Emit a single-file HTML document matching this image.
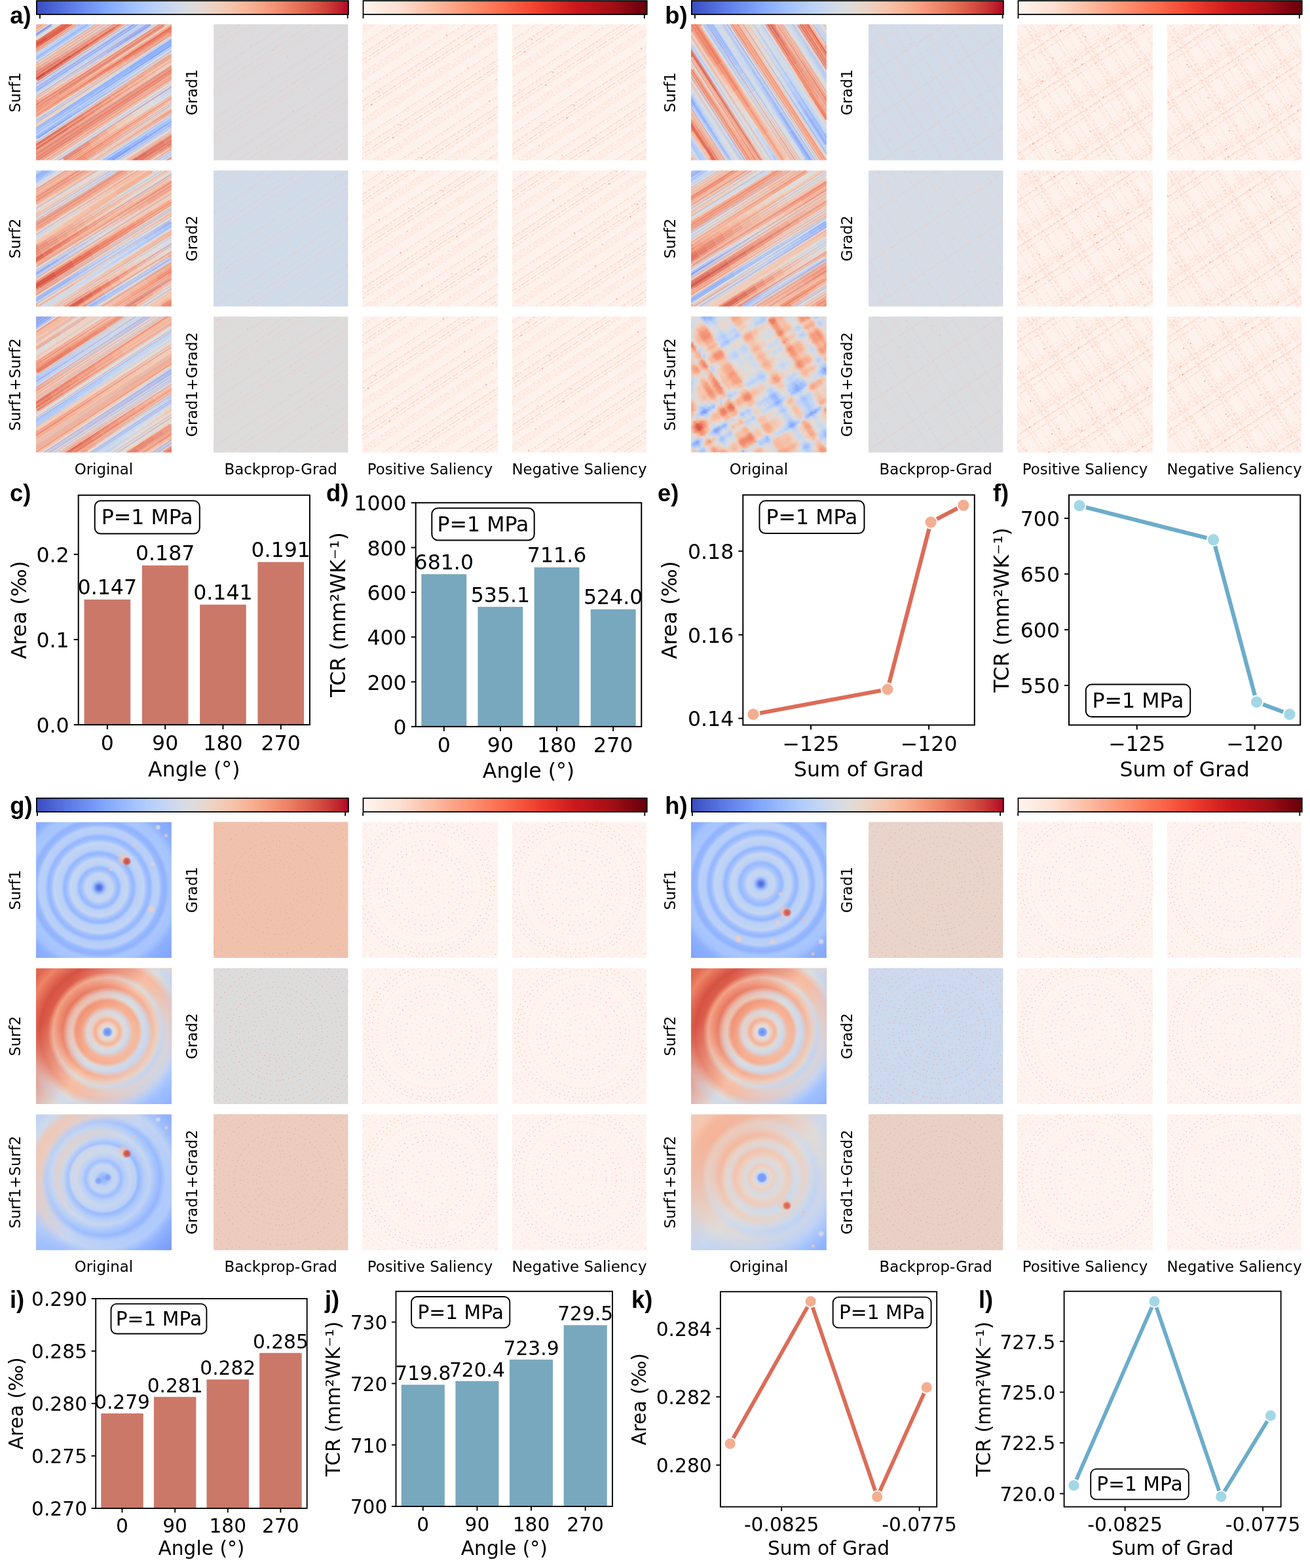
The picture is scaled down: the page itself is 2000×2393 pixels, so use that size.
<!DOCTYPE html>
<html><head><meta charset="utf-8"><title>Figure</title><style>html,body{margin:0;padding:0;background:#fff;}svg{display:block;}</style></head><body>
<svg xmlns="http://www.w3.org/2000/svg" width="2000" height="2393" viewBox="0 0 2000 2393">
<defs><pattern id="pt_la" patternUnits="userSpaceOnUse" width="240.0" height="60.0" patternTransform="rotate(-33.0)"><path d="M0 9.90H240.0" stroke="#fcc4ad" stroke-width="0.82" stroke-dasharray="3.4 1.5 5.0 3.4 3.6 2.4 2.2 0.8 2.9 2.7 1.3 3.3" stroke-dashoffset="4.6"/><path d="M0 13.96H240.0" stroke="#fee5d8" stroke-width="0.72" stroke-dasharray="6.0 3.3 3.0 2.2 5.8 2.5 4.5 2.9 5.7 0.9 4.7 1.1" stroke-dashoffset="16.2"/><path d="M0 1.17H240.0" stroke="#fedccd" stroke-width="0.78" stroke-dasharray="2.7 2.4 1.9 0.9 5.3 1.6 4.9 1.5 5.8 3.7 4.8 3.2" stroke-dashoffset="11.6"/><path d="M0 43.79H240.0" stroke="#fee5d8" stroke-width="0.78" stroke-dasharray="3.8 2.0 2.7 1.3 3.7 1.7 5.8 2.4 2.6 2.4 2.3 3.5" stroke-dashoffset="3.2"/><path d="M0 42.96H240.0" stroke="#fcc4ad" stroke-width="0.50" stroke-dasharray="1.4 2.7 3.6 2.6 2.6 3.9 1.6 2.9 4.1 3.5 2.7 3.2" stroke-dashoffset="18.6"/><path d="M0 14.75H240.0" stroke="#fedccd" stroke-width="0.53" stroke-dasharray="5.1 3.3 2.9 3.0 4.4 3.7 5.8 2.1 5.9 3.9 4.0 3.6" stroke-dashoffset="9.8"/><path d="M0 22.53H240.0" stroke="#fedccd" stroke-width="0.97" stroke-dasharray="2.2 2.6 3.2 2.1 4.7 1.0 2.4 3.5 4.3 0.9 2.2 2.1" stroke-dashoffset="17.4"/><path d="M0 38.73H240.0" stroke="#fedccd" stroke-width="0.99" stroke-dasharray="4.7 2.3 2.3 3.9 3.6 3.1 1.1 1.5 5.2 3.3 5.4 2.7" stroke-dashoffset="8.5"/><path d="M0 34.87H240.0" stroke="#fcc4ad" stroke-width="0.65" stroke-dasharray="3.7 1.7 4.8 0.8 4.4 3.9 1.1 2.7 4.2 3.5 3.9 1.6" stroke-dashoffset="8.1"/><path d="M0 57.52H240.0" stroke="#fedccd" stroke-width="0.57" stroke-dasharray="1.5 1.1 1.1 2.2 1.7 3.6 4.3 1.2 3.7 1.8 3.5 1.5" stroke-dashoffset="3.3"/><path d="M0 11.04H240.0" stroke="#fcc4ad" stroke-width="0.60" stroke-dasharray="4.7 3.2 4.0 2.4 4.7 1.0 5.6 2.0 5.3 2.1 3.8 3.5" stroke-dashoffset="4.7"/><path d="M0 57.84H240.0" stroke="#fcb296" stroke-width="0.66" stroke-dasharray="1.2 2.0 2.5 3.7 2.5 2.4 3.7 3.8 1.5 2.7 3.5 3.2" stroke-dashoffset="19.3"/><path d="M0 18.61H240.0" stroke="#fcb296" stroke-width="0.76" stroke-dasharray="3.8 1.0 5.1 3.9 2.8 1.8 6.0 1.1 1.4 1.0 5.1 3.2" stroke-dashoffset="9.0"/><path d="M0 37.28H240.0" stroke="#fee5d8" stroke-width="0.84" stroke-dasharray="4.5 2.3 3.6 3.6 1.4 0.9 4.3 0.9 2.4 2.7 3.0 2.2" stroke-dashoffset="16.0"/><path d="M0 23.94H240.0" stroke="#fdd0bc" stroke-width="0.74" stroke-dasharray="4.2 3.9 1.4 2.3 3.5 3.1 5.5 3.3 4.1 3.2 4.3 3.5" stroke-dashoffset="14.0"/><path d="M0 40.98H240.0" stroke="#fedccd" stroke-width="0.74" stroke-dasharray="3.5 1.8 2.9 2.5 4.6 3.7 1.8 1.4 5.4 3.1 1.5 1.4" stroke-dashoffset="10.4"/><rect x="147.9" y="22.0" width="1.5" height="1.5" fill="#fb694a"/><rect x="110.3" y="6.3" width="1.5" height="1.5" fill="#fcab8f"/><rect x="167.9" y="12.0" width="1.5" height="1.5" fill="#fc8a6a"/><rect x="88.7" y="34.0" width="1.5" height="1.5" fill="#fcab8f"/><rect x="62.2" y="55.6" width="1.5" height="1.5" fill="#fc8a6a"/></pattern>
<pattern id="pt_lb1" patternUnits="userSpaceOnUse" width="240.0" height="60.0" patternTransform="rotate(-33.0)"><path d="M0 57.49H240.0" stroke="#fedccd" stroke-width="0.62" stroke-dasharray="4.1 2.2 4.5 3.2 5.4 3.3 1.4 1.7 1.2 3.9 1.9 2.6" stroke-dashoffset="14.7"/><path d="M0 25.80H240.0" stroke="#fee5d8" stroke-width="0.79" stroke-dasharray="1.1 1.6 3.1 1.4 1.6 2.5 4.6 3.9 5.8 1.0 2.6 1.9" stroke-dashoffset="3.7"/><path d="M0 23.59H240.0" stroke="#fcb296" stroke-width="0.57" stroke-dasharray="5.1 2.9 1.9 1.0 3.7 0.9 5.6 2.4 3.6 2.1 4.3 3.7" stroke-dashoffset="6.1"/><path d="M0 22.43H240.0" stroke="#fcb296" stroke-width="0.51" stroke-dasharray="3.9 2.6 3.6 3.2 5.5 2.2 1.5 2.2 1.5 3.3 1.3 3.5" stroke-dashoffset="3.9"/><path d="M0 14.32H240.0" stroke="#fee5d8" stroke-width="0.55" stroke-dasharray="5.5 1.3 3.7 1.9 2.6 1.9 2.0 0.9 3.7 3.3 4.2 1.4" stroke-dashoffset="13.9"/><path d="M0 3.13H240.0" stroke="#fcc4ad" stroke-width="0.56" stroke-dasharray="1.7 2.7 1.2 1.2 4.5 1.2 2.4 3.0 5.3 2.3 1.3 3.1" stroke-dashoffset="19.1"/><path d="M0 6.65H240.0" stroke="#fcb296" stroke-width="0.63" stroke-dasharray="1.6 1.4 2.8 1.0 1.5 2.8 4.0 3.0 1.9 1.0 2.0 3.0" stroke-dashoffset="19.9"/><path d="M0 32.07H240.0" stroke="#fcc4ad" stroke-width="0.93" stroke-dasharray="1.9 1.7 1.5 2.3 2.0 1.9 4.7 3.8 5.2 0.9 2.9 3.5" stroke-dashoffset="0.7"/><path d="M0 12.19H240.0" stroke="#fcc4ad" stroke-width="0.82" stroke-dasharray="1.2 3.0 3.1 1.6 5.4 1.2 5.6 3.8 3.8 1.4 5.8 1.8" stroke-dashoffset="0.6"/><path d="M0 9.50H240.0" stroke="#fdd0bc" stroke-width="0.52" stroke-dasharray="3.4 0.9 4.8 0.8 4.2 4.0 5.2 1.5 3.7 1.2 2.7 3.6" stroke-dashoffset="16.4"/><rect x="2.2" y="22.2" width="1.5" height="1.5" fill="#fb694a"/><rect x="25.6" y="49.5" width="1.5" height="1.5" fill="#fb694a"/><rect x="131.5" y="21.2" width="1.5" height="1.5" fill="#fb694a"/></pattern>
<pattern id="pt_lb2" patternUnits="userSpaceOnUse" width="240.0" height="60.0" patternTransform="rotate(57.0)"><path d="M0 55.49H240.0" stroke="#fdd0bc" stroke-width="0.95" stroke-dasharray="1.4 2.7 3.1 2.5 1.7 1.4 3.2 1.5 3.3 0.9 1.4 3.1" stroke-dashoffset="8.4"/><path d="M0 30.76H240.0" stroke="#fcc4ad" stroke-width="0.68" stroke-dasharray="1.3 3.3 3.9 2.9 4.1 3.9 2.8 3.2 2.8 2.6 4.3 1.8" stroke-dashoffset="1.7"/><path d="M0 28.44H240.0" stroke="#fcc4ad" stroke-width="0.80" stroke-dasharray="3.2 2.9 1.9 1.4 2.6 3.4 2.0 1.2 1.5 0.9 2.4 2.6" stroke-dashoffset="16.4"/><path d="M0 19.85H240.0" stroke="#fdd0bc" stroke-width="0.95" stroke-dasharray="3.7 3.7 3.3 1.5 1.7 2.8 1.6 3.3 3.5 1.9 1.7 3.2" stroke-dashoffset="2.0"/><path d="M0 22.98H240.0" stroke="#fcc4ad" stroke-width="0.99" stroke-dasharray="1.3 2.1 1.1 3.4 4.4 3.9 5.0 3.8 3.7 4.0 4.7 1.9" stroke-dashoffset="19.5"/><path d="M0 22.62H240.0" stroke="#fedccd" stroke-width="0.52" stroke-dasharray="2.3 2.6 4.8 2.3 2.5 1.1 3.8 2.9 4.5 2.6 2.2 1.1" stroke-dashoffset="3.3"/><path d="M0 0.71H240.0" stroke="#fdd0bc" stroke-width="0.83" stroke-dasharray="3.1 1.3 4.1 3.4 1.3 3.9 5.5 3.2 3.7 2.2 2.5 3.6" stroke-dashoffset="12.2"/><path d="M0 3.09H240.0" stroke="#fdd0bc" stroke-width="0.55" stroke-dasharray="4.2 1.9 3.8 3.5 2.2 3.8 1.4 2.6 3.7 1.6 3.8 2.3" stroke-dashoffset="9.0"/><path d="M0 43.10H240.0" stroke="#fee5d8" stroke-width="0.67" stroke-dasharray="1.1 3.9 4.7 2.1 5.0 0.9 4.3 3.2 5.8 2.1 2.4 2.7" stroke-dashoffset="19.8"/><path d="M0 43.23H240.0" stroke="#fedccd" stroke-width="0.76" stroke-dasharray="2.5 3.7 1.4 3.6 5.3 2.4 4.9 3.0 4.0 1.7 2.6 1.9" stroke-dashoffset="6.0"/><rect x="228.9" y="20.0" width="1.5" height="1.5" fill="#fc8a6a"/><rect x="10.2" y="51.9" width="1.5" height="1.5" fill="#fb694a"/><rect x="113.9" y="32.4" width="1.5" height="1.5" fill="#fc8a6a"/></pattern>
<pattern id="pt_lga" patternUnits="userSpaceOnUse" width="240.0" height="60.0" patternTransform="rotate(-33.0)"><path d="M0 42.74H240.0" stroke="#efb8a0" stroke-width="0.59" stroke-dasharray="6.0 1.4 4.4 1.1 4.8 1.3 4.5 3.1 4.8 2.2 5.3 4.0" stroke-dashoffset="2.3"/><path d="M0 31.01H240.0" stroke="#f1c3ae" stroke-width="0.87" stroke-dasharray="3.2 1.8 5.8 1.1 4.8 3.5 1.8 1.8 2.5 2.5 2.8 3.7" stroke-dashoffset="18.5"/><path d="M0 18.97H240.0" stroke="#efb8a0" stroke-width="0.53" stroke-dasharray="1.5 2.9 5.0 3.4 6.0 3.6 2.3 3.2 5.6 1.1 3.5 1.3" stroke-dashoffset="2.9"/><path d="M0 28.77H240.0" stroke="#efb8a0" stroke-width="0.80" stroke-dasharray="4.9 2.3 2.3 2.4 2.1 3.3 1.4 1.2 2.6 2.5 2.2 1.5" stroke-dashoffset="6.1"/><path d="M0 3.99H240.0" stroke="#f1c3ae" stroke-width="0.92" stroke-dasharray="2.3 1.4 3.9 2.2 5.4 1.6 2.9 1.0 3.3 1.8 3.2 3.2" stroke-dashoffset="0.7"/><path d="M0 59.35H240.0" stroke="#efb8a0" stroke-width="0.70" stroke-dasharray="2.9 2.4 3.6 3.5 5.2 1.7 2.9 1.3 4.7 1.0 3.9 3.4" stroke-dashoffset="18.2"/><path d="M0 55.49H240.0" stroke="#f3cfbf" stroke-width="0.85" stroke-dasharray="3.1 2.8 5.5 1.7 2.9 3.2 2.6 3.1 3.0 0.9 3.3 1.0" stroke-dashoffset="15.7"/><path d="M0 50.70H240.0" stroke="#efb8a0" stroke-width="0.83" stroke-dasharray="3.9 3.8 1.7 3.4 1.6 1.1 2.2 0.9 5.8 2.4 1.9 1.9" stroke-dashoffset="6.2"/><path d="M0 51.84H240.0" stroke="#f3cfbf" stroke-width="0.57" stroke-dasharray="3.5 1.1 5.0 2.4 4.5 1.6 4.3 2.3 4.2 2.1 5.9 3.5" stroke-dashoffset="16.7"/><rect x="81.4" y="11.2" width="1.5" height="1.5" fill="#ee9f84"/><rect x="43.3" y="25.8" width="1.5" height="1.5" fill="#ee9f84"/><rect x="67.3" y="50.9" width="1.5" height="1.5" fill="#ee9f84"/></pattern>
<pattern id="pt_lgb1" patternUnits="userSpaceOnUse" width="240.0" height="60.0" patternTransform="rotate(-33.0)"><path d="M0 22.62H240.0" stroke="#f3cfbf" stroke-width="0.61" stroke-dasharray="5.4 2.8 1.2 3.8 2.3 1.8 3.1 2.7 1.6 3.0 5.2 2.4" stroke-dashoffset="15.9"/><path d="M0 37.50H240.0" stroke="#f3cfbf" stroke-width="0.77" stroke-dasharray="3.6 2.5 5.4 3.5 4.4 2.7 2.8 1.9 4.4 2.8 1.4 2.1" stroke-dashoffset="1.4"/><path d="M0 38.15H240.0" stroke="#efb8a0" stroke-width="0.94" stroke-dasharray="1.2 1.4 5.1 1.5 3.1 2.6 3.2 2.4 3.5 2.3 1.3 3.4" stroke-dashoffset="5.7"/><path d="M0 2.86H240.0" stroke="#f1c3ae" stroke-width="0.92" stroke-dasharray="2.9 3.9 1.1 3.8 3.1 2.6 5.7 3.5 1.6 1.5 1.9 2.8" stroke-dashoffset="2.7"/><path d="M0 55.50H240.0" stroke="#f1c3ae" stroke-width="0.61" stroke-dasharray="4.2 3.7 4.9 2.5 2.8 2.0 3.5 2.3 3.1 2.0 3.5 3.8" stroke-dashoffset="17.4"/><rect x="62.9" y="18.6" width="1.5" height="1.5" fill="#ee9f84"/><rect x="168.9" y="33.1" width="1.5" height="1.5" fill="#ee9f84"/></pattern>
<pattern id="pt_lgb2" patternUnits="userSpaceOnUse" width="240.0" height="60.0" patternTransform="rotate(57.0)"><path d="M0 44.84H240.0" stroke="#f3cfbf" stroke-width="0.83" stroke-dasharray="3.2 2.5 1.6 3.8 3.4 3.1 4.1 1.3 3.1 1.6 4.7 3.1" stroke-dashoffset="4.0"/><path d="M0 41.55H240.0" stroke="#f3cfbf" stroke-width="0.83" stroke-dasharray="5.3 1.3 2.1 2.3 4.8 2.0 2.2 2.7 1.2 3.2 5.2 2.5" stroke-dashoffset="10.2"/><path d="M0 38.66H240.0" stroke="#f1c3ae" stroke-width="0.80" stroke-dasharray="3.8 3.4 5.3 2.2 5.2 1.4 5.4 1.6 5.7 2.0 3.1 2.5" stroke-dashoffset="1.2"/><path d="M0 4.49H240.0" stroke="#efb8a0" stroke-width="0.77" stroke-dasharray="4.9 1.0 2.1 2.7 6.0 3.7 5.3 1.8 3.0 0.9 3.1 2.3" stroke-dashoffset="1.5"/><path d="M0 21.14H240.0" stroke="#efb8a0" stroke-width="0.62" stroke-dasharray="1.4 1.2 5.8 1.9 5.5 3.2 4.9 3.7 4.5 1.9 3.3 2.0" stroke-dashoffset="0.6"/><rect x="10.5" y="33.2" width="1.5" height="1.5" fill="#ee9f84"/><rect x="231.9" y="36.3" width="1.5" height="1.5" fill="#ee9f84"/></pattern>
<linearGradient id="cb1" x1="0" y1="0" x2="1" y2="0"><stop offset="0.0000" stop-color="#3b4cc0"/><stop offset="0.0312" stop-color="#445acc"/><stop offset="0.0625" stop-color="#4e68d8"/><stop offset="0.0938" stop-color="#5875e1"/><stop offset="0.1250" stop-color="#6282ea"/><stop offset="0.1562" stop-color="#6c8ff1"/><stop offset="0.1875" stop-color="#779af7"/><stop offset="0.2188" stop-color="#82a6fb"/><stop offset="0.2500" stop-color="#8db0fe"/><stop offset="0.2812" stop-color="#98b9ff"/><stop offset="0.3125" stop-color="#a3c2fe"/><stop offset="0.3438" stop-color="#aec9fc"/><stop offset="0.3750" stop-color="#b9d0f9"/><stop offset="0.4062" stop-color="#c3d5f4"/><stop offset="0.4375" stop-color="#ccd9ed"/><stop offset="0.4688" stop-color="#d5dbe5"/><stop offset="0.5000" stop-color="#dddcdc"/><stop offset="0.5312" stop-color="#e5d8d1"/><stop offset="0.5625" stop-color="#ecd3c5"/><stop offset="0.5938" stop-color="#f1ccb8"/><stop offset="0.6250" stop-color="#f5c4ac"/><stop offset="0.6562" stop-color="#f7ba9f"/><stop offset="0.6875" stop-color="#f7b093"/><stop offset="0.7188" stop-color="#f6a586"/><stop offset="0.7500" stop-color="#f4987a"/><stop offset="0.7812" stop-color="#f08b6e"/><stop offset="0.8125" stop-color="#eb7d62"/><stop offset="0.8438" stop-color="#e46e56"/><stop offset="0.8750" stop-color="#dd5f4b"/><stop offset="0.9062" stop-color="#d44e41"/><stop offset="0.9375" stop-color="#ca3b37"/><stop offset="0.9688" stop-color="#be242e"/><stop offset="1.0000" stop-color="#b40426"/></linearGradient>
<linearGradient id="cb2" x1="0" y1="0" x2="1" y2="0"><stop offset="0.0000" stop-color="#fff5f0"/><stop offset="0.0312" stop-color="#fff0e8"/><stop offset="0.0625" stop-color="#feeae1"/><stop offset="0.0938" stop-color="#fee5d9"/><stop offset="0.1250" stop-color="#fee0d2"/><stop offset="0.1562" stop-color="#fdd7c6"/><stop offset="0.1875" stop-color="#fdcdb9"/><stop offset="0.2188" stop-color="#fcc4ad"/><stop offset="0.2500" stop-color="#fcbba1"/><stop offset="0.2812" stop-color="#fcb095"/><stop offset="0.3125" stop-color="#fca689"/><stop offset="0.3438" stop-color="#fc9c7d"/><stop offset="0.3750" stop-color="#fc9272"/><stop offset="0.4062" stop-color="#fc8767"/><stop offset="0.4375" stop-color="#fb7d5d"/><stop offset="0.4688" stop-color="#fb7353"/><stop offset="0.5000" stop-color="#fb694a"/><stop offset="0.5312" stop-color="#f85d42"/><stop offset="0.5625" stop-color="#f5523a"/><stop offset="0.5938" stop-color="#f24633"/><stop offset="0.6250" stop-color="#ee3a2c"/><stop offset="0.6562" stop-color="#e53228"/><stop offset="0.6875" stop-color="#dc2924"/><stop offset="0.7188" stop-color="#d32020"/><stop offset="0.7500" stop-color="#ca181d"/><stop offset="0.7812" stop-color="#c1161b"/><stop offset="0.8125" stop-color="#b71319"/><stop offset="0.8438" stop-color="#ad1117"/><stop offset="0.8750" stop-color="#a30f15"/><stop offset="0.9062" stop-color="#940b13"/><stop offset="0.9375" stop-color="#840711"/><stop offset="0.9688" stop-color="#75030f"/><stop offset="1.0000" stop-color="#67000d"/></linearGradient>
<clipPath id="cp3"><rect x="55.00" y="37.10" width="207.50" height="207.50"/></clipPath>
<filter id="bl4" x="-5%" y="-5%" width="110%" height="110%"><feGaussianBlur stdDeviation="0.70"/></filter>
<pattern id="pt_sa1" patternUnits="userSpaceOnUse" width="400" height="90.0" patternTransform="rotate(-33.0)"><rect x="0" y="0.00" width="400" height="0.77" fill="#b40426" opacity="0.15"/><rect x="0" y="3.79" width="400" height="0.75" fill="#b40426" opacity="0.29"/><rect x="0" y="6.41" width="400" height="1.56" fill="#3b4cc0" opacity="0.22"/><rect x="0" y="10.48" width="400" height="1.14" fill="#dcdcdc" opacity="0.70"/><rect x="0" y="13.51" width="400" height="1.58" fill="#3b4cc0" opacity="0.13"/><rect x="0" y="16.59" width="400" height="1.03" fill="#3b4cc0" opacity="0.15"/><rect x="0" y="20.08" width="400" height="0.90" fill="#3b4cc0" opacity="0.29"/><rect x="0" y="23.84" width="400" height="0.71" fill="#3b4cc0" opacity="0.20"/><rect x="0" y="27.61" width="400" height="1.02" fill="#3b4cc0" opacity="0.30"/><rect x="0" y="31.66" width="400" height="1.41" fill="#3b4cc0" opacity="0.23"/><rect x="0" y="34.34" width="400" height="1.58" fill="#b40426" opacity="0.12"/><rect x="0" y="37.89" width="400" height="0.96" fill="#dcdcdc" opacity="0.69"/><rect x="0" y="39.95" width="400" height="1.49" fill="#b40426" opacity="0.15"/><rect x="0" y="43.22" width="400" height="1.00" fill="#dcdcdc" opacity="0.62"/><rect x="0" y="46.77" width="400" height="1.58" fill="#3b4cc0" opacity="0.26"/><rect x="0" y="51.84" width="400" height="1.53" fill="#b40426" opacity="0.22"/><rect x="0" y="55.58" width="400" height="1.40" fill="#3b4cc0" opacity="0.27"/><rect x="0" y="60.04" width="400" height="0.53" fill="#b40426" opacity="0.14"/><rect x="0" y="62.95" width="400" height="1.14" fill="#b40426" opacity="0.27"/><rect x="0" y="65.50" width="400" height="1.30" fill="#b40426" opacity="0.16"/><rect x="0" y="70.24" width="400" height="0.56" fill="#b40426" opacity="0.22"/><rect x="0" y="73.21" width="400" height="1.58" fill="#b40426" opacity="0.28"/><rect x="0" y="76.38" width="400" height="1.03" fill="#dcdcdc" opacity="0.57"/><rect x="0" y="79.35" width="400" height="1.36" fill="#dcdcdc" opacity="0.51"/><rect x="0" y="84.10" width="400" height="0.51" fill="#b40426" opacity="0.24"/><rect x="0" y="87.38" width="400" height="1.11" fill="#b40426" opacity="0.29"/></pattern>
<clipPath id="cp5"><rect x="55.00" y="260.20" width="207.50" height="207.50"/></clipPath>
<filter id="bl6" x="-5%" y="-5%" width="110%" height="110%"><feGaussianBlur stdDeviation="0.70"/></filter>
<pattern id="pt_sa2" patternUnits="userSpaceOnUse" width="400" height="90.0" patternTransform="rotate(-32.0)"><rect x="0" y="0.00" width="400" height="1.58" fill="#dcdcdc" opacity="0.60"/><rect x="0" y="3.68" width="400" height="1.54" fill="#b40426" opacity="0.29"/><rect x="0" y="6.45" width="400" height="1.59" fill="#b40426" opacity="0.15"/><rect x="0" y="9.78" width="400" height="1.19" fill="#dcdcdc" opacity="0.49"/><rect x="0" y="11.80" width="400" height="0.58" fill="#dcdcdc" opacity="0.43"/><rect x="0" y="13.92" width="400" height="1.36" fill="#b40426" opacity="0.27"/><rect x="0" y="18.50" width="400" height="1.48" fill="#3b4cc0" opacity="0.22"/><rect x="0" y="22.60" width="400" height="1.47" fill="#b40426" opacity="0.15"/><rect x="0" y="26.27" width="400" height="1.08" fill="#dcdcdc" opacity="0.38"/><rect x="0" y="28.65" width="400" height="1.27" fill="#3b4cc0" opacity="0.24"/><rect x="0" y="31.87" width="400" height="0.53" fill="#dcdcdc" opacity="0.58"/><rect x="0" y="34.63" width="400" height="1.00" fill="#dcdcdc" opacity="0.39"/><rect x="0" y="36.92" width="400" height="0.64" fill="#b40426" opacity="0.18"/><rect x="0" y="39.86" width="400" height="0.97" fill="#b40426" opacity="0.25"/><rect x="0" y="43.74" width="400" height="0.66" fill="#3b4cc0" opacity="0.27"/><rect x="0" y="47.42" width="400" height="1.00" fill="#3b4cc0" opacity="0.27"/><rect x="0" y="49.86" width="400" height="1.26" fill="#3b4cc0" opacity="0.26"/><rect x="0" y="54.35" width="400" height="1.08" fill="#b40426" opacity="0.13"/><rect x="0" y="58.02" width="400" height="0.66" fill="#3b4cc0" opacity="0.28"/><rect x="0" y="60.49" width="400" height="0.58" fill="#dcdcdc" opacity="0.53"/><rect x="0" y="62.28" width="400" height="1.31" fill="#b40426" opacity="0.21"/><rect x="0" y="66.21" width="400" height="0.67" fill="#b40426" opacity="0.13"/><rect x="0" y="69.15" width="400" height="1.37" fill="#dcdcdc" opacity="0.59"/><rect x="0" y="74.01" width="400" height="0.86" fill="#dcdcdc" opacity="0.44"/><rect x="0" y="77.92" width="400" height="0.59" fill="#3b4cc0" opacity="0.17"/><rect x="0" y="81.35" width="400" height="1.48" fill="#3b4cc0" opacity="0.15"/><rect x="0" y="85.10" width="400" height="0.85" fill="#3b4cc0" opacity="0.17"/><rect x="0" y="87.21" width="400" height="0.95" fill="#dcdcdc" opacity="0.43"/></pattern>
<clipPath id="cp7"><rect x="55.00" y="483.10" width="207.50" height="207.50"/></clipPath>
<filter id="bl8" x="-5%" y="-5%" width="110%" height="110%"><feGaussianBlur stdDeviation="0.70"/></filter>
<pattern id="pt_sa12" patternUnits="userSpaceOnUse" width="400" height="90.0" patternTransform="rotate(-33.0)"><rect x="0" y="0.00" width="400" height="1.18" fill="#3b4cc0" opacity="0.20"/><rect x="0" y="3.90" width="400" height="1.53" fill="#b40426" opacity="0.25"/><rect x="0" y="8.20" width="400" height="1.44" fill="#dcdcdc" opacity="0.41"/><rect x="0" y="13.13" width="400" height="1.32" fill="#dcdcdc" opacity="0.61"/><rect x="0" y="15.71" width="400" height="0.90" fill="#b40426" opacity="0.16"/><rect x="0" y="17.78" width="400" height="1.06" fill="#b40426" opacity="0.18"/><rect x="0" y="21.42" width="400" height="1.58" fill="#dcdcdc" opacity="0.45"/><rect x="0" y="24.05" width="400" height="1.25" fill="#b40426" opacity="0.20"/><rect x="0" y="26.76" width="400" height="1.35" fill="#3b4cc0" opacity="0.20"/><rect x="0" y="31.14" width="400" height="0.75" fill="#dcdcdc" opacity="0.69"/><rect x="0" y="33.31" width="400" height="0.66" fill="#dcdcdc" opacity="0.59"/><rect x="0" y="36.98" width="400" height="0.56" fill="#b40426" opacity="0.19"/><rect x="0" y="39.23" width="400" height="0.76" fill="#dcdcdc" opacity="0.40"/><rect x="0" y="43.27" width="400" height="0.72" fill="#b40426" opacity="0.24"/><rect x="0" y="46.57" width="400" height="1.02" fill="#b40426" opacity="0.29"/><rect x="0" y="48.86" width="400" height="0.72" fill="#dcdcdc" opacity="0.61"/><rect x="0" y="51.52" width="400" height="0.93" fill="#dcdcdc" opacity="0.39"/><rect x="0" y="55.01" width="400" height="0.75" fill="#b40426" opacity="0.16"/><rect x="0" y="57.40" width="400" height="0.71" fill="#3b4cc0" opacity="0.23"/><rect x="0" y="60.23" width="400" height="0.75" fill="#3b4cc0" opacity="0.22"/><rect x="0" y="62.14" width="400" height="0.70" fill="#3b4cc0" opacity="0.18"/><rect x="0" y="64.75" width="400" height="0.61" fill="#3b4cc0" opacity="0.16"/><rect x="0" y="67.68" width="400" height="1.30" fill="#b40426" opacity="0.19"/><rect x="0" y="70.47" width="400" height="1.26" fill="#dcdcdc" opacity="0.57"/><rect x="0" y="75.12" width="400" height="1.52" fill="#b40426" opacity="0.23"/><rect x="0" y="77.86" width="400" height="1.39" fill="#3b4cc0" opacity="0.18"/><rect x="0" y="80.23" width="400" height="1.09" fill="#b40426" opacity="0.27"/><rect x="0" y="84.15" width="400" height="0.97" fill="#b40426" opacity="0.21"/><rect x="0" y="87.71" width="400" height="1.20" fill="#b40426" opacity="0.16"/></pattern>
<linearGradient id="cb9" x1="0" y1="0" x2="1" y2="0"><stop offset="0.0000" stop-color="#3b4cc0"/><stop offset="0.0312" stop-color="#445acc"/><stop offset="0.0625" stop-color="#4e68d8"/><stop offset="0.0938" stop-color="#5875e1"/><stop offset="0.1250" stop-color="#6282ea"/><stop offset="0.1562" stop-color="#6c8ff1"/><stop offset="0.1875" stop-color="#779af7"/><stop offset="0.2188" stop-color="#82a6fb"/><stop offset="0.2500" stop-color="#8db0fe"/><stop offset="0.2812" stop-color="#98b9ff"/><stop offset="0.3125" stop-color="#a3c2fe"/><stop offset="0.3438" stop-color="#aec9fc"/><stop offset="0.3750" stop-color="#b9d0f9"/><stop offset="0.4062" stop-color="#c3d5f4"/><stop offset="0.4375" stop-color="#ccd9ed"/><stop offset="0.4688" stop-color="#d5dbe5"/><stop offset="0.5000" stop-color="#dddcdc"/><stop offset="0.5312" stop-color="#e5d8d1"/><stop offset="0.5625" stop-color="#ecd3c5"/><stop offset="0.5938" stop-color="#f1ccb8"/><stop offset="0.6250" stop-color="#f5c4ac"/><stop offset="0.6562" stop-color="#f7ba9f"/><stop offset="0.6875" stop-color="#f7b093"/><stop offset="0.7188" stop-color="#f6a586"/><stop offset="0.7500" stop-color="#f4987a"/><stop offset="0.7812" stop-color="#f08b6e"/><stop offset="0.8125" stop-color="#eb7d62"/><stop offset="0.8438" stop-color="#e46e56"/><stop offset="0.8750" stop-color="#dd5f4b"/><stop offset="0.9062" stop-color="#d44e41"/><stop offset="0.9375" stop-color="#ca3b37"/><stop offset="0.9688" stop-color="#be242e"/><stop offset="1.0000" stop-color="#b40426"/></linearGradient>
<linearGradient id="cb10" x1="0" y1="0" x2="1" y2="0"><stop offset="0.0000" stop-color="#fff5f0"/><stop offset="0.0312" stop-color="#fff0e8"/><stop offset="0.0625" stop-color="#feeae1"/><stop offset="0.0938" stop-color="#fee5d9"/><stop offset="0.1250" stop-color="#fee0d2"/><stop offset="0.1562" stop-color="#fdd7c6"/><stop offset="0.1875" stop-color="#fdcdb9"/><stop offset="0.2188" stop-color="#fcc4ad"/><stop offset="0.2500" stop-color="#fcbba1"/><stop offset="0.2812" stop-color="#fcb095"/><stop offset="0.3125" stop-color="#fca689"/><stop offset="0.3438" stop-color="#fc9c7d"/><stop offset="0.3750" stop-color="#fc9272"/><stop offset="0.4062" stop-color="#fc8767"/><stop offset="0.4375" stop-color="#fb7d5d"/><stop offset="0.4688" stop-color="#fb7353"/><stop offset="0.5000" stop-color="#fb694a"/><stop offset="0.5312" stop-color="#f85d42"/><stop offset="0.5625" stop-color="#f5523a"/><stop offset="0.5938" stop-color="#f24633"/><stop offset="0.6250" stop-color="#ee3a2c"/><stop offset="0.6562" stop-color="#e53228"/><stop offset="0.6875" stop-color="#dc2924"/><stop offset="0.7188" stop-color="#d32020"/><stop offset="0.7500" stop-color="#ca181d"/><stop offset="0.7812" stop-color="#c1161b"/><stop offset="0.8125" stop-color="#b71319"/><stop offset="0.8438" stop-color="#ad1117"/><stop offset="0.8750" stop-color="#a30f15"/><stop offset="0.9062" stop-color="#940b13"/><stop offset="0.9375" stop-color="#840711"/><stop offset="0.9688" stop-color="#75030f"/><stop offset="1.0000" stop-color="#67000d"/></linearGradient>
<clipPath id="cp11"><rect x="1055.00" y="37.10" width="207.50" height="207.50"/></clipPath>
<filter id="bl12" x="-5%" y="-5%" width="110%" height="110%"><feGaussianBlur stdDeviation="0.70"/></filter>
<pattern id="pt_sb1" patternUnits="userSpaceOnUse" width="400" height="90.0" patternTransform="rotate(57.0)"><rect x="0" y="0.00" width="400" height="1.51" fill="#dcdcdc" opacity="0.54"/><rect x="0" y="3.61" width="400" height="1.55" fill="#dcdcdc" opacity="0.51"/><rect x="0" y="7.52" width="400" height="0.92" fill="#3b4cc0" opacity="0.28"/><rect x="0" y="11.20" width="400" height="0.56" fill="#3b4cc0" opacity="0.22"/><rect x="0" y="14.17" width="400" height="1.10" fill="#b40426" opacity="0.29"/><rect x="0" y="16.81" width="400" height="0.66" fill="#3b4cc0" opacity="0.17"/><rect x="0" y="19.01" width="400" height="0.98" fill="#3b4cc0" opacity="0.19"/><rect x="0" y="20.83" width="400" height="0.79" fill="#dcdcdc" opacity="0.36"/><rect x="0" y="24.83" width="400" height="1.31" fill="#dcdcdc" opacity="0.43"/><rect x="0" y="29.59" width="400" height="1.27" fill="#b40426" opacity="0.22"/><rect x="0" y="34.31" width="400" height="0.76" fill="#b40426" opacity="0.12"/><rect x="0" y="37.18" width="400" height="0.76" fill="#dcdcdc" opacity="0.49"/><rect x="0" y="39.89" width="400" height="1.48" fill="#dcdcdc" opacity="0.36"/><rect x="0" y="44.44" width="400" height="1.52" fill="#3b4cc0" opacity="0.17"/><rect x="0" y="47.71" width="400" height="1.34" fill="#dcdcdc" opacity="0.37"/><rect x="0" y="51.22" width="400" height="0.75" fill="#b40426" opacity="0.15"/><rect x="0" y="55.37" width="400" height="1.05" fill="#dcdcdc" opacity="0.46"/><rect x="0" y="57.96" width="400" height="1.36" fill="#3b4cc0" opacity="0.26"/><rect x="0" y="62.63" width="400" height="1.17" fill="#dcdcdc" opacity="0.50"/><rect x="0" y="64.95" width="400" height="0.90" fill="#b40426" opacity="0.28"/><rect x="0" y="68.22" width="400" height="0.61" fill="#b40426" opacity="0.18"/><rect x="0" y="71.80" width="400" height="1.42" fill="#b40426" opacity="0.24"/><rect x="0" y="75.15" width="400" height="0.81" fill="#3b4cc0" opacity="0.26"/><rect x="0" y="78.27" width="400" height="1.52" fill="#3b4cc0" opacity="0.25"/><rect x="0" y="80.87" width="400" height="1.56" fill="#dcdcdc" opacity="0.42"/><rect x="0" y="83.56" width="400" height="0.70" fill="#b40426" opacity="0.22"/><rect x="0" y="85.40" width="400" height="0.72" fill="#3b4cc0" opacity="0.18"/><rect x="0" y="87.51" width="400" height="1.38" fill="#dcdcdc" opacity="0.38"/></pattern>
<clipPath id="cp13"><rect x="1055.00" y="260.20" width="207.50" height="207.50"/></clipPath>
<filter id="bl14" x="-5%" y="-5%" width="110%" height="110%"><feGaussianBlur stdDeviation="0.70"/></filter>
<clipPath id="cp15"><rect x="1055.00" y="483.10" width="207.50" height="207.50"/></clipPath>
<filter id="bl16" x="-5%" y="-5%" width="110%" height="110%"><feGaussianBlur stdDeviation="1.20"/></filter>
<linearGradient id="cb17" x1="0" y1="0" x2="1" y2="0"><stop offset="0.0000" stop-color="#3b4cc0"/><stop offset="0.0312" stop-color="#445acc"/><stop offset="0.0625" stop-color="#4e68d8"/><stop offset="0.0938" stop-color="#5875e1"/><stop offset="0.1250" stop-color="#6282ea"/><stop offset="0.1562" stop-color="#6c8ff1"/><stop offset="0.1875" stop-color="#779af7"/><stop offset="0.2188" stop-color="#82a6fb"/><stop offset="0.2500" stop-color="#8db0fe"/><stop offset="0.2812" stop-color="#98b9ff"/><stop offset="0.3125" stop-color="#a3c2fe"/><stop offset="0.3438" stop-color="#aec9fc"/><stop offset="0.3750" stop-color="#b9d0f9"/><stop offset="0.4062" stop-color="#c3d5f4"/><stop offset="0.4375" stop-color="#ccd9ed"/><stop offset="0.4688" stop-color="#d5dbe5"/><stop offset="0.5000" stop-color="#dddcdc"/><stop offset="0.5312" stop-color="#e5d8d1"/><stop offset="0.5625" stop-color="#ecd3c5"/><stop offset="0.5938" stop-color="#f1ccb8"/><stop offset="0.6250" stop-color="#f5c4ac"/><stop offset="0.6562" stop-color="#f7ba9f"/><stop offset="0.6875" stop-color="#f7b093"/><stop offset="0.7188" stop-color="#f6a586"/><stop offset="0.7500" stop-color="#f4987a"/><stop offset="0.7812" stop-color="#f08b6e"/><stop offset="0.8125" stop-color="#eb7d62"/><stop offset="0.8438" stop-color="#e46e56"/><stop offset="0.8750" stop-color="#dd5f4b"/><stop offset="0.9062" stop-color="#d44e41"/><stop offset="0.9375" stop-color="#ca3b37"/><stop offset="0.9688" stop-color="#be242e"/><stop offset="1.0000" stop-color="#b40426"/></linearGradient>
<linearGradient id="cb18" x1="0" y1="0" x2="1" y2="0"><stop offset="0.0000" stop-color="#fff5f0"/><stop offset="0.0312" stop-color="#fff0e8"/><stop offset="0.0625" stop-color="#feeae1"/><stop offset="0.0938" stop-color="#fee5d9"/><stop offset="0.1250" stop-color="#fee0d2"/><stop offset="0.1562" stop-color="#fdd7c6"/><stop offset="0.1875" stop-color="#fdcdb9"/><stop offset="0.2188" stop-color="#fcc4ad"/><stop offset="0.2500" stop-color="#fcbba1"/><stop offset="0.2812" stop-color="#fcb095"/><stop offset="0.3125" stop-color="#fca689"/><stop offset="0.3438" stop-color="#fc9c7d"/><stop offset="0.3750" stop-color="#fc9272"/><stop offset="0.4062" stop-color="#fc8767"/><stop offset="0.4375" stop-color="#fb7d5d"/><stop offset="0.4688" stop-color="#fb7353"/><stop offset="0.5000" stop-color="#fb694a"/><stop offset="0.5312" stop-color="#f85d42"/><stop offset="0.5625" stop-color="#f5523a"/><stop offset="0.5938" stop-color="#f24633"/><stop offset="0.6250" stop-color="#ee3a2c"/><stop offset="0.6562" stop-color="#e53228"/><stop offset="0.6875" stop-color="#dc2924"/><stop offset="0.7188" stop-color="#d32020"/><stop offset="0.7500" stop-color="#ca181d"/><stop offset="0.7812" stop-color="#c1161b"/><stop offset="0.8125" stop-color="#b71319"/><stop offset="0.8438" stop-color="#ad1117"/><stop offset="0.8750" stop-color="#a30f15"/><stop offset="0.9062" stop-color="#940b13"/><stop offset="0.9375" stop-color="#840711"/><stop offset="0.9688" stop-color="#75030f"/><stop offset="1.0000" stop-color="#67000d"/></linearGradient>
<clipPath id="cp19"><rect x="55.00" y="1254.40" width="207.50" height="207.50"/></clipPath>
<radialGradient id="rg20" gradientUnits="userSpaceOnUse" cx="151.49" cy="1354.62" r="161.85"><stop offset="0.0000" stop-color="#4c66d6"/><stop offset="0.0256" stop-color="#5f7fe8"/><stop offset="0.0513" stop-color="#97b8ff"/><stop offset="0.0769" stop-color="#c0d4f5"/><stop offset="0.1282" stop-color="#c6d6f1"/><stop offset="0.1603" stop-color="#a5c3fe"/><stop offset="0.1859" stop-color="#97b8ff"/><stop offset="0.2179" stop-color="#bcd2f7"/><stop offset="0.2692" stop-color="#c6d6f1"/><stop offset="0.3013" stop-color="#a2c1ff"/><stop offset="0.3269" stop-color="#94b6ff"/><stop offset="0.3590" stop-color="#bad0f8"/><stop offset="0.4231" stop-color="#c3d5f4"/><stop offset="0.4551" stop-color="#9ebeff"/><stop offset="0.4808" stop-color="#94b6ff"/><stop offset="0.5128" stop-color="#b6cefa"/><stop offset="0.5641" stop-color="#bad0f8"/><stop offset="0.5962" stop-color="#97b8ff"/><stop offset="0.6282" stop-color="#90b2fe"/><stop offset="0.6667" stop-color="#a9c6fd"/><stop offset="0.7308" stop-color="#a5c3fe"/><stop offset="0.7949" stop-color="#8db0fe"/><stop offset="1.0000" stop-color="#7b9ff9"/></radialGradient>
<radialGradient id="sp21"><stop offset="0" stop-color="#f4c6af" stop-opacity="0.80"/><stop offset="0.55" stop-color="#f4c6af" stop-opacity="0.64"/><stop offset="1" stop-color="#f4c6af" stop-opacity="0"/></radialGradient>
<radialGradient id="sp22"><stop offset="0" stop-color="#d0473d" stop-opacity="1.00"/><stop offset="0.55" stop-color="#d0473d" stop-opacity="0.80"/><stop offset="1" stop-color="#d0473d" stop-opacity="0"/></radialGradient>
<radialGradient id="sp23"><stop offset="0" stop-color="#f4c6af" stop-opacity="0.90"/><stop offset="0.55" stop-color="#f4c6af" stop-opacity="0.72"/><stop offset="1" stop-color="#f4c6af" stop-opacity="0"/></radialGradient>
<radialGradient id="sp24"><stop offset="0" stop-color="#dddcdc" stop-opacity="0.90"/><stop offset="0.55" stop-color="#dddcdc" stop-opacity="0.72"/><stop offset="1" stop-color="#dddcdc" stop-opacity="0"/></radialGradient>
<radialGradient id="sp25"><stop offset="0" stop-color="#f4c6af" stop-opacity="0.90"/><stop offset="0.55" stop-color="#f4c6af" stop-opacity="0.72"/><stop offset="1" stop-color="#f4c6af" stop-opacity="0"/></radialGradient>
<radialGradient id="sp26"><stop offset="0" stop-color="#efcfbf" stop-opacity="0.90"/><stop offset="0.55" stop-color="#efcfbf" stop-opacity="0.72"/><stop offset="1" stop-color="#efcfbf" stop-opacity="0"/></radialGradient>
<radialGradient id="sp27"><stop offset="0" stop-color="#ebd3c6" stop-opacity="0.80"/><stop offset="0.55" stop-color="#ebd3c6" stop-opacity="0.64"/><stop offset="1" stop-color="#ebd3c6" stop-opacity="0"/></radialGradient>
<radialGradient id="sp28"><stop offset="0" stop-color="#f2cbb7" stop-opacity="0.70"/><stop offset="0.55" stop-color="#f2cbb7" stop-opacity="0.56"/><stop offset="1" stop-color="#f2cbb7" stop-opacity="0"/></radialGradient>
<g id="rings_21187" fill="none" opacity="0.85"><circle r="7.3" stroke="#efac92" stroke-width="1.2" stroke-dasharray="1.3 8.3 0.9 3.3 1.8 6.7"/><circle r="12.4" stroke="#f2bba5" stroke-width="1.1" stroke-dasharray="0.8 3.4 1.0 8.1 1.3 4.4"/><circle r="17.4" stroke="#eea083" stroke-width="1.0" stroke-dasharray="1.1 4.4 1.2 7.2 1.0 8.1"/><circle r="24.9" stroke="#efac92" stroke-width="0.8" stroke-dasharray="1.8 8.9 1.2 4.4 1.6 9.9"/><circle r="32.7" stroke="#eea083" stroke-width="0.9" stroke-dasharray="1.5 4.5 1.6 8.1 1.0 7.5"/><circle r="37.4" stroke="#eea083" stroke-width="1.2" stroke-dasharray="1.1 7.0 1.3 7.6 1.1 4.5"/><circle r="42.3" stroke="#eea083" stroke-width="0.8" stroke-dasharray="1.7 6.9 1.7 8.9 1.1 4.2"/><circle r="50.4" stroke="#eea083" stroke-width="0.9" stroke-dasharray="1.5 3.7 1.2 9.4 1.4 9.9"/><circle r="56.9" stroke="#eea083" stroke-width="0.9" stroke-dasharray="1.2 8.5 1.4 3.8 0.9 9.9"/><circle r="62.3" stroke="#eea083" stroke-width="1.2" stroke-dasharray="1.0 9.9 1.0 3.4 1.4 6.6"/><circle r="71.2" stroke="#eea083" stroke-width="1.3" stroke-dasharray="1.4 3.3 0.9 4.0 1.5 7.9"/><circle r="79.2" stroke="#eea083" stroke-width="1.0" stroke-dasharray="1.3 8.5 1.3 4.7 0.9 7.1"/><circle r="88.2" stroke="#efac92" stroke-width="1.2" stroke-dasharray="0.9 9.1 0.8 7.3 1.0 4.4"/><circle r="94.0" stroke="#efac92" stroke-width="0.9" stroke-dasharray="1.4 6.9 1.3 8.0 1.3 4.6"/><circle r="101.3" stroke="#eea083" stroke-width="1.3" stroke-dasharray="1.5 6.3 0.9 3.9 1.6 8.2"/><circle r="108.9" stroke="#f2bba5" stroke-width="1.2" stroke-dasharray="1.6 3.3 1.5 8.1 1.0 4.7"/><circle r="114.3" stroke="#f2bba5" stroke-width="1.0" stroke-dasharray="1.1 7.1 1.7 4.9 1.7 3.3"/><circle r="122.5" stroke="#eea083" stroke-width="1.0" stroke-dasharray="1.1 4.4 1.6 5.5 1.2 8.7"/><circle r="127.9" stroke="#efac92" stroke-width="1.2" stroke-dasharray="1.1 5.1 1.8 3.8 1.0 9.8"/><circle r="135.5" stroke="#eea083" stroke-width="1.2" stroke-dasharray="1.3 7.6 1.5 5.9 0.9 4.1"/><circle r="143.8" stroke="#efac92" stroke-width="1.2" stroke-dasharray="1.1 4.9 1.1 9.2 1.0 5.2"/><circle r="152.6" stroke="#efac92" stroke-width="0.9" stroke-dasharray="1.4 8.9 1.3 5.2 0.9 7.0"/><circle r="158.8" stroke="#f2bba5" stroke-width="1.0" stroke-dasharray="1.3 5.1 1.3 9.6 1.1 8.5"/><circle r="164.3" stroke="#efac92" stroke-width="1.0" stroke-dasharray="1.6 3.3 1.4 9.7 1.0 8.9"/></g>
<clipPath id="cp29"><rect x="326.05" y="1254.40" width="207.50" height="207.50"/></clipPath>
<g id="rings_6725" fill="none" opacity="0.85"><circle r="7.3" stroke="#fcbba1" stroke-width="1.0" stroke-dasharray="1.4 8.9 1.7 9.2 1.2 9.6"/><circle r="13.1" stroke="#fee1d4" stroke-width="1.1" stroke-dasharray="1.4 8.8 0.9 5.4 0.8 4.1"/><circle r="21.2" stroke="#fcbba1" stroke-width="1.1" stroke-dasharray="1.1 6.9 1.6 8.6 1.7 7.1"/><circle r="27.1" stroke="#fcbba1" stroke-width="0.9" stroke-dasharray="1.0 6.2 1.0 3.9 1.5 6.8"/><circle r="34.6" stroke="#fee1d4" stroke-width="1.3" stroke-dasharray="1.4 8.2 1.6 5.0 0.9 5.0"/><circle r="42.7" stroke="#fca588" stroke-width="1.0" stroke-dasharray="1.6 9.3 1.3 9.4 1.3 8.8"/><circle r="51.1" stroke="#fcbba1" stroke-width="0.9" stroke-dasharray="0.9 4.9 1.0 5.1 0.9 5.1"/><circle r="58.0" stroke="#fca588" stroke-width="1.0" stroke-dasharray="1.7 5.9 1.6 8.3 1.7 8.1"/><circle r="65.8" stroke="#fca588" stroke-width="1.0" stroke-dasharray="0.9 8.1 1.1 5.2 1.6 8.2"/><circle r="71.9" stroke="#fcbba1" stroke-width="0.9" stroke-dasharray="0.8 8.0 1.4 6.6 1.6 4.1"/><circle r="77.6" stroke="#fee1d4" stroke-width="0.9" stroke-dasharray="1.7 6.8 1.6 4.8 1.5 10.0"/><circle r="86.3" stroke="#fcbba1" stroke-width="0.9" stroke-dasharray="1.5 5.6 1.7 3.8 1.1 4.2"/><circle r="94.2" stroke="#fca588" stroke-width="1.0" stroke-dasharray="1.5 9.0 1.5 9.0 1.4 6.8"/><circle r="100.5" stroke="#fca588" stroke-width="1.2" stroke-dasharray="1.4 7.4 1.0 3.5 1.2 6.6"/><circle r="105.7" stroke="#fca588" stroke-width="1.1" stroke-dasharray="1.3 5.9 1.4 7.9 1.2 4.9"/><circle r="113.6" stroke="#fdd0bc" stroke-width="1.0" stroke-dasharray="1.0 6.6 1.1 3.8 0.8 3.8"/><circle r="120.4" stroke="#fcbba1" stroke-width="1.1" stroke-dasharray="1.0 9.5 1.2 3.8 1.1 8.9"/><circle r="128.3" stroke="#fcbba1" stroke-width="0.8" stroke-dasharray="1.5 3.2 1.1 4.2 1.3 3.3"/><circle r="133.2" stroke="#fca588" stroke-width="0.9" stroke-dasharray="1.7 9.6 1.4 8.9 1.2 7.3"/><circle r="139.7" stroke="#fee1d4" stroke-width="1.3" stroke-dasharray="1.4 7.5 1.7 5.1 1.0 4.7"/><circle r="148.1" stroke="#fca588" stroke-width="1.2" stroke-dasharray="1.1 4.5 1.6 8.4 1.2 9.4"/><circle r="152.9" stroke="#fdd0bc" stroke-width="1.3" stroke-dasharray="0.9 9.3 1.1 5.5 1.1 5.1"/><circle r="161.3" stroke="#fdd0bc" stroke-width="1.1" stroke-dasharray="1.4 5.1 1.3 7.1 1.7 6.5"/></g>
<clipPath id="cp30"><rect x="552.90" y="1254.40" width="207.50" height="207.50"/></clipPath>
<clipPath id="cp31"><rect x="782.00" y="1254.40" width="207.50" height="207.50"/></clipPath>
<clipPath id="cp32"><rect x="55.00" y="1477.50" width="207.50" height="207.50"/></clipPath>
<radialGradient id="rg33" gradientUnits="userSpaceOnUse" cx="164.35" cy="1575.03" r="161.85"><stop offset="0.0000" stop-color="#6a8bef"/><stop offset="0.0321" stop-color="#82a6fb"/><stop offset="0.0513" stop-color="#dddcdc"/><stop offset="0.0769" stop-color="#f4c6af"/><stop offset="0.1154" stop-color="#f39577"/><stop offset="0.1538" stop-color="#f7b396"/><stop offset="0.1923" stop-color="#f4c6af"/><stop offset="0.2436" stop-color="#ee8468"/><stop offset="0.2949" stop-color="#ea7b60"/><stop offset="0.3333" stop-color="#f7b396"/><stop offset="0.3718" stop-color="#f6a586"/><stop offset="0.4231" stop-color="#e16751"/><stop offset="0.4744" stop-color="#ee8468"/><stop offset="0.5128" stop-color="#f59d7e"/><stop offset="0.5641" stop-color="#dc5d4a"/><stop offset="0.6410" stop-color="#d65244"/><stop offset="0.7179" stop-color="#e57058"/><stop offset="0.7692" stop-color="#ee8468"/><stop offset="0.8462" stop-color="#e16751"/><stop offset="1.0000" stop-color="#e57058"/></radialGradient>
<radialGradient id="rg34" gradientUnits="userSpaceOnUse" cx="164.35" cy="1575.03" r="161.85"><stop offset="0.0000" stop-color="#6a8bef"/><stop offset="0.0321" stop-color="#82a6fb"/><stop offset="0.0513" stop-color="#dddcdc"/><stop offset="0.0769" stop-color="#e9d5cb"/><stop offset="0.1154" stop-color="#f7b396"/><stop offset="0.1538" stop-color="#e2dad5"/><stop offset="0.1923" stop-color="#d2dbe8"/><stop offset="0.2436" stop-color="#f7b396"/><stop offset="0.2949" stop-color="#f7ac8e"/><stop offset="0.3333" stop-color="#dddcdc"/><stop offset="0.3718" stop-color="#d2dbe8"/><stop offset="0.4231" stop-color="#f7ac8e"/><stop offset="0.4744" stop-color="#f4c6af"/><stop offset="0.5128" stop-color="#dddcdc"/><stop offset="0.5641" stop-color="#f5c0a7"/><stop offset="0.6410" stop-color="#f7ba9f"/><stop offset="0.7179" stop-color="#dddcdc"/><stop offset="0.7692" stop-color="#cfdaea"/><stop offset="0.8462" stop-color="#e2dad5"/><stop offset="1.0000" stop-color="#d7dce3"/></radialGradient>
<linearGradient id="ml35" gradientUnits="userSpaceOnUse" x1="55.00" y1="1508.62" x2="262.50" y2="1653.88"><stop offset="0.150" stop-color="#000"/><stop offset="0.500" stop-color="#fff"/></linearGradient>
<mask id="mk36" maskUnits="userSpaceOnUse" x="55.00" y="1477.50" width="207.50" height="207.50"><rect x="55.00" y="1477.50" width="207.50" height="207.50" fill="url(#ml35)"/></mask>
<radialGradient id="rg37" gradientUnits="userSpaceOnUse" cx="164.35" cy="1575.03" r="161.85"><stop offset="0.0000" stop-color="#6a8bef"/><stop offset="0.0321" stop-color="#82a6fb"/><stop offset="0.0513" stop-color="#dddcdc"/><stop offset="0.0769" stop-color="#dddcdc"/><stop offset="0.1154" stop-color="#efcfbf"/><stop offset="0.1538" stop-color="#c6d6f1"/><stop offset="0.1923" stop-color="#bad0f8"/><stop offset="0.2436" stop-color="#ebd3c6"/><stop offset="0.2949" stop-color="#efcfbf"/><stop offset="0.3333" stop-color="#c0d4f5"/><stop offset="0.3718" stop-color="#bad0f8"/><stop offset="0.4231" stop-color="#e9d5cb"/><stop offset="0.4744" stop-color="#dddcdc"/><stop offset="0.5128" stop-color="#bad0f8"/><stop offset="0.5641" stop-color="#cfdaea"/><stop offset="0.6410" stop-color="#c6d6f1"/><stop offset="0.7179" stop-color="#a9c6fd"/><stop offset="0.7692" stop-color="#9ebeff"/><stop offset="0.8462" stop-color="#97b8ff"/><stop offset="1.0000" stop-color="#7b9ff9"/></radialGradient>
<linearGradient id="ml38" gradientUnits="userSpaceOnUse" x1="55.00" y1="1508.62" x2="262.50" y2="1653.88"><stop offset="0.550" stop-color="#000"/><stop offset="0.950" stop-color="#fff"/></linearGradient>
<mask id="mk39" maskUnits="userSpaceOnUse" x="55.00" y="1477.50" width="207.50" height="207.50"><rect x="55.00" y="1477.50" width="207.50" height="207.50" fill="url(#ml38)"/></mask>
<clipPath id="cp40"><rect x="326.05" y="1477.50" width="207.50" height="207.50"/></clipPath>
<clipPath id="cp41"><rect x="552.90" y="1477.50" width="207.50" height="207.50"/></clipPath>
<clipPath id="cp42"><rect x="782.00" y="1477.50" width="207.50" height="207.50"/></clipPath>
<clipPath id="cp43"><rect x="55.00" y="1700.40" width="207.50" height="207.50"/></clipPath>
<radialGradient id="rg44" gradientUnits="userSpaceOnUse" cx="158.13" cy="1798.55" r="161.85"><stop offset="0.0000" stop-color="#8db0fe"/><stop offset="0.0385" stop-color="#9ebeff"/><stop offset="0.0769" stop-color="#c6d6f1"/><stop offset="0.1282" stop-color="#cfdaea"/><stop offset="0.1667" stop-color="#adc9fd"/><stop offset="0.2051" stop-color="#c6d6f1"/><stop offset="0.2564" stop-color="#e2dad5"/><stop offset="0.3077" stop-color="#dddcdc"/><stop offset="0.3333" stop-color="#b3cdfb"/><stop offset="0.3846" stop-color="#dddcdc"/><stop offset="0.4359" stop-color="#f2cbb7"/><stop offset="0.4872" stop-color="#d7dce3"/><stop offset="0.5385" stop-color="#c6d6f1"/><stop offset="0.5897" stop-color="#f2cbb7"/><stop offset="0.6667" stop-color="#f4c6af"/><stop offset="0.7436" stop-color="#cfdaea"/><stop offset="0.8333" stop-color="#c0d4f5"/><stop offset="1.0000" stop-color="#b3cdfb"/></radialGradient>
<radialGradient id="rg45" gradientUnits="userSpaceOnUse" cx="158.13" cy="1798.55" r="161.85"><stop offset="0.0000" stop-color="#8db0fe"/><stop offset="0.0385" stop-color="#9ebeff"/><stop offset="0.0769" stop-color="#c0d4f5"/><stop offset="0.1282" stop-color="#c6d6f1"/><stop offset="0.1667" stop-color="#9ebeff"/><stop offset="0.2051" stop-color="#bad0f8"/><stop offset="0.2564" stop-color="#cad8ef"/><stop offset="0.3077" stop-color="#c0d4f5"/><stop offset="0.3333" stop-color="#9bbcff"/><stop offset="0.3846" stop-color="#bad0f8"/><stop offset="0.4359" stop-color="#ccd9ed"/><stop offset="0.4872" stop-color="#b3cdfb"/><stop offset="0.5385" stop-color="#9ebeff"/><stop offset="0.5897" stop-color="#c0d4f5"/><stop offset="0.6667" stop-color="#c6d6f1"/><stop offset="0.7436" stop-color="#a5c3fe"/><stop offset="0.8333" stop-color="#97b8ff"/><stop offset="1.0000" stop-color="#90b2fe"/></radialGradient>
<linearGradient id="ml46" gradientUnits="userSpaceOnUse" x1="55.00" y1="1741.90" x2="262.50" y2="1866.40"><stop offset="0.000" stop-color="#000"/><stop offset="0.500" stop-color="#fff"/></linearGradient>
<mask id="mk47" maskUnits="userSpaceOnUse" x="55.00" y="1700.40" width="207.50" height="207.50"><rect x="55.00" y="1700.40" width="207.50" height="207.50" fill="url(#ml46)"/></mask>
<radialGradient id="rg48" gradientUnits="userSpaceOnUse" cx="158.13" cy="1798.55" r="161.85"><stop offset="0.0000" stop-color="#8db0fe"/><stop offset="0.0385" stop-color="#9ebeff"/><stop offset="0.0769" stop-color="#bad0f8"/><stop offset="0.1282" stop-color="#c0d4f5"/><stop offset="0.1667" stop-color="#97b8ff"/><stop offset="0.2051" stop-color="#afcafc"/><stop offset="0.2564" stop-color="#bad0f8"/><stop offset="0.3077" stop-color="#afcafc"/><stop offset="0.3333" stop-color="#90b2fe"/><stop offset="0.3846" stop-color="#a9c6fd"/><stop offset="0.4359" stop-color="#b6cefa"/><stop offset="0.4872" stop-color="#9ebeff"/><stop offset="0.5385" stop-color="#90b2fe"/><stop offset="0.5897" stop-color="#a9c6fd"/><stop offset="0.6667" stop-color="#adc9fd"/><stop offset="0.7436" stop-color="#90b2fe"/><stop offset="0.8333" stop-color="#82a6fb"/><stop offset="1.0000" stop-color="#7093f3"/></radialGradient>
<linearGradient id="ml49" gradientUnits="userSpaceOnUse" x1="55.00" y1="1741.90" x2="262.50" y2="1866.40"><stop offset="0.500" stop-color="#000"/><stop offset="1.000" stop-color="#fff"/></linearGradient>
<mask id="mk50" maskUnits="userSpaceOnUse" x="55.00" y="1700.40" width="207.50" height="207.50"><rect x="55.00" y="1700.40" width="207.50" height="207.50" fill="url(#ml49)"/></mask>
<radialGradient id="sp51"><stop offset="0" stop-color="#f4c6af" stop-opacity="0.80"/><stop offset="0.55" stop-color="#f4c6af" stop-opacity="0.64"/><stop offset="1" stop-color="#f4c6af" stop-opacity="0"/></radialGradient>
<radialGradient id="sp52"><stop offset="0" stop-color="#d0473d" stop-opacity="1.00"/><stop offset="0.55" stop-color="#d0473d" stop-opacity="0.80"/><stop offset="1" stop-color="#d0473d" stop-opacity="0"/></radialGradient>
<radialGradient id="sp53"><stop offset="0" stop-color="#7b9ff9" stop-opacity="0.90"/><stop offset="0.55" stop-color="#7b9ff9" stop-opacity="0.72"/><stop offset="1" stop-color="#7b9ff9" stop-opacity="0"/></radialGradient>
<radialGradient id="sp54"><stop offset="0" stop-color="#7b9ff9" stop-opacity="0.90"/><stop offset="0.55" stop-color="#7b9ff9" stop-opacity="0.72"/><stop offset="1" stop-color="#7b9ff9" stop-opacity="0"/></radialGradient>
<radialGradient id="sp55"><stop offset="0" stop-color="#dddcdc" stop-opacity="0.90"/><stop offset="0.55" stop-color="#dddcdc" stop-opacity="0.72"/><stop offset="1" stop-color="#dddcdc" stop-opacity="0"/></radialGradient>
<radialGradient id="sp56"><stop offset="0" stop-color="#f4c6af" stop-opacity="0.90"/><stop offset="0.55" stop-color="#f4c6af" stop-opacity="0.72"/><stop offset="1" stop-color="#f4c6af" stop-opacity="0"/></radialGradient>
<radialGradient id="sp57"><stop offset="0" stop-color="#f4c6af" stop-opacity="0.80"/><stop offset="0.55" stop-color="#f4c6af" stop-opacity="0.64"/><stop offset="1" stop-color="#f4c6af" stop-opacity="0"/></radialGradient>
<clipPath id="cp58"><rect x="326.05" y="1700.40" width="207.50" height="207.50"/></clipPath>
<clipPath id="cp59"><rect x="552.90" y="1700.40" width="207.50" height="207.50"/></clipPath>
<clipPath id="cp60"><rect x="782.00" y="1700.40" width="207.50" height="207.50"/></clipPath>
<linearGradient id="cb61" x1="0" y1="0" x2="1" y2="0"><stop offset="0.0000" stop-color="#3b4cc0"/><stop offset="0.0312" stop-color="#445acc"/><stop offset="0.0625" stop-color="#4e68d8"/><stop offset="0.0938" stop-color="#5875e1"/><stop offset="0.1250" stop-color="#6282ea"/><stop offset="0.1562" stop-color="#6c8ff1"/><stop offset="0.1875" stop-color="#779af7"/><stop offset="0.2188" stop-color="#82a6fb"/><stop offset="0.2500" stop-color="#8db0fe"/><stop offset="0.2812" stop-color="#98b9ff"/><stop offset="0.3125" stop-color="#a3c2fe"/><stop offset="0.3438" stop-color="#aec9fc"/><stop offset="0.3750" stop-color="#b9d0f9"/><stop offset="0.4062" stop-color="#c3d5f4"/><stop offset="0.4375" stop-color="#ccd9ed"/><stop offset="0.4688" stop-color="#d5dbe5"/><stop offset="0.5000" stop-color="#dddcdc"/><stop offset="0.5312" stop-color="#e5d8d1"/><stop offset="0.5625" stop-color="#ecd3c5"/><stop offset="0.5938" stop-color="#f1ccb8"/><stop offset="0.6250" stop-color="#f5c4ac"/><stop offset="0.6562" stop-color="#f7ba9f"/><stop offset="0.6875" stop-color="#f7b093"/><stop offset="0.7188" stop-color="#f6a586"/><stop offset="0.7500" stop-color="#f4987a"/><stop offset="0.7812" stop-color="#f08b6e"/><stop offset="0.8125" stop-color="#eb7d62"/><stop offset="0.8438" stop-color="#e46e56"/><stop offset="0.8750" stop-color="#dd5f4b"/><stop offset="0.9062" stop-color="#d44e41"/><stop offset="0.9375" stop-color="#ca3b37"/><stop offset="0.9688" stop-color="#be242e"/><stop offset="1.0000" stop-color="#b40426"/></linearGradient>
<linearGradient id="cb62" x1="0" y1="0" x2="1" y2="0"><stop offset="0.0000" stop-color="#fff5f0"/><stop offset="0.0312" stop-color="#fff0e8"/><stop offset="0.0625" stop-color="#feeae1"/><stop offset="0.0938" stop-color="#fee5d9"/><stop offset="0.1250" stop-color="#fee0d2"/><stop offset="0.1562" stop-color="#fdd7c6"/><stop offset="0.1875" stop-color="#fdcdb9"/><stop offset="0.2188" stop-color="#fcc4ad"/><stop offset="0.2500" stop-color="#fcbba1"/><stop offset="0.2812" stop-color="#fcb095"/><stop offset="0.3125" stop-color="#fca689"/><stop offset="0.3438" stop-color="#fc9c7d"/><stop offset="0.3750" stop-color="#fc9272"/><stop offset="0.4062" stop-color="#fc8767"/><stop offset="0.4375" stop-color="#fb7d5d"/><stop offset="0.4688" stop-color="#fb7353"/><stop offset="0.5000" stop-color="#fb694a"/><stop offset="0.5312" stop-color="#f85d42"/><stop offset="0.5625" stop-color="#f5523a"/><stop offset="0.5938" stop-color="#f24633"/><stop offset="0.6250" stop-color="#ee3a2c"/><stop offset="0.6562" stop-color="#e53228"/><stop offset="0.6875" stop-color="#dc2924"/><stop offset="0.7188" stop-color="#d32020"/><stop offset="0.7500" stop-color="#ca181d"/><stop offset="0.7812" stop-color="#c1161b"/><stop offset="0.8125" stop-color="#b71319"/><stop offset="0.8438" stop-color="#ad1117"/><stop offset="0.8750" stop-color="#a30f15"/><stop offset="0.9062" stop-color="#940b13"/><stop offset="0.9375" stop-color="#840711"/><stop offset="0.9688" stop-color="#75030f"/><stop offset="1.0000" stop-color="#67000d"/></linearGradient>
<clipPath id="cp63"><rect x="1055.00" y="1254.40" width="207.50" height="207.50"/></clipPath>
<radialGradient id="rg64" gradientUnits="userSpaceOnUse" cx="1161.86" cy="1348.81" r="161.85"><stop offset="0.0000" stop-color="#4c66d6"/><stop offset="0.0256" stop-color="#5f7fe8"/><stop offset="0.0513" stop-color="#97b8ff"/><stop offset="0.0769" stop-color="#c0d4f5"/><stop offset="0.1282" stop-color="#c6d6f1"/><stop offset="0.1667" stop-color="#a5c3fe"/><stop offset="0.1987" stop-color="#97b8ff"/><stop offset="0.2308" stop-color="#bcd2f7"/><stop offset="0.2821" stop-color="#c6d6f1"/><stop offset="0.3141" stop-color="#a2c1ff"/><stop offset="0.3397" stop-color="#94b6ff"/><stop offset="0.3718" stop-color="#bad0f8"/><stop offset="0.4359" stop-color="#c3d5f4"/><stop offset="0.4679" stop-color="#9ebeff"/><stop offset="0.4936" stop-color="#94b6ff"/><stop offset="0.5256" stop-color="#b6cefa"/><stop offset="0.5769" stop-color="#bad0f8"/><stop offset="0.6090" stop-color="#97b8ff"/><stop offset="0.6410" stop-color="#90b2fe"/><stop offset="0.6795" stop-color="#a9c6fd"/><stop offset="0.7436" stop-color="#a5c3fe"/><stop offset="0.8077" stop-color="#8db0fe"/><stop offset="1.0000" stop-color="#7b9ff9"/></radialGradient>
<radialGradient id="sp65"><stop offset="0" stop-color="#f4c6af" stop-opacity="0.80"/><stop offset="0.55" stop-color="#f4c6af" stop-opacity="0.64"/><stop offset="1" stop-color="#f4c6af" stop-opacity="0"/></radialGradient>
<radialGradient id="sp66"><stop offset="0" stop-color="#d65244" stop-opacity="1.00"/><stop offset="0.55" stop-color="#d65244" stop-opacity="0.80"/><stop offset="1" stop-color="#d65244" stop-opacity="0"/></radialGradient>
<radialGradient id="sp67"><stop offset="0" stop-color="#f7ba9f" stop-opacity="0.90"/><stop offset="0.55" stop-color="#f7ba9f" stop-opacity="0.72"/><stop offset="1" stop-color="#f7ba9f" stop-opacity="0"/></radialGradient>
<radialGradient id="sp68"><stop offset="0" stop-color="#efcfbf" stop-opacity="0.90"/><stop offset="0.55" stop-color="#efcfbf" stop-opacity="0.72"/><stop offset="1" stop-color="#efcfbf" stop-opacity="0"/></radialGradient>
<radialGradient id="sp69"><stop offset="0" stop-color="#efcfbf" stop-opacity="0.80"/><stop offset="0.55" stop-color="#efcfbf" stop-opacity="0.64"/><stop offset="1" stop-color="#efcfbf" stop-opacity="0"/></radialGradient>
<radialGradient id="sp70"><stop offset="0" stop-color="#d7dce3" stop-opacity="0.90"/><stop offset="0.55" stop-color="#d7dce3" stop-opacity="0.72"/><stop offset="1" stop-color="#d7dce3" stop-opacity="0"/></radialGradient>
<radialGradient id="sp71"><stop offset="0" stop-color="#f4c6af" stop-opacity="0.90"/><stop offset="0.55" stop-color="#f4c6af" stop-opacity="0.72"/><stop offset="1" stop-color="#f4c6af" stop-opacity="0"/></radialGradient>
<radialGradient id="sp72"><stop offset="0" stop-color="#efcfbf" stop-opacity="0.80"/><stop offset="0.55" stop-color="#efcfbf" stop-opacity="0.64"/><stop offset="1" stop-color="#efcfbf" stop-opacity="0"/></radialGradient>
<radialGradient id="sp73"><stop offset="0" stop-color="#efcfbf" stop-opacity="0.70"/><stop offset="0.55" stop-color="#efcfbf" stop-opacity="0.56"/><stop offset="1" stop-color="#efcfbf" stop-opacity="0"/></radialGradient>
<clipPath id="cp74"><rect x="1326.05" y="1254.40" width="207.50" height="207.50"/></clipPath>
<clipPath id="cp75"><rect x="1552.90" y="1254.40" width="207.50" height="207.50"/></clipPath>
<clipPath id="cp76"><rect x="1782.00" y="1254.40" width="207.50" height="207.50"/></clipPath>
<clipPath id="cp77"><rect x="1055.00" y="1477.50" width="207.50" height="207.50"/></clipPath>
<radialGradient id="rg78" gradientUnits="userSpaceOnUse" cx="1164.35" cy="1575.03" r="161.85"><stop offset="0.0000" stop-color="#6a8bef"/><stop offset="0.0321" stop-color="#82a6fb"/><stop offset="0.0513" stop-color="#dddcdc"/><stop offset="0.0769" stop-color="#f4c6af"/><stop offset="0.1154" stop-color="#f39577"/><stop offset="0.1538" stop-color="#f7b396"/><stop offset="0.1923" stop-color="#f4c6af"/><stop offset="0.2436" stop-color="#ee8468"/><stop offset="0.2949" stop-color="#ea7b60"/><stop offset="0.3333" stop-color="#f7b396"/><stop offset="0.3718" stop-color="#f6a586"/><stop offset="0.4231" stop-color="#e16751"/><stop offset="0.4744" stop-color="#ee8468"/><stop offset="0.5128" stop-color="#f59d7e"/><stop offset="0.5641" stop-color="#dc5d4a"/><stop offset="0.6410" stop-color="#d65244"/><stop offset="0.7179" stop-color="#e57058"/><stop offset="0.7692" stop-color="#ee8468"/><stop offset="0.8462" stop-color="#e16751"/><stop offset="1.0000" stop-color="#e57058"/></radialGradient>
<radialGradient id="rg79" gradientUnits="userSpaceOnUse" cx="1164.35" cy="1575.03" r="161.85"><stop offset="0.0000" stop-color="#6a8bef"/><stop offset="0.0321" stop-color="#82a6fb"/><stop offset="0.0513" stop-color="#dddcdc"/><stop offset="0.0769" stop-color="#e9d5cb"/><stop offset="0.1154" stop-color="#f7b396"/><stop offset="0.1538" stop-color="#e2dad5"/><stop offset="0.1923" stop-color="#d2dbe8"/><stop offset="0.2436" stop-color="#f7b396"/><stop offset="0.2949" stop-color="#f7ac8e"/><stop offset="0.3333" stop-color="#dddcdc"/><stop offset="0.3718" stop-color="#d2dbe8"/><stop offset="0.4231" stop-color="#f7ac8e"/><stop offset="0.4744" stop-color="#f4c6af"/><stop offset="0.5128" stop-color="#dddcdc"/><stop offset="0.5641" stop-color="#f5c0a7"/><stop offset="0.6410" stop-color="#f7ba9f"/><stop offset="0.7179" stop-color="#dddcdc"/><stop offset="0.7692" stop-color="#cfdaea"/><stop offset="0.8462" stop-color="#e2dad5"/><stop offset="1.0000" stop-color="#d7dce3"/></radialGradient>
<linearGradient id="ml80" gradientUnits="userSpaceOnUse" x1="1055.00" y1="1508.62" x2="1262.50" y2="1653.88"><stop offset="0.150" stop-color="#000"/><stop offset="0.500" stop-color="#fff"/></linearGradient>
<mask id="mk81" maskUnits="userSpaceOnUse" x="1055.00" y="1477.50" width="207.50" height="207.50"><rect x="1055.00" y="1477.50" width="207.50" height="207.50" fill="url(#ml80)"/></mask>
<radialGradient id="rg82" gradientUnits="userSpaceOnUse" cx="1164.35" cy="1575.03" r="161.85"><stop offset="0.0000" stop-color="#6a8bef"/><stop offset="0.0321" stop-color="#82a6fb"/><stop offset="0.0513" stop-color="#dddcdc"/><stop offset="0.0769" stop-color="#dddcdc"/><stop offset="0.1154" stop-color="#efcfbf"/><stop offset="0.1538" stop-color="#c6d6f1"/><stop offset="0.1923" stop-color="#bad0f8"/><stop offset="0.2436" stop-color="#ebd3c6"/><stop offset="0.2949" stop-color="#efcfbf"/><stop offset="0.3333" stop-color="#c0d4f5"/><stop offset="0.3718" stop-color="#bad0f8"/><stop offset="0.4231" stop-color="#e9d5cb"/><stop offset="0.4744" stop-color="#dddcdc"/><stop offset="0.5128" stop-color="#bad0f8"/><stop offset="0.5641" stop-color="#cfdaea"/><stop offset="0.6410" stop-color="#c6d6f1"/><stop offset="0.7179" stop-color="#a9c6fd"/><stop offset="0.7692" stop-color="#9ebeff"/><stop offset="0.8462" stop-color="#97b8ff"/><stop offset="1.0000" stop-color="#7b9ff9"/></radialGradient>
<linearGradient id="ml83" gradientUnits="userSpaceOnUse" x1="1055.00" y1="1508.62" x2="1262.50" y2="1653.88"><stop offset="0.550" stop-color="#000"/><stop offset="0.950" stop-color="#fff"/></linearGradient>
<mask id="mk84" maskUnits="userSpaceOnUse" x="1055.00" y="1477.50" width="207.50" height="207.50"><rect x="1055.00" y="1477.50" width="207.50" height="207.50" fill="url(#ml83)"/></mask>
<clipPath id="cp85"><rect x="1326.05" y="1477.50" width="207.50" height="207.50"/></clipPath>
<clipPath id="cp86"><rect x="1552.90" y="1477.50" width="207.50" height="207.50"/></clipPath>
<clipPath id="cp87"><rect x="1782.00" y="1477.50" width="207.50" height="207.50"/></clipPath>
<clipPath id="cp88"><rect x="1055.00" y="1700.40" width="207.50" height="207.50"/></clipPath>
<radialGradient id="rg89" gradientUnits="userSpaceOnUse" cx="1163.52" cy="1797.30" r="161.85"><stop offset="0.0000" stop-color="#6a8bef"/><stop offset="0.0321" stop-color="#7b9ff9"/><stop offset="0.0513" stop-color="#c6d6f1"/><stop offset="0.0769" stop-color="#ebd3c6"/><stop offset="0.1154" stop-color="#f5c0a7"/><stop offset="0.1538" stop-color="#e9d5cb"/><stop offset="0.1923" stop-color="#f4c6af"/><stop offset="0.2564" stop-color="#f7b396"/><stop offset="0.3077" stop-color="#efcfbf"/><stop offset="0.3462" stop-color="#f4c6af"/><stop offset="0.3974" stop-color="#f6a586"/><stop offset="0.4615" stop-color="#f7ba9f"/><stop offset="0.5128" stop-color="#f4c6af"/><stop offset="0.5769" stop-color="#f7ac8e"/><stop offset="0.6667" stop-color="#f7b396"/><stop offset="0.7692" stop-color="#f4c6af"/><stop offset="0.8974" stop-color="#f2cbb7"/><stop offset="1.0000" stop-color="#efcfbf"/></radialGradient>
<radialGradient id="rg90" gradientUnits="userSpaceOnUse" cx="1163.52" cy="1797.30" r="161.85"><stop offset="0.0000" stop-color="#6a8bef"/><stop offset="0.0321" stop-color="#7b9ff9"/><stop offset="0.0513" stop-color="#c6d6f1"/><stop offset="0.0769" stop-color="#e2dad5"/><stop offset="0.1154" stop-color="#efcfbf"/><stop offset="0.1538" stop-color="#d5dbe5"/><stop offset="0.1923" stop-color="#e4d9d2"/><stop offset="0.2564" stop-color="#f2cbb7"/><stop offset="0.3077" stop-color="#d5dbe5"/><stop offset="0.3462" stop-color="#dddcdc"/><stop offset="0.3974" stop-color="#efcfbf"/><stop offset="0.4615" stop-color="#dddcdc"/><stop offset="0.5128" stop-color="#d2dbe8"/><stop offset="0.5769" stop-color="#e2dad5"/><stop offset="0.6667" stop-color="#dddcdc"/><stop offset="0.7692" stop-color="#ccd9ed"/><stop offset="0.8974" stop-color="#c6d6f1"/><stop offset="1.0000" stop-color="#c0d4f5"/></radialGradient>
<linearGradient id="ml91" gradientUnits="userSpaceOnUse" x1="1075.75" y1="1721.15" x2="1252.12" y2="1897.52"><stop offset="0.000" stop-color="#000"/><stop offset="0.500" stop-color="#fff"/></linearGradient>
<mask id="mk92" maskUnits="userSpaceOnUse" x="1055.00" y="1700.40" width="207.50" height="207.50"><rect x="1055.00" y="1700.40" width="207.50" height="207.50" fill="url(#ml91)"/></mask>
<radialGradient id="rg93" gradientUnits="userSpaceOnUse" cx="1163.52" cy="1797.30" r="161.85"><stop offset="0.0000" stop-color="#6a8bef"/><stop offset="0.0321" stop-color="#7b9ff9"/><stop offset="0.0513" stop-color="#c6d6f1"/><stop offset="0.0769" stop-color="#d7dce3"/><stop offset="0.1154" stop-color="#e2dad5"/><stop offset="0.1538" stop-color="#c6d6f1"/><stop offset="0.1923" stop-color="#d2dbe8"/><stop offset="0.2564" stop-color="#dddcdc"/><stop offset="0.3077" stop-color="#c0d4f5"/><stop offset="0.3462" stop-color="#c6d6f1"/><stop offset="0.3974" stop-color="#d5dbe5"/><stop offset="0.4615" stop-color="#c0d4f5"/><stop offset="0.5128" stop-color="#b3cdfb"/><stop offset="0.5769" stop-color="#c0d4f5"/><stop offset="0.6667" stop-color="#b3cdfb"/><stop offset="0.7692" stop-color="#9ebeff"/><stop offset="0.8974" stop-color="#8db0fe"/><stop offset="1.0000" stop-color="#7b9ff9"/></radialGradient>
<linearGradient id="ml94" gradientUnits="userSpaceOnUse" x1="1075.75" y1="1721.15" x2="1252.12" y2="1897.52"><stop offset="0.500" stop-color="#000"/><stop offset="1.000" stop-color="#fff"/></linearGradient>
<mask id="mk95" maskUnits="userSpaceOnUse" x="1055.00" y="1700.40" width="207.50" height="207.50"><rect x="1055.00" y="1700.40" width="207.50" height="207.50" fill="url(#ml94)"/></mask>
<radialGradient id="sp96"><stop offset="0" stop-color="#f4c6af" stop-opacity="0.80"/><stop offset="0.55" stop-color="#f4c6af" stop-opacity="0.64"/><stop offset="1" stop-color="#f4c6af" stop-opacity="0"/></radialGradient>
<radialGradient id="sp97"><stop offset="0" stop-color="#dc5d4a" stop-opacity="1.00"/><stop offset="0.55" stop-color="#dc5d4a" stop-opacity="0.80"/><stop offset="1" stop-color="#dc5d4a" stop-opacity="0"/></radialGradient>
<radialGradient id="sp98"><stop offset="0" stop-color="#7b9ff9" stop-opacity="0.90"/><stop offset="0.55" stop-color="#7b9ff9" stop-opacity="0.72"/><stop offset="1" stop-color="#7b9ff9" stop-opacity="0"/></radialGradient>
<radialGradient id="sp99"><stop offset="0" stop-color="#dddcdc" stop-opacity="0.90"/><stop offset="0.55" stop-color="#dddcdc" stop-opacity="0.72"/><stop offset="1" stop-color="#dddcdc" stop-opacity="0"/></radialGradient>
<radialGradient id="sp100"><stop offset="0" stop-color="#f4c6af" stop-opacity="0.90"/><stop offset="0.55" stop-color="#f4c6af" stop-opacity="0.72"/><stop offset="1" stop-color="#f4c6af" stop-opacity="0"/></radialGradient>
<radialGradient id="sp101"><stop offset="0" stop-color="#f7ba9f" stop-opacity="0.90"/><stop offset="0.55" stop-color="#f7ba9f" stop-opacity="0.72"/><stop offset="1" stop-color="#f7ba9f" stop-opacity="0"/></radialGradient>
<clipPath id="cp102"><rect x="1326.05" y="1700.40" width="207.50" height="207.50"/></clipPath>
<clipPath id="cp103"><rect x="1552.90" y="1700.40" width="207.50" height="207.50"/></clipPath>
<clipPath id="cp104"><rect x="1782.00" y="1700.40" width="207.50" height="207.50"/></clipPath></defs>
<rect width="2000" height="2393" fill="#fff"/>
<rect x="55.90" y="1.20" width="476.00" height="20.80" fill="url(#cb1)" stroke="#000" stroke-width="1.80"/>
<line x1="60.90" y1="22.90" x2="60.90" y2="28.20" stroke="#000" stroke-width="1.80"/>
<line x1="530.70" y1="22.90" x2="530.70" y2="28.20" stroke="#000" stroke-width="1.80"/>
<rect x="554.50" y="1.20" width="433.20" height="20.80" fill="url(#cb2)" stroke="#000" stroke-width="1.80"/>
<line x1="554.50" y1="22.90" x2="554.50" y2="28.20" stroke="#000" stroke-width="1.80"/>
<line x1="983.80" y1="22.90" x2="983.80" y2="28.20" stroke="#000" stroke-width="1.80"/>
<text x="15.30" y="36.30" font-size="36.30" text-anchor="start" font-weight="bold" font-family="'Liberation Sans', Arial, sans-serif">a)</text>
<g transform="matrix(0.99711 0 0 1 0.159 0)">
<g clip-path="url(#cp3)"><g filter="url(#bl4)"><g transform="translate(158.75 140.85) rotate(57.00)">
<path fill="#8db0fe" d="M-62.5 -132.7h2.7v16.0h-2.7zM-60.1 -132.7h2.7v16.0h-2.7zM-57.7 -132.7h2.7v16.0h-2.7zM-48.1 -116.7h2.7v32.0h-2.7zM88.7 27.3h2.7v32.0h-2.7zM91.1 11.3h2.7v48.0h-2.7zM93.5 11.3h2.7v48.0h-2.7zM95.9 43.3h2.7v16.0h-2.7zM98.3 43.3h2.7v16.0h-2.7zM100.7 43.3h2.7v16.0h-2.7zM103.1 43.3h2.7v16.0h-2.7z"/>
<path fill="#96b7ff" d="M-144.1 -4.7h2.7v16.0h-2.7zM-141.7 -4.7h2.7v16.0h-2.7zM-139.3 -4.7h2.7v16.0h-2.7zM-139.3 43.3h2.7v16.0h-2.7zM-136.9 -4.7h2.7v16.0h-2.7zM-136.9 43.3h2.7v16.0h-2.7zM-132.1 11.3h2.7v32.0h-2.7zM-129.7 11.3h2.7v32.0h-2.7zM-55.3 -132.7h2.7v16.0h-2.7zM-50.5 -116.7h2.7v48.0h-2.7zM-48.1 -84.7h2.7v16.0h-2.7zM-12.1 -132.7h2.7v80.0h-2.7zM-9.7 -132.7h2.7v80.0h-2.7zM-7.3 -148.7h2.7v80.0h-2.7zM-4.9 -148.7h2.7v64.0h-2.7zM-4.9 123.3h2.7v16.0h-2.7zM-2.5 -148.7h2.7v16.0h-2.7zM-2.5 123.3h2.7v16.0h-2.7zM-0.1 -148.7h2.7v16.0h-2.7zM-0.1 91.3h2.7v48.0h-2.7zM2.3 75.3h2.7v48.0h-2.7zM88.7 11.3h2.7v16.0h-2.7zM91.1 -20.7h2.7v32.0h-2.7zM93.5 -36.7h2.7v48.0h-2.7zM105.5 43.3h2.7v16.0h-2.7z"/>
<path fill="#9ebeff" d="M-134.5 -4.7h2.7v16.0h-2.7zM-62.5 -100.7h2.7v64.0h-2.7zM-50.5 -68.7h2.7v16.0h-2.7zM-48.1 -68.7h2.7v16.0h-2.7zM-12.1 -52.7h2.7v128.0h-2.7zM-9.7 -52.7h2.7v144.0h-2.7zM-7.3 -68.7h2.7v64.0h-2.7zM-4.9 -84.7h2.7v48.0h-2.7zM-0.1 59.3h2.7v32.0h-2.7zM2.3 59.3h2.7v16.0h-2.7zM88.7 -20.7h2.7v32.0h-2.7zM91.1 -52.7h2.7v32.0h-2.7zM93.5 -68.7h2.7v32.0h-2.7z"/>
<path fill="#a7c5fe" d="M-141.7 43.3h2.7v16.0h-2.7zM-112.9 -52.7h2.7v16.0h-2.7zM-108.1 59.3h2.7v16.0h-2.7zM-105.7 -36.7h2.7v32.0h-2.7zM-105.7 59.3h2.7v16.0h-2.7zM-103.3 -36.7h2.7v48.0h-2.7zM-100.9 -36.7h2.7v96.0h-2.7zM-62.5 -36.7h2.7v96.0h-2.7zM-60.1 75.3h2.7v16.0h-2.7zM-50.5 -52.7h2.7v16.0h-2.7zM-48.1 -52.7h2.7v16.0h-2.7zM-16.9 123.3h2.7v16.0h-2.7zM-12.1 75.3h2.7v48.0h-2.7zM-9.7 91.3h2.7v32.0h-2.7zM-7.3 -4.7h2.7v48.0h-2.7zM-4.9 -36.7h2.7v48.0h-2.7zM-0.1 43.3h2.7v16.0h-2.7zM2.3 43.3h2.7v16.0h-2.7zM86.3 43.3h2.7v16.0h-2.7zM88.7 -36.7h2.7v16.0h-2.7zM91.1 -68.7h2.7v16.0h-2.7zM107.9 43.3h2.7v16.0h-2.7z"/>
<path fill="#afcafc" d="M-132.1 -4.7h2.7v16.0h-2.7zM-110.5 -52.7h2.7v16.0h-2.7zM-105.7 -4.7h2.7v48.0h-2.7zM-103.3 11.3h2.7v64.0h-2.7zM-67.3 91.3h2.7v16.0h-2.7zM-64.9 -100.7h2.7v48.0h-2.7zM-62.5 59.3h2.7v32.0h-2.7zM-60.1 -100.7h2.7v176.0h-2.7zM-57.7 27.3h2.7v64.0h-2.7zM-52.9 -132.7h2.7v16.0h-2.7zM-48.1 -36.7h2.7v16.0h-2.7zM-14.5 -132.7h2.7v48.0h-2.7zM-14.5 123.3h2.7v16.0h-2.7zM-7.3 43.3h2.7v96.0h-2.7zM-4.9 11.3h2.7v32.0h-2.7zM-0.1 27.3h2.7v16.0h-2.7zM2.3 27.3h2.7v16.0h-2.7zM86.3 -4.7h2.7v48.0h-2.7zM88.7 -68.7h2.7v32.0h-2.7zM95.9 -68.7h2.7v16.0h-2.7zM98.3 -84.7h2.7v16.0h-2.7z"/>
<path fill="#b9d0f9" d="M-112.9 59.3h2.7v16.0h-2.7zM-110.5 59.3h2.7v16.0h-2.7zM-108.1 -52.7h2.7v32.0h-2.7zM-105.7 43.3h2.7v16.0h-2.7zM-98.5 43.3h2.7v16.0h-2.7zM-72.1 -116.7h2.7v16.0h-2.7zM-69.7 -116.7h2.7v16.0h-2.7zM-64.9 -52.7h2.7v160.0h-2.7zM-57.7 -68.7h2.7v96.0h-2.7zM-52.9 -116.7h2.7v48.0h-2.7zM-50.5 -36.7h2.7v16.0h-2.7zM-14.5 -84.7h2.7v16.0h-2.7zM-4.9 43.3h2.7v48.0h-2.7zM-2.5 -132.7h2.7v256.0h-2.7zM-0.1 -4.7h2.7v32.0h-2.7zM2.3 -4.7h2.7v32.0h-2.7zM86.3 -52.7h2.7v48.0h-2.7zM93.5 -84.7h2.7v16.0h-2.7zM95.9 -84.7h2.7v16.0h-2.7zM95.9 -52.7h2.7v48.0h-2.7zM131.9 -36.7h2.7v16.0h-2.7zM134.3 -20.7h2.7v16.0h-2.7zM136.7 -52.7h2.7v16.0h-2.7z"/>
<path fill="#c0d4f5" d="M-115.3 59.3h2.7v16.0h-2.7zM-105.7 -52.7h2.7v16.0h-2.7zM-103.3 -52.7h2.7v16.0h-2.7zM-98.5 -36.7h2.7v80.0h-2.7zM-69.7 75.3h2.7v16.0h-2.7zM-67.3 -116.7h2.7v16.0h-2.7zM-67.3 59.3h2.7v32.0h-2.7zM-64.9 -116.7h2.7v16.0h-2.7zM-62.5 -116.7h2.7v16.0h-2.7zM-60.1 -116.7h2.7v16.0h-2.7zM-57.7 -116.7h2.7v48.0h-2.7zM-55.3 -116.7h2.7v80.0h-2.7zM-52.9 -68.7h2.7v32.0h-2.7zM-50.5 -20.7h2.7v16.0h-2.7zM-48.1 -20.7h2.7v16.0h-2.7zM-26.5 107.3h2.7v16.0h-2.7zM-24.1 107.3h2.7v16.0h-2.7zM-21.7 91.3h2.7v32.0h-2.7zM-19.3 91.3h2.7v16.0h-2.7zM-14.5 -68.7h2.7v32.0h-2.7zM-12.1 123.3h2.7v16.0h-2.7zM-9.7 -148.7h2.7v16.0h-2.7zM-9.7 123.3h2.7v16.0h-2.7zM-4.9 91.3h2.7v32.0h-2.7zM-0.1 -20.7h2.7v16.0h-2.7zM2.3 -20.7h2.7v16.0h-2.7zM50.3 -100.7h2.7v16.0h-2.7zM52.7 -100.7h2.7v16.0h-2.7zM55.1 -100.7h2.7v16.0h-2.7zM57.5 -100.7h2.7v16.0h-2.7zM59.9 -100.7h2.7v16.0h-2.7zM86.3 -68.7h2.7v16.0h-2.7zM91.1 -84.7h2.7v16.0h-2.7zM95.9 -4.7h2.7v48.0h-2.7zM98.3 -68.7h2.7v16.0h-2.7zM131.9 -20.7h2.7v16.0h-2.7zM134.3 -36.7h2.7v16.0h-2.7zM136.7 -20.7h2.7v16.0h-2.7zM139.1 -52.7h2.7v16.0h-2.7zM141.5 -52.7h2.7v16.0h-2.7z"/>
<path fill="#c7d7f0" d="M-134.5 27.3h2.7v32.0h-2.7zM-110.5 -36.7h2.7v16.0h-2.7zM-100.9 -52.7h2.7v16.0h-2.7zM-98.5 -52.7h2.7v16.0h-2.7zM-67.3 -100.7h2.7v16.0h-2.7zM-67.3 27.3h2.7v32.0h-2.7zM-55.3 -36.7h2.7v32.0h-2.7zM-52.9 -36.7h2.7v48.0h-2.7zM-50.5 -4.7h2.7v16.0h-2.7zM-48.1 -4.7h2.7v16.0h-2.7zM-21.7 75.3h2.7v16.0h-2.7zM-19.3 75.3h2.7v16.0h-2.7zM-14.5 -36.7h2.7v16.0h-2.7zM-0.1 -36.7h2.7v16.0h-2.7zM2.3 -36.7h2.7v16.0h-2.7zM47.9 -100.7h2.7v32.0h-2.7zM50.3 -84.7h2.7v16.0h-2.7zM52.7 -84.7h2.7v16.0h-2.7zM55.1 -84.7h2.7v16.0h-2.7zM83.9 27.3h2.7v32.0h-2.7zM91.1 59.3h2.7v16.0h-2.7zM93.5 59.3h2.7v16.0h-2.7zM95.9 59.3h2.7v16.0h-2.7zM98.3 -52.7h2.7v32.0h-2.7zM100.7 -68.7h2.7v32.0h-2.7zM103.1 -68.7h2.7v16.0h-2.7zM139.1 -20.7h2.7v16.0h-2.7zM141.5 -20.7h2.7v16.0h-2.7zM143.9 -20.7h2.7v16.0h-2.7zM146.3 -20.7h2.7v16.0h-2.7z"/>
<path fill="#cfdaea" d="M-134.5 11.3h2.7v16.0h-2.7zM-129.7 -4.7h2.7v16.0h-2.7zM-96.1 -52.7h2.7v64.0h-2.7zM-67.3 -20.7h2.7v48.0h-2.7zM-55.3 -4.7h2.7v48.0h-2.7zM-52.9 11.3h2.7v32.0h-2.7zM-50.5 -132.7h2.7v16.0h-2.7zM-50.5 11.3h2.7v16.0h-2.7zM-48.1 11.3h2.7v16.0h-2.7zM-21.7 59.3h2.7v16.0h-2.7zM-19.3 59.3h2.7v16.0h-2.7zM-14.5 -20.7h2.7v16.0h-2.7zM-0.1 -132.7h2.7v16.0h-2.7zM-0.1 -52.7h2.7v16.0h-2.7zM2.3 -52.7h2.7v16.0h-2.7zM45.5 27.3h2.7v96.0h-2.7zM47.9 -68.7h2.7v48.0h-2.7zM55.1 -68.7h2.7v16.0h-2.7zM83.9 -4.7h2.7v32.0h-2.7zM88.7 59.3h2.7v16.0h-2.7zM98.3 -20.7h2.7v32.0h-2.7zM100.7 -36.7h2.7v48.0h-2.7zM129.5 -20.7h2.7v16.0h-2.7zM134.3 -52.7h2.7v16.0h-2.7z"/>
<path fill="#d6dce4" d="M-108.1 -20.7h2.7v80.0h-2.7zM-100.9 59.3h2.7v16.0h-2.7zM-96.1 11.3h2.7v48.0h-2.7zM-67.3 -52.7h2.7v32.0h-2.7zM-62.5 91.3h2.7v16.0h-2.7zM-55.3 43.3h2.7v32.0h-2.7zM-52.9 43.3h2.7v32.0h-2.7zM-50.5 27.3h2.7v16.0h-2.7zM-48.1 27.3h2.7v16.0h-2.7zM-45.7 -116.7h2.7v32.0h-2.7zM-24.1 91.3h2.7v16.0h-2.7zM-21.7 43.3h2.7v16.0h-2.7zM-19.3 43.3h2.7v16.0h-2.7zM-14.5 -4.7h2.7v16.0h-2.7zM-0.1 -84.7h2.7v32.0h-2.7zM2.3 -84.7h2.7v32.0h-2.7zM2.3 123.3h2.7v16.0h-2.7zM4.7 75.3h2.7v48.0h-2.7zM43.1 -20.7h2.7v144.0h-2.7zM45.5 -52.7h2.7v80.0h-2.7zM47.9 -20.7h2.7v32.0h-2.7zM47.9 107.3h2.7v16.0h-2.7zM50.3 -68.7h2.7v16.0h-2.7zM52.7 -68.7h2.7v16.0h-2.7zM57.5 -84.7h2.7v16.0h-2.7zM62.3 -100.7h2.7v16.0h-2.7zM81.5 43.3h2.7v16.0h-2.7zM83.9 -52.7h2.7v48.0h-2.7zM86.3 59.3h2.7v16.0h-2.7zM98.3 11.3h2.7v32.0h-2.7zM100.7 11.3h2.7v32.0h-2.7zM103.1 27.3h2.7v16.0h-2.7zM105.5 -68.7h2.7v16.0h-2.7zM129.5 -36.7h2.7v16.0h-2.7z"/>
<path fill="#dddcdc" d="M-132.1 43.3h2.7v16.0h-2.7zM-127.3 -4.7h2.7v48.0h-2.7zM-112.9 -36.7h2.7v16.0h-2.7zM-98.5 59.3h2.7v16.0h-2.7zM-79.3 -100.7h2.7v16.0h-2.7zM-76.9 -100.7h2.7v16.0h-2.7zM-74.5 -100.7h2.7v16.0h-2.7zM-72.1 -100.7h2.7v16.0h-2.7zM-69.7 -100.7h2.7v16.0h-2.7zM-67.3 -84.7h2.7v32.0h-2.7zM-60.1 91.3h2.7v16.0h-2.7zM-57.7 91.3h2.7v16.0h-2.7zM-55.3 75.3h2.7v16.0h-2.7zM-52.9 75.3h2.7v16.0h-2.7zM-48.1 -132.7h2.7v16.0h-2.7zM-45.7 -132.7h2.7v16.0h-2.7zM-45.7 -84.7h2.7v32.0h-2.7zM-43.3 -132.7h2.7v64.0h-2.7zM-24.1 75.3h2.7v16.0h-2.7zM-21.7 27.3h2.7v16.0h-2.7zM-19.3 27.3h2.7v16.0h-2.7zM-19.3 107.3h2.7v16.0h-2.7zM-14.5 11.3h2.7v16.0h-2.7zM-0.1 -116.7h2.7v32.0h-2.7zM2.3 -132.7h2.7v48.0h-2.7zM4.7 -132.7h2.7v16.0h-2.7zM4.7 43.3h2.7v32.0h-2.7zM4.7 123.3h2.7v16.0h-2.7zM40.7 -100.7h2.7v16.0h-2.7zM43.1 -100.7h2.7v80.0h-2.7zM45.5 -100.7h2.7v48.0h-2.7zM47.9 11.3h2.7v48.0h-2.7zM50.3 -116.7h2.7v16.0h-2.7zM50.3 -52.7h2.7v16.0h-2.7zM55.1 -52.7h2.7v16.0h-2.7zM55.1 123.3h2.7v16.0h-2.7zM57.5 -68.7h2.7v16.0h-2.7zM81.5 27.3h2.7v16.0h-2.7zM83.9 -68.7h2.7v16.0h-2.7zM103.1 -52.7h2.7v16.0h-2.7zM105.5 27.3h2.7v16.0h-2.7zM107.9 -68.7h2.7v16.0h-2.7zM136.7 -36.7h2.7v16.0h-2.7z"/>
<path fill="#e3d9d3" d="M-148.9 27.3h2.7v16.0h-2.7zM-146.5 27.3h2.7v16.0h-2.7zM-144.1 27.3h2.7v16.0h-2.7zM-124.9 -4.7h2.7v48.0h-2.7zM-69.7 -84.7h2.7v16.0h-2.7zM-50.5 43.3h2.7v16.0h-2.7zM-48.1 43.3h2.7v16.0h-2.7zM-45.7 -52.7h2.7v16.0h-2.7zM-43.3 -68.7h2.7v16.0h-2.7zM-28.9 107.3h2.7v16.0h-2.7zM-24.1 59.3h2.7v16.0h-2.7zM-21.7 11.3h2.7v16.0h-2.7zM-19.3 11.3h2.7v16.0h-2.7zM-14.5 27.3h2.7v32.0h-2.7zM4.7 27.3h2.7v16.0h-2.7zM7.1 75.3h2.7v48.0h-2.7zM40.7 -84.7h2.7v48.0h-2.7zM47.9 -116.7h2.7v16.0h-2.7zM47.9 59.3h2.7v48.0h-2.7zM52.7 -52.7h2.7v16.0h-2.7zM55.1 -36.7h2.7v16.0h-2.7zM57.5 -52.7h2.7v16.0h-2.7zM69.5 -84.7h2.7v16.0h-2.7zM71.9 -84.7h2.7v48.0h-2.7zM81.5 11.3h2.7v16.0h-2.7zM83.9 59.3h2.7v16.0h-2.7zM88.7 -84.7h2.7v16.0h-2.7zM103.1 -36.7h2.7v16.0h-2.7zM143.9 -52.7h2.7v16.0h-2.7z"/>
<path fill="#e9d5cb" d="M-129.7 43.3h2.7v16.0h-2.7zM-96.1 59.3h2.7v16.0h-2.7zM-81.7 -100.7h2.7v16.0h-2.7zM-69.7 -68.7h2.7v80.0h-2.7zM-50.5 59.3h2.7v16.0h-2.7zM-48.1 59.3h2.7v16.0h-2.7zM-45.7 -36.7h2.7v16.0h-2.7zM-43.3 -52.7h2.7v16.0h-2.7zM-33.7 -148.7h2.7v16.0h-2.7zM-24.1 43.3h2.7v16.0h-2.7zM-21.7 -4.7h2.7v16.0h-2.7zM-19.3 -20.7h2.7v32.0h-2.7zM-14.5 59.3h2.7v16.0h-2.7zM-12.1 -148.7h2.7v16.0h-2.7zM4.7 -4.7h2.7v32.0h-2.7zM7.1 43.3h2.7v32.0h-2.7zM40.7 -36.7h2.7v48.0h-2.7zM50.3 -36.7h2.7v16.0h-2.7zM52.7 -36.7h2.7v16.0h-2.7zM52.7 123.3h2.7v16.0h-2.7zM57.5 -36.7h2.7v16.0h-2.7zM67.1 -84.7h2.7v32.0h-2.7zM69.5 -68.7h2.7v32.0h-2.7zM71.9 -36.7h2.7v32.0h-2.7zM81.5 -4.7h2.7v16.0h-2.7zM81.5 59.3h2.7v16.0h-2.7zM103.1 -20.7h2.7v16.0h-2.7zM107.9 27.3h2.7v16.0h-2.7zM127.1 -20.7h2.7v16.0h-2.7zM136.7 -4.7h2.7v16.0h-2.7zM139.1 -4.7h2.7v16.0h-2.7z"/>
<path fill="#eed0c0" d="M-148.9 11.3h2.7v16.0h-2.7zM-98.5 -68.7h2.7v16.0h-2.7zM-96.1 -68.7h2.7v16.0h-2.7zM-93.7 -68.7h2.7v16.0h-2.7zM-93.7 27.3h2.7v32.0h-2.7zM-91.3 -68.7h2.7v16.0h-2.7zM-88.9 -68.7h2.7v48.0h-2.7zM-86.5 -68.7h2.7v32.0h-2.7zM-84.1 -68.7h2.7v16.0h-2.7zM-72.1 75.3h2.7v16.0h-2.7zM-69.7 11.3h2.7v64.0h-2.7zM-50.5 75.3h2.7v16.0h-2.7zM-48.1 75.3h2.7v16.0h-2.7zM-45.7 -20.7h2.7v32.0h-2.7zM-43.3 -36.7h2.7v32.0h-2.7zM-33.7 -132.7h2.7v64.0h-2.7zM-24.1 27.3h2.7v16.0h-2.7zM-21.7 -20.7h2.7v16.0h-2.7zM-19.3 -36.7h2.7v16.0h-2.7zM-16.9 -132.7h2.7v240.0h-2.7zM-14.5 75.3h2.7v16.0h-2.7zM4.7 -36.7h2.7v32.0h-2.7zM7.1 11.3h2.7v32.0h-2.7zM40.7 11.3h2.7v32.0h-2.7zM55.1 -20.7h2.7v16.0h-2.7zM57.5 -20.7h2.7v16.0h-2.7zM64.7 -100.7h2.7v16.0h-2.7zM67.1 -52.7h2.7v16.0h-2.7zM69.5 -36.7h2.7v16.0h-2.7zM71.9 -4.7h2.7v48.0h-2.7zM74.3 -100.7h2.7v32.0h-2.7zM81.5 -20.7h2.7v16.0h-2.7zM103.1 -4.7h2.7v16.0h-2.7zM105.5 -52.7h2.7v16.0h-2.7zM124.7 -20.7h2.7v16.0h-2.7zM131.9 -52.7h2.7v16.0h-2.7zM134.3 -4.7h2.7v16.0h-2.7z"/>
<path fill="#f2cbb7" d="M-141.7 27.3h2.7v16.0h-2.7zM-115.3 -36.7h2.7v16.0h-2.7zM-100.9 -68.7h2.7v16.0h-2.7zM-93.7 -4.7h2.7v32.0h-2.7zM-88.9 -20.7h2.7v32.0h-2.7zM-86.5 -36.7h2.7v32.0h-2.7zM-84.1 -52.7h2.7v16.0h-2.7zM-81.7 -68.7h2.7v16.0h-2.7zM-55.3 91.3h2.7v16.0h-2.7zM-52.9 91.3h2.7v16.0h-2.7zM-45.7 11.3h2.7v16.0h-2.7zM-43.3 -4.7h2.7v16.0h-2.7zM-33.7 -68.7h2.7v32.0h-2.7zM-24.1 11.3h2.7v16.0h-2.7zM-21.7 -36.7h2.7v16.0h-2.7zM-19.3 -52.7h2.7v16.0h-2.7zM-16.9 107.3h2.7v16.0h-2.7zM-14.5 91.3h2.7v32.0h-2.7zM4.7 -68.7h2.7v32.0h-2.7zM7.1 -132.7h2.7v16.0h-2.7zM7.1 -20.7h2.7v32.0h-2.7zM16.7 -116.7h2.7v32.0h-2.7zM19.1 -116.7h2.7v32.0h-2.7zM23.9 -132.7h2.7v16.0h-2.7zM26.3 -132.7h2.7v16.0h-2.7zM38.3 59.3h2.7v80.0h-2.7zM40.7 43.3h2.7v96.0h-2.7zM43.1 123.3h2.7v16.0h-2.7zM45.5 123.3h2.7v16.0h-2.7zM47.9 123.3h2.7v16.0h-2.7zM50.3 -20.7h2.7v16.0h-2.7zM50.3 107.3h2.7v32.0h-2.7zM52.7 -20.7h2.7v16.0h-2.7zM55.1 -4.7h2.7v16.0h-2.7zM57.5 -4.7h2.7v16.0h-2.7zM67.1 -36.7h2.7v16.0h-2.7zM69.5 -20.7h2.7v32.0h-2.7zM71.9 43.3h2.7v32.0h-2.7zM74.3 59.3h2.7v16.0h-2.7zM79.1 27.3h2.7v64.0h-2.7zM81.5 -36.7h2.7v16.0h-2.7zM81.5 75.3h2.7v16.0h-2.7zM83.9 75.3h2.7v16.0h-2.7zM86.3 75.3h2.7v16.0h-2.7zM103.1 11.3h2.7v16.0h-2.7zM105.5 -36.7h2.7v32.0h-2.7zM110.3 -68.7h2.7v16.0h-2.7zM110.3 27.3h2.7v16.0h-2.7zM112.7 27.3h2.7v16.0h-2.7zM115.1 27.3h2.7v16.0h-2.7zM127.1 -36.7h2.7v16.0h-2.7z"/>
<path fill="#f5c4ac" d="M-146.5 11.3h2.7v16.0h-2.7zM-120.1 -36.7h2.7v16.0h-2.7zM-117.7 -36.7h2.7v16.0h-2.7zM-103.3 -68.7h2.7v16.0h-2.7zM-93.7 -36.7h2.7v32.0h-2.7zM-88.9 11.3h2.7v48.0h-2.7zM-86.5 -4.7h2.7v16.0h-2.7zM-84.1 -36.7h2.7v16.0h-2.7zM-81.7 -52.7h2.7v16.0h-2.7zM-50.5 91.3h2.7v16.0h-2.7zM-45.7 27.3h2.7v16.0h-2.7zM-43.3 11.3h2.7v16.0h-2.7zM-33.7 -36.7h2.7v16.0h-2.7zM-24.1 -4.7h2.7v16.0h-2.7zM-21.7 -52.7h2.7v16.0h-2.7zM-19.3 -68.7h2.7v16.0h-2.7zM4.7 -116.7h2.7v48.0h-2.7zM7.1 -52.7h2.7v32.0h-2.7zM14.3 -116.7h2.7v32.0h-2.7zM16.7 -84.7h2.7v16.0h-2.7zM19.1 -84.7h2.7v16.0h-2.7zM21.5 -132.7h2.7v16.0h-2.7zM35.9 43.3h2.7v96.0h-2.7zM38.3 -100.7h2.7v160.0h-2.7zM45.5 -116.7h2.7v16.0h-2.7zM50.3 -4.7h2.7v16.0h-2.7zM52.7 -4.7h2.7v16.0h-2.7zM55.1 11.3h2.7v16.0h-2.7zM57.5 11.3h2.7v16.0h-2.7zM59.9 -84.7h2.7v32.0h-2.7zM64.7 -84.7h2.7v16.0h-2.7zM67.1 -20.7h2.7v16.0h-2.7zM69.5 11.3h2.7v16.0h-2.7zM74.3 -68.7h2.7v128.0h-2.7zM76.7 43.3h2.7v48.0h-2.7zM79.1 11.3h2.7v16.0h-2.7zM81.5 -52.7h2.7v16.0h-2.7zM105.5 -4.7h2.7v32.0h-2.7zM117.5 27.3h2.7v16.0h-2.7zM124.7 -36.7h2.7v16.0h-2.7zM127.1 -52.7h2.7v16.0h-2.7zM129.5 -52.7h2.7v16.0h-2.7zM131.9 -4.7h2.7v16.0h-2.7z"/>
<path fill="#f6bda2" d="M-144.1 11.3h2.7v16.0h-2.7zM-136.9 11.3h2.7v32.0h-2.7zM-124.9 -36.7h2.7v16.0h-2.7zM-122.5 -36.7h2.7v16.0h-2.7zM-110.5 -20.7h2.7v32.0h-2.7zM-93.7 -84.7h2.7v16.0h-2.7zM-93.7 -52.7h2.7v16.0h-2.7zM-93.7 59.3h2.7v16.0h-2.7zM-91.3 -52.7h2.7v128.0h-2.7zM-88.9 59.3h2.7v16.0h-2.7zM-86.5 11.3h2.7v32.0h-2.7zM-84.1 -20.7h2.7v32.0h-2.7zM-81.7 -36.7h2.7v32.0h-2.7zM-45.7 43.3h2.7v32.0h-2.7zM-43.3 27.3h2.7v32.0h-2.7zM-33.7 -20.7h2.7v32.0h-2.7zM-31.3 -148.7h2.7v112.0h-2.7zM-31.3 107.3h2.7v16.0h-2.7zM-24.1 -20.7h2.7v16.0h-2.7zM-21.7 -68.7h2.7v16.0h-2.7zM-19.3 -84.7h2.7v16.0h-2.7zM7.1 -84.7h2.7v32.0h-2.7zM7.1 123.3h2.7v16.0h-2.7zM14.3 -84.7h2.7v32.0h-2.7zM16.7 -68.7h2.7v16.0h-2.7zM19.1 -132.7h2.7v16.0h-2.7zM19.1 -68.7h2.7v32.0h-2.7zM35.9 -20.7h2.7v64.0h-2.7zM57.5 27.3h2.7v32.0h-2.7zM59.9 -52.7h2.7v48.0h-2.7zM62.3 -84.7h2.7v32.0h-2.7zM64.7 -68.7h2.7v32.0h-2.7zM67.1 -100.7h2.7v16.0h-2.7zM67.1 -4.7h2.7v16.0h-2.7zM69.5 -100.7h2.7v16.0h-2.7zM69.5 27.3h2.7v32.0h-2.7zM71.9 -100.7h2.7v16.0h-2.7zM74.3 75.3h2.7v16.0h-2.7zM76.7 -4.7h2.7v48.0h-2.7zM79.1 -20.7h2.7v32.0h-2.7zM81.5 -68.7h2.7v16.0h-2.7z"/>
<path fill="#f7b599" d="M-141.7 11.3h2.7v16.0h-2.7zM-139.3 11.3h2.7v32.0h-2.7zM-112.9 -20.7h2.7v16.0h-2.7zM-110.5 11.3h2.7v48.0h-2.7zM-86.5 43.3h2.7v16.0h-2.7zM-84.1 11.3h2.7v16.0h-2.7zM-81.7 -4.7h2.7v16.0h-2.7zM-45.7 75.3h2.7v16.0h-2.7zM-43.3 59.3h2.7v16.0h-2.7zM-36.1 -148.7h2.7v16.0h-2.7zM-33.7 11.3h2.7v16.0h-2.7zM-31.3 -36.7h2.7v96.0h-2.7zM-26.5 91.3h2.7v16.0h-2.7zM-21.7 -132.7h2.7v64.0h-2.7zM-19.3 -148.7h2.7v64.0h-2.7zM-16.9 -148.7h2.7v16.0h-2.7zM-14.5 -148.7h2.7v16.0h-2.7zM7.1 -116.7h2.7v32.0h-2.7zM9.5 -132.7h2.7v64.0h-2.7zM11.9 -132.7h2.7v64.0h-2.7zM14.3 -132.7h2.7v16.0h-2.7zM14.3 -52.7h2.7v16.0h-2.7zM16.7 -132.7h2.7v16.0h-2.7zM16.7 -52.7h2.7v32.0h-2.7zM19.1 -36.7h2.7v32.0h-2.7zM35.9 -68.7h2.7v48.0h-2.7zM50.3 11.3h2.7v16.0h-2.7zM52.7 11.3h2.7v16.0h-2.7zM55.1 27.3h2.7v16.0h-2.7zM57.5 59.3h2.7v16.0h-2.7zM59.9 -4.7h2.7v64.0h-2.7zM62.3 -52.7h2.7v48.0h-2.7zM64.7 -36.7h2.7v48.0h-2.7zM67.1 11.3h2.7v16.0h-2.7zM69.5 59.3h2.7v16.0h-2.7zM71.9 75.3h2.7v16.0h-2.7zM76.7 -84.7h2.7v16.0h-2.7zM76.7 -36.7h2.7v32.0h-2.7zM79.1 -52.7h2.7v32.0h-2.7zM86.3 -84.7h2.7v16.0h-2.7zM129.5 -4.7h2.7v16.0h-2.7zM139.1 -36.7h2.7v16.0h-2.7zM141.5 -36.7h2.7v16.0h-2.7zM143.9 -36.7h2.7v16.0h-2.7zM146.3 -52.7h2.7v32.0h-2.7z"/>
<path fill="#f7ac8e" d="M-112.9 -4.7h2.7v48.0h-2.7zM-91.3 -84.7h2.7v16.0h-2.7zM-86.5 59.3h2.7v16.0h-2.7zM-84.1 27.3h2.7v16.0h-2.7zM-81.7 11.3h2.7v16.0h-2.7zM-48.1 91.3h2.7v16.0h-2.7zM-43.3 75.3h2.7v16.0h-2.7zM-40.9 -132.7h2.7v112.0h-2.7zM-38.5 107.3h2.7v16.0h-2.7zM-36.1 107.3h2.7v16.0h-2.7zM-33.7 27.3h2.7v32.0h-2.7zM-33.7 107.3h2.7v16.0h-2.7zM-31.3 59.3h2.7v48.0h-2.7zM-28.9 75.3h2.7v32.0h-2.7zM-26.5 43.3h2.7v48.0h-2.7zM-24.1 -36.7h2.7v16.0h-2.7zM9.5 -68.7h2.7v32.0h-2.7zM11.9 -68.7h2.7v32.0h-2.7zM14.3 -36.7h2.7v16.0h-2.7zM16.7 -20.7h2.7v16.0h-2.7zM19.1 -4.7h2.7v32.0h-2.7zM21.5 -116.7h2.7v80.0h-2.7zM31.1 -100.7h2.7v16.0h-2.7zM33.5 -100.7h2.7v80.0h-2.7zM35.9 -116.7h2.7v48.0h-2.7zM38.3 -116.7h2.7v16.0h-2.7zM40.7 -116.7h2.7v16.0h-2.7zM43.1 -116.7h2.7v16.0h-2.7zM52.7 107.3h2.7v16.0h-2.7zM55.1 43.3h2.7v16.0h-2.7zM57.5 75.3h2.7v32.0h-2.7zM59.9 59.3h2.7v48.0h-2.7zM62.3 -4.7h2.7v48.0h-2.7zM62.3 91.3h2.7v16.0h-2.7zM64.7 11.3h2.7v32.0h-2.7zM64.7 91.3h2.7v16.0h-2.7zM67.1 27.3h2.7v32.0h-2.7zM67.1 91.3h2.7v16.0h-2.7zM69.5 75.3h2.7v16.0h-2.7zM76.7 -68.7h2.7v32.0h-2.7zM79.1 -68.7h2.7v16.0h-2.7zM83.9 -84.7h2.7v16.0h-2.7zM124.7 -52.7h2.7v16.0h-2.7z"/>
<path fill="#f6a385" d="M-112.9 43.3h2.7v16.0h-2.7zM-88.9 -84.7h2.7v16.0h-2.7zM-84.1 43.3h2.7v16.0h-2.7zM-81.7 27.3h2.7v16.0h-2.7zM-45.7 91.3h2.7v16.0h-2.7zM-43.3 91.3h2.7v16.0h-2.7zM-40.9 -20.7h2.7v112.0h-2.7zM-40.9 107.3h2.7v16.0h-2.7zM-33.7 59.3h2.7v16.0h-2.7zM-28.9 27.3h2.7v48.0h-2.7zM-26.5 11.3h2.7v32.0h-2.7zM-24.1 -52.7h2.7v16.0h-2.7zM9.5 -36.7h2.7v32.0h-2.7zM11.9 -36.7h2.7v32.0h-2.7zM14.3 -20.7h2.7v32.0h-2.7zM16.7 -4.7h2.7v32.0h-2.7zM19.1 27.3h2.7v32.0h-2.7zM21.5 -36.7h2.7v96.0h-2.7zM31.1 -84.7h2.7v144.0h-2.7zM33.5 -116.7h2.7v16.0h-2.7zM33.5 -20.7h2.7v160.0h-2.7zM50.3 27.3h2.7v16.0h-2.7zM52.7 27.3h2.7v16.0h-2.7zM62.3 43.3h2.7v48.0h-2.7zM64.7 43.3h2.7v32.0h-2.7zM67.1 59.3h2.7v16.0h-2.7zM69.5 91.3h2.7v16.0h-2.7zM71.9 91.3h2.7v16.0h-2.7zM79.1 -84.7h2.7v16.0h-2.7zM81.5 -84.7h2.7v16.0h-2.7zM107.9 -52.7h2.7v16.0h-2.7zM112.7 -68.7h2.7v16.0h-2.7zM119.9 -20.7h2.7v32.0h-2.7zM122.3 -20.7h2.7v32.0h-2.7zM124.7 -4.7h2.7v16.0h-2.7zM127.1 -4.7h2.7v16.0h-2.7z"/>
<path fill="#f4987a" d="M-91.3 75.3h2.7v16.0h-2.7zM-84.1 59.3h2.7v16.0h-2.7zM-81.7 43.3h2.7v32.0h-2.7zM-79.3 -68.7h2.7v32.0h-2.7zM-40.9 91.3h2.7v16.0h-2.7zM-33.7 75.3h2.7v32.0h-2.7zM-28.9 -4.7h2.7v32.0h-2.7zM-26.5 -20.7h2.7v32.0h-2.7zM-24.1 -68.7h2.7v16.0h-2.7zM-21.7 -148.7h2.7v16.0h-2.7zM9.5 -4.7h2.7v16.0h-2.7zM11.9 -4.7h2.7v16.0h-2.7zM14.3 11.3h2.7v16.0h-2.7zM14.3 139.3h2.7v16.0h-2.7zM16.7 27.3h2.7v16.0h-2.7zM16.7 139.3h2.7v16.0h-2.7zM19.1 59.3h2.7v96.0h-2.7zM21.5 59.3h2.7v96.0h-2.7zM23.9 -116.7h2.7v272.0h-2.7zM26.3 -116.7h2.7v272.0h-2.7zM28.7 -116.7h2.7v272.0h-2.7zM31.1 -116.7h2.7v16.0h-2.7zM31.1 59.3h2.7v96.0h-2.7zM33.5 139.3h2.7v16.0h-2.7zM35.9 139.3h2.7v16.0h-2.7zM38.3 139.3h2.7v16.0h-2.7zM40.7 139.3h2.7v16.0h-2.7zM43.1 139.3h2.7v16.0h-2.7zM45.5 139.3h2.7v16.0h-2.7zM50.3 43.3h2.7v16.0h-2.7zM52.7 43.3h2.7v16.0h-2.7zM55.1 59.3h2.7v16.0h-2.7zM64.7 75.3h2.7v16.0h-2.7zM67.1 75.3h2.7v16.0h-2.7zM74.3 91.3h2.7v16.0h-2.7zM76.7 91.3h2.7v16.0h-2.7zM107.9 -36.7h2.7v48.0h-2.7zM119.9 -36.7h2.7v16.0h-2.7zM122.3 -36.7h2.7v16.0h-2.7z"/>
<path fill="#f18f71" d="M-127.3 43.3h2.7v16.0h-2.7zM-88.9 75.3h2.7v16.0h-2.7zM-86.5 -84.7h2.7v16.0h-2.7zM-79.3 -36.7h2.7v32.0h-2.7zM-72.1 -84.7h2.7v16.0h-2.7zM-28.9 -52.7h2.7v48.0h-2.7zM-26.5 -52.7h2.7v32.0h-2.7zM-24.1 -132.7h2.7v64.0h-2.7zM9.5 11.3h2.7v32.0h-2.7zM11.9 11.3h2.7v32.0h-2.7zM11.9 139.3h2.7v16.0h-2.7zM14.3 27.3h2.7v16.0h-2.7zM16.7 43.3h2.7v32.0h-2.7zM55.1 75.3h2.7v32.0h-2.7zM107.9 11.3h2.7v16.0h-2.7zM110.3 -52.7h2.7v16.0h-2.7zM112.7 -52.7h2.7v16.0h-2.7zM115.1 -68.7h2.7v32.0h-2.7zM117.5 -68.7h2.7v80.0h-2.7zM119.9 -68.7h2.7v32.0h-2.7zM122.3 -68.7h2.7v32.0h-2.7z"/>
<path fill="#ee8468" d="M-84.1 -84.7h2.7v16.0h-2.7zM-81.7 -84.7h2.7v16.0h-2.7zM-79.3 -84.7h2.7v16.0h-2.7zM-79.3 -4.7h2.7v32.0h-2.7zM-76.9 -84.7h2.7v16.0h-2.7zM-74.5 -84.7h2.7v16.0h-2.7zM-72.1 -68.7h2.7v32.0h-2.7zM-43.3 107.3h2.7v16.0h-2.7zM-38.5 -148.7h2.7v16.0h-2.7zM-38.5 59.3h2.7v48.0h-2.7zM-36.1 59.3h2.7v48.0h-2.7zM-28.9 -148.7h2.7v96.0h-2.7zM-26.5 -148.7h2.7v96.0h-2.7zM-24.1 -148.7h2.7v16.0h-2.7zM9.5 43.3h2.7v32.0h-2.7zM9.5 139.3h2.7v16.0h-2.7zM11.9 43.3h2.7v32.0h-2.7zM14.3 43.3h2.7v32.0h-2.7zM16.7 75.3h2.7v64.0h-2.7zM50.3 59.3h2.7v16.0h-2.7zM52.7 59.3h2.7v16.0h-2.7zM55.1 107.3h2.7v16.0h-2.7zM110.3 -36.7h2.7v32.0h-2.7zM112.7 -36.7h2.7v32.0h-2.7zM115.1 -36.7h2.7v16.0h-2.7zM124.7 -68.7h2.7v16.0h-2.7z"/>
<path fill="#e9785d" d="M-122.5 -4.7h2.7v48.0h-2.7zM-115.3 -20.7h2.7v16.0h-2.7zM-115.3 43.3h2.7v16.0h-2.7zM-86.5 75.3h2.7v16.0h-2.7zM-79.3 27.3h2.7v48.0h-2.7zM-76.9 -68.7h2.7v48.0h-2.7zM-74.5 -68.7h2.7v48.0h-2.7zM-74.5 75.3h2.7v16.0h-2.7zM-72.1 -36.7h2.7v32.0h-2.7zM-50.5 -148.7h2.7v16.0h-2.7zM-48.1 -148.7h2.7v16.0h-2.7zM-45.7 -148.7h2.7v16.0h-2.7zM-43.3 -148.7h2.7v16.0h-2.7zM-40.9 -148.7h2.7v16.0h-2.7zM-38.5 -132.7h2.7v192.0h-2.7zM-36.1 -132.7h2.7v192.0h-2.7zM7.1 139.3h2.7v16.0h-2.7zM9.5 75.3h2.7v64.0h-2.7zM11.9 75.3h2.7v64.0h-2.7zM14.3 75.3h2.7v64.0h-2.7zM50.3 75.3h2.7v32.0h-2.7zM52.7 75.3h2.7v32.0h-2.7zM57.5 107.3h2.7v16.0h-2.7zM59.9 107.3h2.7v16.0h-2.7zM62.3 107.3h2.7v16.0h-2.7zM64.7 107.3h2.7v16.0h-2.7zM110.3 -4.7h2.7v16.0h-2.7zM112.7 -4.7h2.7v16.0h-2.7zM115.1 -20.7h2.7v32.0h-2.7z"/>
<path fill="#e36c55" d="M-134.5 -20.7h2.7v16.0h-2.7zM-132.1 -20.7h2.7v16.0h-2.7zM-129.7 -20.7h2.7v16.0h-2.7zM-127.3 -20.7h2.7v16.0h-2.7zM-124.9 -20.7h2.7v16.0h-2.7zM-122.5 -20.7h2.7v16.0h-2.7zM-120.1 -20.7h2.7v48.0h-2.7zM-117.7 -20.7h2.7v48.0h-2.7zM-115.3 -4.7h2.7v48.0h-2.7zM-76.9 -20.7h2.7v32.0h-2.7zM-74.5 -20.7h2.7v32.0h-2.7zM-72.1 -4.7h2.7v32.0h-2.7zM110.3 11.3h2.7v16.0h-2.7zM112.7 11.3h2.7v16.0h-2.7zM115.1 11.3h2.7v16.0h-2.7zM117.5 11.3h2.7v16.0h-2.7zM119.9 11.3h2.7v16.0h-2.7zM122.3 11.3h2.7v16.0h-2.7zM124.7 11.3h2.7v16.0h-2.7zM127.1 11.3h2.7v16.0h-2.7z"/>
<path fill="#dd5f4b" d="M-124.9 43.3h2.7v16.0h-2.7zM-122.5 43.3h2.7v16.0h-2.7zM-120.1 27.3h2.7v32.0h-2.7zM-117.7 27.3h2.7v32.0h-2.7zM-76.9 11.3h2.7v48.0h-2.7zM-74.5 11.3h2.7v48.0h-2.7zM-72.1 27.3h2.7v32.0h-2.7z"/>
<path fill="#d65244" d="M-84.1 75.3h2.7v16.0h-2.7zM-81.7 75.3h2.7v16.0h-2.7zM-79.3 75.3h2.7v16.0h-2.7zM-76.9 59.3h2.7v32.0h-2.7zM-74.5 59.3h2.7v16.0h-2.7zM-72.1 59.3h2.7v16.0h-2.7z"/>
</g></g></g>
<rect x="55.00" y="37.10" width="207.50" height="207.50" fill="url(#pt_sa1)" opacity="1.00"/>
</g>
<g transform="matrix(0.98964 0 0 1 3.378 0)">
<rect x="326.05" y="37.10" width="207.50" height="207.50" fill="#dcdcdf"/>
<rect x="326.05" y="37.10" width="207.50" height="207.50" fill="url(#pt_lga)" opacity="0.55"/>
</g>
<g transform="matrix(0.99807 0 0 1 1.066 0)">
<rect x="552.90" y="37.10" width="207.50" height="207.50" fill="#fef2ed"/>
<rect x="552.90" y="37.10" width="207.50" height="207.50" fill="url(#pt_la)" opacity="1.00"/>
</g>
<g transform="matrix(0.98747 0 0 1 9.799 0)">
<rect x="782.00" y="37.10" width="207.50" height="207.50" fill="#fef2ed"/>
<rect x="782.00" y="37.10" width="207.50" height="207.50" fill="url(#pt_la)" opacity="1.00"/>
</g>
<text x="30.80" y="140.85" font-size="22.90" text-anchor="middle" font-weight="normal" font-family="'DejaVu Sans', 'Liberation Sans', sans-serif" transform="rotate(-90 30.80 140.85)">Surf1</text>
<text x="301.30" y="140.85" font-size="22.90" text-anchor="middle" font-weight="normal" font-family="'DejaVu Sans', 'Liberation Sans', sans-serif" transform="rotate(-90 301.30 140.85)">Grad1</text>
<g transform="matrix(0.99711 0 0 1 0.159 0)">
<g clip-path="url(#cp5)"><g filter="url(#bl6)"><g transform="translate(158.75 363.95) rotate(58.00)">
<path fill="#96b7ff" d="M-146.5 11.3h2.7v16.0h-2.7zM-144.1 11.3h2.7v16.0h-2.7zM-144.1 43.3h2.7v16.0h-2.7zM-141.7 11.3h2.7v16.0h-2.7zM-141.7 43.3h2.7v16.0h-2.7zM-139.3 11.3h2.7v16.0h-2.7zM-136.9 11.3h2.7v32.0h-2.7zM-134.5 11.3h2.7v32.0h-2.7zM-16.9 123.3h2.7v16.0h-2.7zM-9.7 91.3h2.7v32.0h-2.7zM31.1 -100.7h2.7v16.0h-2.7zM35.9 -116.7h2.7v32.0h-2.7zM38.3 -116.7h2.7v16.0h-2.7zM40.7 -116.7h2.7v16.0h-2.7zM43.1 -116.7h2.7v16.0h-2.7z"/>
<path fill="#9ebeff" d="M-148.9 11.3h2.7v16.0h-2.7zM-139.3 27.3h2.7v32.0h-2.7zM-12.1 91.3h2.7v32.0h-2.7zM-9.7 75.3h2.7v16.0h-2.7zM14.3 139.3h2.7v16.0h-2.7zM16.7 139.3h2.7v16.0h-2.7zM19.1 139.3h2.7v16.0h-2.7zM21.5 75.3h2.7v64.0h-2.7zM23.9 75.3h2.7v64.0h-2.7zM31.1 -84.7h2.7v16.0h-2.7zM33.5 -100.7h2.7v16.0h-2.7zM35.9 -84.7h2.7v16.0h-2.7zM38.3 -100.7h2.7v16.0h-2.7zM76.7 59.3h2.7v16.0h-2.7zM81.5 -84.7h2.7v16.0h-2.7zM81.5 75.3h2.7v16.0h-2.7zM83.9 75.3h2.7v16.0h-2.7zM86.3 75.3h2.7v16.0h-2.7z"/>
<path fill="#a7c5fe" d="M-136.9 43.3h2.7v16.0h-2.7zM-132.1 11.3h2.7v32.0h-2.7zM-12.1 75.3h2.7v16.0h-2.7zM-9.7 59.3h2.7v16.0h-2.7zM21.5 59.3h2.7v16.0h-2.7zM23.9 59.3h2.7v16.0h-2.7zM31.1 -68.7h2.7v16.0h-2.7zM33.5 -84.7h2.7v16.0h-2.7zM35.9 -68.7h2.7v32.0h-2.7zM38.3 -84.7h2.7v32.0h-2.7zM45.5 -116.7h2.7v16.0h-2.7zM74.3 59.3h2.7v16.0h-2.7zM76.7 43.3h2.7v16.0h-2.7zM79.1 -68.7h2.7v32.0h-2.7zM83.9 -84.7h2.7v16.0h-2.7z"/>
<path fill="#afcafc" d="M-129.7 27.3h2.7v16.0h-2.7zM-7.3 75.3h2.7v48.0h-2.7zM21.5 139.3h2.7v16.0h-2.7zM23.9 43.3h2.7v16.0h-2.7zM26.3 59.3h2.7v80.0h-2.7zM31.1 -52.7h2.7v16.0h-2.7zM33.5 -116.7h2.7v16.0h-2.7zM33.5 -68.7h2.7v16.0h-2.7zM35.9 -36.7h2.7v16.0h-2.7zM38.3 -52.7h2.7v32.0h-2.7zM71.9 59.3h2.7v16.0h-2.7zM74.3 43.3h2.7v16.0h-2.7zM76.7 11.3h2.7v32.0h-2.7zM79.1 -36.7h2.7v32.0h-2.7zM79.1 75.3h2.7v16.0h-2.7z"/>
<path fill="#b9d0f9" d="M-144.1 -4.7h2.7v16.0h-2.7zM-141.7 -4.7h2.7v16.0h-2.7zM-141.7 27.3h2.7v16.0h-2.7zM-139.3 -4.7h2.7v16.0h-2.7zM-134.5 43.3h2.7v16.0h-2.7zM-129.7 11.3h2.7v16.0h-2.7zM-12.1 59.3h2.7v16.0h-2.7zM-9.7 43.3h2.7v16.0h-2.7zM-7.3 59.3h2.7v16.0h-2.7zM21.5 43.3h2.7v16.0h-2.7zM23.9 27.3h2.7v16.0h-2.7zM26.3 43.3h2.7v16.0h-2.7zM31.1 -36.7h2.7v32.0h-2.7zM35.9 -20.7h2.7v32.0h-2.7zM38.3 -20.7h2.7v32.0h-2.7zM71.9 43.3h2.7v16.0h-2.7zM76.7 -20.7h2.7v32.0h-2.7zM79.1 -4.7h2.7v32.0h-2.7z"/>
<path fill="#c0d4f5" d="M-148.9 27.3h2.7v16.0h-2.7zM-146.5 27.3h2.7v16.0h-2.7zM-144.1 27.3h2.7v16.0h-2.7zM-136.9 -4.7h2.7v16.0h-2.7zM-134.5 -4.7h2.7v16.0h-2.7zM-14.5 123.3h2.7v16.0h-2.7zM-12.1 43.3h2.7v16.0h-2.7zM-9.7 27.3h2.7v16.0h-2.7zM-7.3 43.3h2.7v16.0h-2.7zM21.5 27.3h2.7v16.0h-2.7zM23.9 -4.7h2.7v32.0h-2.7zM26.3 11.3h2.7v32.0h-2.7zM31.1 -4.7h2.7v16.0h-2.7zM33.5 -52.7h2.7v16.0h-2.7zM35.9 11.3h2.7v16.0h-2.7zM38.3 11.3h2.7v32.0h-2.7zM74.3 27.3h2.7v16.0h-2.7zM76.7 -52.7h2.7v32.0h-2.7zM79.1 -84.7h2.7v16.0h-2.7zM79.1 27.3h2.7v32.0h-2.7zM81.5 -68.7h2.7v32.0h-2.7z"/>
<path fill="#c7d7f0" d="M-132.1 -4.7h2.7v16.0h-2.7zM-132.1 43.3h2.7v16.0h-2.7zM-129.7 -4.7h2.7v16.0h-2.7zM-127.3 11.3h2.7v32.0h-2.7zM-93.7 -84.7h2.7v16.0h-2.7zM-91.3 -84.7h2.7v16.0h-2.7zM-88.9 -84.7h2.7v16.0h-2.7zM-86.5 -84.7h2.7v16.0h-2.7zM-81.7 -68.7h2.7v48.0h-2.7zM-79.3 -68.7h2.7v16.0h-2.7zM-12.1 27.3h2.7v16.0h-2.7zM-9.7 11.3h2.7v16.0h-2.7zM-7.3 27.3h2.7v16.0h-2.7zM21.5 11.3h2.7v16.0h-2.7zM23.9 -20.7h2.7v16.0h-2.7zM26.3 -20.7h2.7v32.0h-2.7zM28.7 -100.7h2.7v32.0h-2.7zM31.1 11.3h2.7v16.0h-2.7zM33.5 -36.7h2.7v16.0h-2.7zM35.9 27.3h2.7v32.0h-2.7zM38.3 43.3h2.7v32.0h-2.7zM55.1 -100.7h2.7v16.0h-2.7zM71.9 27.3h2.7v16.0h-2.7zM74.3 11.3h2.7v16.0h-2.7zM76.7 -68.7h2.7v16.0h-2.7zM79.1 59.3h2.7v16.0h-2.7zM81.5 -36.7h2.7v16.0h-2.7z"/>
<path fill="#cfdaea" d="M-129.7 43.3h2.7v16.0h-2.7zM-127.3 -4.7h2.7v16.0h-2.7zM-124.9 -4.7h2.7v48.0h-2.7zM-84.1 -68.7h2.7v16.0h-2.7zM-81.7 -20.7h2.7v48.0h-2.7zM-79.3 -52.7h2.7v16.0h-2.7zM-64.9 91.3h2.7v16.0h-2.7zM-7.3 11.3h2.7v16.0h-2.7zM21.5 -4.7h2.7v16.0h-2.7zM23.9 -36.7h2.7v16.0h-2.7zM26.3 -52.7h2.7v32.0h-2.7zM28.7 -68.7h2.7v64.0h-2.7zM31.1 27.3h2.7v32.0h-2.7zM33.5 -20.7h2.7v16.0h-2.7zM35.9 59.3h2.7v80.0h-2.7zM38.3 75.3h2.7v64.0h-2.7zM40.7 43.3h2.7v96.0h-2.7zM43.1 123.3h2.7v16.0h-2.7zM45.5 123.3h2.7v16.0h-2.7zM47.9 123.3h2.7v16.0h-2.7zM52.7 -84.7h2.7v16.0h-2.7zM57.5 -100.7h2.7v16.0h-2.7zM59.9 -100.7h2.7v16.0h-2.7zM62.3 -100.7h2.7v16.0h-2.7zM64.7 -100.7h2.7v16.0h-2.7zM71.9 11.3h2.7v16.0h-2.7zM81.5 -20.7h2.7v16.0h-2.7zM81.5 59.3h2.7v16.0h-2.7zM117.5 -52.7h2.7v32.0h-2.7zM124.7 -68.7h2.7v16.0h-2.7z"/>
<path fill="#d6dce4" d="M-127.3 43.3h2.7v16.0h-2.7zM-88.9 75.3h2.7v16.0h-2.7zM-84.1 -84.7h2.7v16.0h-2.7zM-84.1 -52.7h2.7v112.0h-2.7zM-81.7 27.3h2.7v48.0h-2.7zM-79.3 -36.7h2.7v16.0h-2.7zM-67.3 91.3h2.7v16.0h-2.7zM-62.5 59.3h2.7v48.0h-2.7zM-60.1 59.3h2.7v32.0h-2.7zM-57.7 59.3h2.7v32.0h-2.7zM-55.3 75.3h2.7v16.0h-2.7zM-14.5 107.3h2.7v16.0h-2.7zM-12.1 11.3h2.7v16.0h-2.7zM-9.7 -4.7h2.7v16.0h-2.7zM-7.3 -4.7h2.7v16.0h-2.7zM21.5 -20.7h2.7v16.0h-2.7zM23.9 -52.7h2.7v16.0h-2.7zM23.9 139.3h2.7v16.0h-2.7zM26.3 -84.7h2.7v32.0h-2.7zM28.7 -4.7h2.7v64.0h-2.7zM31.1 -116.7h2.7v16.0h-2.7zM31.1 59.3h2.7v16.0h-2.7zM40.7 -4.7h2.7v48.0h-2.7zM47.9 -116.7h2.7v16.0h-2.7zM50.3 123.3h2.7v16.0h-2.7zM52.7 -100.7h2.7v16.0h-2.7zM52.7 -68.7h2.7v32.0h-2.7zM55.1 -84.7h2.7v16.0h-2.7zM57.5 -84.7h2.7v16.0h-2.7zM59.9 -84.7h2.7v16.0h-2.7zM62.3 -84.7h2.7v16.0h-2.7zM67.1 -100.7h2.7v16.0h-2.7zM69.5 -100.7h2.7v16.0h-2.7zM71.9 -4.7h2.7v16.0h-2.7zM74.3 -4.7h2.7v16.0h-2.7zM76.7 75.3h2.7v16.0h-2.7zM81.5 -4.7h2.7v32.0h-2.7zM83.9 59.3h2.7v16.0h-2.7zM86.3 -84.7h2.7v16.0h-2.7zM117.5 -20.7h2.7v32.0h-2.7z"/>
<path fill="#dddcdc" d="M-103.3 -68.7h2.7v16.0h-2.7zM-100.9 -68.7h2.7v16.0h-2.7zM-93.7 -68.7h2.7v16.0h-2.7zM-93.7 59.3h2.7v16.0h-2.7zM-91.3 -68.7h2.7v80.0h-2.7zM-91.3 75.3h2.7v16.0h-2.7zM-88.9 -68.7h2.7v16.0h-2.7zM-86.5 -68.7h2.7v16.0h-2.7zM-84.1 59.3h2.7v16.0h-2.7zM-79.3 -20.7h2.7v16.0h-2.7zM-62.5 43.3h2.7v16.0h-2.7zM-60.1 43.3h2.7v16.0h-2.7zM-57.7 43.3h2.7v16.0h-2.7zM-55.3 59.3h2.7v16.0h-2.7zM-52.9 -148.7h2.7v16.0h-2.7zM-43.3 -132.7h2.7v64.0h-2.7zM-40.9 -132.7h2.7v64.0h-2.7zM-31.3 -148.7h2.7v80.0h-2.7zM-28.9 -148.7h2.7v64.0h-2.7zM-19.3 107.3h2.7v16.0h-2.7zM-16.9 75.3h2.7v48.0h-2.7zM-14.5 75.3h2.7v32.0h-2.7zM-12.1 -4.7h2.7v16.0h-2.7zM-9.7 -20.7h2.7v16.0h-2.7zM-7.3 -20.7h2.7v16.0h-2.7zM11.9 139.3h2.7v16.0h-2.7zM14.3 -116.7h2.7v32.0h-2.7zM16.7 -116.7h2.7v32.0h-2.7zM21.5 -132.7h2.7v16.0h-2.7zM21.5 -36.7h2.7v16.0h-2.7zM23.9 -132.7h2.7v16.0h-2.7zM23.9 -68.7h2.7v16.0h-2.7zM26.3 -116.7h2.7v32.0h-2.7zM26.3 139.3h2.7v16.0h-2.7zM28.7 -116.7h2.7v16.0h-2.7zM28.7 59.3h2.7v80.0h-2.7zM31.1 75.3h2.7v64.0h-2.7zM33.5 -4.7h2.7v16.0h-2.7zM40.7 -52.7h2.7v48.0h-2.7zM52.7 -36.7h2.7v16.0h-2.7zM52.7 123.3h2.7v16.0h-2.7zM55.1 -68.7h2.7v16.0h-2.7zM71.9 -100.7h2.7v16.0h-2.7zM74.3 -20.7h2.7v16.0h-2.7zM81.5 27.3h2.7v16.0h-2.7zM86.3 59.3h2.7v16.0h-2.7zM119.9 -4.7h2.7v16.0h-2.7zM122.3 -68.7h2.7v16.0h-2.7zM122.3 -4.7h2.7v16.0h-2.7zM127.1 -68.7h2.7v16.0h-2.7z"/>
<path fill="#e3d9d3" d="M-122.5 -4.7h2.7v48.0h-2.7zM-98.5 -68.7h2.7v16.0h-2.7zM-96.1 -68.7h2.7v16.0h-2.7zM-96.1 59.3h2.7v16.0h-2.7zM-93.7 27.3h2.7v32.0h-2.7zM-91.3 11.3h2.7v48.0h-2.7zM-88.9 -52.7h2.7v16.0h-2.7zM-86.5 -52.7h2.7v16.0h-2.7zM-79.3 -4.7h2.7v16.0h-2.7zM-62.5 11.3h2.7v32.0h-2.7zM-60.1 11.3h2.7v32.0h-2.7zM-57.7 11.3h2.7v32.0h-2.7zM-55.3 27.3h2.7v32.0h-2.7zM-50.5 -148.7h2.7v16.0h-2.7zM-45.7 -132.7h2.7v48.0h-2.7zM-43.3 -68.7h2.7v16.0h-2.7zM-40.9 -68.7h2.7v16.0h-2.7zM-33.7 -148.7h2.7v80.0h-2.7zM-28.9 -84.7h2.7v16.0h-2.7zM-26.5 -148.7h2.7v16.0h-2.7zM-16.9 59.3h2.7v16.0h-2.7zM-14.5 59.3h2.7v16.0h-2.7zM-12.1 -20.7h2.7v16.0h-2.7zM-7.3 -36.7h2.7v16.0h-2.7zM14.3 -84.7h2.7v32.0h-2.7zM16.7 -84.7h2.7v32.0h-2.7zM23.9 -84.7h2.7v16.0h-2.7zM33.5 11.3h2.7v16.0h-2.7zM40.7 -100.7h2.7v48.0h-2.7zM43.1 59.3h2.7v64.0h-2.7zM50.3 -84.7h2.7v32.0h-2.7zM52.7 -20.7h2.7v16.0h-2.7zM55.1 -52.7h2.7v16.0h-2.7zM55.1 123.3h2.7v16.0h-2.7zM57.5 -68.7h2.7v16.0h-2.7zM59.9 -68.7h2.7v16.0h-2.7zM62.3 -68.7h2.7v16.0h-2.7zM64.7 -84.7h2.7v16.0h-2.7zM67.1 -84.7h2.7v16.0h-2.7zM69.5 -84.7h2.7v16.0h-2.7zM71.9 -20.7h2.7v16.0h-2.7zM74.3 -100.7h2.7v16.0h-2.7zM74.3 -36.7h2.7v16.0h-2.7zM81.5 43.3h2.7v16.0h-2.7zM115.1 -52.7h2.7v32.0h-2.7zM119.9 -52.7h2.7v48.0h-2.7zM124.7 -4.7h2.7v16.0h-2.7zM127.1 -4.7h2.7v16.0h-2.7z"/>
<path fill="#e9d5cb" d="M-124.9 43.3h2.7v16.0h-2.7zM-98.5 59.3h2.7v16.0h-2.7zM-93.7 -20.7h2.7v48.0h-2.7zM-93.7 75.3h2.7v16.0h-2.7zM-91.3 59.3h2.7v16.0h-2.7zM-88.9 -36.7h2.7v32.0h-2.7zM-86.5 -36.7h2.7v32.0h-2.7zM-81.7 -84.7h2.7v16.0h-2.7zM-79.3 11.3h2.7v16.0h-2.7zM-62.5 -4.7h2.7v16.0h-2.7zM-60.1 -4.7h2.7v16.0h-2.7zM-60.1 91.3h2.7v16.0h-2.7zM-57.7 -4.7h2.7v16.0h-2.7zM-55.3 11.3h2.7v16.0h-2.7zM-48.1 -148.7h2.7v16.0h-2.7zM-45.7 -84.7h2.7v32.0h-2.7zM-43.3 -52.7h2.7v16.0h-2.7zM-40.9 -52.7h2.7v16.0h-2.7zM-33.7 -68.7h2.7v16.0h-2.7zM-31.3 -68.7h2.7v16.0h-2.7zM-28.9 -68.7h2.7v16.0h-2.7zM-16.9 43.3h2.7v16.0h-2.7zM-14.5 43.3h2.7v16.0h-2.7zM-9.7 -36.7h2.7v16.0h-2.7zM-7.3 -52.7h2.7v16.0h-2.7zM14.3 -52.7h2.7v32.0h-2.7zM16.7 -52.7h2.7v32.0h-2.7zM19.1 -132.7h2.7v16.0h-2.7zM19.1 27.3h2.7v112.0h-2.7zM21.5 -52.7h2.7v16.0h-2.7zM23.9 -100.7h2.7v16.0h-2.7zM43.1 27.3h2.7v32.0h-2.7zM50.3 -52.7h2.7v48.0h-2.7zM52.7 -4.7h2.7v16.0h-2.7zM55.1 -36.7h2.7v16.0h-2.7zM57.5 -52.7h2.7v16.0h-2.7zM57.5 123.3h2.7v16.0h-2.7zM59.9 -52.7h2.7v16.0h-2.7zM62.3 -52.7h2.7v16.0h-2.7zM64.7 -68.7h2.7v16.0h-2.7zM67.1 -68.7h2.7v16.0h-2.7zM69.5 -68.7h2.7v16.0h-2.7zM71.9 -36.7h2.7v16.0h-2.7zM88.7 59.3h2.7v16.0h-2.7zM112.7 -52.7h2.7v16.0h-2.7zM115.1 -20.7h2.7v16.0h-2.7zM117.5 -68.7h2.7v16.0h-2.7zM119.9 -68.7h2.7v16.0h-2.7zM129.5 -4.7h2.7v16.0h-2.7z"/>
<path fill="#eed0c0" d="M-96.1 27.3h2.7v32.0h-2.7zM-93.7 -52.7h2.7v32.0h-2.7zM-88.9 -4.7h2.7v32.0h-2.7zM-86.5 -4.7h2.7v32.0h-2.7zM-86.5 75.3h2.7v16.0h-2.7zM-79.3 27.3h2.7v16.0h-2.7zM-64.9 75.3h2.7v16.0h-2.7zM-62.5 -36.7h2.7v32.0h-2.7zM-60.1 -36.7h2.7v32.0h-2.7zM-57.7 -36.7h2.7v32.0h-2.7zM-55.3 -20.7h2.7v32.0h-2.7zM-48.1 -132.7h2.7v16.0h-2.7zM-45.7 -52.7h2.7v16.0h-2.7zM-43.3 -36.7h2.7v16.0h-2.7zM-40.9 -36.7h2.7v16.0h-2.7zM-33.7 -52.7h2.7v16.0h-2.7zM-31.3 -52.7h2.7v16.0h-2.7zM-28.9 -52.7h2.7v16.0h-2.7zM-26.5 -132.7h2.7v64.0h-2.7zM-21.7 107.3h2.7v16.0h-2.7zM-19.3 75.3h2.7v32.0h-2.7zM-16.9 11.3h2.7v32.0h-2.7zM-14.5 11.3h2.7v32.0h-2.7zM-12.1 -36.7h2.7v16.0h-2.7zM-9.7 -52.7h2.7v16.0h-2.7zM-7.3 -68.7h2.7v16.0h-2.7zM11.9 -116.7h2.7v48.0h-2.7zM14.3 -20.7h2.7v16.0h-2.7zM16.7 -20.7h2.7v16.0h-2.7zM19.1 -36.7h2.7v64.0h-2.7zM21.5 -68.7h2.7v16.0h-2.7zM33.5 27.3h2.7v16.0h-2.7zM43.1 -4.7h2.7v32.0h-2.7zM50.3 -100.7h2.7v16.0h-2.7zM50.3 -4.7h2.7v48.0h-2.7zM52.7 11.3h2.7v16.0h-2.7zM64.7 -52.7h2.7v16.0h-2.7zM67.1 -52.7h2.7v16.0h-2.7zM69.5 -52.7h2.7v16.0h-2.7zM71.9 -52.7h2.7v16.0h-2.7zM74.3 -52.7h2.7v16.0h-2.7zM74.3 75.3h2.7v16.0h-2.7zM91.1 59.3h2.7v16.0h-2.7zM112.7 -36.7h2.7v16.0h-2.7zM115.1 -68.7h2.7v16.0h-2.7zM115.1 -4.7h2.7v16.0h-2.7zM122.3 -20.7h2.7v16.0h-2.7zM131.9 -4.7h2.7v16.0h-2.7z"/>
<path fill="#f2cbb7" d="M-134.5 -20.7h2.7v16.0h-2.7zM-132.1 -20.7h2.7v16.0h-2.7zM-129.7 -20.7h2.7v16.0h-2.7zM-127.3 -20.7h2.7v16.0h-2.7zM-124.9 -20.7h2.7v16.0h-2.7zM-122.5 -20.7h2.7v16.0h-2.7zM-122.5 43.3h2.7v16.0h-2.7zM-120.1 -4.7h2.7v64.0h-2.7zM-117.7 -4.7h2.7v48.0h-2.7zM-100.9 59.3h2.7v16.0h-2.7zM-96.1 -4.7h2.7v32.0h-2.7zM-88.9 27.3h2.7v32.0h-2.7zM-86.5 27.3h2.7v32.0h-2.7zM-79.3 -84.7h2.7v16.0h-2.7zM-79.3 43.3h2.7v16.0h-2.7zM-76.9 -68.7h2.7v16.0h-2.7zM-64.9 11.3h2.7v64.0h-2.7zM-62.5 -52.7h2.7v16.0h-2.7zM-60.1 -52.7h2.7v16.0h-2.7zM-57.7 -52.7h2.7v16.0h-2.7zM-55.3 -52.7h2.7v32.0h-2.7zM-52.9 43.3h2.7v48.0h-2.7zM-45.7 -148.7h2.7v16.0h-2.7zM-45.7 -36.7h2.7v16.0h-2.7zM-43.3 -20.7h2.7v16.0h-2.7zM-40.9 -20.7h2.7v16.0h-2.7zM-38.5 -132.7h2.7v64.0h-2.7zM-33.7 -36.7h2.7v16.0h-2.7zM-31.3 -36.7h2.7v16.0h-2.7zM-28.9 -36.7h2.7v16.0h-2.7zM-26.5 -68.7h2.7v16.0h-2.7zM-24.1 -148.7h2.7v16.0h-2.7zM-19.3 43.3h2.7v32.0h-2.7zM-16.9 -4.7h2.7v16.0h-2.7zM-14.5 -4.7h2.7v16.0h-2.7zM-12.1 -52.7h2.7v16.0h-2.7zM-12.1 123.3h2.7v16.0h-2.7zM-9.7 -68.7h2.7v16.0h-2.7zM-9.7 123.3h2.7v16.0h-2.7zM-7.3 -84.7h2.7v16.0h-2.7zM-4.9 -132.7h2.7v256.0h-2.7zM-2.5 -132.7h2.7v256.0h-2.7zM-0.1 -132.7h2.7v48.0h-2.7zM11.9 -68.7h2.7v32.0h-2.7zM14.3 -4.7h2.7v32.0h-2.7zM16.7 -4.7h2.7v32.0h-2.7zM19.1 -116.7h2.7v80.0h-2.7zM21.5 -84.7h2.7v16.0h-2.7zM23.9 -116.7h2.7v16.0h-2.7zM33.5 43.3h2.7v16.0h-2.7zM43.1 -36.7h2.7v32.0h-2.7zM45.5 75.3h2.7v48.0h-2.7zM47.9 43.3h2.7v80.0h-2.7zM50.3 43.3h2.7v80.0h-2.7zM52.7 27.3h2.7v32.0h-2.7zM52.7 107.3h2.7v16.0h-2.7zM55.1 -20.7h2.7v16.0h-2.7zM55.1 107.3h2.7v16.0h-2.7zM57.5 -36.7h2.7v16.0h-2.7zM57.5 107.3h2.7v16.0h-2.7zM59.9 -36.7h2.7v16.0h-2.7zM59.9 107.3h2.7v16.0h-2.7zM62.3 -36.7h2.7v16.0h-2.7zM64.7 -36.7h2.7v16.0h-2.7zM67.1 -36.7h2.7v16.0h-2.7zM69.5 -36.7h2.7v16.0h-2.7zM74.3 -68.7h2.7v16.0h-2.7zM110.3 -52.7h2.7v16.0h-2.7zM112.7 -20.7h2.7v16.0h-2.7zM122.3 -52.7h2.7v32.0h-2.7zM134.3 -4.7h2.7v16.0h-2.7zM136.7 -4.7h2.7v16.0h-2.7z"/>
<path fill="#f5c4ac" d="M-120.1 -20.7h2.7v16.0h-2.7zM-117.7 -20.7h2.7v16.0h-2.7zM-117.7 43.3h2.7v16.0h-2.7zM-105.7 59.3h2.7v16.0h-2.7zM-103.3 59.3h2.7v16.0h-2.7zM-100.9 27.3h2.7v32.0h-2.7zM-98.5 27.3h2.7v32.0h-2.7zM-96.1 -36.7h2.7v32.0h-2.7zM-88.9 59.3h2.7v16.0h-2.7zM-86.5 59.3h2.7v16.0h-2.7zM-79.3 59.3h2.7v16.0h-2.7zM-76.9 -52.7h2.7v48.0h-2.7zM-74.5 -116.7h2.7v16.0h-2.7zM-72.1 -116.7h2.7v16.0h-2.7zM-69.7 -116.7h2.7v16.0h-2.7zM-67.3 -116.7h2.7v16.0h-2.7zM-64.9 -116.7h2.7v128.0h-2.7zM-62.5 -116.7h2.7v64.0h-2.7zM-60.1 -116.7h2.7v64.0h-2.7zM-57.7 -116.7h2.7v64.0h-2.7zM-57.7 91.3h2.7v16.0h-2.7zM-55.3 -68.7h2.7v16.0h-2.7zM-55.3 91.3h2.7v16.0h-2.7zM-52.9 -4.7h2.7v48.0h-2.7zM-52.9 91.3h2.7v16.0h-2.7zM-50.5 -132.7h2.7v16.0h-2.7zM-50.5 43.3h2.7v48.0h-2.7zM-45.7 -20.7h2.7v32.0h-2.7zM-43.3 -148.7h2.7v16.0h-2.7zM-43.3 -4.7h2.7v16.0h-2.7zM-40.9 -148.7h2.7v16.0h-2.7zM-40.9 -4.7h2.7v16.0h-2.7zM-38.5 -148.7h2.7v16.0h-2.7zM-38.5 -68.7h2.7v32.0h-2.7zM-36.1 -148.7h2.7v80.0h-2.7zM-33.7 -20.7h2.7v16.0h-2.7zM-31.3 -20.7h2.7v16.0h-2.7zM-28.9 -20.7h2.7v16.0h-2.7zM-26.5 -52.7h2.7v16.0h-2.7zM-19.3 11.3h2.7v32.0h-2.7zM-16.9 -36.7h2.7v32.0h-2.7zM-14.5 -36.7h2.7v32.0h-2.7zM-7.3 -132.7h2.7v48.0h-2.7zM-0.1 -84.7h2.7v32.0h-2.7zM2.3 -132.7h2.7v16.0h-2.7zM11.9 -36.7h2.7v32.0h-2.7zM14.3 27.3h2.7v32.0h-2.7zM16.7 27.3h2.7v32.0h-2.7zM21.5 -116.7h2.7v32.0h-2.7zM33.5 59.3h2.7v16.0h-2.7zM43.1 -68.7h2.7v32.0h-2.7zM45.5 -4.7h2.7v80.0h-2.7zM47.9 -84.7h2.7v128.0h-2.7zM52.7 59.3h2.7v16.0h-2.7zM55.1 -4.7h2.7v16.0h-2.7zM57.5 -20.7h2.7v16.0h-2.7zM59.9 -20.7h2.7v16.0h-2.7zM64.7 -20.7h2.7v16.0h-2.7zM67.1 -20.7h2.7v32.0h-2.7zM69.5 -20.7h2.7v32.0h-2.7zM71.9 -68.7h2.7v16.0h-2.7zM93.5 59.3h2.7v16.0h-2.7zM95.9 59.3h2.7v16.0h-2.7zM110.3 -36.7h2.7v16.0h-2.7zM112.7 -68.7h2.7v16.0h-2.7zM112.7 -4.7h2.7v16.0h-2.7zM122.3 11.3h2.7v16.0h-2.7zM124.7 -52.7h2.7v48.0h-2.7zM124.7 11.3h2.7v16.0h-2.7zM127.1 -20.7h2.7v16.0h-2.7zM127.1 11.3h2.7v16.0h-2.7z"/>
<path fill="#f6bda2" d="M-112.9 -52.7h2.7v16.0h-2.7zM-110.5 -52.7h2.7v16.0h-2.7zM-108.1 -52.7h2.7v16.0h-2.7zM-105.7 -52.7h2.7v16.0h-2.7zM-103.3 -52.7h2.7v16.0h-2.7zM-100.9 -52.7h2.7v80.0h-2.7zM-98.5 -52.7h2.7v80.0h-2.7zM-96.1 -52.7h2.7v16.0h-2.7zM-76.9 -4.7h2.7v32.0h-2.7zM-69.7 -100.7h2.7v16.0h-2.7zM-67.3 -100.7h2.7v16.0h-2.7zM-55.3 -116.7h2.7v48.0h-2.7zM-52.9 -52.7h2.7v48.0h-2.7zM-50.5 -4.7h2.7v48.0h-2.7zM-48.1 27.3h2.7v64.0h-2.7zM-45.7 11.3h2.7v16.0h-2.7zM-43.3 11.3h2.7v16.0h-2.7zM-40.9 11.3h2.7v16.0h-2.7zM-38.5 -36.7h2.7v32.0h-2.7zM-36.1 -68.7h2.7v16.0h-2.7zM-33.7 -4.7h2.7v16.0h-2.7zM-31.3 -4.7h2.7v16.0h-2.7zM-28.9 -4.7h2.7v16.0h-2.7zM-26.5 -36.7h2.7v16.0h-2.7zM-24.1 -132.7h2.7v64.0h-2.7zM-21.7 -148.7h2.7v16.0h-2.7zM-19.3 -36.7h2.7v48.0h-2.7zM-16.9 -52.7h2.7v16.0h-2.7zM-14.5 -52.7h2.7v16.0h-2.7zM-12.1 -68.7h2.7v16.0h-2.7zM-9.7 -84.7h2.7v16.0h-2.7zM-7.3 123.3h2.7v16.0h-2.7zM-0.1 -52.7h2.7v16.0h-2.7zM11.9 -4.7h2.7v32.0h-2.7zM14.3 59.3h2.7v32.0h-2.7zM16.7 -132.7h2.7v16.0h-2.7zM16.7 59.3h2.7v32.0h-2.7zM43.1 -100.7h2.7v32.0h-2.7zM45.5 -100.7h2.7v96.0h-2.7zM47.9 -100.7h2.7v16.0h-2.7zM50.3 -116.7h2.7v16.0h-2.7zM52.7 75.3h2.7v32.0h-2.7zM55.1 11.3h2.7v16.0h-2.7zM62.3 -20.7h2.7v16.0h-2.7zM62.3 107.3h2.7v16.0h-2.7zM67.1 11.3h2.7v16.0h-2.7zM69.5 11.3h2.7v16.0h-2.7zM71.9 -84.7h2.7v16.0h-2.7zM74.3 -84.7h2.7v16.0h-2.7zM76.7 -84.7h2.7v16.0h-2.7zM83.9 -20.7h2.7v80.0h-2.7zM86.3 -20.7h2.7v80.0h-2.7zM88.7 27.3h2.7v32.0h-2.7zM91.1 43.3h2.7v16.0h-2.7zM93.5 43.3h2.7v16.0h-2.7zM95.9 43.3h2.7v16.0h-2.7zM98.3 27.3h2.7v32.0h-2.7zM100.7 27.3h2.7v32.0h-2.7zM103.1 43.3h2.7v16.0h-2.7zM105.5 43.3h2.7v16.0h-2.7zM119.9 11.3h2.7v16.0h-2.7zM127.1 -52.7h2.7v32.0h-2.7zM129.5 -52.7h2.7v16.0h-2.7zM129.5 -20.7h2.7v16.0h-2.7z"/>
<path fill="#f7b599" d="M-115.3 -20.7h2.7v80.0h-2.7zM-84.1 75.3h2.7v16.0h-2.7zM-76.9 -84.7h2.7v16.0h-2.7zM-76.9 27.3h2.7v32.0h-2.7zM-74.5 -100.7h2.7v16.0h-2.7zM-72.1 -100.7h2.7v16.0h-2.7zM-67.3 -84.7h2.7v64.0h-2.7zM-52.9 -132.7h2.7v80.0h-2.7zM-50.5 -52.7h2.7v48.0h-2.7zM-50.5 91.3h2.7v16.0h-2.7zM-48.1 -52.7h2.7v80.0h-2.7zM-45.7 27.3h2.7v32.0h-2.7zM-43.3 27.3h2.7v16.0h-2.7zM-40.9 27.3h2.7v16.0h-2.7zM-38.5 -4.7h2.7v16.0h-2.7zM-36.1 -52.7h2.7v32.0h-2.7zM-33.7 11.3h2.7v16.0h-2.7zM-26.5 -20.7h2.7v16.0h-2.7zM-24.1 -68.7h2.7v64.0h-2.7zM-19.3 -68.7h2.7v32.0h-2.7zM-16.9 -84.7h2.7v32.0h-2.7zM-14.5 -84.7h2.7v32.0h-2.7zM-12.1 -84.7h2.7v16.0h-2.7zM-9.7 -132.7h2.7v48.0h-2.7zM-2.5 -148.7h2.7v16.0h-2.7zM-0.1 -36.7h2.7v32.0h-2.7zM2.3 -116.7h2.7v32.0h-2.7zM4.7 -132.7h2.7v16.0h-2.7zM9.5 139.3h2.7v16.0h-2.7zM11.9 27.3h2.7v32.0h-2.7zM14.3 91.3h2.7v48.0h-2.7zM16.7 91.3h2.7v48.0h-2.7zM28.7 139.3h2.7v16.0h-2.7zM31.1 139.3h2.7v16.0h-2.7zM33.5 75.3h2.7v80.0h-2.7zM35.9 139.3h2.7v16.0h-2.7zM38.3 139.3h2.7v16.0h-2.7zM40.7 139.3h2.7v16.0h-2.7zM43.1 139.3h2.7v16.0h-2.7zM45.5 139.3h2.7v16.0h-2.7zM57.5 -4.7h2.7v16.0h-2.7zM59.9 -4.7h2.7v16.0h-2.7zM62.3 -4.7h2.7v16.0h-2.7zM64.7 -4.7h2.7v16.0h-2.7zM64.7 107.3h2.7v16.0h-2.7zM67.1 27.3h2.7v16.0h-2.7zM69.5 27.3h2.7v16.0h-2.7zM83.9 -68.7h2.7v48.0h-2.7zM86.3 -68.7h2.7v48.0h-2.7zM88.7 -84.7h2.7v16.0h-2.7zM88.7 -20.7h2.7v48.0h-2.7zM91.1 -84.7h2.7v16.0h-2.7zM91.1 11.3h2.7v32.0h-2.7zM93.5 11.3h2.7v32.0h-2.7zM95.9 11.3h2.7v32.0h-2.7zM98.3 -4.7h2.7v32.0h-2.7zM100.7 -52.7h2.7v80.0h-2.7zM103.1 -68.7h2.7v16.0h-2.7zM103.1 27.3h2.7v16.0h-2.7zM105.5 27.3h2.7v16.0h-2.7zM107.9 -52.7h2.7v16.0h-2.7zM110.3 -20.7h2.7v16.0h-2.7zM117.5 11.3h2.7v16.0h-2.7zM129.5 -36.7h2.7v16.0h-2.7zM131.9 -52.7h2.7v16.0h-2.7zM131.9 -20.7h2.7v16.0h-2.7z"/>
<path fill="#f7ac8e" d="M-122.5 -36.7h2.7v16.0h-2.7zM-120.1 -36.7h2.7v16.0h-2.7zM-117.7 -36.7h2.7v16.0h-2.7zM-115.3 -36.7h2.7v16.0h-2.7zM-112.9 -36.7h2.7v96.0h-2.7zM-110.5 -36.7h2.7v96.0h-2.7zM-108.1 -36.7h2.7v32.0h-2.7zM-108.1 59.3h2.7v16.0h-2.7zM-105.7 -36.7h2.7v32.0h-2.7zM-103.3 -36.7h2.7v64.0h-2.7zM-81.7 75.3h2.7v16.0h-2.7zM-79.3 -100.7h2.7v16.0h-2.7zM-76.9 -100.7h2.7v16.0h-2.7zM-76.9 59.3h2.7v16.0h-2.7zM-69.7 -84.7h2.7v32.0h-2.7zM-67.3 -20.7h2.7v64.0h-2.7zM-67.3 75.3h2.7v16.0h-2.7zM-62.5 -132.7h2.7v16.0h-2.7zM-60.1 -132.7h2.7v16.0h-2.7zM-57.7 -132.7h2.7v16.0h-2.7zM-55.3 -132.7h2.7v16.0h-2.7zM-50.5 -116.7h2.7v64.0h-2.7zM-48.1 -116.7h2.7v64.0h-2.7zM-45.7 59.3h2.7v16.0h-2.7zM-43.3 43.3h2.7v16.0h-2.7zM-40.9 43.3h2.7v16.0h-2.7zM-38.5 11.3h2.7v32.0h-2.7zM-36.1 -20.7h2.7v32.0h-2.7zM-31.3 11.3h2.7v16.0h-2.7zM-28.9 11.3h2.7v16.0h-2.7zM-26.5 -4.7h2.7v32.0h-2.7zM-24.1 -4.7h2.7v64.0h-2.7zM-21.7 -132.7h2.7v160.0h-2.7zM-19.3 -148.7h2.7v80.0h-2.7zM-16.9 -148.7h2.7v64.0h-2.7zM-14.5 -148.7h2.7v64.0h-2.7zM-12.1 -148.7h2.7v64.0h-2.7zM-9.7 -148.7h2.7v16.0h-2.7zM-7.3 -148.7h2.7v16.0h-2.7zM-4.9 -148.7h2.7v16.0h-2.7zM-0.1 -4.7h2.7v32.0h-2.7zM2.3 -84.7h2.7v32.0h-2.7zM4.7 -116.7h2.7v48.0h-2.7zM7.1 -132.7h2.7v64.0h-2.7zM9.5 -132.7h2.7v64.0h-2.7zM11.9 -132.7h2.7v16.0h-2.7zM11.9 59.3h2.7v32.0h-2.7zM11.9 123.3h2.7v16.0h-2.7zM14.3 -132.7h2.7v16.0h-2.7zM55.1 27.3h2.7v16.0h-2.7zM57.5 11.3h2.7v16.0h-2.7zM64.7 11.3h2.7v16.0h-2.7zM67.1 43.3h2.7v32.0h-2.7zM69.5 43.3h2.7v32.0h-2.7zM71.9 75.3h2.7v16.0h-2.7zM88.7 -52.7h2.7v32.0h-2.7zM91.1 -20.7h2.7v32.0h-2.7zM93.5 -84.7h2.7v16.0h-2.7zM93.5 -20.7h2.7v32.0h-2.7zM95.9 -20.7h2.7v32.0h-2.7zM98.3 -52.7h2.7v48.0h-2.7zM100.7 -68.7h2.7v16.0h-2.7zM103.1 -52.7h2.7v32.0h-2.7zM105.5 -68.7h2.7v16.0h-2.7zM107.9 -68.7h2.7v16.0h-2.7zM107.9 -36.7h2.7v16.0h-2.7zM107.9 27.3h2.7v16.0h-2.7zM110.3 -68.7h2.7v16.0h-2.7zM110.3 -4.7h2.7v16.0h-2.7zM110.3 27.3h2.7v16.0h-2.7zM134.3 -20.7h2.7v16.0h-2.7z"/>
<path fill="#f6a385" d="M-117.7 59.3h2.7v16.0h-2.7zM-115.3 59.3h2.7v16.0h-2.7zM-112.9 59.3h2.7v16.0h-2.7zM-110.5 59.3h2.7v16.0h-2.7zM-108.1 -4.7h2.7v64.0h-2.7zM-105.7 -4.7h2.7v64.0h-2.7zM-103.3 27.3h2.7v32.0h-2.7zM-84.1 -100.7h2.7v16.0h-2.7zM-81.7 -100.7h2.7v16.0h-2.7zM-79.3 75.3h2.7v16.0h-2.7zM-76.9 75.3h2.7v16.0h-2.7zM-74.5 -84.7h2.7v160.0h-2.7zM-72.1 -84.7h2.7v176.0h-2.7zM-69.7 -52.7h2.7v144.0h-2.7zM-67.3 43.3h2.7v32.0h-2.7zM-45.7 75.3h2.7v16.0h-2.7zM-43.3 59.3h2.7v16.0h-2.7zM-40.9 59.3h2.7v16.0h-2.7zM-38.5 43.3h2.7v16.0h-2.7zM-36.1 11.3h2.7v32.0h-2.7zM-33.7 27.3h2.7v16.0h-2.7zM-31.3 27.3h2.7v16.0h-2.7zM-28.9 27.3h2.7v16.0h-2.7zM-26.5 27.3h2.7v16.0h-2.7zM-26.5 107.3h2.7v16.0h-2.7zM-24.1 59.3h2.7v64.0h-2.7zM-21.7 27.3h2.7v80.0h-2.7zM-0.1 27.3h2.7v32.0h-2.7zM2.3 -52.7h2.7v16.0h-2.7zM4.7 -68.7h2.7v16.0h-2.7zM7.1 -68.7h2.7v16.0h-2.7zM9.5 -68.7h2.7v32.0h-2.7zM11.9 91.3h2.7v32.0h-2.7zM55.1 43.3h2.7v16.0h-2.7zM59.9 11.3h2.7v16.0h-2.7zM62.3 11.3h2.7v16.0h-2.7zM64.7 27.3h2.7v16.0h-2.7zM67.1 75.3h2.7v16.0h-2.7zM67.1 107.3h2.7v16.0h-2.7zM69.5 75.3h2.7v16.0h-2.7zM88.7 -68.7h2.7v16.0h-2.7zM91.1 -36.7h2.7v16.0h-2.7zM93.5 -36.7h2.7v16.0h-2.7zM95.9 -84.7h2.7v16.0h-2.7zM95.9 -36.7h2.7v16.0h-2.7zM98.3 -68.7h2.7v16.0h-2.7zM103.1 -20.7h2.7v48.0h-2.7zM105.5 -52.7h2.7v16.0h-2.7zM107.9 -20.7h2.7v32.0h-2.7zM112.7 11.3h2.7v32.0h-2.7zM115.1 11.3h2.7v16.0h-2.7zM136.7 -20.7h2.7v16.0h-2.7z"/>
<path fill="#f4987a" d="M-74.5 75.3h2.7v16.0h-2.7zM-48.1 91.3h2.7v16.0h-2.7zM-43.3 75.3h2.7v16.0h-2.7zM-40.9 75.3h2.7v16.0h-2.7zM-38.5 59.3h2.7v32.0h-2.7zM-36.1 43.3h2.7v16.0h-2.7zM-33.7 43.3h2.7v16.0h-2.7zM-31.3 43.3h2.7v16.0h-2.7zM-28.9 43.3h2.7v16.0h-2.7zM-28.9 107.3h2.7v16.0h-2.7zM-26.5 43.3h2.7v16.0h-2.7zM-0.1 59.3h2.7v16.0h-2.7zM2.3 -36.7h2.7v32.0h-2.7zM4.7 -52.7h2.7v32.0h-2.7zM7.1 -52.7h2.7v32.0h-2.7zM9.5 -36.7h2.7v32.0h-2.7zM55.1 59.3h2.7v16.0h-2.7zM57.5 27.3h2.7v16.0h-2.7zM59.9 27.3h2.7v16.0h-2.7zM62.3 27.3h2.7v16.0h-2.7zM64.7 43.3h2.7v16.0h-2.7zM91.1 -68.7h2.7v32.0h-2.7zM93.5 -68.7h2.7v32.0h-2.7zM95.9 -68.7h2.7v32.0h-2.7zM98.3 -84.7h2.7v16.0h-2.7zM100.7 -84.7h2.7v16.0h-2.7zM105.5 -36.7h2.7v32.0h-2.7zM107.9 11.3h2.7v16.0h-2.7zM110.3 11.3h2.7v16.0h-2.7zM115.1 27.3h2.7v16.0h-2.7zM117.5 27.3h2.7v16.0h-2.7zM131.9 -36.7h2.7v16.0h-2.7zM134.3 -52.7h2.7v16.0h-2.7zM139.1 -20.7h2.7v16.0h-2.7z"/>
<path fill="#f18f71" d="M-45.7 91.3h2.7v16.0h-2.7zM-43.3 91.3h2.7v16.0h-2.7zM-40.9 91.3h2.7v16.0h-2.7zM-38.5 91.3h2.7v16.0h-2.7zM-36.1 59.3h2.7v32.0h-2.7zM-33.7 59.3h2.7v16.0h-2.7zM-31.3 59.3h2.7v16.0h-2.7zM-28.9 59.3h2.7v16.0h-2.7zM-26.5 59.3h2.7v16.0h-2.7zM-4.9 123.3h2.7v16.0h-2.7zM-0.1 75.3h2.7v48.0h-2.7zM2.3 -4.7h2.7v16.0h-2.7zM4.7 -20.7h2.7v32.0h-2.7zM7.1 -20.7h2.7v32.0h-2.7zM9.5 -4.7h2.7v32.0h-2.7zM9.5 123.3h2.7v16.0h-2.7zM55.1 75.3h2.7v32.0h-2.7zM64.7 59.3h2.7v16.0h-2.7zM105.5 -4.7h2.7v32.0h-2.7zM134.3 -36.7h2.7v16.0h-2.7zM136.7 -52.7h2.7v32.0h-2.7zM139.1 -52.7h2.7v32.0h-2.7zM141.5 -52.7h2.7v48.0h-2.7zM143.9 -52.7h2.7v48.0h-2.7zM146.3 -52.7h2.7v48.0h-2.7z"/>
<path fill="#ee8468" d="M-36.1 91.3h2.7v16.0h-2.7zM-33.7 75.3h2.7v16.0h-2.7zM-31.3 75.3h2.7v16.0h-2.7zM-31.3 107.3h2.7v16.0h-2.7zM-28.9 75.3h2.7v16.0h-2.7zM-26.5 75.3h2.7v16.0h-2.7zM2.3 11.3h2.7v32.0h-2.7zM4.7 11.3h2.7v16.0h-2.7zM7.1 11.3h2.7v16.0h-2.7zM9.5 27.3h2.7v32.0h-2.7zM57.5 43.3h2.7v16.0h-2.7zM59.9 43.3h2.7v16.0h-2.7zM62.3 43.3h2.7v16.0h-2.7zM64.7 75.3h2.7v16.0h-2.7z"/>
<path fill="#e9785d" d="M-40.9 107.3h2.7v16.0h-2.7zM-38.5 107.3h2.7v16.0h-2.7zM-36.1 107.3h2.7v16.0h-2.7zM-33.7 91.3h2.7v32.0h-2.7zM-31.3 91.3h2.7v16.0h-2.7zM-28.9 91.3h2.7v16.0h-2.7zM-26.5 91.3h2.7v16.0h-2.7zM2.3 43.3h2.7v16.0h-2.7zM4.7 27.3h2.7v32.0h-2.7zM7.1 27.3h2.7v32.0h-2.7zM9.5 59.3h2.7v64.0h-2.7zM57.5 59.3h2.7v16.0h-2.7zM59.9 59.3h2.7v16.0h-2.7zM62.3 59.3h2.7v16.0h-2.7zM76.7 91.3h2.7v16.0h-2.7z"/>
<path fill="#e36c55" d="M2.3 59.3h2.7v32.0h-2.7zM4.7 59.3h2.7v32.0h-2.7zM7.1 59.3h2.7v32.0h-2.7zM57.5 75.3h2.7v32.0h-2.7zM59.9 75.3h2.7v32.0h-2.7zM62.3 75.3h2.7v32.0h-2.7zM64.7 91.3h2.7v16.0h-2.7zM67.1 91.3h2.7v16.0h-2.7zM69.5 91.3h2.7v16.0h-2.7zM71.9 91.3h2.7v16.0h-2.7zM74.3 91.3h2.7v16.0h-2.7z"/>
<path fill="#dd5f4b" d="M-2.5 123.3h2.7v16.0h-2.7zM-0.1 123.3h2.7v16.0h-2.7zM2.3 91.3h2.7v48.0h-2.7zM4.7 91.3h2.7v48.0h-2.7zM7.1 91.3h2.7v48.0h-2.7z"/>
</g></g></g>
<rect x="55.00" y="260.20" width="207.50" height="207.50" fill="url(#pt_sa2)" opacity="1.00"/>
</g>
<g transform="matrix(0.98964 0 0 1 3.378 0)">
<rect x="326.05" y="260.20" width="207.50" height="207.50" fill="#d0dbea"/>
<rect x="326.05" y="260.20" width="207.50" height="207.50" fill="url(#pt_lga)" opacity="0.55"/>
</g>
<g transform="matrix(0.99807 0 0 1 1.066 0)">
<rect x="552.90" y="260.20" width="207.50" height="207.50" fill="#fef2ed"/>
<rect x="552.90" y="260.20" width="207.50" height="207.50" fill="url(#pt_la)" opacity="1.00"/>
</g>
<g transform="matrix(0.98747 0 0 1 9.799 0)">
<rect x="782.00" y="260.20" width="207.50" height="207.50" fill="#fef2ed"/>
<rect x="782.00" y="260.20" width="207.50" height="207.50" fill="url(#pt_la)" opacity="1.00"/>
</g>
<text x="30.80" y="363.95" font-size="22.90" text-anchor="middle" font-weight="normal" font-family="'DejaVu Sans', 'Liberation Sans', sans-serif" transform="rotate(-90 30.80 363.95)">Surf2</text>
<text x="301.30" y="363.95" font-size="22.90" text-anchor="middle" font-weight="normal" font-family="'DejaVu Sans', 'Liberation Sans', sans-serif" transform="rotate(-90 301.30 363.95)">Grad2</text>
<g transform="matrix(0.99711 0 0 1 0.159 0)">
<g clip-path="url(#cp7)"><g filter="url(#bl8)"><g transform="translate(158.75 586.85) rotate(57.00)">
<path fill="#96b7ff" d="M-148.9 11.3h2.7v32.0h-2.7zM-146.5 11.3h2.7v32.0h-2.7zM-144.1 -4.7h2.7v48.0h-2.7zM-141.7 -4.7h2.7v64.0h-2.7zM-139.3 11.3h2.7v48.0h-2.7zM-136.9 11.3h2.7v32.0h-2.7zM-134.5 11.3h2.7v32.0h-2.7zM-132.1 11.3h2.7v32.0h-2.7z"/>
<path fill="#9ebeff" d="M-139.3 -4.7h2.7v16.0h-2.7z"/>
<path fill="#a7c5fe" d="M-16.9 123.3h2.7v16.0h-2.7zM-14.5 123.3h2.7v16.0h-2.7zM-12.1 123.3h2.7v16.0h-2.7zM-9.7 43.3h2.7v80.0h-2.7zM-7.3 43.3h2.7v80.0h-2.7z"/>
<path fill="#afcafc" d="M-136.9 -4.7h2.7v16.0h-2.7zM-67.3 75.3h2.7v32.0h-2.7zM-64.9 75.3h2.7v16.0h-2.7zM-62.5 59.3h2.7v32.0h-2.7zM-60.1 43.3h2.7v48.0h-2.7zM-57.7 59.3h2.7v32.0h-2.7zM-12.1 59.3h2.7v64.0h-2.7zM-9.7 -4.7h2.7v48.0h-2.7zM-7.3 -4.7h2.7v48.0h-2.7zM-4.9 75.3h2.7v48.0h-2.7zM69.5 -84.7h2.7v16.0h-2.7zM71.9 -84.7h2.7v16.0h-2.7z"/>
<path fill="#b9d0f9" d="M-136.9 43.3h2.7v16.0h-2.7zM-129.7 11.3h2.7v32.0h-2.7zM-64.9 43.3h2.7v32.0h-2.7zM-64.9 91.3h2.7v16.0h-2.7zM-62.5 27.3h2.7v32.0h-2.7zM-60.1 -4.7h2.7v48.0h-2.7zM-57.7 11.3h2.7v48.0h-2.7zM-12.1 -4.7h2.7v64.0h-2.7zM-9.7 -36.7h2.7v32.0h-2.7zM-7.3 -36.7h2.7v32.0h-2.7zM-4.9 43.3h2.7v32.0h-2.7zM35.9 -100.7h2.7v48.0h-2.7zM38.3 -100.7h2.7v48.0h-2.7zM40.7 -116.7h2.7v48.0h-2.7zM43.1 -116.7h2.7v16.0h-2.7zM45.5 -116.7h2.7v16.0h-2.7zM47.9 -116.7h2.7v16.0h-2.7zM71.9 -68.7h2.7v16.0h-2.7z"/>
<path fill="#c0d4f5" d="M-134.5 -4.7h2.7v16.0h-2.7zM-67.3 59.3h2.7v16.0h-2.7zM-64.9 11.3h2.7v32.0h-2.7zM-62.5 -4.7h2.7v32.0h-2.7zM-60.1 -52.7h2.7v48.0h-2.7zM-57.7 -52.7h2.7v64.0h-2.7zM-12.1 -68.7h2.7v64.0h-2.7zM-9.7 -132.7h2.7v96.0h-2.7zM-7.3 -132.7h2.7v96.0h-2.7zM-4.9 -148.7h2.7v16.0h-2.7zM-4.9 -4.7h2.7v48.0h-2.7zM-2.5 -148.7h2.7v16.0h-2.7zM-0.1 -148.7h2.7v16.0h-2.7zM33.5 -100.7h2.7v16.0h-2.7zM35.9 -52.7h2.7v64.0h-2.7zM38.3 -52.7h2.7v64.0h-2.7zM40.7 -68.7h2.7v64.0h-2.7zM43.1 -100.7h2.7v32.0h-2.7zM50.3 -116.7h2.7v16.0h-2.7zM69.5 -68.7h2.7v16.0h-2.7zM71.9 -52.7h2.7v32.0h-2.7zM74.3 -84.7h2.7v160.0h-2.7zM76.7 -84.7h2.7v160.0h-2.7zM79.1 -84.7h2.7v160.0h-2.7zM81.5 -84.7h2.7v16.0h-2.7zM81.5 27.3h2.7v48.0h-2.7zM83.9 -84.7h2.7v16.0h-2.7zM83.9 59.3h2.7v16.0h-2.7zM86.3 59.3h2.7v32.0h-2.7zM88.7 59.3h2.7v16.0h-2.7zM91.1 59.3h2.7v16.0h-2.7zM93.5 59.3h2.7v16.0h-2.7zM95.9 59.3h2.7v16.0h-2.7z"/>
<path fill="#c7d7f0" d="M-132.1 -4.7h2.7v16.0h-2.7zM-72.1 -116.7h2.7v16.0h-2.7zM-69.7 -116.7h2.7v16.0h-2.7zM-67.3 -116.7h2.7v16.0h-2.7zM-67.3 11.3h2.7v48.0h-2.7zM-64.9 -116.7h2.7v16.0h-2.7zM-64.9 -4.7h2.7v16.0h-2.7zM-62.5 -116.7h2.7v16.0h-2.7zM-62.5 -36.7h2.7v32.0h-2.7zM-60.1 -116.7h2.7v64.0h-2.7zM-57.7 -116.7h2.7v64.0h-2.7zM-55.3 -116.7h2.7v64.0h-2.7zM-52.9 -116.7h2.7v48.0h-2.7zM-50.5 -116.7h2.7v48.0h-2.7zM-12.1 -132.7h2.7v64.0h-2.7zM-4.9 -36.7h2.7v32.0h-2.7zM33.5 -84.7h2.7v32.0h-2.7zM35.9 11.3h2.7v48.0h-2.7zM38.3 -116.7h2.7v16.0h-2.7zM38.3 11.3h2.7v48.0h-2.7zM40.7 -4.7h2.7v64.0h-2.7zM43.1 -68.7h2.7v112.0h-2.7zM45.5 -100.7h2.7v64.0h-2.7zM47.9 -100.7h2.7v32.0h-2.7zM50.3 -100.7h2.7v16.0h-2.7zM69.5 -52.7h2.7v16.0h-2.7zM71.9 -20.7h2.7v32.0h-2.7zM81.5 -4.7h2.7v32.0h-2.7zM83.9 43.3h2.7v16.0h-2.7zM86.3 43.3h2.7v16.0h-2.7zM88.7 43.3h2.7v16.0h-2.7zM127.1 -36.7h2.7v32.0h-2.7zM129.5 -52.7h2.7v48.0h-2.7zM131.9 -52.7h2.7v16.0h-2.7zM131.9 -20.7h2.7v16.0h-2.7zM134.3 -52.7h2.7v16.0h-2.7z"/>
<path fill="#cfdaea" d="M-69.7 75.3h2.7v16.0h-2.7zM-67.3 -20.7h2.7v32.0h-2.7zM-64.9 -36.7h2.7v32.0h-2.7zM-62.5 -132.7h2.7v16.0h-2.7zM-62.5 -100.7h2.7v64.0h-2.7zM-55.3 -52.7h2.7v64.0h-2.7zM-52.9 -68.7h2.7v16.0h-2.7zM-50.5 -68.7h2.7v16.0h-2.7zM-9.7 123.3h2.7v16.0h-2.7zM-7.3 -148.7h2.7v16.0h-2.7zM-4.9 -84.7h2.7v48.0h-2.7zM33.5 -52.7h2.7v32.0h-2.7zM35.9 59.3h2.7v80.0h-2.7zM38.3 59.3h2.7v80.0h-2.7zM40.7 59.3h2.7v80.0h-2.7zM43.1 43.3h2.7v96.0h-2.7zM45.5 -36.7h2.7v48.0h-2.7zM45.5 123.3h2.7v16.0h-2.7zM47.9 -68.7h2.7v16.0h-2.7zM47.9 123.3h2.7v16.0h-2.7zM50.3 123.3h2.7v16.0h-2.7zM52.7 123.3h2.7v16.0h-2.7zM55.1 123.3h2.7v16.0h-2.7zM69.5 -36.7h2.7v16.0h-2.7zM71.9 11.3h2.7v32.0h-2.7zM81.5 -52.7h2.7v48.0h-2.7zM83.9 11.3h2.7v32.0h-2.7zM83.9 75.3h2.7v16.0h-2.7zM86.3 11.3h2.7v32.0h-2.7zM88.7 27.3h2.7v16.0h-2.7zM91.1 43.3h2.7v16.0h-2.7zM93.5 43.3h2.7v16.0h-2.7zM131.9 -36.7h2.7v16.0h-2.7zM134.3 -20.7h2.7v16.0h-2.7zM136.7 -52.7h2.7v16.0h-2.7z"/>
<path fill="#d6dce4" d="M-134.5 43.3h2.7v16.0h-2.7zM-129.7 -4.7h2.7v16.0h-2.7zM-103.3 59.3h2.7v16.0h-2.7zM-100.9 59.3h2.7v16.0h-2.7zM-98.5 43.3h2.7v16.0h-2.7zM-96.1 43.3h2.7v16.0h-2.7zM-67.3 -52.7h2.7v32.0h-2.7zM-64.9 -68.7h2.7v32.0h-2.7zM-62.5 91.3h2.7v16.0h-2.7zM-60.1 -132.7h2.7v16.0h-2.7zM-57.7 -132.7h2.7v16.0h-2.7zM-55.3 11.3h2.7v48.0h-2.7zM-52.9 -52.7h2.7v16.0h-2.7zM-50.5 -52.7h2.7v16.0h-2.7zM-48.1 -116.7h2.7v48.0h-2.7zM-14.5 -132.7h2.7v256.0h-2.7zM-4.9 -132.7h2.7v48.0h-2.7zM33.5 -20.7h2.7v32.0h-2.7zM45.5 11.3h2.7v48.0h-2.7zM47.9 -52.7h2.7v32.0h-2.7zM50.3 -84.7h2.7v16.0h-2.7zM52.7 -100.7h2.7v16.0h-2.7zM67.1 -84.7h2.7v16.0h-2.7zM69.5 -20.7h2.7v16.0h-2.7zM71.9 43.3h2.7v16.0h-2.7zM81.5 -68.7h2.7v16.0h-2.7zM81.5 75.3h2.7v16.0h-2.7zM83.9 -4.7h2.7v16.0h-2.7zM86.3 -84.7h2.7v16.0h-2.7zM86.3 -4.7h2.7v16.0h-2.7zM88.7 11.3h2.7v16.0h-2.7zM91.1 27.3h2.7v16.0h-2.7zM95.9 43.3h2.7v16.0h-2.7zM98.3 43.3h2.7v16.0h-2.7zM100.7 43.3h2.7v16.0h-2.7zM103.1 43.3h2.7v16.0h-2.7zM139.1 -4.7h2.7v16.0h-2.7z"/>
<path fill="#dddcdc" d="M-105.7 59.3h2.7v16.0h-2.7zM-98.5 27.3h2.7v16.0h-2.7zM-98.5 59.3h2.7v16.0h-2.7zM-96.1 27.3h2.7v16.0h-2.7zM-79.3 -100.7h2.7v16.0h-2.7zM-76.9 -100.7h2.7v16.0h-2.7zM-74.5 -100.7h2.7v16.0h-2.7zM-72.1 -100.7h2.7v16.0h-2.7zM-69.7 -100.7h2.7v16.0h-2.7zM-67.3 -100.7h2.7v48.0h-2.7zM-64.9 -100.7h2.7v32.0h-2.7zM-55.3 -132.7h2.7v16.0h-2.7zM-55.3 59.3h2.7v32.0h-2.7zM-52.9 -132.7h2.7v16.0h-2.7zM-52.9 -36.7h2.7v32.0h-2.7zM-50.5 -36.7h2.7v16.0h-2.7zM-48.1 -68.7h2.7v16.0h-2.7zM-21.7 107.3h2.7v16.0h-2.7zM-19.3 -132.7h2.7v256.0h-2.7zM-16.9 -148.7h2.7v272.0h-2.7zM-14.5 -148.7h2.7v16.0h-2.7zM-12.1 -148.7h2.7v16.0h-2.7zM-9.7 -148.7h2.7v16.0h-2.7zM-2.5 -132.7h2.7v80.0h-2.7zM-0.1 -132.7h2.7v64.0h-2.7zM2.3 -132.7h2.7v16.0h-2.7zM33.5 11.3h2.7v48.0h-2.7zM45.5 59.3h2.7v64.0h-2.7zM47.9 -20.7h2.7v16.0h-2.7zM50.3 -68.7h2.7v32.0h-2.7zM67.1 -68.7h2.7v16.0h-2.7zM69.5 -4.7h2.7v16.0h-2.7zM71.9 59.3h2.7v16.0h-2.7zM83.9 -20.7h2.7v16.0h-2.7zM86.3 -20.7h2.7v16.0h-2.7zM88.7 -20.7h2.7v32.0h-2.7zM91.1 -4.7h2.7v32.0h-2.7zM93.5 -20.7h2.7v64.0h-2.7zM95.9 -36.7h2.7v80.0h-2.7zM98.3 -36.7h2.7v80.0h-2.7zM100.7 -36.7h2.7v80.0h-2.7zM103.1 27.3h2.7v16.0h-2.7zM105.5 27.3h2.7v32.0h-2.7zM107.9 43.3h2.7v16.0h-2.7zM136.7 -20.7h2.7v32.0h-2.7z"/>
<path fill="#e3d9d3" d="M-127.3 -4.7h2.7v48.0h-2.7zM-120.1 -36.7h2.7v16.0h-2.7zM-117.7 -36.7h2.7v16.0h-2.7zM-103.3 -68.7h2.7v16.0h-2.7zM-100.9 -68.7h2.7v16.0h-2.7zM-98.5 -68.7h2.7v16.0h-2.7zM-98.5 11.3h2.7v16.0h-2.7zM-96.1 -68.7h2.7v16.0h-2.7zM-96.1 11.3h2.7v16.0h-2.7zM-93.7 -68.7h2.7v16.0h-2.7zM-91.3 -52.7h2.7v32.0h-2.7zM-88.9 -52.7h2.7v16.0h-2.7zM-52.9 -4.7h2.7v16.0h-2.7zM-50.5 -132.7h2.7v16.0h-2.7zM-50.5 -20.7h2.7v16.0h-2.7zM-48.1 -132.7h2.7v16.0h-2.7zM-48.1 -52.7h2.7v32.0h-2.7zM-45.7 -132.7h2.7v80.0h-2.7zM-43.3 -132.7h2.7v80.0h-2.7zM-40.9 -132.7h2.7v80.0h-2.7zM-2.5 -52.7h2.7v64.0h-2.7zM-0.1 -68.7h2.7v32.0h-2.7zM33.5 59.3h2.7v80.0h-2.7zM35.9 -116.7h2.7v16.0h-2.7zM47.9 -4.7h2.7v32.0h-2.7zM50.3 -36.7h2.7v32.0h-2.7zM52.7 -84.7h2.7v16.0h-2.7zM55.1 -100.7h2.7v16.0h-2.7zM57.5 -100.7h2.7v16.0h-2.7zM59.9 -100.7h2.7v16.0h-2.7zM67.1 -52.7h2.7v16.0h-2.7zM69.5 11.3h2.7v16.0h-2.7zM79.1 75.3h2.7v16.0h-2.7zM83.9 -36.7h2.7v16.0h-2.7zM86.3 -36.7h2.7v16.0h-2.7zM88.7 -36.7h2.7v16.0h-2.7zM91.1 -36.7h2.7v32.0h-2.7zM93.5 -68.7h2.7v48.0h-2.7zM95.9 -68.7h2.7v32.0h-2.7zM98.3 -68.7h2.7v32.0h-2.7zM100.7 -68.7h2.7v32.0h-2.7zM103.1 -68.7h2.7v16.0h-2.7zM107.9 27.3h2.7v16.0h-2.7zM124.7 -36.7h2.7v32.0h-2.7zM127.1 -52.7h2.7v16.0h-2.7zM134.3 -4.7h2.7v16.0h-2.7z"/>
<path fill="#e9d5cb" d="M-122.5 -36.7h2.7v16.0h-2.7zM-115.3 -36.7h2.7v16.0h-2.7zM-112.9 -36.7h2.7v16.0h-2.7zM-110.5 -36.7h2.7v64.0h-2.7zM-108.1 -36.7h2.7v32.0h-2.7zM-105.7 -36.7h2.7v16.0h-2.7zM-100.9 27.3h2.7v32.0h-2.7zM-98.5 -4.7h2.7v16.0h-2.7zM-96.1 -20.7h2.7v32.0h-2.7zM-91.3 -68.7h2.7v16.0h-2.7zM-91.3 -20.7h2.7v64.0h-2.7zM-88.9 -36.7h2.7v48.0h-2.7zM-69.7 -84.7h2.7v32.0h-2.7zM-52.9 11.3h2.7v16.0h-2.7zM-50.5 -4.7h2.7v32.0h-2.7zM-48.1 -20.7h2.7v16.0h-2.7zM-45.7 -52.7h2.7v32.0h-2.7zM-43.3 -52.7h2.7v48.0h-2.7zM-40.9 -52.7h2.7v48.0h-2.7zM-2.5 11.3h2.7v64.0h-2.7zM-0.1 -36.7h2.7v48.0h-2.7zM2.3 -116.7h2.7v80.0h-2.7zM4.7 -132.7h2.7v16.0h-2.7zM31.1 -100.7h2.7v32.0h-2.7zM47.9 27.3h2.7v32.0h-2.7zM50.3 -4.7h2.7v32.0h-2.7zM52.7 -68.7h2.7v32.0h-2.7zM55.1 -84.7h2.7v16.0h-2.7zM67.1 -36.7h2.7v16.0h-2.7zM69.5 27.3h2.7v16.0h-2.7zM76.7 75.3h2.7v16.0h-2.7zM83.9 -52.7h2.7v16.0h-2.7zM86.3 -52.7h2.7v16.0h-2.7zM88.7 -84.7h2.7v16.0h-2.7zM88.7 -52.7h2.7v16.0h-2.7zM91.1 -68.7h2.7v32.0h-2.7zM131.9 -4.7h2.7v16.0h-2.7z"/>
<path fill="#eed0c0" d="M-124.9 -36.7h2.7v16.0h-2.7zM-110.5 27.3h2.7v32.0h-2.7zM-108.1 -4.7h2.7v16.0h-2.7zM-105.7 -20.7h2.7v32.0h-2.7zM-100.9 -4.7h2.7v32.0h-2.7zM-98.5 -36.7h2.7v32.0h-2.7zM-96.1 -36.7h2.7v16.0h-2.7zM-96.1 59.3h2.7v16.0h-2.7zM-93.7 -52.7h2.7v128.0h-2.7zM-91.3 43.3h2.7v32.0h-2.7zM-88.9 -68.7h2.7v16.0h-2.7zM-88.9 11.3h2.7v48.0h-2.7zM-81.7 -100.7h2.7v16.0h-2.7zM-69.7 -52.7h2.7v64.0h-2.7zM-52.9 27.3h2.7v16.0h-2.7zM-50.5 27.3h2.7v16.0h-2.7zM-48.1 -4.7h2.7v32.0h-2.7zM-45.7 -20.7h2.7v32.0h-2.7zM-43.3 -4.7h2.7v64.0h-2.7zM-40.9 -4.7h2.7v64.0h-2.7zM-21.7 -132.7h2.7v112.0h-2.7zM-19.3 -148.7h2.7v16.0h-2.7zM-2.5 75.3h2.7v48.0h-2.7zM-0.1 11.3h2.7v48.0h-2.7zM2.3 -36.7h2.7v48.0h-2.7zM7.1 -132.7h2.7v16.0h-2.7zM31.1 -68.7h2.7v32.0h-2.7zM47.9 59.3h2.7v16.0h-2.7zM47.9 107.3h2.7v16.0h-2.7zM50.3 27.3h2.7v32.0h-2.7zM52.7 -36.7h2.7v16.0h-2.7zM55.1 -68.7h2.7v16.0h-2.7zM67.1 -20.7h2.7v16.0h-2.7zM69.5 43.3h2.7v16.0h-2.7zM83.9 -68.7h2.7v16.0h-2.7zM86.3 -68.7h2.7v16.0h-2.7zM88.7 -68.7h2.7v16.0h-2.7zM91.1 -84.7h2.7v16.0h-2.7zM93.5 -84.7h2.7v16.0h-2.7zM95.9 -84.7h2.7v16.0h-2.7zM98.3 -84.7h2.7v16.0h-2.7zM105.5 -68.7h2.7v16.0h-2.7zM110.3 27.3h2.7v16.0h-2.7zM139.1 -20.7h2.7v16.0h-2.7z"/>
<path fill="#f2cbb7" d="M-132.1 43.3h2.7v16.0h-2.7zM-112.9 -52.7h2.7v16.0h-2.7zM-112.9 -20.7h2.7v80.0h-2.7zM-110.5 -52.7h2.7v16.0h-2.7zM-108.1 -52.7h2.7v16.0h-2.7zM-108.1 11.3h2.7v32.0h-2.7zM-105.7 -52.7h2.7v16.0h-2.7zM-105.7 11.3h2.7v16.0h-2.7zM-103.3 -52.7h2.7v16.0h-2.7zM-100.9 -52.7h2.7v48.0h-2.7zM-98.5 -52.7h2.7v16.0h-2.7zM-96.1 -52.7h2.7v16.0h-2.7zM-88.9 59.3h2.7v16.0h-2.7zM-86.5 -68.7h2.7v32.0h-2.7zM-72.1 75.3h2.7v16.0h-2.7zM-69.7 11.3h2.7v64.0h-2.7zM-60.1 91.3h2.7v16.0h-2.7zM-52.9 43.3h2.7v16.0h-2.7zM-50.5 -148.7h2.7v16.0h-2.7zM-50.5 43.3h2.7v16.0h-2.7zM-48.1 27.3h2.7v16.0h-2.7zM-45.7 11.3h2.7v32.0h-2.7zM-43.3 59.3h2.7v48.0h-2.7zM-40.9 59.3h2.7v48.0h-2.7zM-38.5 -132.7h2.7v240.0h-2.7zM-24.1 107.3h2.7v16.0h-2.7zM-21.7 -20.7h2.7v80.0h-2.7zM-7.3 123.3h2.7v16.0h-2.7zM-4.9 123.3h2.7v16.0h-2.7zM-2.5 123.3h2.7v16.0h-2.7zM-0.1 59.3h2.7v64.0h-2.7zM2.3 11.3h2.7v64.0h-2.7zM4.7 -116.7h2.7v48.0h-2.7zM7.1 -116.7h2.7v32.0h-2.7zM7.1 139.3h2.7v16.0h-2.7zM9.5 -132.7h2.7v48.0h-2.7zM9.5 139.3h2.7v16.0h-2.7zM11.9 -132.7h2.7v48.0h-2.7zM14.3 -132.7h2.7v80.0h-2.7zM16.7 -132.7h2.7v16.0h-2.7zM16.7 59.3h2.7v80.0h-2.7zM19.1 -132.7h2.7v16.0h-2.7zM21.5 -132.7h2.7v16.0h-2.7zM31.1 -36.7h2.7v32.0h-2.7zM45.5 139.3h2.7v16.0h-2.7zM47.9 75.3h2.7v32.0h-2.7zM50.3 59.3h2.7v64.0h-2.7zM52.7 -20.7h2.7v32.0h-2.7zM52.7 107.3h2.7v16.0h-2.7zM55.1 -52.7h2.7v16.0h-2.7zM55.1 107.3h2.7v16.0h-2.7zM57.5 107.3h2.7v16.0h-2.7zM59.9 107.3h2.7v16.0h-2.7zM67.1 -4.7h2.7v16.0h-2.7zM74.3 -100.7h2.7v16.0h-2.7zM74.3 75.3h2.7v16.0h-2.7zM103.1 -52.7h2.7v64.0h-2.7zM129.5 -4.7h2.7v16.0h-2.7zM139.1 -52.7h2.7v16.0h-2.7z"/>
<path fill="#f5c4ac" d="M-117.7 43.3h2.7v16.0h-2.7zM-115.3 27.3h2.7v48.0h-2.7zM-108.1 43.3h2.7v32.0h-2.7zM-105.7 27.3h2.7v32.0h-2.7zM-103.3 -36.7h2.7v48.0h-2.7zM-86.5 -36.7h2.7v32.0h-2.7zM-52.9 59.3h2.7v16.0h-2.7zM-50.5 59.3h2.7v16.0h-2.7zM-48.1 -148.7h2.7v16.0h-2.7zM-48.1 43.3h2.7v32.0h-2.7zM-45.7 43.3h2.7v64.0h-2.7zM-21.7 59.3h2.7v48.0h-2.7zM2.3 75.3h2.7v48.0h-2.7zM4.7 -68.7h2.7v48.0h-2.7zM7.1 -84.7h2.7v32.0h-2.7zM9.5 -84.7h2.7v32.0h-2.7zM11.9 -84.7h2.7v48.0h-2.7zM11.9 139.3h2.7v16.0h-2.7zM14.3 -52.7h2.7v192.0h-2.7zM16.7 -116.7h2.7v176.0h-2.7zM19.1 -4.7h2.7v144.0h-2.7zM23.9 -132.7h2.7v16.0h-2.7zM31.1 -4.7h2.7v48.0h-2.7zM33.5 -116.7h2.7v16.0h-2.7zM52.7 11.3h2.7v16.0h-2.7zM55.1 -36.7h2.7v16.0h-2.7zM62.3 -100.7h2.7v16.0h-2.7zM62.3 107.3h2.7v16.0h-2.7zM67.1 11.3h2.7v16.0h-2.7zM69.5 59.3h2.7v16.0h-2.7zM71.9 75.3h2.7v16.0h-2.7zM103.1 11.3h2.7v16.0h-2.7zM112.7 27.3h2.7v16.0h-2.7zM122.3 -20.7h2.7v16.0h-2.7zM127.1 -4.7h2.7v16.0h-2.7z"/>
<path fill="#f6bda2" d="M-129.7 43.3h2.7v16.0h-2.7zM-124.9 -4.7h2.7v48.0h-2.7zM-122.5 -20.7h2.7v16.0h-2.7zM-120.1 -20.7h2.7v16.0h-2.7zM-120.1 43.3h2.7v16.0h-2.7zM-117.7 -20.7h2.7v64.0h-2.7zM-115.3 -20.7h2.7v48.0h-2.7zM-112.9 59.3h2.7v16.0h-2.7zM-110.5 59.3h2.7v16.0h-2.7zM-103.3 11.3h2.7v48.0h-2.7zM-93.7 -84.7h2.7v16.0h-2.7zM-86.5 -4.7h2.7v32.0h-2.7zM-84.1 -68.7h2.7v48.0h-2.7zM-81.7 -68.7h2.7v48.0h-2.7zM-57.7 91.3h2.7v16.0h-2.7zM-55.3 91.3h2.7v16.0h-2.7zM-52.9 75.3h2.7v32.0h-2.7zM-50.5 75.3h2.7v32.0h-2.7zM-48.1 75.3h2.7v32.0h-2.7zM-45.7 -148.7h2.7v16.0h-2.7zM-21.7 -148.7h2.7v16.0h-2.7zM-0.1 123.3h2.7v16.0h-2.7zM4.7 -20.7h2.7v48.0h-2.7zM7.1 -52.7h2.7v48.0h-2.7zM9.5 -52.7h2.7v48.0h-2.7zM11.9 -36.7h2.7v48.0h-2.7zM14.3 139.3h2.7v16.0h-2.7zM19.1 -116.7h2.7v112.0h-2.7zM21.5 -20.7h2.7v160.0h-2.7zM26.3 -132.7h2.7v16.0h-2.7zM31.1 43.3h2.7v32.0h-2.7zM43.1 139.3h2.7v16.0h-2.7zM52.7 27.3h2.7v32.0h-2.7zM57.5 -84.7h2.7v32.0h-2.7zM67.1 27.3h2.7v32.0h-2.7zM107.9 -68.7h2.7v16.0h-2.7zM122.3 -36.7h2.7v16.0h-2.7zM122.3 -4.7h2.7v16.0h-2.7zM124.7 -52.7h2.7v16.0h-2.7zM124.7 -4.7h2.7v16.0h-2.7zM141.5 -20.7h2.7v16.0h-2.7z"/>
<path fill="#f7b599" d="M-134.5 -20.7h2.7v16.0h-2.7zM-132.1 -20.7h2.7v16.0h-2.7zM-129.7 -20.7h2.7v16.0h-2.7zM-127.3 -20.7h2.7v16.0h-2.7zM-127.3 43.3h2.7v16.0h-2.7zM-124.9 -20.7h2.7v16.0h-2.7zM-124.9 43.3h2.7v16.0h-2.7zM-122.5 -4.7h2.7v64.0h-2.7zM-120.1 -4.7h2.7v48.0h-2.7zM-91.3 -84.7h2.7v16.0h-2.7zM-86.5 27.3h2.7v32.0h-2.7zM-84.1 -20.7h2.7v32.0h-2.7zM-81.7 -20.7h2.7v32.0h-2.7zM-43.3 -148.7h2.7v16.0h-2.7zM-40.9 -148.7h2.7v16.0h-2.7zM-38.5 -148.7h2.7v16.0h-2.7zM-36.1 -148.7h2.7v160.0h-2.7zM-33.7 -148.7h2.7v96.0h-2.7zM-31.3 -148.7h2.7v96.0h-2.7zM-28.9 -148.7h2.7v96.0h-2.7zM-26.5 -148.7h2.7v96.0h-2.7zM-24.1 -148.7h2.7v96.0h-2.7zM4.7 27.3h2.7v32.0h-2.7zM7.1 -4.7h2.7v32.0h-2.7zM9.5 -4.7h2.7v32.0h-2.7zM11.9 11.3h2.7v48.0h-2.7zM16.7 139.3h2.7v16.0h-2.7zM19.1 139.3h2.7v16.0h-2.7zM21.5 -116.7h2.7v96.0h-2.7zM21.5 139.3h2.7v16.0h-2.7zM23.9 -116.7h2.7v272.0h-2.7zM26.3 -116.7h2.7v272.0h-2.7zM28.7 -116.7h2.7v272.0h-2.7zM31.1 -116.7h2.7v16.0h-2.7zM31.1 75.3h2.7v80.0h-2.7zM33.5 139.3h2.7v16.0h-2.7zM35.9 139.3h2.7v16.0h-2.7zM38.3 139.3h2.7v16.0h-2.7zM40.7 139.3h2.7v16.0h-2.7zM52.7 59.3h2.7v16.0h-2.7zM55.1 -20.7h2.7v16.0h-2.7zM57.5 -52.7h2.7v16.0h-2.7zM64.7 107.3h2.7v16.0h-2.7zM67.1 59.3h2.7v16.0h-2.7zM69.5 75.3h2.7v16.0h-2.7zM115.1 -4.7h2.7v16.0h-2.7zM115.1 27.3h2.7v16.0h-2.7zM127.1 11.3h2.7v16.0h-2.7z"/>
<path fill="#f7ac8e" d="M-88.9 -84.7h2.7v16.0h-2.7zM-86.5 59.3h2.7v16.0h-2.7zM-84.1 11.3h2.7v48.0h-2.7zM-81.7 11.3h2.7v48.0h-2.7zM-79.3 -68.7h2.7v16.0h-2.7zM-36.1 11.3h2.7v96.0h-2.7zM-33.7 -52.7h2.7v16.0h-2.7zM-31.3 -52.7h2.7v16.0h-2.7zM-28.9 -52.7h2.7v16.0h-2.7zM-26.5 -52.7h2.7v16.0h-2.7zM-26.5 107.3h2.7v16.0h-2.7zM-24.1 -52.7h2.7v32.0h-2.7zM2.3 123.3h2.7v16.0h-2.7zM4.7 59.3h2.7v64.0h-2.7zM7.1 27.3h2.7v48.0h-2.7zM9.5 27.3h2.7v48.0h-2.7zM11.9 59.3h2.7v80.0h-2.7zM52.7 75.3h2.7v32.0h-2.7zM55.1 -4.7h2.7v16.0h-2.7zM57.5 -36.7h2.7v16.0h-2.7zM64.7 -100.7h2.7v160.0h-2.7zM67.1 75.3h2.7v16.0h-2.7zM69.5 -100.7h2.7v16.0h-2.7zM71.9 -100.7h2.7v16.0h-2.7zM115.1 -52.7h2.7v48.0h-2.7zM117.5 -20.7h2.7v32.0h-2.7zM119.9 -68.7h2.7v16.0h-2.7zM119.9 -20.7h2.7v32.0h-2.7zM122.3 -68.7h2.7v32.0h-2.7zM124.7 11.3h2.7v16.0h-2.7zM134.3 -36.7h2.7v16.0h-2.7z"/>
<path fill="#f6a385" d="M-91.3 75.3h2.7v16.0h-2.7zM-88.9 75.3h2.7v16.0h-2.7zM-86.5 -84.7h2.7v16.0h-2.7zM-84.1 59.3h2.7v16.0h-2.7zM-81.7 59.3h2.7v16.0h-2.7zM-79.3 -52.7h2.7v48.0h-2.7zM-72.1 -84.7h2.7v32.0h-2.7zM-33.7 -36.7h2.7v32.0h-2.7zM-31.3 -36.7h2.7v32.0h-2.7zM-28.9 -36.7h2.7v32.0h-2.7zM-26.5 -36.7h2.7v32.0h-2.7zM-24.1 -20.7h2.7v32.0h-2.7zM4.7 123.3h2.7v16.0h-2.7zM7.1 75.3h2.7v64.0h-2.7zM9.5 75.3h2.7v64.0h-2.7zM55.1 11.3h2.7v16.0h-2.7zM57.5 -20.7h2.7v32.0h-2.7zM59.9 -84.7h2.7v32.0h-2.7zM62.3 -84.7h2.7v48.0h-2.7zM64.7 59.3h2.7v32.0h-2.7zM67.1 -100.7h2.7v16.0h-2.7zM105.5 -52.7h2.7v32.0h-2.7zM107.9 -52.7h2.7v16.0h-2.7zM110.3 -68.7h2.7v32.0h-2.7zM112.7 -68.7h2.7v64.0h-2.7zM115.1 -68.7h2.7v16.0h-2.7zM117.5 -68.7h2.7v48.0h-2.7zM117.5 27.3h2.7v16.0h-2.7zM119.9 -52.7h2.7v32.0h-2.7zM122.3 11.3h2.7v16.0h-2.7zM124.7 -68.7h2.7v16.0h-2.7zM143.9 -20.7h2.7v16.0h-2.7z"/>
<path fill="#f4987a" d="M-84.1 -84.7h2.7v16.0h-2.7zM-81.7 -84.7h2.7v16.0h-2.7zM-79.3 -84.7h2.7v16.0h-2.7zM-79.3 -4.7h2.7v48.0h-2.7zM-76.9 -84.7h2.7v48.0h-2.7zM-74.5 -84.7h2.7v48.0h-2.7zM-74.5 75.3h2.7v16.0h-2.7zM-72.1 -52.7h2.7v32.0h-2.7zM-33.7 -4.7h2.7v32.0h-2.7zM-31.3 -4.7h2.7v32.0h-2.7zM-28.9 -4.7h2.7v32.0h-2.7zM-26.5 -4.7h2.7v32.0h-2.7zM-24.1 11.3h2.7v48.0h-2.7zM55.1 27.3h2.7v16.0h-2.7zM57.5 11.3h2.7v16.0h-2.7zM59.9 -52.7h2.7v32.0h-2.7zM62.3 -36.7h2.7v32.0h-2.7zM76.7 91.3h2.7v16.0h-2.7zM105.5 -20.7h2.7v16.0h-2.7zM107.9 -36.7h2.7v16.0h-2.7zM110.3 -36.7h2.7v16.0h-2.7zM112.7 -4.7h2.7v16.0h-2.7zM119.9 11.3h2.7v16.0h-2.7z"/>
<path fill="#f18f71" d="M-86.5 75.3h2.7v16.0h-2.7zM-79.3 43.3h2.7v32.0h-2.7zM-76.9 -36.7h2.7v48.0h-2.7zM-74.5 -36.7h2.7v48.0h-2.7zM-72.1 -20.7h2.7v48.0h-2.7zM-43.3 107.3h2.7v16.0h-2.7zM-33.7 27.3h2.7v32.0h-2.7zM-31.3 27.3h2.7v16.0h-2.7zM-28.9 27.3h2.7v16.0h-2.7zM-26.5 27.3h2.7v16.0h-2.7zM-24.1 59.3h2.7v32.0h-2.7zM55.1 43.3h2.7v16.0h-2.7zM57.5 27.3h2.7v16.0h-2.7zM59.9 -20.7h2.7v32.0h-2.7zM62.3 -4.7h2.7v48.0h-2.7zM105.5 -4.7h2.7v32.0h-2.7zM107.9 -20.7h2.7v32.0h-2.7zM110.3 -20.7h2.7v32.0h-2.7zM117.5 11.3h2.7v16.0h-2.7zM141.5 -52.7h2.7v16.0h-2.7zM146.3 -20.7h2.7v16.0h-2.7z"/>
<path fill="#ee8468" d="M-84.1 75.3h2.7v16.0h-2.7zM-76.9 11.3h2.7v64.0h-2.7zM-74.5 11.3h2.7v64.0h-2.7zM-72.1 27.3h2.7v48.0h-2.7zM-33.7 59.3h2.7v16.0h-2.7zM-31.3 43.3h2.7v32.0h-2.7zM-28.9 43.3h2.7v32.0h-2.7zM-26.5 43.3h2.7v32.0h-2.7zM-24.1 91.3h2.7v16.0h-2.7zM55.1 59.3h2.7v16.0h-2.7zM57.5 43.3h2.7v16.0h-2.7zM59.9 11.3h2.7v48.0h-2.7zM62.3 43.3h2.7v48.0h-2.7zM74.3 91.3h2.7v16.0h-2.7zM107.9 11.3h2.7v16.0h-2.7zM110.3 11.3h2.7v16.0h-2.7zM112.7 11.3h2.7v16.0h-2.7zM115.1 11.3h2.7v16.0h-2.7zM136.7 -36.7h2.7v16.0h-2.7zM139.1 -36.7h2.7v16.0h-2.7zM141.5 -36.7h2.7v16.0h-2.7zM143.9 -52.7h2.7v32.0h-2.7zM146.3 -52.7h2.7v32.0h-2.7z"/>
<path fill="#e9785d" d="M-81.7 75.3h2.7v16.0h-2.7zM-79.3 75.3h2.7v16.0h-2.7zM-76.9 75.3h2.7v16.0h-2.7zM-40.9 107.3h2.7v16.0h-2.7zM-38.5 107.3h2.7v16.0h-2.7zM-36.1 107.3h2.7v16.0h-2.7zM-33.7 75.3h2.7v48.0h-2.7zM-31.3 75.3h2.7v48.0h-2.7zM-28.9 75.3h2.7v48.0h-2.7zM-26.5 75.3h2.7v32.0h-2.7zM55.1 75.3h2.7v32.0h-2.7zM57.5 59.3h2.7v48.0h-2.7zM59.9 59.3h2.7v48.0h-2.7zM62.3 91.3h2.7v16.0h-2.7zM64.7 91.3h2.7v16.0h-2.7zM67.1 91.3h2.7v16.0h-2.7zM69.5 91.3h2.7v16.0h-2.7zM71.9 91.3h2.7v16.0h-2.7z"/>
</g></g></g>
<rect x="55.00" y="483.10" width="207.50" height="207.50" fill="url(#pt_sa12)" opacity="1.00"/>
</g>
<g transform="matrix(0.98964 0 0 1 3.378 0)">
<rect x="326.05" y="483.10" width="207.50" height="207.50" fill="#dddcdd"/>
<rect x="326.05" y="483.10" width="207.50" height="207.50" fill="url(#pt_lga)" opacity="0.55"/>
</g>
<g transform="matrix(0.99807 0 0 1 1.066 0)">
<rect x="552.90" y="483.10" width="207.50" height="207.50" fill="#fef2ed"/>
<rect x="552.90" y="483.10" width="207.50" height="207.50" fill="url(#pt_la)" opacity="1.00"/>
</g>
<g transform="matrix(0.98747 0 0 1 9.799 0)">
<rect x="782.00" y="483.10" width="207.50" height="207.50" fill="#fef2ed"/>
<rect x="782.00" y="483.10" width="207.50" height="207.50" fill="url(#pt_la)" opacity="1.00"/>
</g>
<text x="30.80" y="586.85" font-size="22.90" text-anchor="middle" font-weight="normal" font-family="'DejaVu Sans', 'Liberation Sans', sans-serif" transform="rotate(-90 30.80 586.85)">Surf1+Surf2</text>
<text x="301.30" y="586.85" font-size="22.90" text-anchor="middle" font-weight="normal" font-family="'DejaVu Sans', 'Liberation Sans', sans-serif" transform="rotate(-90 301.30 586.85)">Grad1+Grad2</text>
<text x="158.45" y="723.60" font-size="22.90" text-anchor="middle" font-weight="normal" font-family="'DejaVu Sans', 'Liberation Sans', sans-serif">Original</text>
<text x="428.73" y="723.60" font-size="22.90" text-anchor="middle" font-weight="normal" font-family="'DejaVu Sans', 'Liberation Sans', sans-serif">Backprop-Grad</text>
<text x="656.45" y="723.60" font-size="22.90" text-anchor="middle" font-weight="normal" font-family="'DejaVu Sans', 'Liberation Sans', sans-serif">Positive Saliency</text>
<text x="884.45" y="723.60" font-size="22.90" text-anchor="middle" font-weight="normal" font-family="'DejaVu Sans', 'Liberation Sans', sans-serif">Negative Saliency</text>
<rect x="1055.90" y="1.20" width="476.00" height="20.80" fill="url(#cb9)" stroke="#000" stroke-width="1.80"/>
<line x1="1060.90" y1="22.90" x2="1060.90" y2="28.20" stroke="#000" stroke-width="1.80"/>
<line x1="1530.70" y1="22.90" x2="1530.70" y2="28.20" stroke="#000" stroke-width="1.80"/>
<rect x="1554.50" y="1.20" width="433.20" height="20.80" fill="url(#cb10)" stroke="#000" stroke-width="1.80"/>
<line x1="1554.50" y1="22.90" x2="1554.50" y2="28.20" stroke="#000" stroke-width="1.80"/>
<line x1="1983.80" y1="22.90" x2="1983.80" y2="28.20" stroke="#000" stroke-width="1.80"/>
<text x="1015.30" y="36.30" font-size="36.30" text-anchor="start" font-weight="bold" font-family="'Liberation Sans', Arial, sans-serif">b)</text>
<g transform="matrix(0.99711 0 0 1 3.051 0)">
<g clip-path="url(#cp11)"><g filter="url(#bl12)"><g transform="translate(1158.75 140.85) rotate(-33.00)">
<path fill="#96b7ff" d="M-103.3 -68.7h2.7v16.0h-2.7zM-96.1 -52.7h2.7v16.0h-2.7zM-93.7 -52.7h2.7v16.0h-2.7zM-91.3 -52.7h2.7v16.0h-2.7zM2.3 123.3h2.7v16.0h-2.7zM4.7 75.3h2.7v64.0h-2.7zM7.1 75.3h2.7v64.0h-2.7zM9.5 75.3h2.7v64.0h-2.7zM40.7 75.3h2.7v48.0h-2.7zM43.1 75.3h2.7v48.0h-2.7zM45.5 75.3h2.7v48.0h-2.7zM50.3 123.3h2.7v16.0h-2.7zM52.7 123.3h2.7v16.0h-2.7zM55.1 123.3h2.7v16.0h-2.7z"/>
<path fill="#9ebeff" d="M-100.9 -68.7h2.7v16.0h-2.7zM-98.5 -52.7h2.7v16.0h-2.7zM-96.1 -36.7h2.7v32.0h-2.7zM-93.7 -36.7h2.7v32.0h-2.7zM-91.3 -36.7h2.7v16.0h-2.7zM4.7 59.3h2.7v16.0h-2.7zM7.1 43.3h2.7v32.0h-2.7zM9.5 43.3h2.7v32.0h-2.7zM40.7 59.3h2.7v16.0h-2.7zM43.1 59.3h2.7v16.0h-2.7zM45.5 59.3h2.7v16.0h-2.7zM47.9 107.3h2.7v32.0h-2.7z"/>
<path fill="#a7c5fe" d="M-100.9 -52.7h2.7v16.0h-2.7zM-98.5 -68.7h2.7v16.0h-2.7zM-96.1 -4.7h2.7v32.0h-2.7zM-93.7 -4.7h2.7v32.0h-2.7zM-91.3 -20.7h2.7v32.0h-2.7zM-43.3 107.3h2.7v16.0h-2.7zM-36.1 91.3h2.7v16.0h-2.7zM-9.7 -132.7h2.7v48.0h-2.7zM-7.3 -132.7h2.7v64.0h-2.7zM-4.9 -132.7h2.7v64.0h-2.7zM-2.5 -148.7h2.7v16.0h-2.7zM-0.1 -148.7h2.7v16.0h-2.7zM4.7 27.3h2.7v32.0h-2.7zM7.1 27.3h2.7v16.0h-2.7zM9.5 -4.7h2.7v48.0h-2.7zM11.9 43.3h2.7v96.0h-2.7zM40.7 43.3h2.7v16.0h-2.7zM43.1 43.3h2.7v16.0h-2.7zM45.5 27.3h2.7v32.0h-2.7zM45.5 123.3h2.7v16.0h-2.7zM47.9 59.3h2.7v48.0h-2.7zM50.3 107.3h2.7v16.0h-2.7z"/>
<path fill="#afcafc" d="M-134.5 -4.7h2.7v16.0h-2.7zM-134.5 43.3h2.7v16.0h-2.7zM-132.1 -4.7h2.7v16.0h-2.7zM-129.7 -4.7h2.7v32.0h-2.7zM-127.3 -4.7h2.7v48.0h-2.7zM-96.1 27.3h2.7v32.0h-2.7zM-93.7 27.3h2.7v32.0h-2.7zM-91.3 11.3h2.7v16.0h-2.7zM-33.7 91.3h2.7v16.0h-2.7zM-9.7 -84.7h2.7v16.0h-2.7zM-7.3 -68.7h2.7v16.0h-2.7zM-4.9 -68.7h2.7v16.0h-2.7zM-0.1 123.3h2.7v16.0h-2.7zM4.7 -4.7h2.7v32.0h-2.7zM7.1 -4.7h2.7v32.0h-2.7zM9.5 -36.7h2.7v32.0h-2.7zM11.9 -20.7h2.7v64.0h-2.7zM38.3 75.3h2.7v48.0h-2.7zM43.1 27.3h2.7v16.0h-2.7zM43.1 123.3h2.7v16.0h-2.7zM45.5 11.3h2.7v16.0h-2.7zM47.9 43.3h2.7v16.0h-2.7zM52.7 107.3h2.7v16.0h-2.7zM95.9 27.3h2.7v16.0h-2.7zM105.5 43.3h2.7v16.0h-2.7zM107.9 43.3h2.7v16.0h-2.7z"/>
<path fill="#b9d0f9" d="M-139.3 -4.7h2.7v16.0h-2.7zM-136.9 -4.7h2.7v16.0h-2.7zM-136.9 43.3h2.7v16.0h-2.7zM-132.1 43.3h2.7v16.0h-2.7zM-129.7 27.3h2.7v16.0h-2.7zM-103.3 -52.7h2.7v16.0h-2.7zM-98.5 59.3h2.7v16.0h-2.7zM-96.1 -68.7h2.7v16.0h-2.7zM-96.1 59.3h2.7v16.0h-2.7zM-93.7 59.3h2.7v16.0h-2.7zM-91.3 27.3h2.7v32.0h-2.7zM-88.9 -52.7h2.7v32.0h-2.7zM-86.5 75.3h2.7v16.0h-2.7zM-84.1 75.3h2.7v16.0h-2.7zM-79.3 59.3h2.7v16.0h-2.7zM-76.9 59.3h2.7v16.0h-2.7zM-36.1 75.3h2.7v16.0h-2.7zM-33.7 75.3h2.7v16.0h-2.7zM-12.1 -132.7h2.7v48.0h-2.7zM-9.7 -68.7h2.7v16.0h-2.7zM-7.3 -52.7h2.7v16.0h-2.7zM-4.9 -148.7h2.7v16.0h-2.7zM-4.9 -52.7h2.7v16.0h-2.7zM-2.5 -132.7h2.7v48.0h-2.7zM4.7 -20.7h2.7v16.0h-2.7zM7.1 -36.7h2.7v32.0h-2.7zM9.5 -68.7h2.7v32.0h-2.7zM11.9 -84.7h2.7v64.0h-2.7zM38.3 59.3h2.7v16.0h-2.7zM38.3 123.3h2.7v16.0h-2.7zM40.7 27.3h2.7v16.0h-2.7zM40.7 123.3h2.7v16.0h-2.7zM43.1 11.3h2.7v16.0h-2.7zM45.5 -4.7h2.7v16.0h-2.7zM47.9 11.3h2.7v32.0h-2.7zM55.1 107.3h2.7v16.0h-2.7zM93.5 27.3h2.7v16.0h-2.7zM95.9 -20.7h2.7v48.0h-2.7zM127.1 -36.7h2.7v32.0h-2.7zM129.5 -52.7h2.7v16.0h-2.7zM131.9 -52.7h2.7v16.0h-2.7z"/>
<path fill="#c0d4f5" d="M-144.1 -4.7h2.7v16.0h-2.7zM-141.7 -4.7h2.7v16.0h-2.7zM-141.7 43.3h2.7v16.0h-2.7zM-139.3 43.3h2.7v16.0h-2.7zM-134.5 11.3h2.7v32.0h-2.7zM-132.1 11.3h2.7v32.0h-2.7zM-124.9 -4.7h2.7v48.0h-2.7zM-105.7 -52.7h2.7v16.0h-2.7zM-100.9 59.3h2.7v16.0h-2.7zM-98.5 -36.7h2.7v16.0h-2.7zM-93.7 -68.7h2.7v16.0h-2.7zM-88.9 -20.7h2.7v32.0h-2.7zM-81.7 75.3h2.7v16.0h-2.7zM-79.3 43.3h2.7v16.0h-2.7zM-76.9 43.3h2.7v16.0h-2.7zM-62.5 -132.7h2.7v16.0h-2.7zM-60.1 -132.7h2.7v16.0h-2.7zM-57.7 -132.7h2.7v16.0h-2.7zM-55.3 -132.7h2.7v16.0h-2.7zM-52.9 -132.7h2.7v16.0h-2.7zM-50.5 -116.7h2.7v32.0h-2.7zM-48.1 -116.7h2.7v32.0h-2.7zM-38.5 91.3h2.7v16.0h-2.7zM-36.1 59.3h2.7v16.0h-2.7zM-16.9 -132.7h2.7v64.0h-2.7zM-14.5 -132.7h2.7v64.0h-2.7zM-12.1 -148.7h2.7v16.0h-2.7zM-12.1 -84.7h2.7v32.0h-2.7zM-9.7 -148.7h2.7v16.0h-2.7zM-9.7 -52.7h2.7v16.0h-2.7zM-7.3 -148.7h2.7v16.0h-2.7zM-7.3 -36.7h2.7v16.0h-2.7zM-4.9 -36.7h2.7v32.0h-2.7zM-2.5 -84.7h2.7v32.0h-2.7zM2.3 27.3h2.7v96.0h-2.7zM4.7 -52.7h2.7v32.0h-2.7zM7.1 -68.7h2.7v32.0h-2.7zM9.5 -116.7h2.7v48.0h-2.7zM11.9 -116.7h2.7v32.0h-2.7zM14.3 -132.7h2.7v112.0h-2.7zM16.7 -132.7h2.7v16.0h-2.7zM19.1 -132.7h2.7v16.0h-2.7zM21.5 -132.7h2.7v16.0h-2.7zM33.5 59.3h2.7v80.0h-2.7zM35.9 59.3h2.7v80.0h-2.7zM38.3 43.3h2.7v16.0h-2.7zM40.7 11.3h2.7v16.0h-2.7zM43.1 -4.7h2.7v16.0h-2.7zM45.5 -20.7h2.7v16.0h-2.7zM45.5 139.3h2.7v16.0h-2.7zM47.9 -4.7h2.7v16.0h-2.7zM50.3 43.3h2.7v64.0h-2.7zM52.7 43.3h2.7v64.0h-2.7zM57.5 107.3h2.7v16.0h-2.7zM59.9 107.3h2.7v16.0h-2.7zM62.3 107.3h2.7v16.0h-2.7zM64.7 107.3h2.7v16.0h-2.7zM93.5 -36.7h2.7v64.0h-2.7zM95.9 -52.7h2.7v32.0h-2.7zM98.3 -20.7h2.7v64.0h-2.7zM103.1 43.3h2.7v16.0h-2.7zM129.5 -36.7h2.7v32.0h-2.7z"/>
<path fill="#c7d7f0" d="M-129.7 43.3h2.7v16.0h-2.7zM-110.5 -52.7h2.7v16.0h-2.7zM-108.1 -52.7h2.7v16.0h-2.7zM-98.5 -20.7h2.7v32.0h-2.7zM-91.3 -68.7h2.7v16.0h-2.7zM-91.3 59.3h2.7v16.0h-2.7zM-88.9 -68.7h2.7v16.0h-2.7zM-88.9 11.3h2.7v16.0h-2.7zM-88.9 75.3h2.7v16.0h-2.7zM-86.5 -68.7h2.7v48.0h-2.7zM-79.3 27.3h2.7v16.0h-2.7zM-76.9 27.3h2.7v16.0h-2.7zM-50.5 -132.7h2.7v16.0h-2.7zM-50.5 -84.7h2.7v32.0h-2.7zM-48.1 -84.7h2.7v64.0h-2.7zM-40.9 107.3h2.7v16.0h-2.7zM-38.5 75.3h2.7v16.0h-2.7zM-36.1 43.3h2.7v16.0h-2.7zM-33.7 59.3h2.7v16.0h-2.7zM-16.9 -68.7h2.7v16.0h-2.7zM-14.5 -148.7h2.7v16.0h-2.7zM-14.5 -68.7h2.7v16.0h-2.7zM-12.1 -52.7h2.7v16.0h-2.7zM-9.7 -36.7h2.7v16.0h-2.7zM-7.3 -20.7h2.7v16.0h-2.7zM-4.9 -4.7h2.7v16.0h-2.7zM-2.5 -52.7h2.7v48.0h-2.7zM-0.1 -132.7h2.7v16.0h-2.7zM2.3 -68.7h2.7v96.0h-2.7zM4.7 -84.7h2.7v32.0h-2.7zM7.1 -116.7h2.7v48.0h-2.7zM11.9 -132.7h2.7v16.0h-2.7zM14.3 -20.7h2.7v64.0h-2.7zM33.5 43.3h2.7v16.0h-2.7zM35.9 43.3h2.7v16.0h-2.7zM38.3 27.3h2.7v16.0h-2.7zM40.7 -4.7h2.7v16.0h-2.7zM43.1 -20.7h2.7v16.0h-2.7zM45.5 -52.7h2.7v32.0h-2.7zM47.9 -36.7h2.7v32.0h-2.7zM50.3 -4.7h2.7v48.0h-2.7zM52.7 -4.7h2.7v48.0h-2.7zM57.5 -84.7h2.7v32.0h-2.7zM59.9 -100.7h2.7v32.0h-2.7zM62.3 -100.7h2.7v16.0h-2.7zM64.7 -100.7h2.7v16.0h-2.7zM93.5 -68.7h2.7v32.0h-2.7zM95.9 -68.7h2.7v16.0h-2.7zM98.3 -68.7h2.7v48.0h-2.7zM100.7 -68.7h2.7v16.0h-2.7zM100.7 -4.7h2.7v48.0h-2.7zM103.1 27.3h2.7v16.0h-2.7zM105.5 27.3h2.7v16.0h-2.7zM134.3 -52.7h2.7v16.0h-2.7z"/>
<path fill="#cfdaea" d="M-112.9 -52.7h2.7v16.0h-2.7zM-100.9 -36.7h2.7v16.0h-2.7zM-98.5 11.3h2.7v32.0h-2.7zM-88.9 27.3h2.7v32.0h-2.7zM-86.5 -20.7h2.7v48.0h-2.7zM-81.7 43.3h2.7v32.0h-2.7zM-79.3 -4.7h2.7v32.0h-2.7zM-76.9 -4.7h2.7v32.0h-2.7zM-50.5 -52.7h2.7v32.0h-2.7zM-48.1 -20.7h2.7v48.0h-2.7zM-45.7 -116.7h2.7v80.0h-2.7zM-38.5 43.3h2.7v32.0h-2.7zM-33.7 43.3h2.7v16.0h-2.7zM-16.9 -52.7h2.7v32.0h-2.7zM-14.5 -52.7h2.7v32.0h-2.7zM-12.1 -36.7h2.7v16.0h-2.7zM-9.7 -20.7h2.7v16.0h-2.7zM-7.3 -4.7h2.7v16.0h-2.7zM-4.9 11.3h2.7v16.0h-2.7zM-2.5 -4.7h2.7v32.0h-2.7zM-2.5 123.3h2.7v16.0h-2.7zM-0.1 -116.7h2.7v80.0h-2.7zM2.3 -132.7h2.7v64.0h-2.7zM4.7 -132.7h2.7v48.0h-2.7zM7.1 -132.7h2.7v16.0h-2.7zM9.5 -132.7h2.7v16.0h-2.7zM14.3 43.3h2.7v96.0h-2.7zM23.9 -132.7h2.7v16.0h-2.7zM33.5 27.3h2.7v16.0h-2.7zM35.9 27.3h2.7v16.0h-2.7zM38.3 11.3h2.7v16.0h-2.7zM40.7 -20.7h2.7v16.0h-2.7zM43.1 -52.7h2.7v32.0h-2.7zM45.5 -68.7h2.7v16.0h-2.7zM47.9 -68.7h2.7v32.0h-2.7zM50.3 -36.7h2.7v32.0h-2.7zM52.7 -52.7h2.7v48.0h-2.7zM55.1 -84.7h2.7v192.0h-2.7zM57.5 -100.7h2.7v16.0h-2.7zM57.5 -52.7h2.7v48.0h-2.7zM59.9 -68.7h2.7v32.0h-2.7zM67.1 -100.7h2.7v16.0h-2.7zM91.1 -68.7h2.7v16.0h-2.7zM98.3 -84.7h2.7v16.0h-2.7zM100.7 -52.7h2.7v48.0h-2.7zM100.7 43.3h2.7v16.0h-2.7zM103.1 -68.7h2.7v16.0h-2.7zM107.9 27.3h2.7v16.0h-2.7zM127.1 -52.7h2.7v16.0h-2.7zM131.9 -20.7h2.7v16.0h-2.7z"/>
<path fill="#d6dce4" d="M-136.9 11.3h2.7v32.0h-2.7zM-100.9 -20.7h2.7v16.0h-2.7zM-98.5 43.3h2.7v16.0h-2.7zM-88.9 59.3h2.7v16.0h-2.7zM-86.5 27.3h2.7v48.0h-2.7zM-84.1 -68.7h2.7v112.0h-2.7zM-81.7 11.3h2.7v32.0h-2.7zM-79.3 -20.7h2.7v16.0h-2.7zM-76.9 -20.7h2.7v16.0h-2.7zM-50.5 -20.7h2.7v32.0h-2.7zM-48.1 -132.7h2.7v16.0h-2.7zM-48.1 27.3h2.7v48.0h-2.7zM-45.7 -36.7h2.7v96.0h-2.7zM-38.5 27.3h2.7v16.0h-2.7zM-36.1 27.3h2.7v16.0h-2.7zM-16.9 -20.7h2.7v16.0h-2.7zM-14.5 -20.7h2.7v16.0h-2.7zM-12.1 -20.7h2.7v16.0h-2.7zM-9.7 -4.7h2.7v16.0h-2.7zM-7.3 11.3h2.7v16.0h-2.7zM-4.9 27.3h2.7v16.0h-2.7zM-2.5 27.3h2.7v48.0h-2.7zM-0.1 -36.7h2.7v80.0h-2.7zM33.5 -4.7h2.7v32.0h-2.7zM35.9 -4.7h2.7v32.0h-2.7zM38.3 -4.7h2.7v16.0h-2.7zM40.7 -36.7h2.7v16.0h-2.7zM43.1 -68.7h2.7v16.0h-2.7zM45.5 -84.7h2.7v16.0h-2.7zM47.9 -84.7h2.7v16.0h-2.7zM50.3 -84.7h2.7v48.0h-2.7zM52.7 -84.7h2.7v32.0h-2.7zM55.1 -100.7h2.7v16.0h-2.7zM57.5 -4.7h2.7v64.0h-2.7zM59.9 -36.7h2.7v32.0h-2.7zM62.3 -84.7h2.7v16.0h-2.7zM91.1 -52.7h2.7v80.0h-2.7zM124.7 -36.7h2.7v16.0h-2.7zM134.3 -20.7h2.7v16.0h-2.7zM136.7 -20.7h2.7v16.0h-2.7zM139.1 -20.7h2.7v32.0h-2.7zM141.5 -20.7h2.7v16.0h-2.7zM143.9 -20.7h2.7v16.0h-2.7z"/>
<path fill="#dddcdc" d="M-103.3 59.3h2.7v16.0h-2.7zM-100.9 -4.7h2.7v16.0h-2.7zM-91.3 75.3h2.7v16.0h-2.7zM-84.1 43.3h2.7v32.0h-2.7zM-81.7 -20.7h2.7v32.0h-2.7zM-79.3 -36.7h2.7v16.0h-2.7zM-76.9 -36.7h2.7v16.0h-2.7zM-62.5 -100.7h2.7v32.0h-2.7zM-52.9 91.3h2.7v16.0h-2.7zM-50.5 11.3h2.7v32.0h-2.7zM-50.5 91.3h2.7v16.0h-2.7zM-48.1 75.3h2.7v32.0h-2.7zM-45.7 59.3h2.7v48.0h-2.7zM-43.3 75.3h2.7v32.0h-2.7zM-40.9 75.3h2.7v32.0h-2.7zM-38.5 11.3h2.7v16.0h-2.7zM-36.1 11.3h2.7v16.0h-2.7zM-33.7 27.3h2.7v16.0h-2.7zM-19.3 -132.7h2.7v64.0h-2.7zM-16.9 -4.7h2.7v16.0h-2.7zM-14.5 -4.7h2.7v16.0h-2.7zM-12.1 -4.7h2.7v16.0h-2.7zM-9.7 11.3h2.7v16.0h-2.7zM-7.3 123.3h2.7v16.0h-2.7zM-4.9 43.3h2.7v16.0h-2.7zM-4.9 123.3h2.7v16.0h-2.7zM-2.5 75.3h2.7v48.0h-2.7zM-0.1 43.3h2.7v80.0h-2.7zM7.1 139.3h2.7v16.0h-2.7zM9.5 139.3h2.7v16.0h-2.7zM11.9 139.3h2.7v16.0h-2.7zM16.7 -116.7h2.7v256.0h-2.7zM19.1 75.3h2.7v64.0h-2.7zM33.5 -20.7h2.7v16.0h-2.7zM35.9 -20.7h2.7v16.0h-2.7zM38.3 -20.7h2.7v16.0h-2.7zM40.7 -52.7h2.7v16.0h-2.7zM43.1 -84.7h2.7v16.0h-2.7zM43.1 139.3h2.7v16.0h-2.7zM45.5 -100.7h2.7v16.0h-2.7zM47.9 -100.7h2.7v16.0h-2.7zM50.3 -100.7h2.7v16.0h-2.7zM52.7 -100.7h2.7v16.0h-2.7zM57.5 59.3h2.7v48.0h-2.7zM59.9 -4.7h2.7v32.0h-2.7zM59.9 91.3h2.7v16.0h-2.7zM62.3 -68.7h2.7v16.0h-2.7zM62.3 91.3h2.7v16.0h-2.7zM69.5 -100.7h2.7v16.0h-2.7zM88.7 -68.7h2.7v128.0h-2.7zM91.1 27.3h2.7v32.0h-2.7zM93.5 43.3h2.7v16.0h-2.7zM95.9 -84.7h2.7v16.0h-2.7zM95.9 43.3h2.7v16.0h-2.7zM98.3 43.3h2.7v16.0h-2.7zM124.7 -52.7h2.7v16.0h-2.7zM131.9 -36.7h2.7v16.0h-2.7zM134.3 -36.7h2.7v16.0h-2.7zM136.7 -52.7h2.7v16.0h-2.7zM136.7 -4.7h2.7v16.0h-2.7zM139.1 -52.7h2.7v16.0h-2.7zM141.5 -52.7h2.7v16.0h-2.7zM146.3 -20.7h2.7v16.0h-2.7z"/>
<path fill="#e3d9d3" d="M-139.3 11.3h2.7v16.0h-2.7zM-100.9 11.3h2.7v16.0h-2.7zM-81.7 -52.7h2.7v32.0h-2.7zM-79.3 -52.7h2.7v16.0h-2.7zM-76.9 -52.7h2.7v16.0h-2.7zM-64.9 -100.7h2.7v32.0h-2.7zM-62.5 -68.7h2.7v16.0h-2.7zM-50.5 43.3h2.7v16.0h-2.7zM-45.7 -132.7h2.7v16.0h-2.7zM-43.3 27.3h2.7v48.0h-2.7zM-40.9 43.3h2.7v32.0h-2.7zM-38.5 -20.7h2.7v32.0h-2.7zM-33.7 11.3h2.7v16.0h-2.7zM-19.3 -68.7h2.7v48.0h-2.7zM-16.9 11.3h2.7v16.0h-2.7zM-14.5 11.3h2.7v16.0h-2.7zM-12.1 11.3h2.7v32.0h-2.7zM-9.7 27.3h2.7v16.0h-2.7zM-9.7 123.3h2.7v16.0h-2.7zM-7.3 27.3h2.7v16.0h-2.7zM-4.9 59.3h2.7v32.0h-2.7zM14.3 139.3h2.7v16.0h-2.7zM19.1 43.3h2.7v32.0h-2.7zM33.5 -36.7h2.7v16.0h-2.7zM35.9 -36.7h2.7v16.0h-2.7zM38.3 -52.7h2.7v32.0h-2.7zM40.7 -68.7h2.7v16.0h-2.7zM43.1 -100.7h2.7v16.0h-2.7zM59.9 27.3h2.7v32.0h-2.7zM62.3 -52.7h2.7v16.0h-2.7zM124.7 -20.7h2.7v16.0h-2.7zM136.7 -36.7h2.7v16.0h-2.7zM143.9 -52.7h2.7v16.0h-2.7z"/>
<path fill="#e9d5cb" d="M-100.9 27.3h2.7v16.0h-2.7zM-93.7 -84.7h2.7v16.0h-2.7zM-91.3 -84.7h2.7v16.0h-2.7zM-88.9 -84.7h2.7v16.0h-2.7zM-86.5 -84.7h2.7v16.0h-2.7zM-84.1 -84.7h2.7v16.0h-2.7zM-81.7 -84.7h2.7v32.0h-2.7zM-79.3 -84.7h2.7v32.0h-2.7zM-76.9 -68.7h2.7v16.0h-2.7zM-64.9 -68.7h2.7v32.0h-2.7zM-62.5 -52.7h2.7v16.0h-2.7zM-55.3 91.3h2.7v16.0h-2.7zM-50.5 59.3h2.7v32.0h-2.7zM-43.3 -4.7h2.7v32.0h-2.7zM-40.9 -4.7h2.7v48.0h-2.7zM-38.5 -36.7h2.7v16.0h-2.7zM-36.1 -4.7h2.7v16.0h-2.7zM-19.3 -20.7h2.7v32.0h-2.7zM-16.9 27.3h2.7v32.0h-2.7zM-14.5 27.3h2.7v32.0h-2.7zM-12.1 43.3h2.7v16.0h-2.7zM-12.1 123.3h2.7v16.0h-2.7zM-9.7 43.3h2.7v16.0h-2.7zM-7.3 43.3h2.7v16.0h-2.7zM-4.9 91.3h2.7v32.0h-2.7zM19.1 27.3h2.7v16.0h-2.7zM33.5 -52.7h2.7v16.0h-2.7zM35.9 -52.7h2.7v16.0h-2.7zM38.3 -68.7h2.7v16.0h-2.7zM40.7 -84.7h2.7v16.0h-2.7zM59.9 59.3h2.7v32.0h-2.7zM64.7 91.3h2.7v16.0h-2.7zM105.5 -68.7h2.7v16.0h-2.7zM110.3 27.3h2.7v16.0h-2.7zM134.3 -4.7h2.7v16.0h-2.7zM139.1 -36.7h2.7v16.0h-2.7zM141.5 -36.7h2.7v16.0h-2.7zM143.9 -36.7h2.7v16.0h-2.7zM146.3 -52.7h2.7v32.0h-2.7z"/>
<path fill="#eed0c0" d="M-127.3 43.3h2.7v16.0h-2.7zM-124.9 43.3h2.7v16.0h-2.7zM-105.7 59.3h2.7v16.0h-2.7zM-100.9 43.3h2.7v16.0h-2.7zM-79.3 75.3h2.7v16.0h-2.7zM-76.9 -84.7h2.7v16.0h-2.7zM-74.5 59.3h2.7v16.0h-2.7zM-67.3 -100.7h2.7v16.0h-2.7zM-64.9 -36.7h2.7v16.0h-2.7zM-62.5 -36.7h2.7v32.0h-2.7zM-43.3 -52.7h2.7v48.0h-2.7zM-40.9 -52.7h2.7v48.0h-2.7zM-38.5 -68.7h2.7v32.0h-2.7zM-38.5 107.3h2.7v16.0h-2.7zM-36.1 -20.7h2.7v16.0h-2.7zM-33.7 -4.7h2.7v16.0h-2.7zM-31.3 91.3h2.7v16.0h-2.7zM-19.3 11.3h2.7v32.0h-2.7zM-16.9 -148.7h2.7v16.0h-2.7zM-16.9 59.3h2.7v16.0h-2.7zM-14.5 59.3h2.7v16.0h-2.7zM-12.1 59.3h2.7v16.0h-2.7zM-9.7 59.3h2.7v16.0h-2.7zM-7.3 59.3h2.7v16.0h-2.7zM19.1 -4.7h2.7v32.0h-2.7zM26.3 -132.7h2.7v16.0h-2.7zM31.1 27.3h2.7v112.0h-2.7zM33.5 -84.7h2.7v32.0h-2.7zM35.9 -84.7h2.7v32.0h-2.7zM38.3 -84.7h2.7v16.0h-2.7zM40.7 -100.7h2.7v16.0h-2.7zM50.3 -116.7h2.7v16.0h-2.7zM62.3 -36.7h2.7v16.0h-2.7zM93.5 -84.7h2.7v16.0h-2.7z"/>
<path fill="#f2cbb7" d="M-141.7 11.3h2.7v16.0h-2.7zM-139.3 27.3h2.7v16.0h-2.7zM-122.5 11.3h2.7v48.0h-2.7zM-120.1 27.3h2.7v16.0h-2.7zM-74.5 -20.7h2.7v80.0h-2.7zM-64.9 -20.7h2.7v16.0h-2.7zM-62.5 -4.7h2.7v16.0h-2.7zM-50.5 -148.7h2.7v16.0h-2.7zM-43.3 -132.7h2.7v80.0h-2.7zM-40.9 -132.7h2.7v80.0h-2.7zM-38.5 -132.7h2.7v64.0h-2.7zM-36.1 -36.7h2.7v16.0h-2.7zM-33.7 -20.7h2.7v16.0h-2.7zM-31.3 75.3h2.7v16.0h-2.7zM-19.3 43.3h2.7v32.0h-2.7zM-19.3 107.3h2.7v16.0h-2.7zM-16.9 75.3h2.7v64.0h-2.7zM-14.5 75.3h2.7v64.0h-2.7zM-12.1 75.3h2.7v48.0h-2.7zM-9.7 75.3h2.7v48.0h-2.7zM-7.3 75.3h2.7v48.0h-2.7zM19.1 -36.7h2.7v32.0h-2.7zM21.5 59.3h2.7v80.0h-2.7zM31.1 -36.7h2.7v64.0h-2.7zM33.5 -100.7h2.7v16.0h-2.7zM35.9 -100.7h2.7v16.0h-2.7zM38.3 -116.7h2.7v32.0h-2.7zM40.7 -116.7h2.7v16.0h-2.7zM40.7 139.3h2.7v16.0h-2.7zM43.1 -116.7h2.7v16.0h-2.7zM45.5 -116.7h2.7v16.0h-2.7zM47.9 -116.7h2.7v16.0h-2.7zM62.3 -20.7h2.7v16.0h-2.7zM86.3 -68.7h2.7v32.0h-2.7zM103.1 -52.7h2.7v80.0h-2.7zM122.3 -52.7h2.7v32.0h-2.7zM131.9 -4.7h2.7v16.0h-2.7z"/>
<path fill="#f5c4ac" d="M-134.5 -20.7h2.7v16.0h-2.7zM-132.1 -20.7h2.7v16.0h-2.7zM-129.7 -20.7h2.7v16.0h-2.7zM-122.5 -4.7h2.7v16.0h-2.7zM-120.1 11.3h2.7v16.0h-2.7zM-108.1 59.3h2.7v16.0h-2.7zM-105.7 -36.7h2.7v64.0h-2.7zM-103.3 -36.7h2.7v64.0h-2.7zM-74.5 -84.7h2.7v64.0h-2.7zM-64.9 -4.7h2.7v32.0h-2.7zM-62.5 11.3h2.7v16.0h-2.7zM-48.1 -148.7h2.7v16.0h-2.7zM-31.3 43.3h2.7v32.0h-2.7zM-21.7 107.3h2.7v16.0h-2.7zM-19.3 75.3h2.7v32.0h-2.7zM19.1 -52.7h2.7v16.0h-2.7zM21.5 11.3h2.7v48.0h-2.7zM31.1 -84.7h2.7v48.0h-2.7zM35.9 -116.7h2.7v16.0h-2.7zM62.3 -4.7h2.7v16.0h-2.7zM67.1 91.3h2.7v16.0h-2.7zM79.1 -84.7h2.7v16.0h-2.7zM81.5 -84.7h2.7v16.0h-2.7zM83.9 43.3h2.7v16.0h-2.7zM86.3 -36.7h2.7v96.0h-2.7zM95.9 59.3h2.7v16.0h-2.7zM112.7 27.3h2.7v16.0h-2.7zM122.3 -20.7h2.7v16.0h-2.7zM129.5 -4.7h2.7v16.0h-2.7z"/>
<path fill="#f6bda2" d="M-144.1 11.3h2.7v16.0h-2.7zM-120.1 -4.7h2.7v16.0h-2.7zM-112.9 59.3h2.7v16.0h-2.7zM-110.5 59.3h2.7v16.0h-2.7zM-108.1 -36.7h2.7v16.0h-2.7zM-105.7 27.3h2.7v32.0h-2.7zM-103.3 27.3h2.7v32.0h-2.7zM-69.7 -100.7h2.7v16.0h-2.7zM-64.9 27.3h2.7v16.0h-2.7zM-62.5 27.3h2.7v16.0h-2.7zM-57.7 91.3h2.7v16.0h-2.7zM-45.7 -148.7h2.7v16.0h-2.7zM-36.1 -52.7h2.7v16.0h-2.7zM-33.7 -36.7h2.7v16.0h-2.7zM-31.3 27.3h2.7v16.0h-2.7zM-26.5 107.3h2.7v16.0h-2.7zM-24.1 107.3h2.7v16.0h-2.7zM-21.7 59.3h2.7v48.0h-2.7zM16.7 139.3h2.7v16.0h-2.7zM19.1 -84.7h2.7v32.0h-2.7zM21.5 -36.7h2.7v48.0h-2.7zM31.1 -100.7h2.7v16.0h-2.7zM33.5 -116.7h2.7v16.0h-2.7zM62.3 11.3h2.7v16.0h-2.7zM76.7 -84.7h2.7v64.0h-2.7zM79.1 -68.7h2.7v32.0h-2.7zM83.9 -84.7h2.7v128.0h-2.7zM88.7 -84.7h2.7v16.0h-2.7zM91.1 -84.7h2.7v16.0h-2.7zM93.5 59.3h2.7v16.0h-2.7z"/>
<path fill="#f7b599" d="M-127.3 -20.7h2.7v16.0h-2.7zM-120.1 43.3h2.7v16.0h-2.7zM-115.3 59.3h2.7v16.0h-2.7zM-110.5 -36.7h2.7v16.0h-2.7zM-64.9 43.3h2.7v32.0h-2.7zM-62.5 43.3h2.7v16.0h-2.7zM-36.1 -68.7h2.7v16.0h-2.7zM-36.1 107.3h2.7v16.0h-2.7zM-33.7 -52.7h2.7v16.0h-2.7zM-33.7 107.3h2.7v16.0h-2.7zM-31.3 -4.7h2.7v32.0h-2.7zM-31.3 107.3h2.7v16.0h-2.7zM-28.9 59.3h2.7v64.0h-2.7zM-26.5 59.3h2.7v48.0h-2.7zM-24.1 59.3h2.7v48.0h-2.7zM-21.7 -20.7h2.7v80.0h-2.7zM19.1 -116.7h2.7v32.0h-2.7zM21.5 -68.7h2.7v32.0h-2.7zM26.3 139.3h2.7v16.0h-2.7zM28.7 -100.7h2.7v256.0h-2.7zM31.1 139.3h2.7v16.0h-2.7zM33.5 139.3h2.7v16.0h-2.7zM35.9 139.3h2.7v16.0h-2.7zM38.3 139.3h2.7v16.0h-2.7zM71.9 -100.7h2.7v16.0h-2.7zM76.7 -20.7h2.7v32.0h-2.7zM79.1 -36.7h2.7v32.0h-2.7zM81.5 -68.7h2.7v64.0h-2.7zM86.3 -84.7h2.7v16.0h-2.7zM91.1 59.3h2.7v16.0h-2.7zM107.9 -68.7h2.7v16.0h-2.7zM127.1 -4.7h2.7v16.0h-2.7z"/>
<path fill="#f7ac8e" d="M-148.9 11.3h2.7v32.0h-2.7zM-146.5 11.3h2.7v32.0h-2.7zM-144.1 27.3h2.7v16.0h-2.7zM-141.7 27.3h2.7v16.0h-2.7zM-124.9 -20.7h2.7v16.0h-2.7zM-117.7 27.3h2.7v16.0h-2.7zM-108.1 -20.7h2.7v16.0h-2.7zM-76.9 75.3h2.7v16.0h-2.7zM-74.5 75.3h2.7v16.0h-2.7zM-72.1 -116.7h2.7v32.0h-2.7zM-72.1 -20.7h2.7v112.0h-2.7zM-69.7 -116.7h2.7v16.0h-2.7zM-69.7 -20.7h2.7v112.0h-2.7zM-67.3 -116.7h2.7v16.0h-2.7zM-67.3 -4.7h2.7v96.0h-2.7zM-64.9 -116.7h2.7v16.0h-2.7zM-64.9 75.3h2.7v16.0h-2.7zM-62.5 59.3h2.7v16.0h-2.7zM-60.1 -100.7h2.7v80.0h-2.7zM-57.7 -100.7h2.7v80.0h-2.7zM-52.9 59.3h2.7v32.0h-2.7zM-43.3 -148.7h2.7v16.0h-2.7zM-36.1 -84.7h2.7v16.0h-2.7zM-31.3 -20.7h2.7v16.0h-2.7zM-28.9 11.3h2.7v48.0h-2.7zM-26.5 11.3h2.7v48.0h-2.7zM-24.1 11.3h2.7v48.0h-2.7zM-21.7 -132.7h2.7v112.0h-2.7zM19.1 139.3h2.7v16.0h-2.7zM21.5 -116.7h2.7v48.0h-2.7zM21.5 139.3h2.7v16.0h-2.7zM23.9 -116.7h2.7v272.0h-2.7zM26.3 -116.7h2.7v256.0h-2.7zM28.7 -116.7h2.7v16.0h-2.7zM31.1 -116.7h2.7v16.0h-2.7zM62.3 27.3h2.7v16.0h-2.7zM69.5 91.3h2.7v16.0h-2.7zM71.9 59.3h2.7v16.0h-2.7zM74.3 -68.7h2.7v160.0h-2.7zM76.7 11.3h2.7v48.0h-2.7zM76.7 75.3h2.7v16.0h-2.7zM79.1 -4.7h2.7v32.0h-2.7zM79.1 75.3h2.7v16.0h-2.7zM81.5 -4.7h2.7v64.0h-2.7zM81.5 75.3h2.7v16.0h-2.7zM83.9 75.3h2.7v16.0h-2.7zM86.3 75.3h2.7v16.0h-2.7zM88.7 59.3h2.7v16.0h-2.7zM115.1 27.3h2.7v16.0h-2.7zM117.5 11.3h2.7v16.0h-2.7zM119.9 -52.7h2.7v16.0h-2.7zM119.9 11.3h2.7v16.0h-2.7zM124.7 -4.7h2.7v16.0h-2.7z"/>
<path fill="#f6a385" d="M-117.7 11.3h2.7v16.0h-2.7zM-115.3 -36.7h2.7v16.0h-2.7zM-112.9 -36.7h2.7v16.0h-2.7zM-108.1 -4.7h2.7v64.0h-2.7zM-81.7 -100.7h2.7v16.0h-2.7zM-79.3 -100.7h2.7v16.0h-2.7zM-76.9 -100.7h2.7v16.0h-2.7zM-74.5 -100.7h2.7v16.0h-2.7zM-72.1 -84.7h2.7v64.0h-2.7zM-69.7 -84.7h2.7v64.0h-2.7zM-67.3 -84.7h2.7v80.0h-2.7zM-62.5 -116.7h2.7v16.0h-2.7zM-62.5 75.3h2.7v16.0h-2.7zM-60.1 -20.7h2.7v128.0h-2.7zM-57.7 -20.7h2.7v112.0h-2.7zM-52.9 27.3h2.7v32.0h-2.7zM-36.1 -132.7h2.7v48.0h-2.7zM-33.7 -68.7h2.7v16.0h-2.7zM-31.3 -52.7h2.7v32.0h-2.7zM-28.9 -20.7h2.7v32.0h-2.7zM-26.5 -20.7h2.7v32.0h-2.7zM-24.1 -20.7h2.7v32.0h-2.7zM-19.3 -148.7h2.7v16.0h-2.7zM62.3 43.3h2.7v16.0h-2.7zM64.7 -84.7h2.7v64.0h-2.7zM69.5 59.3h2.7v32.0h-2.7zM71.9 43.3h2.7v16.0h-2.7zM71.9 75.3h2.7v16.0h-2.7zM76.7 59.3h2.7v16.0h-2.7zM79.1 27.3h2.7v32.0h-2.7zM81.5 59.3h2.7v16.0h-2.7zM83.9 59.3h2.7v16.0h-2.7zM86.3 59.3h2.7v16.0h-2.7zM105.5 -52.7h2.7v48.0h-2.7zM112.7 -20.7h2.7v48.0h-2.7zM115.1 11.3h2.7v16.0h-2.7zM117.5 27.3h2.7v16.0h-2.7zM119.9 -36.7h2.7v32.0h-2.7zM122.3 -4.7h2.7v32.0h-2.7zM124.7 11.3h2.7v16.0h-2.7z"/>
<path fill="#f4987a" d="M-122.5 -36.7h2.7v32.0h-2.7zM-120.1 -36.7h2.7v16.0h-2.7zM-117.7 -36.7h2.7v16.0h-2.7zM-117.7 -4.7h2.7v16.0h-2.7zM-110.5 -20.7h2.7v16.0h-2.7zM-67.3 91.3h2.7v16.0h-2.7zM-64.9 91.3h2.7v16.0h-2.7zM-62.5 91.3h2.7v16.0h-2.7zM-55.3 59.3h2.7v32.0h-2.7zM-52.9 -4.7h2.7v32.0h-2.7zM-40.9 -148.7h2.7v16.0h-2.7zM-33.7 -84.7h2.7v16.0h-2.7zM-31.3 -68.7h2.7v16.0h-2.7zM-28.9 -68.7h2.7v48.0h-2.7zM-26.5 -68.7h2.7v48.0h-2.7zM-24.1 -68.7h2.7v48.0h-2.7zM62.3 59.3h2.7v16.0h-2.7zM64.7 -20.7h2.7v64.0h-2.7zM69.5 27.3h2.7v32.0h-2.7zM71.9 11.3h2.7v32.0h-2.7zM79.1 59.3h2.7v16.0h-2.7zM105.5 -4.7h2.7v32.0h-2.7zM110.3 -68.7h2.7v16.0h-2.7zM110.3 -4.7h2.7v32.0h-2.7zM112.7 -36.7h2.7v16.0h-2.7zM119.9 -4.7h2.7v16.0h-2.7zM127.1 11.3h2.7v16.0h-2.7z"/>
<path fill="#f18f71" d="M-120.1 -20.7h2.7v16.0h-2.7zM-110.5 -4.7h2.7v32.0h-2.7zM-60.1 -116.7h2.7v16.0h-2.7zM-55.3 11.3h2.7v48.0h-2.7zM-52.9 -36.7h2.7v32.0h-2.7zM-38.5 -148.7h2.7v16.0h-2.7zM-36.1 -148.7h2.7v16.0h-2.7zM-33.7 -148.7h2.7v64.0h-2.7zM-31.3 -148.7h2.7v80.0h-2.7zM-28.9 -148.7h2.7v80.0h-2.7zM-26.5 -148.7h2.7v80.0h-2.7zM-24.1 -148.7h2.7v80.0h-2.7zM-21.7 -148.7h2.7v16.0h-2.7zM62.3 75.3h2.7v16.0h-2.7zM64.7 43.3h2.7v48.0h-2.7zM67.1 43.3h2.7v48.0h-2.7zM69.5 -4.7h2.7v32.0h-2.7zM71.9 -4.7h2.7v16.0h-2.7zM71.9 91.3h2.7v16.0h-2.7zM74.3 -84.7h2.7v16.0h-2.7zM74.3 91.3h2.7v16.0h-2.7zM76.7 91.3h2.7v16.0h-2.7zM107.9 -20.7h2.7v48.0h-2.7zM110.3 -52.7h2.7v48.0h-2.7zM112.7 -52.7h2.7v16.0h-2.7zM115.1 -36.7h2.7v48.0h-2.7zM117.5 -68.7h2.7v16.0h-2.7zM119.9 -68.7h2.7v16.0h-2.7zM122.3 -68.7h2.7v16.0h-2.7z"/>
<path fill="#ee8468" d="M-124.9 -36.7h2.7v16.0h-2.7zM-117.7 -20.7h2.7v16.0h-2.7zM-117.7 43.3h2.7v16.0h-2.7zM-110.5 27.3h2.7v32.0h-2.7zM-55.3 -36.7h2.7v48.0h-2.7zM-52.9 -52.7h2.7v16.0h-2.7zM67.1 11.3h2.7v32.0h-2.7zM69.5 -20.7h2.7v16.0h-2.7zM71.9 -36.7h2.7v32.0h-2.7zM107.9 -52.7h2.7v32.0h-2.7zM112.7 -68.7h2.7v16.0h-2.7zM115.1 -68.7h2.7v32.0h-2.7zM124.7 -68.7h2.7v16.0h-2.7z"/>
<path fill="#e9785d" d="M-112.9 -20.7h2.7v48.0h-2.7zM-57.7 -116.7h2.7v16.0h-2.7zM-55.3 -116.7h2.7v80.0h-2.7zM-52.9 -116.7h2.7v64.0h-2.7zM67.1 -20.7h2.7v32.0h-2.7zM69.5 -52.7h2.7v32.0h-2.7zM71.9 -52.7h2.7v16.0h-2.7zM117.5 -52.7h2.7v64.0h-2.7z"/>
<path fill="#e36c55" d="M-115.3 -20.7h2.7v80.0h-2.7zM-112.9 27.3h2.7v32.0h-2.7zM67.1 -68.7h2.7v48.0h-2.7zM69.5 -84.7h2.7v32.0h-2.7zM71.9 -84.7h2.7v32.0h-2.7zM74.3 -100.7h2.7v16.0h-2.7z"/>
<path fill="#dd5f4b" d="M67.1 -84.7h2.7v16.0h-2.7z"/>
</g></g></g>
<rect x="1055.00" y="37.10" width="207.50" height="207.50" fill="url(#pt_sb1)" opacity="1.00"/>
</g>
<g transform="matrix(0.98964 0 0 1 13.740 0)">
<rect x="1326.05" y="37.10" width="207.50" height="207.50" fill="#d2dbe8"/>
<rect x="1326.05" y="37.10" width="207.50" height="207.50" fill="url(#pt_lgb1)" opacity="0.45"/>
<rect x="1326.05" y="37.10" width="207.50" height="207.50" fill="url(#pt_lgb2)" opacity="0.45"/>
</g>
<g transform="matrix(0.99807 0 0 1 2.994 0)">
<rect x="1552.90" y="37.10" width="207.50" height="207.50" fill="#fef2ed"/>
<rect x="1552.90" y="37.10" width="207.50" height="207.50" fill="url(#pt_lb1)" opacity="1.00"/>
<rect x="1552.90" y="37.10" width="207.50" height="207.50" fill="url(#pt_lb2)" opacity="1.00"/>
</g>
<g transform="matrix(0.98747 0 0 1 22.329 0)">
<rect x="1782.00" y="37.10" width="207.50" height="207.50" fill="#fef2ed"/>
<rect x="1782.00" y="37.10" width="207.50" height="207.50" fill="url(#pt_lb1)" opacity="1.00"/>
<rect x="1782.00" y="37.10" width="207.50" height="207.50" fill="url(#pt_lb2)" opacity="1.00"/>
</g>
<text x="1030.80" y="140.85" font-size="22.90" text-anchor="middle" font-weight="normal" font-family="'DejaVu Sans', 'Liberation Sans', sans-serif" transform="rotate(-90 1030.80 140.85)">Surf1</text>
<text x="1301.30" y="140.85" font-size="22.90" text-anchor="middle" font-weight="normal" font-family="'DejaVu Sans', 'Liberation Sans', sans-serif" transform="rotate(-90 1301.30 140.85)">Grad1</text>
<g transform="matrix(0.99711 0 0 1 3.051 0)">
<g clip-path="url(#cp13)"><g filter="url(#bl14)"><g transform="translate(1158.75 363.95) rotate(58.00)">
<path fill="#96b7ff" d="M-146.5 11.3h2.7v16.0h-2.7zM-144.1 11.3h2.7v16.0h-2.7zM-144.1 43.3h2.7v16.0h-2.7zM-141.7 11.3h2.7v16.0h-2.7zM-141.7 43.3h2.7v16.0h-2.7zM-139.3 11.3h2.7v16.0h-2.7zM-136.9 11.3h2.7v32.0h-2.7zM-134.5 11.3h2.7v32.0h-2.7zM-16.9 123.3h2.7v16.0h-2.7zM-9.7 91.3h2.7v32.0h-2.7zM31.1 -100.7h2.7v16.0h-2.7zM35.9 -116.7h2.7v32.0h-2.7zM38.3 -116.7h2.7v16.0h-2.7zM40.7 -116.7h2.7v16.0h-2.7zM43.1 -116.7h2.7v16.0h-2.7z"/>
<path fill="#9ebeff" d="M-148.9 11.3h2.7v16.0h-2.7zM-139.3 27.3h2.7v32.0h-2.7zM-12.1 91.3h2.7v32.0h-2.7zM-9.7 75.3h2.7v16.0h-2.7zM14.3 139.3h2.7v16.0h-2.7zM16.7 139.3h2.7v16.0h-2.7zM19.1 139.3h2.7v16.0h-2.7zM21.5 75.3h2.7v64.0h-2.7zM23.9 75.3h2.7v64.0h-2.7zM31.1 -84.7h2.7v16.0h-2.7zM33.5 -100.7h2.7v16.0h-2.7zM35.9 -84.7h2.7v16.0h-2.7zM38.3 -100.7h2.7v16.0h-2.7zM76.7 59.3h2.7v16.0h-2.7zM81.5 -84.7h2.7v16.0h-2.7zM81.5 75.3h2.7v16.0h-2.7zM83.9 75.3h2.7v16.0h-2.7zM86.3 75.3h2.7v16.0h-2.7z"/>
<path fill="#a7c5fe" d="M-136.9 43.3h2.7v16.0h-2.7zM-132.1 11.3h2.7v32.0h-2.7zM-12.1 75.3h2.7v16.0h-2.7zM-9.7 59.3h2.7v16.0h-2.7zM21.5 59.3h2.7v16.0h-2.7zM23.9 59.3h2.7v16.0h-2.7zM31.1 -68.7h2.7v16.0h-2.7zM33.5 -84.7h2.7v16.0h-2.7zM35.9 -68.7h2.7v32.0h-2.7zM38.3 -84.7h2.7v32.0h-2.7zM45.5 -116.7h2.7v16.0h-2.7zM74.3 59.3h2.7v16.0h-2.7zM76.7 43.3h2.7v16.0h-2.7zM79.1 -68.7h2.7v32.0h-2.7zM83.9 -84.7h2.7v16.0h-2.7z"/>
<path fill="#afcafc" d="M-129.7 27.3h2.7v16.0h-2.7zM-7.3 75.3h2.7v48.0h-2.7zM21.5 139.3h2.7v16.0h-2.7zM23.9 43.3h2.7v16.0h-2.7zM26.3 59.3h2.7v80.0h-2.7zM31.1 -52.7h2.7v16.0h-2.7zM33.5 -116.7h2.7v16.0h-2.7zM33.5 -68.7h2.7v16.0h-2.7zM35.9 -36.7h2.7v16.0h-2.7zM38.3 -52.7h2.7v32.0h-2.7zM71.9 59.3h2.7v16.0h-2.7zM74.3 43.3h2.7v16.0h-2.7zM76.7 11.3h2.7v32.0h-2.7zM79.1 -36.7h2.7v32.0h-2.7zM79.1 75.3h2.7v16.0h-2.7z"/>
<path fill="#b9d0f9" d="M-144.1 -4.7h2.7v16.0h-2.7zM-141.7 -4.7h2.7v16.0h-2.7zM-141.7 27.3h2.7v16.0h-2.7zM-139.3 -4.7h2.7v16.0h-2.7zM-134.5 43.3h2.7v16.0h-2.7zM-129.7 11.3h2.7v16.0h-2.7zM-12.1 59.3h2.7v16.0h-2.7zM-9.7 43.3h2.7v16.0h-2.7zM-7.3 59.3h2.7v16.0h-2.7zM21.5 43.3h2.7v16.0h-2.7zM23.9 27.3h2.7v16.0h-2.7zM26.3 43.3h2.7v16.0h-2.7zM31.1 -36.7h2.7v32.0h-2.7zM35.9 -20.7h2.7v32.0h-2.7zM38.3 -20.7h2.7v32.0h-2.7zM71.9 43.3h2.7v16.0h-2.7zM76.7 -20.7h2.7v32.0h-2.7zM79.1 -4.7h2.7v32.0h-2.7z"/>
<path fill="#c0d4f5" d="M-148.9 27.3h2.7v16.0h-2.7zM-146.5 27.3h2.7v16.0h-2.7zM-144.1 27.3h2.7v16.0h-2.7zM-136.9 -4.7h2.7v16.0h-2.7zM-134.5 -4.7h2.7v16.0h-2.7zM-14.5 123.3h2.7v16.0h-2.7zM-12.1 43.3h2.7v16.0h-2.7zM-9.7 27.3h2.7v16.0h-2.7zM-7.3 43.3h2.7v16.0h-2.7zM21.5 27.3h2.7v16.0h-2.7zM23.9 -4.7h2.7v32.0h-2.7zM26.3 11.3h2.7v32.0h-2.7zM31.1 -4.7h2.7v16.0h-2.7zM33.5 -52.7h2.7v16.0h-2.7zM35.9 11.3h2.7v16.0h-2.7zM38.3 11.3h2.7v32.0h-2.7zM74.3 27.3h2.7v16.0h-2.7zM76.7 -52.7h2.7v32.0h-2.7zM79.1 -84.7h2.7v16.0h-2.7zM79.1 27.3h2.7v32.0h-2.7zM81.5 -68.7h2.7v32.0h-2.7z"/>
<path fill="#c7d7f0" d="M-132.1 -4.7h2.7v16.0h-2.7zM-132.1 43.3h2.7v16.0h-2.7zM-129.7 -4.7h2.7v16.0h-2.7zM-127.3 11.3h2.7v32.0h-2.7zM-93.7 -84.7h2.7v16.0h-2.7zM-91.3 -84.7h2.7v16.0h-2.7zM-88.9 -84.7h2.7v16.0h-2.7zM-86.5 -84.7h2.7v16.0h-2.7zM-81.7 -68.7h2.7v48.0h-2.7zM-79.3 -68.7h2.7v16.0h-2.7zM-12.1 27.3h2.7v16.0h-2.7zM-9.7 11.3h2.7v16.0h-2.7zM-7.3 27.3h2.7v16.0h-2.7zM21.5 11.3h2.7v16.0h-2.7zM23.9 -20.7h2.7v16.0h-2.7zM26.3 -20.7h2.7v32.0h-2.7zM28.7 -100.7h2.7v32.0h-2.7zM31.1 11.3h2.7v16.0h-2.7zM33.5 -36.7h2.7v16.0h-2.7zM35.9 27.3h2.7v32.0h-2.7zM38.3 43.3h2.7v32.0h-2.7zM55.1 -100.7h2.7v16.0h-2.7zM71.9 27.3h2.7v16.0h-2.7zM74.3 11.3h2.7v16.0h-2.7zM76.7 -68.7h2.7v16.0h-2.7zM79.1 59.3h2.7v16.0h-2.7zM81.5 -36.7h2.7v16.0h-2.7z"/>
<path fill="#cfdaea" d="M-129.7 43.3h2.7v16.0h-2.7zM-127.3 -4.7h2.7v16.0h-2.7zM-124.9 -4.7h2.7v48.0h-2.7zM-84.1 -68.7h2.7v16.0h-2.7zM-81.7 -20.7h2.7v48.0h-2.7zM-79.3 -52.7h2.7v16.0h-2.7zM-64.9 91.3h2.7v16.0h-2.7zM-7.3 11.3h2.7v16.0h-2.7zM21.5 -4.7h2.7v16.0h-2.7zM23.9 -36.7h2.7v16.0h-2.7zM26.3 -52.7h2.7v32.0h-2.7zM28.7 -68.7h2.7v64.0h-2.7zM31.1 27.3h2.7v32.0h-2.7zM33.5 -20.7h2.7v16.0h-2.7zM35.9 59.3h2.7v80.0h-2.7zM38.3 75.3h2.7v64.0h-2.7zM40.7 43.3h2.7v96.0h-2.7zM43.1 123.3h2.7v16.0h-2.7zM45.5 123.3h2.7v16.0h-2.7zM47.9 123.3h2.7v16.0h-2.7zM52.7 -84.7h2.7v16.0h-2.7zM57.5 -100.7h2.7v16.0h-2.7zM59.9 -100.7h2.7v16.0h-2.7zM62.3 -100.7h2.7v16.0h-2.7zM64.7 -100.7h2.7v16.0h-2.7zM71.9 11.3h2.7v16.0h-2.7zM81.5 -20.7h2.7v16.0h-2.7zM81.5 59.3h2.7v16.0h-2.7zM117.5 -52.7h2.7v32.0h-2.7zM124.7 -68.7h2.7v16.0h-2.7z"/>
<path fill="#d6dce4" d="M-127.3 43.3h2.7v16.0h-2.7zM-88.9 75.3h2.7v16.0h-2.7zM-84.1 -84.7h2.7v16.0h-2.7zM-84.1 -52.7h2.7v112.0h-2.7zM-81.7 27.3h2.7v48.0h-2.7zM-79.3 -36.7h2.7v16.0h-2.7zM-67.3 91.3h2.7v16.0h-2.7zM-62.5 59.3h2.7v48.0h-2.7zM-60.1 59.3h2.7v32.0h-2.7zM-57.7 59.3h2.7v32.0h-2.7zM-55.3 75.3h2.7v16.0h-2.7zM-14.5 107.3h2.7v16.0h-2.7zM-12.1 11.3h2.7v16.0h-2.7zM-9.7 -4.7h2.7v16.0h-2.7zM-7.3 -4.7h2.7v16.0h-2.7zM21.5 -20.7h2.7v16.0h-2.7zM23.9 -52.7h2.7v16.0h-2.7zM23.9 139.3h2.7v16.0h-2.7zM26.3 -84.7h2.7v32.0h-2.7zM28.7 -4.7h2.7v64.0h-2.7zM31.1 -116.7h2.7v16.0h-2.7zM31.1 59.3h2.7v16.0h-2.7zM40.7 -4.7h2.7v48.0h-2.7zM47.9 -116.7h2.7v16.0h-2.7zM50.3 123.3h2.7v16.0h-2.7zM52.7 -100.7h2.7v16.0h-2.7zM52.7 -68.7h2.7v32.0h-2.7zM55.1 -84.7h2.7v16.0h-2.7zM57.5 -84.7h2.7v16.0h-2.7zM59.9 -84.7h2.7v16.0h-2.7zM62.3 -84.7h2.7v16.0h-2.7zM67.1 -100.7h2.7v16.0h-2.7zM69.5 -100.7h2.7v16.0h-2.7zM71.9 -4.7h2.7v16.0h-2.7zM74.3 -4.7h2.7v16.0h-2.7zM76.7 75.3h2.7v16.0h-2.7zM81.5 -4.7h2.7v32.0h-2.7zM83.9 59.3h2.7v16.0h-2.7zM86.3 -84.7h2.7v16.0h-2.7zM117.5 -20.7h2.7v32.0h-2.7z"/>
<path fill="#dddcdc" d="M-103.3 -68.7h2.7v16.0h-2.7zM-100.9 -68.7h2.7v16.0h-2.7zM-93.7 -68.7h2.7v16.0h-2.7zM-93.7 59.3h2.7v16.0h-2.7zM-91.3 -68.7h2.7v80.0h-2.7zM-91.3 75.3h2.7v16.0h-2.7zM-88.9 -68.7h2.7v16.0h-2.7zM-86.5 -68.7h2.7v16.0h-2.7zM-84.1 59.3h2.7v16.0h-2.7zM-79.3 -20.7h2.7v16.0h-2.7zM-62.5 43.3h2.7v16.0h-2.7zM-60.1 43.3h2.7v16.0h-2.7zM-57.7 43.3h2.7v16.0h-2.7zM-55.3 59.3h2.7v16.0h-2.7zM-52.9 -148.7h2.7v16.0h-2.7zM-43.3 -132.7h2.7v64.0h-2.7zM-40.9 -132.7h2.7v64.0h-2.7zM-31.3 -148.7h2.7v80.0h-2.7zM-28.9 -148.7h2.7v64.0h-2.7zM-19.3 107.3h2.7v16.0h-2.7zM-16.9 75.3h2.7v48.0h-2.7zM-14.5 75.3h2.7v32.0h-2.7zM-12.1 -4.7h2.7v16.0h-2.7zM-9.7 -20.7h2.7v16.0h-2.7zM-7.3 -20.7h2.7v16.0h-2.7zM11.9 139.3h2.7v16.0h-2.7zM14.3 -116.7h2.7v32.0h-2.7zM16.7 -116.7h2.7v32.0h-2.7zM21.5 -132.7h2.7v16.0h-2.7zM21.5 -36.7h2.7v16.0h-2.7zM23.9 -132.7h2.7v16.0h-2.7zM23.9 -68.7h2.7v16.0h-2.7zM26.3 -116.7h2.7v32.0h-2.7zM26.3 139.3h2.7v16.0h-2.7zM28.7 -116.7h2.7v16.0h-2.7zM28.7 59.3h2.7v80.0h-2.7zM31.1 75.3h2.7v64.0h-2.7zM33.5 -4.7h2.7v16.0h-2.7zM40.7 -52.7h2.7v48.0h-2.7zM52.7 -36.7h2.7v16.0h-2.7zM52.7 123.3h2.7v16.0h-2.7zM55.1 -68.7h2.7v16.0h-2.7zM71.9 -100.7h2.7v16.0h-2.7zM74.3 -20.7h2.7v16.0h-2.7zM81.5 27.3h2.7v16.0h-2.7zM86.3 59.3h2.7v16.0h-2.7zM119.9 -4.7h2.7v16.0h-2.7zM122.3 -68.7h2.7v16.0h-2.7zM122.3 -4.7h2.7v16.0h-2.7zM127.1 -68.7h2.7v16.0h-2.7z"/>
<path fill="#e3d9d3" d="M-122.5 -4.7h2.7v48.0h-2.7zM-98.5 -68.7h2.7v16.0h-2.7zM-96.1 -68.7h2.7v16.0h-2.7zM-96.1 59.3h2.7v16.0h-2.7zM-93.7 27.3h2.7v32.0h-2.7zM-91.3 11.3h2.7v48.0h-2.7zM-88.9 -52.7h2.7v16.0h-2.7zM-86.5 -52.7h2.7v16.0h-2.7zM-79.3 -4.7h2.7v16.0h-2.7zM-62.5 11.3h2.7v32.0h-2.7zM-60.1 11.3h2.7v32.0h-2.7zM-57.7 11.3h2.7v32.0h-2.7zM-55.3 27.3h2.7v32.0h-2.7zM-50.5 -148.7h2.7v16.0h-2.7zM-45.7 -132.7h2.7v48.0h-2.7zM-43.3 -68.7h2.7v16.0h-2.7zM-40.9 -68.7h2.7v16.0h-2.7zM-33.7 -148.7h2.7v80.0h-2.7zM-28.9 -84.7h2.7v16.0h-2.7zM-26.5 -148.7h2.7v16.0h-2.7zM-16.9 59.3h2.7v16.0h-2.7zM-14.5 59.3h2.7v16.0h-2.7zM-12.1 -20.7h2.7v16.0h-2.7zM-7.3 -36.7h2.7v16.0h-2.7zM14.3 -84.7h2.7v32.0h-2.7zM16.7 -84.7h2.7v32.0h-2.7zM23.9 -84.7h2.7v16.0h-2.7zM33.5 11.3h2.7v16.0h-2.7zM40.7 -100.7h2.7v48.0h-2.7zM43.1 59.3h2.7v64.0h-2.7zM50.3 -84.7h2.7v32.0h-2.7zM52.7 -20.7h2.7v16.0h-2.7zM55.1 -52.7h2.7v16.0h-2.7zM55.1 123.3h2.7v16.0h-2.7zM57.5 -68.7h2.7v16.0h-2.7zM59.9 -68.7h2.7v16.0h-2.7zM62.3 -68.7h2.7v16.0h-2.7zM64.7 -84.7h2.7v16.0h-2.7zM67.1 -84.7h2.7v16.0h-2.7zM69.5 -84.7h2.7v16.0h-2.7zM71.9 -20.7h2.7v16.0h-2.7zM74.3 -100.7h2.7v16.0h-2.7zM74.3 -36.7h2.7v16.0h-2.7zM81.5 43.3h2.7v16.0h-2.7zM115.1 -52.7h2.7v32.0h-2.7zM119.9 -52.7h2.7v48.0h-2.7zM124.7 -4.7h2.7v16.0h-2.7zM127.1 -4.7h2.7v16.0h-2.7z"/>
<path fill="#e9d5cb" d="M-124.9 43.3h2.7v16.0h-2.7zM-98.5 59.3h2.7v16.0h-2.7zM-93.7 -20.7h2.7v48.0h-2.7zM-93.7 75.3h2.7v16.0h-2.7zM-91.3 59.3h2.7v16.0h-2.7zM-88.9 -36.7h2.7v32.0h-2.7zM-86.5 -36.7h2.7v32.0h-2.7zM-81.7 -84.7h2.7v16.0h-2.7zM-79.3 11.3h2.7v16.0h-2.7zM-62.5 -4.7h2.7v16.0h-2.7zM-60.1 -4.7h2.7v16.0h-2.7zM-60.1 91.3h2.7v16.0h-2.7zM-57.7 -4.7h2.7v16.0h-2.7zM-55.3 11.3h2.7v16.0h-2.7zM-48.1 -148.7h2.7v16.0h-2.7zM-45.7 -84.7h2.7v32.0h-2.7zM-43.3 -52.7h2.7v16.0h-2.7zM-40.9 -52.7h2.7v16.0h-2.7zM-33.7 -68.7h2.7v16.0h-2.7zM-31.3 -68.7h2.7v16.0h-2.7zM-28.9 -68.7h2.7v16.0h-2.7zM-16.9 43.3h2.7v16.0h-2.7zM-14.5 43.3h2.7v16.0h-2.7zM-9.7 -36.7h2.7v16.0h-2.7zM-7.3 -52.7h2.7v16.0h-2.7zM14.3 -52.7h2.7v32.0h-2.7zM16.7 -52.7h2.7v32.0h-2.7zM19.1 -132.7h2.7v16.0h-2.7zM19.1 27.3h2.7v112.0h-2.7zM21.5 -52.7h2.7v16.0h-2.7zM23.9 -100.7h2.7v16.0h-2.7zM43.1 27.3h2.7v32.0h-2.7zM50.3 -52.7h2.7v48.0h-2.7zM52.7 -4.7h2.7v16.0h-2.7zM55.1 -36.7h2.7v16.0h-2.7zM57.5 -52.7h2.7v16.0h-2.7zM57.5 123.3h2.7v16.0h-2.7zM59.9 -52.7h2.7v16.0h-2.7zM62.3 -52.7h2.7v16.0h-2.7zM64.7 -68.7h2.7v16.0h-2.7zM67.1 -68.7h2.7v16.0h-2.7zM69.5 -68.7h2.7v16.0h-2.7zM71.9 -36.7h2.7v16.0h-2.7zM88.7 59.3h2.7v16.0h-2.7zM112.7 -52.7h2.7v16.0h-2.7zM115.1 -20.7h2.7v16.0h-2.7zM117.5 -68.7h2.7v16.0h-2.7zM119.9 -68.7h2.7v16.0h-2.7zM129.5 -4.7h2.7v16.0h-2.7z"/>
<path fill="#eed0c0" d="M-96.1 27.3h2.7v32.0h-2.7zM-93.7 -52.7h2.7v32.0h-2.7zM-88.9 -4.7h2.7v32.0h-2.7zM-86.5 -4.7h2.7v32.0h-2.7zM-86.5 75.3h2.7v16.0h-2.7zM-79.3 27.3h2.7v16.0h-2.7zM-64.9 75.3h2.7v16.0h-2.7zM-62.5 -36.7h2.7v32.0h-2.7zM-60.1 -36.7h2.7v32.0h-2.7zM-57.7 -36.7h2.7v32.0h-2.7zM-55.3 -20.7h2.7v32.0h-2.7zM-48.1 -132.7h2.7v16.0h-2.7zM-45.7 -52.7h2.7v16.0h-2.7zM-43.3 -36.7h2.7v16.0h-2.7zM-40.9 -36.7h2.7v16.0h-2.7zM-33.7 -52.7h2.7v16.0h-2.7zM-31.3 -52.7h2.7v16.0h-2.7zM-28.9 -52.7h2.7v16.0h-2.7zM-26.5 -132.7h2.7v64.0h-2.7zM-21.7 107.3h2.7v16.0h-2.7zM-19.3 75.3h2.7v32.0h-2.7zM-16.9 11.3h2.7v32.0h-2.7zM-14.5 11.3h2.7v32.0h-2.7zM-12.1 -36.7h2.7v16.0h-2.7zM-9.7 -52.7h2.7v16.0h-2.7zM-7.3 -68.7h2.7v16.0h-2.7zM11.9 -116.7h2.7v48.0h-2.7zM14.3 -20.7h2.7v16.0h-2.7zM16.7 -20.7h2.7v16.0h-2.7zM19.1 -36.7h2.7v64.0h-2.7zM21.5 -68.7h2.7v16.0h-2.7zM33.5 27.3h2.7v16.0h-2.7zM43.1 -4.7h2.7v32.0h-2.7zM50.3 -100.7h2.7v16.0h-2.7zM50.3 -4.7h2.7v48.0h-2.7zM52.7 11.3h2.7v16.0h-2.7zM64.7 -52.7h2.7v16.0h-2.7zM67.1 -52.7h2.7v16.0h-2.7zM69.5 -52.7h2.7v16.0h-2.7zM71.9 -52.7h2.7v16.0h-2.7zM74.3 -52.7h2.7v16.0h-2.7zM74.3 75.3h2.7v16.0h-2.7zM91.1 59.3h2.7v16.0h-2.7zM112.7 -36.7h2.7v16.0h-2.7zM115.1 -68.7h2.7v16.0h-2.7zM115.1 -4.7h2.7v16.0h-2.7zM122.3 -20.7h2.7v16.0h-2.7zM131.9 -4.7h2.7v16.0h-2.7z"/>
<path fill="#f2cbb7" d="M-134.5 -20.7h2.7v16.0h-2.7zM-132.1 -20.7h2.7v16.0h-2.7zM-129.7 -20.7h2.7v16.0h-2.7zM-127.3 -20.7h2.7v16.0h-2.7zM-124.9 -20.7h2.7v16.0h-2.7zM-122.5 -20.7h2.7v16.0h-2.7zM-122.5 43.3h2.7v16.0h-2.7zM-120.1 -4.7h2.7v64.0h-2.7zM-117.7 -4.7h2.7v48.0h-2.7zM-100.9 59.3h2.7v16.0h-2.7zM-96.1 -4.7h2.7v32.0h-2.7zM-88.9 27.3h2.7v32.0h-2.7zM-86.5 27.3h2.7v32.0h-2.7zM-79.3 -84.7h2.7v16.0h-2.7zM-79.3 43.3h2.7v16.0h-2.7zM-76.9 -68.7h2.7v16.0h-2.7zM-64.9 11.3h2.7v64.0h-2.7zM-62.5 -52.7h2.7v16.0h-2.7zM-60.1 -52.7h2.7v16.0h-2.7zM-57.7 -52.7h2.7v16.0h-2.7zM-55.3 -52.7h2.7v32.0h-2.7zM-52.9 43.3h2.7v48.0h-2.7zM-45.7 -148.7h2.7v16.0h-2.7zM-45.7 -36.7h2.7v16.0h-2.7zM-43.3 -20.7h2.7v16.0h-2.7zM-40.9 -20.7h2.7v16.0h-2.7zM-38.5 -132.7h2.7v64.0h-2.7zM-33.7 -36.7h2.7v16.0h-2.7zM-31.3 -36.7h2.7v16.0h-2.7zM-28.9 -36.7h2.7v16.0h-2.7zM-26.5 -68.7h2.7v16.0h-2.7zM-24.1 -148.7h2.7v16.0h-2.7zM-19.3 43.3h2.7v32.0h-2.7zM-16.9 -4.7h2.7v16.0h-2.7zM-14.5 -4.7h2.7v16.0h-2.7zM-12.1 -52.7h2.7v16.0h-2.7zM-12.1 123.3h2.7v16.0h-2.7zM-9.7 -68.7h2.7v16.0h-2.7zM-9.7 123.3h2.7v16.0h-2.7zM-7.3 -84.7h2.7v16.0h-2.7zM-4.9 -132.7h2.7v256.0h-2.7zM-2.5 -132.7h2.7v256.0h-2.7zM-0.1 -132.7h2.7v48.0h-2.7zM11.9 -68.7h2.7v32.0h-2.7zM14.3 -4.7h2.7v32.0h-2.7zM16.7 -4.7h2.7v32.0h-2.7zM19.1 -116.7h2.7v80.0h-2.7zM21.5 -84.7h2.7v16.0h-2.7zM23.9 -116.7h2.7v16.0h-2.7zM33.5 43.3h2.7v16.0h-2.7zM43.1 -36.7h2.7v32.0h-2.7zM45.5 75.3h2.7v48.0h-2.7zM47.9 43.3h2.7v80.0h-2.7zM50.3 43.3h2.7v80.0h-2.7zM52.7 27.3h2.7v32.0h-2.7zM52.7 107.3h2.7v16.0h-2.7zM55.1 -20.7h2.7v16.0h-2.7zM55.1 107.3h2.7v16.0h-2.7zM57.5 -36.7h2.7v16.0h-2.7zM57.5 107.3h2.7v16.0h-2.7zM59.9 -36.7h2.7v16.0h-2.7zM59.9 107.3h2.7v16.0h-2.7zM62.3 -36.7h2.7v16.0h-2.7zM64.7 -36.7h2.7v16.0h-2.7zM67.1 -36.7h2.7v16.0h-2.7zM69.5 -36.7h2.7v16.0h-2.7zM74.3 -68.7h2.7v16.0h-2.7zM110.3 -52.7h2.7v16.0h-2.7zM112.7 -20.7h2.7v16.0h-2.7zM122.3 -52.7h2.7v32.0h-2.7zM134.3 -4.7h2.7v16.0h-2.7zM136.7 -4.7h2.7v16.0h-2.7z"/>
<path fill="#f5c4ac" d="M-120.1 -20.7h2.7v16.0h-2.7zM-117.7 -20.7h2.7v16.0h-2.7zM-117.7 43.3h2.7v16.0h-2.7zM-105.7 59.3h2.7v16.0h-2.7zM-103.3 59.3h2.7v16.0h-2.7zM-100.9 27.3h2.7v32.0h-2.7zM-98.5 27.3h2.7v32.0h-2.7zM-96.1 -36.7h2.7v32.0h-2.7zM-88.9 59.3h2.7v16.0h-2.7zM-86.5 59.3h2.7v16.0h-2.7zM-79.3 59.3h2.7v16.0h-2.7zM-76.9 -52.7h2.7v48.0h-2.7zM-74.5 -116.7h2.7v16.0h-2.7zM-72.1 -116.7h2.7v16.0h-2.7zM-69.7 -116.7h2.7v16.0h-2.7zM-67.3 -116.7h2.7v16.0h-2.7zM-64.9 -116.7h2.7v128.0h-2.7zM-62.5 -116.7h2.7v64.0h-2.7zM-60.1 -116.7h2.7v64.0h-2.7zM-57.7 -116.7h2.7v64.0h-2.7zM-57.7 91.3h2.7v16.0h-2.7zM-55.3 -68.7h2.7v16.0h-2.7zM-55.3 91.3h2.7v16.0h-2.7zM-52.9 -4.7h2.7v48.0h-2.7zM-52.9 91.3h2.7v16.0h-2.7zM-50.5 -132.7h2.7v16.0h-2.7zM-50.5 43.3h2.7v48.0h-2.7zM-45.7 -20.7h2.7v32.0h-2.7zM-43.3 -148.7h2.7v16.0h-2.7zM-43.3 -4.7h2.7v16.0h-2.7zM-40.9 -148.7h2.7v16.0h-2.7zM-40.9 -4.7h2.7v16.0h-2.7zM-38.5 -148.7h2.7v16.0h-2.7zM-38.5 -68.7h2.7v32.0h-2.7zM-36.1 -148.7h2.7v80.0h-2.7zM-33.7 -20.7h2.7v16.0h-2.7zM-31.3 -20.7h2.7v16.0h-2.7zM-28.9 -20.7h2.7v16.0h-2.7zM-26.5 -52.7h2.7v16.0h-2.7zM-19.3 11.3h2.7v32.0h-2.7zM-16.9 -36.7h2.7v32.0h-2.7zM-14.5 -36.7h2.7v32.0h-2.7zM-7.3 -132.7h2.7v48.0h-2.7zM-0.1 -84.7h2.7v32.0h-2.7zM2.3 -132.7h2.7v16.0h-2.7zM11.9 -36.7h2.7v32.0h-2.7zM14.3 27.3h2.7v32.0h-2.7zM16.7 27.3h2.7v32.0h-2.7zM21.5 -116.7h2.7v32.0h-2.7zM33.5 59.3h2.7v16.0h-2.7zM43.1 -68.7h2.7v32.0h-2.7zM45.5 -4.7h2.7v80.0h-2.7zM47.9 -84.7h2.7v128.0h-2.7zM52.7 59.3h2.7v16.0h-2.7zM55.1 -4.7h2.7v16.0h-2.7zM57.5 -20.7h2.7v16.0h-2.7zM59.9 -20.7h2.7v16.0h-2.7zM64.7 -20.7h2.7v16.0h-2.7zM67.1 -20.7h2.7v32.0h-2.7zM69.5 -20.7h2.7v32.0h-2.7zM71.9 -68.7h2.7v16.0h-2.7zM93.5 59.3h2.7v16.0h-2.7zM95.9 59.3h2.7v16.0h-2.7zM110.3 -36.7h2.7v16.0h-2.7zM112.7 -68.7h2.7v16.0h-2.7zM112.7 -4.7h2.7v16.0h-2.7zM122.3 11.3h2.7v16.0h-2.7zM124.7 -52.7h2.7v48.0h-2.7zM124.7 11.3h2.7v16.0h-2.7zM127.1 -20.7h2.7v16.0h-2.7zM127.1 11.3h2.7v16.0h-2.7z"/>
<path fill="#f6bda2" d="M-112.9 -52.7h2.7v16.0h-2.7zM-110.5 -52.7h2.7v16.0h-2.7zM-108.1 -52.7h2.7v16.0h-2.7zM-105.7 -52.7h2.7v16.0h-2.7zM-103.3 -52.7h2.7v16.0h-2.7zM-100.9 -52.7h2.7v80.0h-2.7zM-98.5 -52.7h2.7v80.0h-2.7zM-96.1 -52.7h2.7v16.0h-2.7zM-76.9 -4.7h2.7v32.0h-2.7zM-69.7 -100.7h2.7v16.0h-2.7zM-67.3 -100.7h2.7v16.0h-2.7zM-55.3 -116.7h2.7v48.0h-2.7zM-52.9 -52.7h2.7v48.0h-2.7zM-50.5 -4.7h2.7v48.0h-2.7zM-48.1 27.3h2.7v64.0h-2.7zM-45.7 11.3h2.7v16.0h-2.7zM-43.3 11.3h2.7v16.0h-2.7zM-40.9 11.3h2.7v16.0h-2.7zM-38.5 -36.7h2.7v32.0h-2.7zM-36.1 -68.7h2.7v16.0h-2.7zM-33.7 -4.7h2.7v16.0h-2.7zM-31.3 -4.7h2.7v16.0h-2.7zM-28.9 -4.7h2.7v16.0h-2.7zM-26.5 -36.7h2.7v16.0h-2.7zM-24.1 -132.7h2.7v64.0h-2.7zM-21.7 -148.7h2.7v16.0h-2.7zM-19.3 -36.7h2.7v48.0h-2.7zM-16.9 -52.7h2.7v16.0h-2.7zM-14.5 -52.7h2.7v16.0h-2.7zM-12.1 -68.7h2.7v16.0h-2.7zM-9.7 -84.7h2.7v16.0h-2.7zM-7.3 123.3h2.7v16.0h-2.7zM-0.1 -52.7h2.7v16.0h-2.7zM11.9 -4.7h2.7v32.0h-2.7zM14.3 59.3h2.7v32.0h-2.7zM16.7 -132.7h2.7v16.0h-2.7zM16.7 59.3h2.7v32.0h-2.7zM43.1 -100.7h2.7v32.0h-2.7zM45.5 -100.7h2.7v96.0h-2.7zM47.9 -100.7h2.7v16.0h-2.7zM50.3 -116.7h2.7v16.0h-2.7zM52.7 75.3h2.7v32.0h-2.7zM55.1 11.3h2.7v16.0h-2.7zM62.3 -20.7h2.7v16.0h-2.7zM62.3 107.3h2.7v16.0h-2.7zM67.1 11.3h2.7v16.0h-2.7zM69.5 11.3h2.7v16.0h-2.7zM71.9 -84.7h2.7v16.0h-2.7zM74.3 -84.7h2.7v16.0h-2.7zM76.7 -84.7h2.7v16.0h-2.7zM83.9 -20.7h2.7v80.0h-2.7zM86.3 -20.7h2.7v80.0h-2.7zM88.7 27.3h2.7v32.0h-2.7zM91.1 43.3h2.7v16.0h-2.7zM93.5 43.3h2.7v16.0h-2.7zM95.9 43.3h2.7v16.0h-2.7zM98.3 27.3h2.7v32.0h-2.7zM100.7 27.3h2.7v32.0h-2.7zM103.1 43.3h2.7v16.0h-2.7zM105.5 43.3h2.7v16.0h-2.7zM119.9 11.3h2.7v16.0h-2.7zM127.1 -52.7h2.7v32.0h-2.7zM129.5 -52.7h2.7v16.0h-2.7zM129.5 -20.7h2.7v16.0h-2.7z"/>
<path fill="#f7b599" d="M-115.3 -20.7h2.7v80.0h-2.7zM-84.1 75.3h2.7v16.0h-2.7zM-76.9 -84.7h2.7v16.0h-2.7zM-76.9 27.3h2.7v32.0h-2.7zM-74.5 -100.7h2.7v16.0h-2.7zM-72.1 -100.7h2.7v16.0h-2.7zM-67.3 -84.7h2.7v64.0h-2.7zM-52.9 -132.7h2.7v80.0h-2.7zM-50.5 -52.7h2.7v48.0h-2.7zM-50.5 91.3h2.7v16.0h-2.7zM-48.1 -52.7h2.7v80.0h-2.7zM-45.7 27.3h2.7v32.0h-2.7zM-43.3 27.3h2.7v16.0h-2.7zM-40.9 27.3h2.7v16.0h-2.7zM-38.5 -4.7h2.7v16.0h-2.7zM-36.1 -52.7h2.7v32.0h-2.7zM-33.7 11.3h2.7v16.0h-2.7zM-26.5 -20.7h2.7v16.0h-2.7zM-24.1 -68.7h2.7v64.0h-2.7zM-19.3 -68.7h2.7v32.0h-2.7zM-16.9 -84.7h2.7v32.0h-2.7zM-14.5 -84.7h2.7v32.0h-2.7zM-12.1 -84.7h2.7v16.0h-2.7zM-9.7 -132.7h2.7v48.0h-2.7zM-2.5 -148.7h2.7v16.0h-2.7zM-0.1 -36.7h2.7v32.0h-2.7zM2.3 -116.7h2.7v32.0h-2.7zM4.7 -132.7h2.7v16.0h-2.7zM9.5 139.3h2.7v16.0h-2.7zM11.9 27.3h2.7v32.0h-2.7zM14.3 91.3h2.7v48.0h-2.7zM16.7 91.3h2.7v48.0h-2.7zM28.7 139.3h2.7v16.0h-2.7zM31.1 139.3h2.7v16.0h-2.7zM33.5 75.3h2.7v80.0h-2.7zM35.9 139.3h2.7v16.0h-2.7zM38.3 139.3h2.7v16.0h-2.7zM40.7 139.3h2.7v16.0h-2.7zM43.1 139.3h2.7v16.0h-2.7zM45.5 139.3h2.7v16.0h-2.7zM57.5 -4.7h2.7v16.0h-2.7zM59.9 -4.7h2.7v16.0h-2.7zM62.3 -4.7h2.7v16.0h-2.7zM64.7 -4.7h2.7v16.0h-2.7zM64.7 107.3h2.7v16.0h-2.7zM67.1 27.3h2.7v16.0h-2.7zM69.5 27.3h2.7v16.0h-2.7zM83.9 -68.7h2.7v48.0h-2.7zM86.3 -68.7h2.7v48.0h-2.7zM88.7 -84.7h2.7v16.0h-2.7zM88.7 -20.7h2.7v48.0h-2.7zM91.1 -84.7h2.7v16.0h-2.7zM91.1 11.3h2.7v32.0h-2.7zM93.5 11.3h2.7v32.0h-2.7zM95.9 11.3h2.7v32.0h-2.7zM98.3 -4.7h2.7v32.0h-2.7zM100.7 -52.7h2.7v80.0h-2.7zM103.1 -68.7h2.7v16.0h-2.7zM103.1 27.3h2.7v16.0h-2.7zM105.5 27.3h2.7v16.0h-2.7zM107.9 -52.7h2.7v16.0h-2.7zM110.3 -20.7h2.7v16.0h-2.7zM117.5 11.3h2.7v16.0h-2.7zM129.5 -36.7h2.7v16.0h-2.7zM131.9 -52.7h2.7v16.0h-2.7zM131.9 -20.7h2.7v16.0h-2.7z"/>
<path fill="#f7ac8e" d="M-122.5 -36.7h2.7v16.0h-2.7zM-120.1 -36.7h2.7v16.0h-2.7zM-117.7 -36.7h2.7v16.0h-2.7zM-115.3 -36.7h2.7v16.0h-2.7zM-112.9 -36.7h2.7v96.0h-2.7zM-110.5 -36.7h2.7v96.0h-2.7zM-108.1 -36.7h2.7v32.0h-2.7zM-108.1 59.3h2.7v16.0h-2.7zM-105.7 -36.7h2.7v32.0h-2.7zM-103.3 -36.7h2.7v64.0h-2.7zM-81.7 75.3h2.7v16.0h-2.7zM-79.3 -100.7h2.7v16.0h-2.7zM-76.9 -100.7h2.7v16.0h-2.7zM-76.9 59.3h2.7v16.0h-2.7zM-69.7 -84.7h2.7v32.0h-2.7zM-67.3 -20.7h2.7v64.0h-2.7zM-67.3 75.3h2.7v16.0h-2.7zM-62.5 -132.7h2.7v16.0h-2.7zM-60.1 -132.7h2.7v16.0h-2.7zM-57.7 -132.7h2.7v16.0h-2.7zM-55.3 -132.7h2.7v16.0h-2.7zM-50.5 -116.7h2.7v64.0h-2.7zM-48.1 -116.7h2.7v64.0h-2.7zM-45.7 59.3h2.7v16.0h-2.7zM-43.3 43.3h2.7v16.0h-2.7zM-40.9 43.3h2.7v16.0h-2.7zM-38.5 11.3h2.7v32.0h-2.7zM-36.1 -20.7h2.7v32.0h-2.7zM-31.3 11.3h2.7v16.0h-2.7zM-28.9 11.3h2.7v16.0h-2.7zM-26.5 -4.7h2.7v32.0h-2.7zM-24.1 -4.7h2.7v64.0h-2.7zM-21.7 -132.7h2.7v160.0h-2.7zM-19.3 -148.7h2.7v80.0h-2.7zM-16.9 -148.7h2.7v64.0h-2.7zM-14.5 -148.7h2.7v64.0h-2.7zM-12.1 -148.7h2.7v64.0h-2.7zM-9.7 -148.7h2.7v16.0h-2.7zM-7.3 -148.7h2.7v16.0h-2.7zM-4.9 -148.7h2.7v16.0h-2.7zM-0.1 -4.7h2.7v32.0h-2.7zM2.3 -84.7h2.7v32.0h-2.7zM4.7 -116.7h2.7v48.0h-2.7zM7.1 -132.7h2.7v64.0h-2.7zM9.5 -132.7h2.7v64.0h-2.7zM11.9 -132.7h2.7v16.0h-2.7zM11.9 59.3h2.7v32.0h-2.7zM11.9 123.3h2.7v16.0h-2.7zM14.3 -132.7h2.7v16.0h-2.7zM55.1 27.3h2.7v16.0h-2.7zM57.5 11.3h2.7v16.0h-2.7zM64.7 11.3h2.7v16.0h-2.7zM67.1 43.3h2.7v32.0h-2.7zM69.5 43.3h2.7v32.0h-2.7zM71.9 75.3h2.7v16.0h-2.7zM88.7 -52.7h2.7v32.0h-2.7zM91.1 -20.7h2.7v32.0h-2.7zM93.5 -84.7h2.7v16.0h-2.7zM93.5 -20.7h2.7v32.0h-2.7zM95.9 -20.7h2.7v32.0h-2.7zM98.3 -52.7h2.7v48.0h-2.7zM100.7 -68.7h2.7v16.0h-2.7zM103.1 -52.7h2.7v32.0h-2.7zM105.5 -68.7h2.7v16.0h-2.7zM107.9 -68.7h2.7v16.0h-2.7zM107.9 -36.7h2.7v16.0h-2.7zM107.9 27.3h2.7v16.0h-2.7zM110.3 -68.7h2.7v16.0h-2.7zM110.3 -4.7h2.7v16.0h-2.7zM110.3 27.3h2.7v16.0h-2.7zM134.3 -20.7h2.7v16.0h-2.7z"/>
<path fill="#f6a385" d="M-117.7 59.3h2.7v16.0h-2.7zM-115.3 59.3h2.7v16.0h-2.7zM-112.9 59.3h2.7v16.0h-2.7zM-110.5 59.3h2.7v16.0h-2.7zM-108.1 -4.7h2.7v64.0h-2.7zM-105.7 -4.7h2.7v64.0h-2.7zM-103.3 27.3h2.7v32.0h-2.7zM-84.1 -100.7h2.7v16.0h-2.7zM-81.7 -100.7h2.7v16.0h-2.7zM-79.3 75.3h2.7v16.0h-2.7zM-76.9 75.3h2.7v16.0h-2.7zM-74.5 -84.7h2.7v160.0h-2.7zM-72.1 -84.7h2.7v176.0h-2.7zM-69.7 -52.7h2.7v144.0h-2.7zM-67.3 43.3h2.7v32.0h-2.7zM-45.7 75.3h2.7v16.0h-2.7zM-43.3 59.3h2.7v16.0h-2.7zM-40.9 59.3h2.7v16.0h-2.7zM-38.5 43.3h2.7v16.0h-2.7zM-36.1 11.3h2.7v32.0h-2.7zM-33.7 27.3h2.7v16.0h-2.7zM-31.3 27.3h2.7v16.0h-2.7zM-28.9 27.3h2.7v16.0h-2.7zM-26.5 27.3h2.7v16.0h-2.7zM-26.5 107.3h2.7v16.0h-2.7zM-24.1 59.3h2.7v64.0h-2.7zM-21.7 27.3h2.7v80.0h-2.7zM-0.1 27.3h2.7v32.0h-2.7zM2.3 -52.7h2.7v16.0h-2.7zM4.7 -68.7h2.7v16.0h-2.7zM7.1 -68.7h2.7v16.0h-2.7zM9.5 -68.7h2.7v32.0h-2.7zM11.9 91.3h2.7v32.0h-2.7zM55.1 43.3h2.7v16.0h-2.7zM59.9 11.3h2.7v16.0h-2.7zM62.3 11.3h2.7v16.0h-2.7zM64.7 27.3h2.7v16.0h-2.7zM67.1 75.3h2.7v16.0h-2.7zM67.1 107.3h2.7v16.0h-2.7zM69.5 75.3h2.7v16.0h-2.7zM88.7 -68.7h2.7v16.0h-2.7zM91.1 -36.7h2.7v16.0h-2.7zM93.5 -36.7h2.7v16.0h-2.7zM95.9 -84.7h2.7v16.0h-2.7zM95.9 -36.7h2.7v16.0h-2.7zM98.3 -68.7h2.7v16.0h-2.7zM103.1 -20.7h2.7v48.0h-2.7zM105.5 -52.7h2.7v16.0h-2.7zM107.9 -20.7h2.7v32.0h-2.7zM112.7 11.3h2.7v32.0h-2.7zM115.1 11.3h2.7v16.0h-2.7zM136.7 -20.7h2.7v16.0h-2.7z"/>
<path fill="#f4987a" d="M-74.5 75.3h2.7v16.0h-2.7zM-48.1 91.3h2.7v16.0h-2.7zM-43.3 75.3h2.7v16.0h-2.7zM-40.9 75.3h2.7v16.0h-2.7zM-38.5 59.3h2.7v32.0h-2.7zM-36.1 43.3h2.7v16.0h-2.7zM-33.7 43.3h2.7v16.0h-2.7zM-31.3 43.3h2.7v16.0h-2.7zM-28.9 43.3h2.7v16.0h-2.7zM-28.9 107.3h2.7v16.0h-2.7zM-26.5 43.3h2.7v16.0h-2.7zM-0.1 59.3h2.7v16.0h-2.7zM2.3 -36.7h2.7v32.0h-2.7zM4.7 -52.7h2.7v32.0h-2.7zM7.1 -52.7h2.7v32.0h-2.7zM9.5 -36.7h2.7v32.0h-2.7zM55.1 59.3h2.7v16.0h-2.7zM57.5 27.3h2.7v16.0h-2.7zM59.9 27.3h2.7v16.0h-2.7zM62.3 27.3h2.7v16.0h-2.7zM64.7 43.3h2.7v16.0h-2.7zM91.1 -68.7h2.7v32.0h-2.7zM93.5 -68.7h2.7v32.0h-2.7zM95.9 -68.7h2.7v32.0h-2.7zM98.3 -84.7h2.7v16.0h-2.7zM100.7 -84.7h2.7v16.0h-2.7zM105.5 -36.7h2.7v32.0h-2.7zM107.9 11.3h2.7v16.0h-2.7zM110.3 11.3h2.7v16.0h-2.7zM115.1 27.3h2.7v16.0h-2.7zM117.5 27.3h2.7v16.0h-2.7zM131.9 -36.7h2.7v16.0h-2.7zM134.3 -52.7h2.7v16.0h-2.7zM139.1 -20.7h2.7v16.0h-2.7z"/>
<path fill="#f18f71" d="M-45.7 91.3h2.7v16.0h-2.7zM-43.3 91.3h2.7v16.0h-2.7zM-40.9 91.3h2.7v16.0h-2.7zM-38.5 91.3h2.7v16.0h-2.7zM-36.1 59.3h2.7v32.0h-2.7zM-33.7 59.3h2.7v16.0h-2.7zM-31.3 59.3h2.7v16.0h-2.7zM-28.9 59.3h2.7v16.0h-2.7zM-26.5 59.3h2.7v16.0h-2.7zM-4.9 123.3h2.7v16.0h-2.7zM-0.1 75.3h2.7v48.0h-2.7zM2.3 -4.7h2.7v16.0h-2.7zM4.7 -20.7h2.7v32.0h-2.7zM7.1 -20.7h2.7v32.0h-2.7zM9.5 -4.7h2.7v32.0h-2.7zM9.5 123.3h2.7v16.0h-2.7zM55.1 75.3h2.7v32.0h-2.7zM64.7 59.3h2.7v16.0h-2.7zM105.5 -4.7h2.7v32.0h-2.7zM134.3 -36.7h2.7v16.0h-2.7zM136.7 -52.7h2.7v32.0h-2.7zM139.1 -52.7h2.7v32.0h-2.7zM141.5 -52.7h2.7v48.0h-2.7zM143.9 -52.7h2.7v48.0h-2.7zM146.3 -52.7h2.7v48.0h-2.7z"/>
<path fill="#ee8468" d="M-36.1 91.3h2.7v16.0h-2.7zM-33.7 75.3h2.7v16.0h-2.7zM-31.3 75.3h2.7v16.0h-2.7zM-31.3 107.3h2.7v16.0h-2.7zM-28.9 75.3h2.7v16.0h-2.7zM-26.5 75.3h2.7v16.0h-2.7zM2.3 11.3h2.7v32.0h-2.7zM4.7 11.3h2.7v16.0h-2.7zM7.1 11.3h2.7v16.0h-2.7zM9.5 27.3h2.7v32.0h-2.7zM57.5 43.3h2.7v16.0h-2.7zM59.9 43.3h2.7v16.0h-2.7zM62.3 43.3h2.7v16.0h-2.7zM64.7 75.3h2.7v16.0h-2.7z"/>
<path fill="#e9785d" d="M-40.9 107.3h2.7v16.0h-2.7zM-38.5 107.3h2.7v16.0h-2.7zM-36.1 107.3h2.7v16.0h-2.7zM-33.7 91.3h2.7v32.0h-2.7zM-31.3 91.3h2.7v16.0h-2.7zM-28.9 91.3h2.7v16.0h-2.7zM-26.5 91.3h2.7v16.0h-2.7zM2.3 43.3h2.7v16.0h-2.7zM4.7 27.3h2.7v32.0h-2.7zM7.1 27.3h2.7v32.0h-2.7zM9.5 59.3h2.7v64.0h-2.7zM57.5 59.3h2.7v16.0h-2.7zM59.9 59.3h2.7v16.0h-2.7zM62.3 59.3h2.7v16.0h-2.7zM76.7 91.3h2.7v16.0h-2.7z"/>
<path fill="#e36c55" d="M2.3 59.3h2.7v32.0h-2.7zM4.7 59.3h2.7v32.0h-2.7zM7.1 59.3h2.7v32.0h-2.7zM57.5 75.3h2.7v32.0h-2.7zM59.9 75.3h2.7v32.0h-2.7zM62.3 75.3h2.7v32.0h-2.7zM64.7 91.3h2.7v16.0h-2.7zM67.1 91.3h2.7v16.0h-2.7zM69.5 91.3h2.7v16.0h-2.7zM71.9 91.3h2.7v16.0h-2.7zM74.3 91.3h2.7v16.0h-2.7z"/>
<path fill="#dd5f4b" d="M-2.5 123.3h2.7v16.0h-2.7zM-0.1 123.3h2.7v16.0h-2.7zM2.3 91.3h2.7v48.0h-2.7zM4.7 91.3h2.7v48.0h-2.7zM7.1 91.3h2.7v48.0h-2.7z"/>
</g></g></g>
<rect x="1055.00" y="260.20" width="207.50" height="207.50" fill="url(#pt_sa2)" opacity="1.00"/>
</g>
<g transform="matrix(0.98964 0 0 1 13.740 0)">
<rect x="1326.05" y="260.20" width="207.50" height="207.50" fill="#d6dce6"/>
<rect x="1326.05" y="260.20" width="207.50" height="207.50" fill="url(#pt_lgb1)" opacity="0.45"/>
<rect x="1326.05" y="260.20" width="207.50" height="207.50" fill="url(#pt_lgb2)" opacity="0.45"/>
</g>
<g transform="matrix(0.99807 0 0 1 2.994 0)">
<rect x="1552.90" y="260.20" width="207.50" height="207.50" fill="#fef2ed"/>
<rect x="1552.90" y="260.20" width="207.50" height="207.50" fill="url(#pt_lb1)" opacity="1.00"/>
<rect x="1552.90" y="260.20" width="207.50" height="207.50" fill="url(#pt_lb2)" opacity="1.00"/>
</g>
<g transform="matrix(0.98747 0 0 1 22.329 0)">
<rect x="1782.00" y="260.20" width="207.50" height="207.50" fill="#fef2ed"/>
<rect x="1782.00" y="260.20" width="207.50" height="207.50" fill="url(#pt_lb1)" opacity="1.00"/>
<rect x="1782.00" y="260.20" width="207.50" height="207.50" fill="url(#pt_lb2)" opacity="1.00"/>
</g>
<text x="1030.80" y="363.95" font-size="22.90" text-anchor="middle" font-weight="normal" font-family="'DejaVu Sans', 'Liberation Sans', sans-serif" transform="rotate(-90 1030.80 363.95)">Surf2</text>
<text x="1301.30" y="363.95" font-size="22.90" text-anchor="middle" font-weight="normal" font-family="'DejaVu Sans', 'Liberation Sans', sans-serif" transform="rotate(-90 1301.30 363.95)">Grad2</text>
<g transform="matrix(0.99711 0 0 1 3.051 0)">
<g clip-path="url(#cp15)"><g filter="url(#bl16)">
<rect x="1051.00" y="479.10" width="215.50" height="215.50" fill="#dddcdc"/>
<path fill="#6f92f3" d="M1073.2 627.3h4.3v4.3h-4.3z"/>
<path fill="#779af7" d="M1240.0 627.3h4.3v4.3h-4.3z"/>
<path fill="#7ea1fa" d="M1258.5 560.6h4.3v4.3h-4.3zM1258.5 564.3h4.3v4.3h-4.3zM1073.2 623.6h4.3v4.3h-4.3zM1069.5 627.3h4.3v4.3h-4.3zM1076.9 627.3h4.3v4.3h-4.3zM1236.3 627.3h4.3v4.3h-4.3zM1236.3 631.0h4.3v4.3h-4.3zM1206.6 645.8h4.3v4.3h-4.3zM1210.3 645.8h4.3v4.3h-4.3zM1091.8 653.2h4.3v4.3h-4.3zM1091.8 657.0h4.3v4.3h-4.3zM1062.1 671.8h4.3v4.3h-4.3z"/>
<path fill="#85a8fc" d="M1254.8 560.6h4.3v4.3h-4.3zM1214.0 586.6h4.3v4.3h-4.3zM1217.7 590.3h4.3v4.3h-4.3zM1214.0 594.0h4.3v4.3h-4.3zM1184.4 612.5h4.3v4.3h-4.3zM1076.9 623.6h4.3v4.3h-4.3zM1243.7 623.6h4.3v4.3h-4.3zM1243.7 627.3h4.3v4.3h-4.3zM1206.6 649.5h4.3v4.3h-4.3zM1095.5 653.2h4.3v4.3h-4.3zM1062.1 675.5h4.3v4.3h-4.3zM1132.5 686.6h4.3v4.3h-4.3z"/>
<path fill="#8db0fe" d="M1073.2 482.8h4.3v4.3h-4.3zM1214.0 590.3h4.3v4.3h-4.3zM1217.7 594.0h4.3v4.3h-4.3zM1180.7 601.4h4.3v4.3h-4.3zM1184.4 605.1h4.3v4.3h-4.3zM1188.1 608.8h4.3v4.3h-4.3zM1188.1 612.5h4.3v4.3h-4.3zM1247.4 623.6h4.3v4.3h-4.3zM1232.6 631.0h4.3v4.3h-4.3zM1088.0 653.2h4.3v4.3h-4.3zM1065.8 671.8h4.3v4.3h-4.3zM1058.4 675.5h4.3v4.3h-4.3z"/>
<path fill="#94b6ff" d="M1069.5 482.8h4.3v4.3h-4.3zM1076.9 482.8h4.3v4.3h-4.3zM1080.6 482.8h4.3v4.3h-4.3zM1084.3 482.8h4.3v4.3h-4.3zM1258.5 568.0h4.3v4.3h-4.3zM1221.4 590.3h4.3v4.3h-4.3zM1080.6 623.6h4.3v4.3h-4.3zM1069.5 631.0h4.3v4.3h-4.3zM1102.9 645.8h4.3v4.3h-4.3zM1106.6 645.8h4.3v4.3h-4.3zM1095.5 649.5h4.3v4.3h-4.3zM1202.9 649.5h4.3v4.3h-4.3zM1088.0 657.0h4.3v4.3h-4.3zM1258.5 660.7h4.3v4.3h-4.3zM1169.6 668.1h4.3v4.3h-4.3zM1228.9 679.2h4.3v4.3h-4.3z"/>
<path fill="#9bbcff" d="M1073.2 486.5h4.3v4.3h-4.3zM1106.6 519.9h4.3v4.3h-4.3zM1251.1 564.3h4.3v4.3h-4.3zM1254.8 564.3h4.3v4.3h-4.3zM1254.8 568.0h4.3v4.3h-4.3zM1210.3 582.8h4.3v4.3h-4.3zM1221.4 582.8h4.3v4.3h-4.3zM1217.7 586.6h4.3v4.3h-4.3zM1221.4 586.6h4.3v4.3h-4.3zM1225.1 586.6h4.3v4.3h-4.3zM1210.3 590.3h4.3v4.3h-4.3zM1210.3 594.0h4.3v4.3h-4.3zM1206.6 597.7h4.3v4.3h-4.3zM1210.3 597.7h4.3v4.3h-4.3zM1177.0 601.4h4.3v4.3h-4.3zM1177.0 605.1h4.3v4.3h-4.3zM1180.7 605.1h4.3v4.3h-4.3zM1225.1 605.1h4.3v4.3h-4.3zM1184.4 608.8h4.3v4.3h-4.3zM1180.7 612.5h4.3v4.3h-4.3zM1184.4 616.2h4.3v4.3h-4.3zM1080.6 619.9h4.3v4.3h-4.3zM1088.0 619.9h4.3v4.3h-4.3zM1240.0 631.0h4.3v4.3h-4.3zM1232.6 634.7h4.3v4.3h-4.3zM1206.6 642.1h4.3v4.3h-4.3zM1202.9 645.8h4.3v4.3h-4.3zM1099.2 649.5h4.3v4.3h-4.3zM1102.9 649.5h4.3v4.3h-4.3zM1169.6 664.4h4.3v4.3h-4.3zM1058.4 671.8h4.3v4.3h-4.3zM1054.7 675.5h4.3v4.3h-4.3zM1232.6 679.2h4.3v4.3h-4.3z"/>
<path fill="#a3c2fe" d="M1080.6 486.5h4.3v4.3h-4.3zM1084.3 486.5h4.3v4.3h-4.3zM1110.3 519.9h4.3v4.3h-4.3zM1258.5 556.9h4.3v4.3h-4.3zM1210.3 586.6h4.3v4.3h-4.3zM1202.9 594.0h4.3v4.3h-4.3zM1180.7 597.7h4.3v4.3h-4.3zM1180.7 608.8h4.3v4.3h-4.3zM1191.8 608.8h4.3v4.3h-4.3zM1180.7 616.2h4.3v4.3h-4.3zM1069.5 619.9h4.3v4.3h-4.3zM1084.3 619.9h4.3v4.3h-4.3zM1251.1 619.9h4.3v4.3h-4.3zM1069.5 623.6h4.3v4.3h-4.3zM1195.5 623.6h4.3v4.3h-4.3zM1073.2 631.0h4.3v4.3h-4.3zM1132.5 631.0h4.3v4.3h-4.3zM1228.9 634.7h4.3v4.3h-4.3zM1202.9 642.1h4.3v4.3h-4.3zM1210.3 642.1h4.3v4.3h-4.3zM1214.0 642.1h4.3v4.3h-4.3zM1214.0 645.8h4.3v4.3h-4.3zM1210.3 649.5h4.3v4.3h-4.3zM1099.2 653.2h4.3v4.3h-4.3zM1095.5 657.0h4.3v4.3h-4.3zM1258.5 657.0h4.3v4.3h-4.3zM1099.2 664.4h4.3v4.3h-4.3zM1258.5 664.4h4.3v4.3h-4.3zM1099.2 668.1h4.3v4.3h-4.3zM1102.9 668.1h4.3v4.3h-4.3zM1169.6 671.8h4.3v4.3h-4.3zM1065.8 675.5h4.3v4.3h-4.3zM1058.4 679.2h4.3v4.3h-4.3zM1228.9 682.9h4.3v4.3h-4.3zM1069.5 686.6h4.3v4.3h-4.3zM1073.2 686.6h4.3v4.3h-4.3z"/>
<path fill="#aac7fd" d="M1088.0 482.8h4.3v4.3h-4.3zM1076.9 486.5h4.3v4.3h-4.3zM1162.2 486.5h4.3v4.3h-4.3zM1125.1 508.7h4.3v4.3h-4.3zM1102.9 512.4h4.3v4.3h-4.3zM1121.4 512.4h4.3v4.3h-4.3zM1110.3 516.1h4.3v4.3h-4.3zM1102.9 523.6h4.3v4.3h-4.3zM1162.2 571.7h4.3v4.3h-4.3zM1158.5 575.4h4.3v4.3h-4.3zM1225.1 579.1h4.3v4.3h-4.3zM1214.0 582.8h4.3v4.3h-4.3zM1217.7 582.8h4.3v4.3h-4.3zM1225.1 582.8h4.3v4.3h-4.3zM1228.9 586.6h4.3v4.3h-4.3zM1206.6 590.3h4.3v4.3h-4.3zM1225.1 590.3h4.3v4.3h-4.3zM1177.0 597.7h4.3v4.3h-4.3zM1214.0 597.7h4.3v4.3h-4.3zM1110.3 601.4h4.3v4.3h-4.3zM1114.0 601.4h4.3v4.3h-4.3zM1173.3 601.4h4.3v4.3h-4.3zM1184.4 601.4h4.3v4.3h-4.3zM1173.3 605.1h4.3v4.3h-4.3zM1228.9 605.1h4.3v4.3h-4.3zM1177.0 608.8h4.3v4.3h-4.3zM1225.1 608.8h4.3v4.3h-4.3zM1228.9 608.8h4.3v4.3h-4.3zM1088.0 616.2h4.3v4.3h-4.3zM1177.0 616.2h4.3v4.3h-4.3zM1073.2 619.9h4.3v4.3h-4.3zM1240.0 623.6h4.3v4.3h-4.3zM1128.8 631.0h4.3v4.3h-4.3zM1228.9 631.0h4.3v4.3h-4.3zM1106.6 649.5h4.3v4.3h-4.3zM1084.3 657.0h4.3v4.3h-4.3zM1254.8 657.0h4.3v4.3h-4.3zM1095.5 660.7h4.3v4.3h-4.3zM1254.8 660.7h4.3v4.3h-4.3zM1165.9 668.1h4.3v4.3h-4.3zM1173.3 668.1h4.3v4.3h-4.3zM1099.2 671.8h4.3v4.3h-4.3zM1165.9 671.8h4.3v4.3h-4.3zM1158.5 675.5h4.3v4.3h-4.3zM1054.7 679.2h4.3v4.3h-4.3zM1065.8 679.2h4.3v4.3h-4.3zM1225.1 679.2h4.3v4.3h-4.3zM1069.5 682.9h4.3v4.3h-4.3zM1225.1 682.9h4.3v4.3h-4.3zM1232.6 682.9h4.3v4.3h-4.3zM1065.8 686.6h4.3v4.3h-4.3z"/>
<path fill="#b1cbfc" d="M1165.9 482.8h4.3v4.3h-4.3zM1243.7 482.8h4.3v4.3h-4.3zM1165.9 486.5h4.3v4.3h-4.3zM1076.9 490.2h4.3v4.3h-4.3zM1251.1 493.9h4.3v4.3h-4.3zM1102.9 508.7h4.3v4.3h-4.3zM1121.4 508.7h4.3v4.3h-4.3zM1099.2 512.4h4.3v4.3h-4.3zM1106.6 516.1h4.3v4.3h-4.3zM1102.9 519.9h4.3v4.3h-4.3zM1099.2 523.6h4.3v4.3h-4.3zM1106.6 523.6h4.3v4.3h-4.3zM1073.2 542.1h4.3v4.3h-4.3zM1247.4 545.8h4.3v4.3h-4.3zM1247.4 549.5h4.3v4.3h-4.3zM1254.8 556.9h4.3v4.3h-4.3zM1158.5 571.7h4.3v4.3h-4.3zM1214.0 579.1h4.3v4.3h-4.3zM1217.7 579.1h4.3v4.3h-4.3zM1054.7 582.8h4.3v4.3h-4.3zM1206.6 582.8h4.3v4.3h-4.3zM1228.9 582.8h4.3v4.3h-4.3zM1206.6 586.6h4.3v4.3h-4.3zM1206.6 594.0h4.3v4.3h-4.3zM1221.4 594.0h4.3v4.3h-4.3zM1184.4 597.7h4.3v4.3h-4.3zM1232.6 601.4h4.3v4.3h-4.3zM1188.1 605.1h4.3v4.3h-4.3zM1221.4 605.1h4.3v4.3h-4.3zM1169.6 608.8h4.3v4.3h-4.3zM1221.4 608.8h4.3v4.3h-4.3zM1173.3 612.5h4.3v4.3h-4.3zM1191.8 612.5h4.3v4.3h-4.3zM1225.1 612.5h4.3v4.3h-4.3zM1228.9 612.5h4.3v4.3h-4.3zM1232.6 612.5h4.3v4.3h-4.3zM1084.3 616.2h4.3v4.3h-4.3zM1188.1 616.2h4.3v4.3h-4.3zM1228.9 616.2h4.3v4.3h-4.3zM1232.6 616.2h4.3v4.3h-4.3zM1173.3 619.9h4.3v4.3h-4.3zM1232.6 619.9h4.3v4.3h-4.3zM1236.3 619.9h4.3v4.3h-4.3zM1139.9 623.6h4.3v4.3h-4.3zM1191.8 623.6h4.3v4.3h-4.3zM1232.6 623.6h4.3v4.3h-4.3zM1236.3 623.6h4.3v4.3h-4.3zM1065.8 627.3h4.3v4.3h-4.3zM1132.5 627.3h4.3v4.3h-4.3zM1139.9 627.3h4.3v4.3h-4.3zM1191.8 627.3h4.3v4.3h-4.3zM1065.8 631.0h4.3v4.3h-4.3zM1147.3 634.7h4.3v4.3h-4.3zM1206.6 638.4h4.3v4.3h-4.3zM1217.7 642.1h4.3v4.3h-4.3zM1091.8 649.5h4.3v4.3h-4.3zM1199.2 653.2h4.3v4.3h-4.3zM1258.5 653.2h4.3v4.3h-4.3zM1114.0 657.0h4.3v4.3h-4.3zM1091.8 660.7h4.3v4.3h-4.3zM1114.0 660.7h4.3v4.3h-4.3zM1102.9 664.4h4.3v4.3h-4.3zM1251.1 664.4h4.3v4.3h-4.3zM1254.8 664.4h4.3v4.3h-4.3zM1062.1 668.1h4.3v4.3h-4.3zM1095.5 668.1h4.3v4.3h-4.3zM1158.5 671.8h4.3v4.3h-4.3zM1162.2 671.8h4.3v4.3h-4.3zM1173.3 671.8h4.3v4.3h-4.3zM1162.2 675.5h4.3v4.3h-4.3zM1228.9 675.5h4.3v4.3h-4.3zM1232.6 675.5h4.3v4.3h-4.3zM1073.2 682.9h4.3v4.3h-4.3z"/>
<path fill="#b9d0f9" d="M1162.2 482.8h4.3v4.3h-4.3zM1088.0 486.5h4.3v4.3h-4.3zM1158.5 486.5h4.3v4.3h-4.3zM1088.0 490.2h4.3v4.3h-4.3zM1154.7 490.2h4.3v4.3h-4.3zM1158.5 490.2h4.3v4.3h-4.3zM1162.2 490.2h4.3v4.3h-4.3zM1247.4 490.2h4.3v4.3h-4.3zM1251.1 490.2h4.3v4.3h-4.3zM1214.0 497.6h4.3v4.3h-4.3zM1217.7 497.6h4.3v4.3h-4.3zM1117.7 501.3h4.3v4.3h-4.3zM1121.4 501.3h4.3v4.3h-4.3zM1099.2 508.7h4.3v4.3h-4.3zM1221.4 508.7h4.3v4.3h-4.3zM1225.1 508.7h4.3v4.3h-4.3zM1106.6 512.4h4.3v4.3h-4.3zM1117.7 512.4h4.3v4.3h-4.3zM1125.1 512.4h4.3v4.3h-4.3zM1095.5 516.1h4.3v4.3h-4.3zM1102.9 516.1h4.3v4.3h-4.3zM1114.0 516.1h4.3v4.3h-4.3zM1099.2 527.3h4.3v4.3h-4.3zM1065.8 534.7h4.3v4.3h-4.3zM1117.7 538.4h4.3v4.3h-4.3zM1121.4 538.4h4.3v4.3h-4.3zM1121.4 542.1h4.3v4.3h-4.3zM1251.1 556.9h4.3v4.3h-4.3zM1251.1 568.0h4.3v4.3h-4.3zM1165.9 571.7h4.3v4.3h-4.3zM1154.7 575.4h4.3v4.3h-4.3zM1162.2 575.4h4.3v4.3h-4.3zM1206.6 575.4h4.3v4.3h-4.3zM1147.3 579.1h4.3v4.3h-4.3zM1151.0 579.1h4.3v4.3h-4.3zM1210.3 579.1h4.3v4.3h-4.3zM1147.3 582.8h4.3v4.3h-4.3zM1202.9 586.6h4.3v4.3h-4.3zM1173.3 594.0h4.3v4.3h-4.3zM1177.0 594.0h4.3v4.3h-4.3zM1121.4 597.7h4.3v4.3h-4.3zM1188.1 601.4h4.3v4.3h-4.3zM1225.1 601.4h4.3v4.3h-4.3zM1228.9 601.4h4.3v4.3h-4.3zM1195.5 605.1h4.3v4.3h-4.3zM1165.9 608.8h4.3v4.3h-4.3zM1162.2 612.5h4.3v4.3h-4.3zM1191.8 616.2h4.3v4.3h-4.3zM1236.3 616.2h4.3v4.3h-4.3zM1065.8 619.9h4.3v4.3h-4.3zM1076.9 619.9h4.3v4.3h-4.3zM1177.0 619.9h4.3v4.3h-4.3zM1228.9 619.9h4.3v4.3h-4.3zM1247.4 619.9h4.3v4.3h-4.3zM1143.6 623.6h4.3v4.3h-4.3zM1136.2 627.3h4.3v4.3h-4.3zM1195.5 627.3h4.3v4.3h-4.3zM1232.6 627.3h4.3v4.3h-4.3zM1143.6 631.0h4.3v4.3h-4.3zM1202.9 634.7h4.3v4.3h-4.3zM1147.3 638.4h4.3v4.3h-4.3zM1202.9 638.4h4.3v4.3h-4.3zM1136.2 642.1h4.3v4.3h-4.3zM1139.9 642.1h4.3v4.3h-4.3zM1199.2 649.5h4.3v4.3h-4.3zM1195.5 653.2h4.3v4.3h-4.3zM1254.8 653.2h4.3v4.3h-4.3zM1088.0 660.7h4.3v4.3h-4.3zM1110.3 660.7h4.3v4.3h-4.3zM1106.6 664.4h4.3v4.3h-4.3zM1165.9 664.4h4.3v4.3h-4.3zM1065.8 668.1h4.3v4.3h-4.3zM1162.2 668.1h4.3v4.3h-4.3zM1251.1 668.1h4.3v4.3h-4.3zM1102.9 671.8h4.3v4.3h-4.3zM1225.1 675.5h4.3v4.3h-4.3zM1062.1 679.2h4.3v4.3h-4.3zM1228.9 686.6h4.3v4.3h-4.3zM1232.6 686.6h4.3v4.3h-4.3zM1236.3 686.6h4.3v4.3h-4.3z"/>
<path fill="#bfd3f6" d="M1158.5 482.8h4.3v4.3h-4.3zM1084.3 490.2h4.3v4.3h-4.3zM1151.0 493.9h4.3v4.3h-4.3zM1154.7 493.9h4.3v4.3h-4.3zM1221.4 497.6h4.3v4.3h-4.3zM1217.7 501.3h4.3v4.3h-4.3zM1114.0 505.0h4.3v4.3h-4.3zM1121.4 505.0h4.3v4.3h-4.3zM1225.1 505.0h4.3v4.3h-4.3zM1106.6 508.7h4.3v4.3h-4.3zM1099.2 516.1h4.3v4.3h-4.3zM1117.7 516.1h4.3v4.3h-4.3zM1110.3 523.6h4.3v4.3h-4.3zM1132.5 527.3h4.3v4.3h-4.3zM1136.2 531.0h4.3v4.3h-4.3zM1121.4 534.7h4.3v4.3h-4.3zM1073.2 538.4h4.3v4.3h-4.3zM1117.7 542.1h4.3v4.3h-4.3zM1251.1 545.8h4.3v4.3h-4.3zM1254.8 553.2h4.3v4.3h-4.3zM1258.5 553.2h4.3v4.3h-4.3zM1084.3 556.9h4.3v4.3h-4.3zM1084.3 560.6h4.3v4.3h-4.3zM1251.1 560.6h4.3v4.3h-4.3zM1162.2 568.0h4.3v4.3h-4.3zM1247.4 568.0h4.3v4.3h-4.3zM1154.7 571.7h4.3v4.3h-4.3zM1206.6 571.7h4.3v4.3h-4.3zM1251.1 571.7h4.3v4.3h-4.3zM1165.9 575.4h4.3v4.3h-4.3zM1202.9 575.4h4.3v4.3h-4.3zM1221.4 575.4h4.3v4.3h-4.3zM1054.7 579.1h4.3v4.3h-4.3zM1206.6 579.1h4.3v4.3h-4.3zM1221.4 579.1h4.3v4.3h-4.3zM1139.9 582.8h4.3v4.3h-4.3zM1143.6 582.8h4.3v4.3h-4.3zM1139.9 586.6h4.3v4.3h-4.3zM1054.7 590.3h4.3v4.3h-4.3zM1177.0 590.3h4.3v4.3h-4.3zM1202.9 590.3h4.3v4.3h-4.3zM1054.7 594.0h4.3v4.3h-4.3zM1169.6 594.0h4.3v4.3h-4.3zM1173.3 597.7h4.3v4.3h-4.3zM1217.7 597.7h4.3v4.3h-4.3zM1117.7 601.4h4.3v4.3h-4.3zM1110.3 605.1h4.3v4.3h-4.3zM1114.0 605.1h4.3v4.3h-4.3zM1165.9 605.1h4.3v4.3h-4.3zM1169.6 605.1h4.3v4.3h-4.3zM1191.8 605.1h4.3v4.3h-4.3zM1232.6 605.1h4.3v4.3h-4.3zM1236.3 605.1h4.3v4.3h-4.3zM1099.2 608.8h4.3v4.3h-4.3zM1162.2 608.8h4.3v4.3h-4.3zM1217.7 608.8h4.3v4.3h-4.3zM1232.6 608.8h4.3v4.3h-4.3zM1236.3 608.8h4.3v4.3h-4.3zM1099.2 612.5h4.3v4.3h-4.3zM1158.5 612.5h4.3v4.3h-4.3zM1169.6 612.5h4.3v4.3h-4.3zM1076.9 616.2h4.3v4.3h-4.3zM1158.5 616.2h4.3v4.3h-4.3zM1165.9 616.2h4.3v4.3h-4.3zM1173.3 616.2h4.3v4.3h-4.3zM1225.1 616.2h4.3v4.3h-4.3zM1169.6 619.9h4.3v4.3h-4.3zM1191.8 619.9h4.3v4.3h-4.3zM1195.5 619.9h4.3v4.3h-4.3zM1065.8 623.6h4.3v4.3h-4.3zM1084.3 623.6h4.3v4.3h-4.3zM1136.2 623.6h4.3v4.3h-4.3zM1165.9 623.6h4.3v4.3h-4.3zM1169.6 623.6h4.3v4.3h-4.3zM1188.1 623.6h4.3v4.3h-4.3zM1251.1 623.6h4.3v4.3h-4.3zM1128.8 627.3h4.3v4.3h-4.3zM1199.2 627.3h4.3v4.3h-4.3zM1062.1 631.0h4.3v4.3h-4.3zM1076.9 631.0h4.3v4.3h-4.3zM1199.2 631.0h4.3v4.3h-4.3zM1136.2 634.7h4.3v4.3h-4.3zM1151.0 634.7h4.3v4.3h-4.3zM1143.6 638.4h4.3v4.3h-4.3zM1199.2 638.4h4.3v4.3h-4.3zM1217.7 638.4h4.3v4.3h-4.3zM1099.2 645.8h4.3v4.3h-4.3zM1199.2 645.8h4.3v4.3h-4.3zM1106.6 653.2h4.3v4.3h-4.3zM1202.9 653.2h4.3v4.3h-4.3zM1210.3 653.2h4.3v4.3h-4.3zM1214.0 653.2h4.3v4.3h-4.3zM1099.2 657.0h4.3v4.3h-4.3zM1110.3 657.0h4.3v4.3h-4.3zM1191.8 657.0h4.3v4.3h-4.3zM1080.6 660.7h4.3v4.3h-4.3zM1084.3 660.7h4.3v4.3h-4.3zM1106.6 660.7h4.3v4.3h-4.3zM1251.1 660.7h4.3v4.3h-4.3zM1069.5 668.1h4.3v4.3h-4.3zM1236.3 682.9h4.3v4.3h-4.3zM1136.2 686.6h4.3v4.3h-4.3z"/>
<path fill="#c5d6f2" d="M1247.4 482.8h4.3v4.3h-4.3zM1080.6 490.2h4.3v4.3h-4.3zM1091.8 490.2h4.3v4.3h-4.3zM1151.0 490.2h4.3v4.3h-4.3zM1054.7 493.9h4.3v4.3h-4.3zM1054.7 497.6h4.3v4.3h-4.3zM1210.3 501.3h4.3v4.3h-4.3zM1214.0 501.3h4.3v4.3h-4.3zM1095.5 505.0h4.3v4.3h-4.3zM1099.2 505.0h4.3v4.3h-4.3zM1117.7 505.0h4.3v4.3h-4.3zM1125.1 505.0h4.3v4.3h-4.3zM1128.8 508.7h4.3v4.3h-4.3zM1217.7 508.7h4.3v4.3h-4.3zM1228.9 508.7h4.3v4.3h-4.3zM1095.5 512.4h4.3v4.3h-4.3zM1114.0 512.4h4.3v4.3h-4.3zM1217.7 512.4h4.3v4.3h-4.3zM1221.4 512.4h4.3v4.3h-4.3zM1225.1 512.4h4.3v4.3h-4.3zM1091.8 516.1h4.3v4.3h-4.3zM1184.4 516.1h4.3v4.3h-4.3zM1095.5 519.9h4.3v4.3h-4.3zM1099.2 519.9h4.3v4.3h-4.3zM1114.0 519.9h4.3v4.3h-4.3zM1180.7 519.9h4.3v4.3h-4.3zM1184.4 519.9h4.3v4.3h-4.3zM1173.3 523.6h4.3v4.3h-4.3zM1102.9 527.3h4.3v4.3h-4.3zM1136.2 527.3h4.3v4.3h-4.3zM1065.8 531.0h4.3v4.3h-4.3zM1128.8 531.0h4.3v4.3h-4.3zM1132.5 531.0h4.3v4.3h-4.3zM1139.9 531.0h4.3v4.3h-4.3zM1236.3 531.0h4.3v4.3h-4.3zM1240.0 531.0h4.3v4.3h-4.3zM1117.7 534.7h4.3v4.3h-4.3zM1132.5 534.7h4.3v4.3h-4.3zM1136.2 534.7h4.3v4.3h-4.3zM1180.7 534.7h4.3v4.3h-4.3zM1114.0 538.4h4.3v4.3h-4.3zM1125.1 538.4h4.3v4.3h-4.3zM1110.3 542.1h4.3v4.3h-4.3zM1114.0 542.1h4.3v4.3h-4.3zM1125.1 542.1h4.3v4.3h-4.3zM1143.6 542.1h4.3v4.3h-4.3zM1251.1 542.1h4.3v4.3h-4.3zM1114.0 545.8h4.3v4.3h-4.3zM1143.6 545.8h4.3v4.3h-4.3zM1251.1 549.5h4.3v4.3h-4.3zM1191.8 553.2h4.3v4.3h-4.3zM1195.5 553.2h4.3v4.3h-4.3zM1191.8 556.9h4.3v4.3h-4.3zM1195.5 556.9h4.3v4.3h-4.3zM1088.0 560.6h4.3v4.3h-4.3zM1088.0 564.3h4.3v4.3h-4.3zM1158.5 564.3h4.3v4.3h-4.3zM1158.5 568.0h4.3v4.3h-4.3zM1165.9 568.0h4.3v4.3h-4.3zM1210.3 568.0h4.3v4.3h-4.3zM1202.9 571.7h4.3v4.3h-4.3zM1210.3 571.7h4.3v4.3h-4.3zM1254.8 571.7h4.3v4.3h-4.3zM1151.0 575.4h4.3v4.3h-4.3zM1199.2 575.4h4.3v4.3h-4.3zM1214.0 575.4h4.3v4.3h-4.3zM1217.7 575.4h4.3v4.3h-4.3zM1143.6 579.1h4.3v4.3h-4.3zM1154.7 579.1h4.3v4.3h-4.3zM1162.2 579.1h4.3v4.3h-4.3zM1165.9 579.1h4.3v4.3h-4.3zM1202.9 579.1h4.3v4.3h-4.3zM1202.9 582.8h4.3v4.3h-4.3zM1054.7 586.6h4.3v4.3h-4.3zM1199.2 586.6h4.3v4.3h-4.3zM1173.3 590.3h4.3v4.3h-4.3zM1117.7 597.7h4.3v4.3h-4.3zM1188.1 597.7h4.3v4.3h-4.3zM1221.4 597.7h4.3v4.3h-4.3zM1236.3 597.7h4.3v4.3h-4.3zM1206.6 601.4h4.3v4.3h-4.3zM1210.3 601.4h4.3v4.3h-4.3zM1221.4 601.4h4.3v4.3h-4.3zM1173.3 608.8h4.3v4.3h-4.3zM1195.5 608.8h4.3v4.3h-4.3zM1154.7 612.5h4.3v4.3h-4.3zM1165.9 612.5h4.3v4.3h-4.3zM1177.0 612.5h4.3v4.3h-4.3zM1217.7 612.5h4.3v4.3h-4.3zM1221.4 612.5h4.3v4.3h-4.3zM1236.3 612.5h4.3v4.3h-4.3zM1240.0 612.5h4.3v4.3h-4.3zM1073.2 616.2h4.3v4.3h-4.3zM1240.0 616.2h4.3v4.3h-4.3zM1184.4 619.9h4.3v4.3h-4.3zM1188.1 619.9h4.3v4.3h-4.3zM1240.0 619.9h4.3v4.3h-4.3zM1199.2 623.6h4.3v4.3h-4.3zM1228.9 623.6h4.3v4.3h-4.3zM1143.6 627.3h4.3v4.3h-4.3zM1188.1 627.3h4.3v4.3h-4.3zM1225.1 627.3h4.3v4.3h-4.3zM1228.9 627.3h4.3v4.3h-4.3zM1247.4 627.3h4.3v4.3h-4.3zM1080.6 631.0h4.3v4.3h-4.3zM1136.2 631.0h4.3v4.3h-4.3zM1195.5 631.0h4.3v4.3h-4.3zM1202.9 631.0h4.3v4.3h-4.3zM1243.7 631.0h4.3v4.3h-4.3zM1062.1 634.7h4.3v4.3h-4.3zM1132.5 634.7h4.3v4.3h-4.3zM1195.5 634.7h4.3v4.3h-4.3zM1199.2 634.7h4.3v4.3h-4.3zM1240.0 634.7h4.3v4.3h-4.3zM1243.7 634.7h4.3v4.3h-4.3zM1117.7 638.4h4.3v4.3h-4.3zM1139.9 638.4h4.3v4.3h-4.3zM1151.0 638.4h4.3v4.3h-4.3zM1210.3 638.4h4.3v4.3h-4.3zM1106.6 642.1h4.3v4.3h-4.3zM1199.2 642.1h4.3v4.3h-4.3zM1139.9 645.8h4.3v4.3h-4.3zM1251.1 645.8h4.3v4.3h-4.3zM1195.5 649.5h4.3v4.3h-4.3zM1214.0 649.5h4.3v4.3h-4.3zM1206.6 653.2h4.3v4.3h-4.3zM1188.1 657.0h4.3v4.3h-4.3zM1210.3 657.0h4.3v4.3h-4.3zM1251.1 657.0h4.3v4.3h-4.3zM1184.4 660.7h4.3v4.3h-4.3zM1110.3 664.4h4.3v4.3h-4.3zM1114.0 664.4h4.3v4.3h-4.3zM1217.7 664.4h4.3v4.3h-4.3zM1221.4 664.4h4.3v4.3h-4.3zM1106.6 668.1h4.3v4.3h-4.3zM1217.7 668.1h4.3v4.3h-4.3zM1254.8 668.1h4.3v4.3h-4.3zM1258.5 668.1h4.3v4.3h-4.3zM1069.5 671.8h4.3v4.3h-4.3zM1154.7 671.8h4.3v4.3h-4.3zM1225.1 671.8h4.3v4.3h-4.3zM1228.9 671.8h4.3v4.3h-4.3zM1102.9 675.5h4.3v4.3h-4.3zM1106.6 675.5h4.3v4.3h-4.3zM1165.9 675.5h4.3v4.3h-4.3zM1236.3 675.5h4.3v4.3h-4.3zM1236.3 679.2h4.3v4.3h-4.3zM1128.8 686.6h4.3v4.3h-4.3z"/>
<path fill="#ccd9ed" d="M1065.8 482.8h4.3v4.3h-4.3zM1091.8 482.8h4.3v4.3h-4.3zM1151.0 482.8h4.3v4.3h-4.3zM1154.7 482.8h4.3v4.3h-4.3zM1240.0 482.8h4.3v4.3h-4.3zM1069.5 486.5h4.3v4.3h-4.3zM1091.8 486.5h4.3v4.3h-4.3zM1151.0 486.5h4.3v4.3h-4.3zM1154.7 486.5h4.3v4.3h-4.3zM1247.4 486.5h4.3v4.3h-4.3zM1254.8 486.5h4.3v4.3h-4.3zM1073.2 490.2h4.3v4.3h-4.3zM1254.8 490.2h4.3v4.3h-4.3zM1080.6 493.9h4.3v4.3h-4.3zM1088.0 493.9h4.3v4.3h-4.3zM1217.7 493.9h4.3v4.3h-4.3zM1247.4 493.9h4.3v4.3h-4.3zM1117.7 497.6h4.3v4.3h-4.3zM1099.2 501.3h4.3v4.3h-4.3zM1114.0 501.3h4.3v4.3h-4.3zM1102.9 505.0h4.3v4.3h-4.3zM1110.3 505.0h4.3v4.3h-4.3zM1221.4 505.0h4.3v4.3h-4.3zM1095.5 508.7h4.3v4.3h-4.3zM1110.3 508.7h4.3v4.3h-4.3zM1114.0 508.7h4.3v4.3h-4.3zM1117.7 508.7h4.3v4.3h-4.3zM1091.8 512.4h4.3v4.3h-4.3zM1110.3 512.4h4.3v4.3h-4.3zM1128.8 512.4h4.3v4.3h-4.3zM1121.4 516.1h4.3v4.3h-4.3zM1136.2 523.6h4.3v4.3h-4.3zM1177.0 523.6h4.3v4.3h-4.3zM1180.7 523.6h4.3v4.3h-4.3zM1173.3 527.3h4.3v4.3h-4.3zM1188.1 527.3h4.3v4.3h-4.3zM1191.8 527.3h4.3v4.3h-4.3zM1236.3 527.3h4.3v4.3h-4.3zM1069.5 531.0h4.3v4.3h-4.3zM1188.1 531.0h4.3v4.3h-4.3zM1191.8 531.0h4.3v4.3h-4.3zM1069.5 534.7h4.3v4.3h-4.3zM1125.1 534.7h4.3v4.3h-4.3zM1128.8 534.7h4.3v4.3h-4.3zM1184.4 534.7h4.3v4.3h-4.3zM1240.0 534.7h4.3v4.3h-4.3zM1180.7 538.4h4.3v4.3h-4.3zM1054.7 542.1h4.3v4.3h-4.3zM1069.5 542.1h4.3v4.3h-4.3zM1147.3 542.1h4.3v4.3h-4.3zM1117.7 545.8h4.3v4.3h-4.3zM1121.4 545.8h4.3v4.3h-4.3zM1139.9 545.8h4.3v4.3h-4.3zM1147.3 545.8h4.3v4.3h-4.3zM1243.7 545.8h4.3v4.3h-4.3zM1058.4 549.5h4.3v4.3h-4.3zM1128.8 549.5h4.3v4.3h-4.3zM1199.2 549.5h4.3v4.3h-4.3zM1243.7 549.5h4.3v4.3h-4.3zM1132.5 553.2h4.3v4.3h-4.3zM1147.3 553.2h4.3v4.3h-4.3zM1151.0 553.2h4.3v4.3h-4.3zM1251.1 553.2h4.3v4.3h-4.3zM1151.0 556.9h4.3v4.3h-4.3zM1188.1 556.9h4.3v4.3h-4.3zM1191.8 560.6h4.3v4.3h-4.3zM1195.5 560.6h4.3v4.3h-4.3zM1084.3 564.3h4.3v4.3h-4.3zM1073.2 568.0h4.3v4.3h-4.3zM1151.0 568.0h4.3v4.3h-4.3zM1154.7 568.0h4.3v4.3h-4.3zM1214.0 568.0h4.3v4.3h-4.3zM1217.7 568.0h4.3v4.3h-4.3zM1073.2 571.7h4.3v4.3h-4.3zM1214.0 571.7h4.3v4.3h-4.3zM1240.0 571.7h4.3v4.3h-4.3zM1247.4 571.7h4.3v4.3h-4.3zM1058.4 575.4h4.3v4.3h-4.3zM1147.3 575.4h4.3v4.3h-4.3zM1210.3 575.4h4.3v4.3h-4.3zM1243.7 575.4h4.3v4.3h-4.3zM1058.4 579.1h4.3v4.3h-4.3zM1062.1 579.1h4.3v4.3h-4.3zM1158.5 579.1h4.3v4.3h-4.3zM1151.0 582.8h4.3v4.3h-4.3zM1136.2 586.6h4.3v4.3h-4.3zM1143.6 586.6h4.3v4.3h-4.3zM1199.2 590.3h4.3v4.3h-4.3zM1180.7 594.0h4.3v4.3h-4.3zM1184.4 594.0h4.3v4.3h-4.3zM1110.3 597.7h4.3v4.3h-4.3zM1114.0 597.7h4.3v4.3h-4.3zM1169.6 597.7h4.3v4.3h-4.3zM1232.6 597.7h4.3v4.3h-4.3zM1191.8 601.4h4.3v4.3h-4.3zM1217.7 601.4h4.3v4.3h-4.3zM1236.3 601.4h4.3v4.3h-4.3zM1240.0 601.4h4.3v4.3h-4.3zM1217.7 605.1h4.3v4.3h-4.3zM1214.0 608.8h4.3v4.3h-4.3zM1240.0 608.8h4.3v4.3h-4.3zM1080.6 612.5h4.3v4.3h-4.3zM1084.3 612.5h4.3v4.3h-4.3zM1214.0 612.5h4.3v4.3h-4.3zM1154.7 616.2h4.3v4.3h-4.3zM1217.7 616.2h4.3v4.3h-4.3zM1221.4 616.2h4.3v4.3h-4.3zM1180.7 619.9h4.3v4.3h-4.3zM1221.4 619.9h4.3v4.3h-4.3zM1225.1 619.9h4.3v4.3h-4.3zM1243.7 619.9h4.3v4.3h-4.3zM1062.1 623.6h4.3v4.3h-4.3zM1162.2 623.6h4.3v4.3h-4.3zM1173.3 623.6h4.3v4.3h-4.3zM1225.1 623.6h4.3v4.3h-4.3zM1162.2 627.3h4.3v4.3h-4.3zM1165.9 627.3h4.3v4.3h-4.3zM1065.8 634.7h4.3v4.3h-4.3zM1076.9 634.7h4.3v4.3h-4.3zM1206.6 634.7h4.3v4.3h-4.3zM1225.1 634.7h4.3v4.3h-4.3zM1236.3 634.7h4.3v4.3h-4.3zM1102.9 642.1h4.3v4.3h-4.3zM1143.6 642.1h4.3v4.3h-4.3zM1088.0 645.8h4.3v4.3h-4.3zM1247.4 645.8h4.3v4.3h-4.3zM1254.8 645.8h4.3v4.3h-4.3zM1088.0 649.5h4.3v4.3h-4.3zM1110.3 649.5h4.3v4.3h-4.3zM1247.4 649.5h4.3v4.3h-4.3zM1251.1 649.5h4.3v4.3h-4.3zM1254.8 649.5h4.3v4.3h-4.3zM1102.9 653.2h4.3v4.3h-4.3zM1251.1 653.2h4.3v4.3h-4.3zM1195.5 657.0h4.3v4.3h-4.3zM1214.0 657.0h4.3v4.3h-4.3zM1217.7 657.0h4.3v4.3h-4.3zM1188.1 660.7h4.3v4.3h-4.3zM1214.0 660.7h4.3v4.3h-4.3zM1217.7 660.7h4.3v4.3h-4.3zM1221.4 660.7h4.3v4.3h-4.3zM1247.4 660.7h4.3v4.3h-4.3zM1095.5 664.4h4.3v4.3h-4.3zM1058.4 668.1h4.3v4.3h-4.3zM1221.4 668.1h4.3v4.3h-4.3zM1054.7 671.8h4.3v4.3h-4.3zM1095.5 671.8h4.3v4.3h-4.3zM1106.6 671.8h4.3v4.3h-4.3zM1173.3 675.5h4.3v4.3h-4.3zM1221.4 675.5h4.3v4.3h-4.3zM1106.6 679.2h4.3v4.3h-4.3zM1058.4 682.9h4.3v4.3h-4.3zM1180.7 682.9h4.3v4.3h-4.3zM1221.4 682.9h4.3v4.3h-4.3zM1062.1 686.6h4.3v4.3h-4.3zM1139.9 686.6h4.3v4.3h-4.3zM1180.7 686.6h4.3v4.3h-4.3zM1221.4 686.6h4.3v4.3h-4.3z"/>
<path fill="#d2dbe8" d="M1095.5 482.8h4.3v4.3h-4.3zM1099.2 482.8h4.3v4.3h-4.3zM1147.3 482.8h4.3v4.3h-4.3zM1054.7 486.5h4.3v4.3h-4.3zM1058.4 486.5h4.3v4.3h-4.3zM1147.3 486.5h4.3v4.3h-4.3zM1206.6 486.5h4.3v4.3h-4.3zM1210.3 486.5h4.3v4.3h-4.3zM1258.5 486.5h4.3v4.3h-4.3zM1054.7 490.2h4.3v4.3h-4.3zM1258.5 490.2h4.3v4.3h-4.3zM1076.9 493.9h4.3v4.3h-4.3zM1084.3 493.9h4.3v4.3h-4.3zM1091.8 493.9h4.3v4.3h-4.3zM1114.0 493.9h4.3v4.3h-4.3zM1147.3 493.9h4.3v4.3h-4.3zM1221.4 493.9h4.3v4.3h-4.3zM1254.8 493.9h4.3v4.3h-4.3zM1091.8 497.6h4.3v4.3h-4.3zM1095.5 497.6h4.3v4.3h-4.3zM1114.0 497.6h4.3v4.3h-4.3zM1143.6 497.6h4.3v4.3h-4.3zM1147.3 497.6h4.3v4.3h-4.3zM1095.5 501.3h4.3v4.3h-4.3zM1106.6 505.0h4.3v4.3h-4.3zM1091.8 508.7h4.3v4.3h-4.3zM1177.0 519.9h4.3v4.3h-4.3zM1188.1 519.9h4.3v4.3h-4.3zM1132.5 523.6h4.3v4.3h-4.3zM1062.1 527.3h4.3v4.3h-4.3zM1128.8 527.3h4.3v4.3h-4.3zM1139.9 527.3h4.3v4.3h-4.3zM1177.0 527.3h4.3v4.3h-4.3zM1240.0 527.3h4.3v4.3h-4.3zM1117.7 531.0h4.3v4.3h-4.3zM1125.1 531.0h4.3v4.3h-4.3zM1180.7 531.0h4.3v4.3h-4.3zM1184.4 531.0h4.3v4.3h-4.3zM1243.7 531.0h4.3v4.3h-4.3zM1114.0 534.7h4.3v4.3h-4.3zM1139.9 534.7h4.3v4.3h-4.3zM1177.0 534.7h4.3v4.3h-4.3zM1236.3 534.7h4.3v4.3h-4.3zM1069.5 538.4h4.3v4.3h-4.3zM1110.3 538.4h4.3v4.3h-4.3zM1128.8 538.4h4.3v4.3h-4.3zM1132.5 538.4h4.3v4.3h-4.3zM1139.9 538.4h4.3v4.3h-4.3zM1177.0 538.4h4.3v4.3h-4.3zM1139.9 542.1h4.3v4.3h-4.3zM1247.4 542.1h4.3v4.3h-4.3zM1073.2 545.8h4.3v4.3h-4.3zM1110.3 545.8h4.3v4.3h-4.3zM1125.1 545.8h4.3v4.3h-4.3zM1136.2 545.8h4.3v4.3h-4.3zM1254.8 545.8h4.3v4.3h-4.3zM1062.1 549.5h4.3v4.3h-4.3zM1114.0 549.5h4.3v4.3h-4.3zM1132.5 549.5h4.3v4.3h-4.3zM1139.9 549.5h4.3v4.3h-4.3zM1191.8 549.5h4.3v4.3h-4.3zM1202.9 549.5h4.3v4.3h-4.3zM1128.8 553.2h4.3v4.3h-4.3zM1154.7 553.2h4.3v4.3h-4.3zM1188.1 553.2h4.3v4.3h-4.3zM1199.2 553.2h4.3v4.3h-4.3zM1202.9 553.2h4.3v4.3h-4.3zM1080.6 556.9h4.3v4.3h-4.3zM1147.3 556.9h4.3v4.3h-4.3zM1154.7 556.9h4.3v4.3h-4.3zM1199.2 556.9h4.3v4.3h-4.3zM1184.4 560.6h4.3v4.3h-4.3zM1247.4 560.6h4.3v4.3h-4.3zM1154.7 564.3h4.3v4.3h-4.3zM1162.2 564.3h4.3v4.3h-4.3zM1247.4 564.3h4.3v4.3h-4.3zM1243.7 568.0h4.3v4.3h-4.3zM1143.6 571.7h4.3v4.3h-4.3zM1147.3 571.7h4.3v4.3h-4.3zM1243.7 571.7h4.3v4.3h-4.3zM1054.7 575.4h4.3v4.3h-4.3zM1062.1 575.4h4.3v4.3h-4.3zM1139.9 575.4h4.3v4.3h-4.3zM1143.6 575.4h4.3v4.3h-4.3zM1169.6 575.4h4.3v4.3h-4.3zM1240.0 575.4h4.3v4.3h-4.3zM1195.5 579.1h4.3v4.3h-4.3zM1199.2 579.1h4.3v4.3h-4.3zM1228.9 579.1h4.3v4.3h-4.3zM1058.4 582.8h4.3v4.3h-4.3zM1136.2 582.8h4.3v4.3h-4.3zM1232.6 582.8h4.3v4.3h-4.3zM1058.4 590.3h4.3v4.3h-4.3zM1110.3 594.0h4.3v4.3h-4.3zM1121.4 594.0h4.3v4.3h-4.3zM1188.1 594.0h4.3v4.3h-4.3zM1225.1 594.0h4.3v4.3h-4.3zM1106.6 597.7h4.3v4.3h-4.3zM1125.1 597.7h4.3v4.3h-4.3zM1225.1 597.7h4.3v4.3h-4.3zM1228.9 597.7h4.3v4.3h-4.3zM1169.6 601.4h4.3v4.3h-4.3zM1202.9 601.4h4.3v4.3h-4.3zM1214.0 601.4h4.3v4.3h-4.3zM1240.0 605.1h4.3v4.3h-4.3zM1158.5 608.8h4.3v4.3h-4.3zM1243.7 608.8h4.3v4.3h-4.3zM1065.8 616.2h4.3v4.3h-4.3zM1069.5 616.2h4.3v4.3h-4.3zM1080.6 616.2h4.3v4.3h-4.3zM1091.8 616.2h4.3v4.3h-4.3zM1162.2 616.2h4.3v4.3h-4.3zM1169.6 616.2h4.3v4.3h-4.3zM1243.7 616.2h4.3v4.3h-4.3zM1139.9 619.9h4.3v4.3h-4.3zM1158.5 619.9h4.3v4.3h-4.3zM1199.2 619.9h4.3v4.3h-4.3zM1080.6 627.3h4.3v4.3h-4.3zM1139.9 631.0h4.3v4.3h-4.3zM1184.4 631.0h4.3v4.3h-4.3zM1191.8 631.0h4.3v4.3h-4.3zM1058.4 634.7h4.3v4.3h-4.3zM1073.2 634.7h4.3v4.3h-4.3zM1128.8 634.7h4.3v4.3h-4.3zM1143.6 634.7h4.3v4.3h-4.3zM1247.4 634.7h4.3v4.3h-4.3zM1114.0 638.4h4.3v4.3h-4.3zM1214.0 638.4h4.3v4.3h-4.3zM1221.4 638.4h4.3v4.3h-4.3zM1240.0 638.4h4.3v4.3h-4.3zM1243.7 638.4h4.3v4.3h-4.3zM1247.4 638.4h4.3v4.3h-4.3zM1110.3 642.1h4.3v4.3h-4.3zM1114.0 642.1h4.3v4.3h-4.3zM1151.0 642.1h4.3v4.3h-4.3zM1243.7 642.1h4.3v4.3h-4.3zM1247.4 642.1h4.3v4.3h-4.3zM1251.1 642.1h4.3v4.3h-4.3zM1084.3 645.8h4.3v4.3h-4.3zM1110.3 645.8h4.3v4.3h-4.3zM1154.7 645.8h4.3v4.3h-4.3zM1195.5 645.8h4.3v4.3h-4.3zM1084.3 649.5h4.3v4.3h-4.3zM1154.7 649.5h4.3v4.3h-4.3zM1191.8 649.5h4.3v4.3h-4.3zM1258.5 649.5h4.3v4.3h-4.3zM1188.1 653.2h4.3v4.3h-4.3zM1191.8 653.2h4.3v4.3h-4.3zM1184.4 657.0h4.3v4.3h-4.3zM1099.2 660.7h4.3v4.3h-4.3zM1102.9 660.7h4.3v4.3h-4.3zM1117.7 660.7h4.3v4.3h-4.3zM1058.4 664.4h4.3v4.3h-4.3zM1117.7 664.4h4.3v4.3h-4.3zM1177.0 664.4h4.3v4.3h-4.3zM1214.0 664.4h4.3v4.3h-4.3zM1117.7 668.1h4.3v4.3h-4.3zM1121.4 668.1h4.3v4.3h-4.3zM1225.1 668.1h4.3v4.3h-4.3zM1221.4 671.8h4.3v4.3h-4.3zM1240.0 671.8h4.3v4.3h-4.3zM1254.8 671.8h4.3v4.3h-4.3zM1258.5 671.8h4.3v4.3h-4.3zM1069.5 675.5h4.3v4.3h-4.3zM1110.3 675.5h4.3v4.3h-4.3zM1154.7 675.5h4.3v4.3h-4.3zM1177.0 675.5h4.3v4.3h-4.3zM1240.0 675.5h4.3v4.3h-4.3zM1069.5 679.2h4.3v4.3h-4.3zM1158.5 679.2h4.3v4.3h-4.3zM1162.2 679.2h4.3v4.3h-4.3zM1177.0 679.2h4.3v4.3h-4.3zM1221.4 679.2h4.3v4.3h-4.3zM1065.8 682.9h4.3v4.3h-4.3zM1076.9 682.9h4.3v4.3h-4.3zM1139.9 682.9h4.3v4.3h-4.3zM1143.6 682.9h4.3v4.3h-4.3zM1147.3 682.9h4.3v4.3h-4.3zM1076.9 686.6h4.3v4.3h-4.3zM1184.4 686.6h4.3v4.3h-4.3zM1217.7 686.6h4.3v4.3h-4.3zM1225.1 686.6h4.3v4.3h-4.3z"/>
<path fill="#d7dce3" d="M1062.1 482.8h4.3v4.3h-4.3zM1102.9 482.8h4.3v4.3h-4.3zM1202.9 482.8h4.3v4.3h-4.3zM1206.6 482.8h4.3v4.3h-4.3zM1210.3 482.8h4.3v4.3h-4.3zM1258.5 482.8h4.3v4.3h-4.3zM1062.1 486.5h4.3v4.3h-4.3zM1095.5 486.5h4.3v4.3h-4.3zM1143.6 486.5h4.3v4.3h-4.3zM1169.6 486.5h4.3v4.3h-4.3zM1243.7 486.5h4.3v4.3h-4.3zM1251.1 486.5h4.3v4.3h-4.3zM1058.4 490.2h4.3v4.3h-4.3zM1147.3 490.2h4.3v4.3h-4.3zM1165.9 490.2h4.3v4.3h-4.3zM1095.5 493.9h4.3v4.3h-4.3zM1117.7 493.9h4.3v4.3h-4.3zM1158.5 493.9h4.3v4.3h-4.3zM1080.6 497.6h4.3v4.3h-4.3zM1088.0 497.6h4.3v4.3h-4.3zM1121.4 497.6h4.3v4.3h-4.3zM1139.9 497.6h4.3v4.3h-4.3zM1151.0 497.6h4.3v4.3h-4.3zM1210.3 497.6h4.3v4.3h-4.3zM1254.8 497.6h4.3v4.3h-4.3zM1054.7 501.3h4.3v4.3h-4.3zM1058.4 501.3h4.3v4.3h-4.3zM1091.8 501.3h4.3v4.3h-4.3zM1110.3 501.3h4.3v4.3h-4.3zM1143.6 501.3h4.3v4.3h-4.3zM1169.6 501.3h4.3v4.3h-4.3zM1173.3 501.3h4.3v4.3h-4.3zM1221.4 501.3h4.3v4.3h-4.3zM1169.6 505.0h4.3v4.3h-4.3zM1173.3 505.0h4.3v4.3h-4.3zM1177.0 505.0h4.3v4.3h-4.3zM1210.3 505.0h4.3v4.3h-4.3zM1214.0 505.0h4.3v4.3h-4.3zM1217.7 505.0h4.3v4.3h-4.3zM1228.9 505.0h4.3v4.3h-4.3zM1258.5 505.0h4.3v4.3h-4.3zM1054.7 508.7h4.3v4.3h-4.3zM1088.0 508.7h4.3v4.3h-4.3zM1162.2 508.7h4.3v4.3h-4.3zM1165.9 508.7h4.3v4.3h-4.3zM1173.3 508.7h4.3v4.3h-4.3zM1177.0 508.7h4.3v4.3h-4.3zM1054.7 512.4h4.3v4.3h-4.3zM1165.9 512.4h4.3v4.3h-4.3zM1169.6 512.4h4.3v4.3h-4.3zM1228.9 512.4h4.3v4.3h-4.3zM1180.7 516.1h4.3v4.3h-4.3zM1095.5 523.6h4.3v4.3h-4.3zM1114.0 523.6h4.3v4.3h-4.3zM1169.6 523.6h4.3v4.3h-4.3zM1184.4 523.6h4.3v4.3h-4.3zM1065.8 527.3h4.3v4.3h-4.3zM1106.6 527.3h4.3v4.3h-4.3zM1110.3 527.3h4.3v4.3h-4.3zM1114.0 527.3h4.3v4.3h-4.3zM1169.6 527.3h4.3v4.3h-4.3zM1232.6 527.3h4.3v4.3h-4.3zM1114.0 531.0h4.3v4.3h-4.3zM1121.4 531.0h4.3v4.3h-4.3zM1188.1 534.7h4.3v4.3h-4.3zM1232.6 534.7h4.3v4.3h-4.3zM1136.2 538.4h4.3v4.3h-4.3zM1143.6 538.4h4.3v4.3h-4.3zM1147.3 538.4h4.3v4.3h-4.3zM1184.4 538.4h4.3v4.3h-4.3zM1243.7 538.4h4.3v4.3h-4.3zM1076.9 542.1h4.3v4.3h-4.3zM1136.2 542.1h4.3v4.3h-4.3zM1243.7 542.1h4.3v4.3h-4.3zM1128.8 545.8h4.3v4.3h-4.3zM1188.1 545.8h4.3v4.3h-4.3zM1199.2 545.8h4.3v4.3h-4.3zM1202.9 545.8h4.3v4.3h-4.3zM1121.4 549.5h4.3v4.3h-4.3zM1125.1 549.5h4.3v4.3h-4.3zM1143.6 549.5h4.3v4.3h-4.3zM1147.3 549.5h4.3v4.3h-4.3zM1151.0 549.5h4.3v4.3h-4.3zM1188.1 549.5h4.3v4.3h-4.3zM1195.5 549.5h4.3v4.3h-4.3zM1206.6 549.5h4.3v4.3h-4.3zM1240.0 549.5h4.3v4.3h-4.3zM1254.8 549.5h4.3v4.3h-4.3zM1125.1 553.2h4.3v4.3h-4.3zM1206.6 553.2h4.3v4.3h-4.3zM1243.7 553.2h4.3v4.3h-4.3zM1128.8 556.9h4.3v4.3h-4.3zM1143.6 556.9h4.3v4.3h-4.3zM1184.4 556.9h4.3v4.3h-4.3zM1202.9 556.9h4.3v4.3h-4.3zM1247.4 556.9h4.3v4.3h-4.3zM1136.2 560.6h4.3v4.3h-4.3zM1147.3 560.6h4.3v4.3h-4.3zM1151.0 560.6h4.3v4.3h-4.3zM1154.7 560.6h4.3v4.3h-4.3zM1188.1 560.6h4.3v4.3h-4.3zM1199.2 560.6h4.3v4.3h-4.3zM1214.0 564.3h4.3v4.3h-4.3zM1069.5 568.0h4.3v4.3h-4.3zM1088.0 568.0h4.3v4.3h-4.3zM1091.8 568.0h4.3v4.3h-4.3zM1169.6 568.0h4.3v4.3h-4.3zM1151.0 571.7h4.3v4.3h-4.3zM1217.7 571.7h4.3v4.3h-4.3zM1236.3 575.4h4.3v4.3h-4.3zM1136.2 579.1h4.3v4.3h-4.3zM1139.9 579.1h4.3v4.3h-4.3zM1236.3 579.1h4.3v4.3h-4.3zM1240.0 579.1h4.3v4.3h-4.3zM1154.7 582.8h4.3v4.3h-4.3zM1158.5 582.8h4.3v4.3h-4.3zM1162.2 582.8h4.3v4.3h-4.3zM1195.5 582.8h4.3v4.3h-4.3zM1199.2 582.8h4.3v4.3h-4.3zM1058.4 586.6h4.3v4.3h-4.3zM1147.3 586.6h4.3v4.3h-4.3zM1151.0 586.6h4.3v4.3h-4.3zM1169.6 590.3h4.3v4.3h-4.3zM1180.7 590.3h4.3v4.3h-4.3zM1228.9 590.3h4.3v4.3h-4.3zM1125.1 594.0h4.3v4.3h-4.3zM1228.9 594.0h4.3v4.3h-4.3zM1054.7 597.7h4.3v4.3h-4.3zM1058.4 597.7h4.3v4.3h-4.3zM1162.2 597.7h4.3v4.3h-4.3zM1165.9 597.7h4.3v4.3h-4.3zM1202.9 597.7h4.3v4.3h-4.3zM1054.7 601.4h4.3v4.3h-4.3zM1058.4 601.4h4.3v4.3h-4.3zM1162.2 601.4h4.3v4.3h-4.3zM1165.9 601.4h4.3v4.3h-4.3zM1199.2 601.4h4.3v4.3h-4.3zM1058.4 605.1h4.3v4.3h-4.3zM1162.2 605.1h4.3v4.3h-4.3zM1199.2 605.1h4.3v4.3h-4.3zM1210.3 605.1h4.3v4.3h-4.3zM1102.9 608.8h4.3v4.3h-4.3zM1091.8 612.5h4.3v4.3h-4.3zM1095.5 612.5h4.3v4.3h-4.3zM1243.7 612.5h4.3v4.3h-4.3zM1195.5 616.2h4.3v4.3h-4.3zM1143.6 619.9h4.3v4.3h-4.3zM1151.0 619.9h4.3v4.3h-4.3zM1162.2 619.9h4.3v4.3h-4.3zM1165.9 619.9h4.3v4.3h-4.3zM1202.9 619.9h4.3v4.3h-4.3zM1177.0 623.6h4.3v4.3h-4.3zM1221.4 623.6h4.3v4.3h-4.3zM1084.3 627.3h4.3v4.3h-4.3zM1147.3 627.3h4.3v4.3h-4.3zM1169.6 627.3h4.3v4.3h-4.3zM1184.4 627.3h4.3v4.3h-4.3zM1202.9 627.3h4.3v4.3h-4.3zM1147.3 631.0h4.3v4.3h-4.3zM1247.4 631.0h4.3v4.3h-4.3zM1214.0 634.7h4.3v4.3h-4.3zM1121.4 638.4h4.3v4.3h-4.3zM1136.2 638.4h4.3v4.3h-4.3zM1195.5 638.4h4.3v4.3h-4.3zM1225.1 638.4h4.3v4.3h-4.3zM1232.6 638.4h4.3v4.3h-4.3zM1236.3 638.4h4.3v4.3h-4.3zM1117.7 642.1h4.3v4.3h-4.3zM1147.3 642.1h4.3v4.3h-4.3zM1221.4 642.1h4.3v4.3h-4.3zM1254.8 642.1h4.3v4.3h-4.3zM1258.5 642.1h4.3v4.3h-4.3zM1136.2 645.8h4.3v4.3h-4.3zM1143.6 645.8h4.3v4.3h-4.3zM1158.5 645.8h4.3v4.3h-4.3zM1243.7 649.5h4.3v4.3h-4.3zM1110.3 653.2h4.3v4.3h-4.3zM1147.3 653.2h4.3v4.3h-4.3zM1217.7 653.2h4.3v4.3h-4.3zM1180.7 657.0h4.3v4.3h-4.3zM1247.4 657.0h4.3v4.3h-4.3zM1165.9 660.7h4.3v4.3h-4.3zM1180.7 660.7h4.3v4.3h-4.3zM1054.7 664.4h4.3v4.3h-4.3zM1080.6 664.4h4.3v4.3h-4.3zM1173.3 664.4h4.3v4.3h-4.3zM1180.7 664.4h4.3v4.3h-4.3zM1225.1 664.4h4.3v4.3h-4.3zM1054.7 668.1h4.3v4.3h-4.3zM1110.3 668.1h4.3v4.3h-4.3zM1117.7 671.8h4.3v4.3h-4.3zM1232.6 671.8h4.3v4.3h-4.3zM1236.3 671.8h4.3v4.3h-4.3zM1169.6 675.5h4.3v4.3h-4.3zM1076.9 679.2h4.3v4.3h-4.3zM1102.9 679.2h4.3v4.3h-4.3zM1143.6 679.2h4.3v4.3h-4.3zM1147.3 679.2h4.3v4.3h-4.3zM1151.0 679.2h4.3v4.3h-4.3zM1062.1 682.9h4.3v4.3h-4.3zM1177.0 682.9h4.3v4.3h-4.3zM1240.0 686.6h4.3v4.3h-4.3z"/>
<path fill="#dddcdc" d="M1058.4 482.8h4.3v4.3h-4.3zM1106.6 482.8h4.3v4.3h-4.3zM1110.3 482.8h4.3v4.3h-4.3zM1199.2 482.8h4.3v4.3h-4.3zM1065.8 486.5h4.3v4.3h-4.3zM1106.6 486.5h4.3v4.3h-4.3zM1110.3 486.5h4.3v4.3h-4.3zM1202.9 486.5h4.3v4.3h-4.3zM1214.0 486.5h4.3v4.3h-4.3zM1240.0 486.5h4.3v4.3h-4.3zM1062.1 490.2h4.3v4.3h-4.3zM1110.3 490.2h4.3v4.3h-4.3zM1114.0 490.2h4.3v4.3h-4.3zM1206.6 490.2h4.3v4.3h-4.3zM1210.3 490.2h4.3v4.3h-4.3zM1110.3 493.9h4.3v4.3h-4.3zM1143.6 493.9h4.3v4.3h-4.3zM1214.0 493.9h4.3v4.3h-4.3zM1084.3 497.6h4.3v4.3h-4.3zM1106.6 497.6h4.3v4.3h-4.3zM1110.3 497.6h4.3v4.3h-4.3zM1173.3 497.6h4.3v4.3h-4.3zM1251.1 497.6h4.3v4.3h-4.3zM1084.3 501.3h4.3v4.3h-4.3zM1102.9 501.3h4.3v4.3h-4.3zM1106.6 501.3h4.3v4.3h-4.3zM1139.9 501.3h4.3v4.3h-4.3zM1177.0 501.3h4.3v4.3h-4.3zM1225.1 501.3h4.3v4.3h-4.3zM1258.5 501.3h4.3v4.3h-4.3zM1054.7 505.0h4.3v4.3h-4.3zM1091.8 505.0h4.3v4.3h-4.3zM1128.8 505.0h4.3v4.3h-4.3zM1162.2 505.0h4.3v4.3h-4.3zM1165.9 505.0h4.3v4.3h-4.3zM1169.6 508.7h4.3v4.3h-4.3zM1162.2 512.4h4.3v4.3h-4.3zM1125.1 516.1h4.3v4.3h-4.3zM1165.9 516.1h4.3v4.3h-4.3zM1188.1 516.1h4.3v4.3h-4.3zM1221.4 516.1h4.3v4.3h-4.3zM1225.1 516.1h4.3v4.3h-4.3zM1228.9 516.1h4.3v4.3h-4.3zM1117.7 519.9h4.3v4.3h-4.3zM1128.8 519.9h4.3v4.3h-4.3zM1132.5 519.9h4.3v4.3h-4.3zM1173.3 519.9h4.3v4.3h-4.3zM1228.9 519.9h4.3v4.3h-4.3zM1232.6 519.9h4.3v4.3h-4.3zM1128.8 523.6h4.3v4.3h-4.3zM1188.1 523.6h4.3v4.3h-4.3zM1232.6 523.6h4.3v4.3h-4.3zM1165.9 527.3h4.3v4.3h-4.3zM1184.4 527.3h4.3v4.3h-4.3zM1110.3 531.0h4.3v4.3h-4.3zM1165.9 531.0h4.3v4.3h-4.3zM1169.6 531.0h4.3v4.3h-4.3zM1177.0 531.0h4.3v4.3h-4.3zM1232.6 531.0h4.3v4.3h-4.3zM1080.6 534.7h4.3v4.3h-4.3zM1143.6 534.7h4.3v4.3h-4.3zM1191.8 534.7h4.3v4.3h-4.3zM1243.7 534.7h4.3v4.3h-4.3zM1054.7 538.4h4.3v4.3h-4.3zM1076.9 538.4h4.3v4.3h-4.3zM1080.6 538.4h4.3v4.3h-4.3zM1173.3 538.4h4.3v4.3h-4.3zM1240.0 538.4h4.3v4.3h-4.3zM1128.8 542.1h4.3v4.3h-4.3zM1132.5 542.1h4.3v4.3h-4.3zM1180.7 542.1h4.3v4.3h-4.3zM1184.4 542.1h4.3v4.3h-4.3zM1195.5 542.1h4.3v4.3h-4.3zM1076.9 545.8h4.3v4.3h-4.3zM1184.4 545.8h4.3v4.3h-4.3zM1191.8 545.8h4.3v4.3h-4.3zM1195.5 545.8h4.3v4.3h-4.3zM1117.7 549.5h4.3v4.3h-4.3zM1136.2 549.5h4.3v4.3h-4.3zM1154.7 549.5h4.3v4.3h-4.3zM1184.4 549.5h4.3v4.3h-4.3zM1091.8 553.2h4.3v4.3h-4.3zM1117.7 553.2h4.3v4.3h-4.3zM1121.4 553.2h4.3v4.3h-4.3zM1143.6 553.2h4.3v4.3h-4.3zM1184.4 553.2h4.3v4.3h-4.3zM1088.0 556.9h4.3v4.3h-4.3zM1091.8 556.9h4.3v4.3h-4.3zM1121.4 556.9h4.3v4.3h-4.3zM1125.1 556.9h4.3v4.3h-4.3zM1132.5 556.9h4.3v4.3h-4.3zM1180.7 556.9h4.3v4.3h-4.3zM1091.8 560.6h4.3v4.3h-4.3zM1121.4 560.6h4.3v4.3h-4.3zM1132.5 560.6h4.3v4.3h-4.3zM1139.9 560.6h4.3v4.3h-4.3zM1143.6 560.6h4.3v4.3h-4.3zM1158.5 560.6h4.3v4.3h-4.3zM1180.7 560.6h4.3v4.3h-4.3zM1132.5 564.3h4.3v4.3h-4.3zM1136.2 564.3h4.3v4.3h-4.3zM1139.9 564.3h4.3v4.3h-4.3zM1151.0 564.3h4.3v4.3h-4.3zM1184.4 564.3h4.3v4.3h-4.3zM1188.1 564.3h4.3v4.3h-4.3zM1217.7 564.3h4.3v4.3h-4.3zM1139.9 568.0h4.3v4.3h-4.3zM1202.9 568.0h4.3v4.3h-4.3zM1206.6 568.0h4.3v4.3h-4.3zM1091.8 571.7h4.3v4.3h-4.3zM1169.6 571.7h4.3v4.3h-4.3zM1199.2 571.7h4.3v4.3h-4.3zM1221.4 571.7h4.3v4.3h-4.3zM1236.3 571.7h4.3v4.3h-4.3zM1225.1 575.4h4.3v4.3h-4.3zM1247.4 575.4h4.3v4.3h-4.3zM1132.5 579.1h4.3v4.3h-4.3zM1169.6 579.1h4.3v4.3h-4.3zM1165.9 582.8h4.3v4.3h-4.3zM1169.6 582.8h4.3v4.3h-4.3zM1154.7 586.6h4.3v4.3h-4.3zM1173.3 586.6h4.3v4.3h-4.3zM1180.7 586.6h4.3v4.3h-4.3zM1258.5 586.6h4.3v4.3h-4.3zM1139.9 590.3h4.3v4.3h-4.3zM1143.6 590.3h4.3v4.3h-4.3zM1106.6 594.0h4.3v4.3h-4.3zM1117.7 594.0h4.3v4.3h-4.3zM1199.2 594.0h4.3v4.3h-4.3zM1191.8 597.7h4.3v4.3h-4.3zM1195.5 597.7h4.3v4.3h-4.3zM1121.4 601.4h4.3v4.3h-4.3zM1158.5 601.4h4.3v4.3h-4.3zM1195.5 601.4h4.3v4.3h-4.3zM1062.1 605.1h4.3v4.3h-4.3zM1117.7 605.1h4.3v4.3h-4.3zM1158.5 605.1h4.3v4.3h-4.3zM1214.0 605.1h4.3v4.3h-4.3zM1095.5 608.8h4.3v4.3h-4.3zM1114.0 608.8h4.3v4.3h-4.3zM1117.7 608.8h4.3v4.3h-4.3zM1065.8 612.5h4.3v4.3h-4.3zM1069.5 612.5h4.3v4.3h-4.3zM1195.5 612.5h4.3v4.3h-4.3zM1247.4 612.5h4.3v4.3h-4.3zM1258.5 616.2h4.3v4.3h-4.3zM1147.3 619.9h4.3v4.3h-4.3zM1254.8 619.9h4.3v4.3h-4.3zM1088.0 623.6h4.3v4.3h-4.3zM1091.8 623.6h4.3v4.3h-4.3zM1125.1 623.6h4.3v4.3h-4.3zM1128.8 623.6h4.3v4.3h-4.3zM1180.7 623.6h4.3v4.3h-4.3zM1202.9 623.6h4.3v4.3h-4.3zM1158.5 627.3h4.3v4.3h-4.3zM1154.7 631.0h4.3v4.3h-4.3zM1180.7 631.0h4.3v4.3h-4.3zM1188.1 631.0h4.3v4.3h-4.3zM1251.1 631.0h4.3v4.3h-4.3zM1117.7 634.7h4.3v4.3h-4.3zM1121.4 634.7h4.3v4.3h-4.3zM1177.0 634.7h4.3v4.3h-4.3zM1210.3 634.7h4.3v4.3h-4.3zM1099.2 638.4h4.3v4.3h-4.3zM1251.1 638.4h4.3v4.3h-4.3zM1154.7 642.1h4.3v4.3h-4.3zM1091.8 645.8h4.3v4.3h-4.3zM1151.0 645.8h4.3v4.3h-4.3zM1217.7 645.8h4.3v4.3h-4.3zM1243.7 645.8h4.3v4.3h-4.3zM1258.5 645.8h4.3v4.3h-4.3zM1125.1 649.5h4.3v4.3h-4.3zM1143.6 649.5h4.3v4.3h-4.3zM1158.5 649.5h4.3v4.3h-4.3zM1240.0 649.5h4.3v4.3h-4.3zM1084.3 653.2h4.3v4.3h-4.3zM1125.1 653.2h4.3v4.3h-4.3zM1143.6 653.2h4.3v4.3h-4.3zM1184.4 653.2h4.3v4.3h-4.3zM1243.7 653.2h4.3v4.3h-4.3zM1247.4 653.2h4.3v4.3h-4.3zM1199.2 657.0h4.3v4.3h-4.3zM1076.9 660.7h4.3v4.3h-4.3zM1177.0 660.7h4.3v4.3h-4.3zM1191.8 660.7h4.3v4.3h-4.3zM1210.3 660.7h4.3v4.3h-4.3zM1076.9 664.4h4.3v4.3h-4.3zM1088.0 664.4h4.3v4.3h-4.3zM1184.4 664.4h4.3v4.3h-4.3zM1247.4 664.4h4.3v4.3h-4.3zM1073.2 668.1h4.3v4.3h-4.3zM1091.8 668.1h4.3v4.3h-4.3zM1114.0 668.1h4.3v4.3h-4.3zM1158.5 668.1h4.3v4.3h-4.3zM1177.0 668.1h4.3v4.3h-4.3zM1088.0 671.8h4.3v4.3h-4.3zM1091.8 671.8h4.3v4.3h-4.3zM1110.3 671.8h4.3v4.3h-4.3zM1114.0 671.8h4.3v4.3h-4.3zM1121.4 671.8h4.3v4.3h-4.3zM1091.8 675.5h4.3v4.3h-4.3zM1099.2 675.5h4.3v4.3h-4.3zM1151.0 675.5h4.3v4.3h-4.3zM1258.5 675.5h4.3v4.3h-4.3zM1110.3 679.2h4.3v4.3h-4.3zM1154.7 679.2h4.3v4.3h-4.3zM1173.3 679.2h4.3v4.3h-4.3zM1240.0 679.2h4.3v4.3h-4.3zM1080.6 682.9h4.3v4.3h-4.3zM1128.8 682.9h4.3v4.3h-4.3zM1143.6 686.6h4.3v4.3h-4.3z"/>
<path fill="#e2dad5" d="M1143.6 482.8h4.3v4.3h-4.3zM1251.1 482.8h4.3v4.3h-4.3zM1099.2 486.5h4.3v4.3h-4.3zM1095.5 490.2h4.3v4.3h-4.3zM1106.6 490.2h4.3v4.3h-4.3zM1136.2 490.2h4.3v4.3h-4.3zM1139.9 490.2h4.3v4.3h-4.3zM1143.6 490.2h4.3v4.3h-4.3zM1202.9 490.2h4.3v4.3h-4.3zM1214.0 490.2h4.3v4.3h-4.3zM1058.4 493.9h4.3v4.3h-4.3zM1139.9 493.9h4.3v4.3h-4.3zM1210.3 493.9h4.3v4.3h-4.3zM1258.5 493.9h4.3v4.3h-4.3zM1058.4 497.6h4.3v4.3h-4.3zM1099.2 497.6h4.3v4.3h-4.3zM1169.6 497.6h4.3v4.3h-4.3zM1088.0 501.3h4.3v4.3h-4.3zM1125.1 501.3h4.3v4.3h-4.3zM1254.8 501.3h4.3v4.3h-4.3zM1088.0 505.0h4.3v4.3h-4.3zM1132.5 505.0h4.3v4.3h-4.3zM1180.7 505.0h4.3v4.3h-4.3zM1158.5 508.7h4.3v4.3h-4.3zM1180.7 508.7h4.3v4.3h-4.3zM1173.3 512.4h4.3v4.3h-4.3zM1177.0 512.4h4.3v4.3h-4.3zM1180.7 512.4h4.3v4.3h-4.3zM1214.0 512.4h4.3v4.3h-4.3zM1054.7 516.1h4.3v4.3h-4.3zM1058.4 516.1h4.3v4.3h-4.3zM1128.8 516.1h4.3v4.3h-4.3zM1162.2 516.1h4.3v4.3h-4.3zM1169.6 516.1h4.3v4.3h-4.3zM1177.0 516.1h4.3v4.3h-4.3zM1217.7 516.1h4.3v4.3h-4.3zM1232.6 516.1h4.3v4.3h-4.3zM1058.4 519.9h4.3v4.3h-4.3zM1091.8 519.9h4.3v4.3h-4.3zM1169.6 519.9h4.3v4.3h-4.3zM1236.3 519.9h4.3v4.3h-4.3zM1062.1 523.6h4.3v4.3h-4.3zM1236.3 523.6h4.3v4.3h-4.3zM1240.0 523.6h4.3v4.3h-4.3zM1095.5 527.3h4.3v4.3h-4.3zM1117.7 527.3h4.3v4.3h-4.3zM1125.1 527.3h4.3v4.3h-4.3zM1180.7 527.3h4.3v4.3h-4.3zM1195.5 527.3h4.3v4.3h-4.3zM1073.2 531.0h4.3v4.3h-4.3zM1102.9 531.0h4.3v4.3h-4.3zM1106.6 531.0h4.3v4.3h-4.3zM1162.2 531.0h4.3v4.3h-4.3zM1173.3 531.0h4.3v4.3h-4.3zM1195.5 531.0h4.3v4.3h-4.3zM1110.3 534.7h4.3v4.3h-4.3zM1106.6 538.4h4.3v4.3h-4.3zM1169.6 538.4h4.3v4.3h-4.3zM1188.1 538.4h4.3v4.3h-4.3zM1191.8 538.4h4.3v4.3h-4.3zM1199.2 538.4h4.3v4.3h-4.3zM1236.3 538.4h4.3v4.3h-4.3zM1247.4 538.4h4.3v4.3h-4.3zM1151.0 542.1h4.3v4.3h-4.3zM1169.6 542.1h4.3v4.3h-4.3zM1173.3 542.1h4.3v4.3h-4.3zM1177.0 542.1h4.3v4.3h-4.3zM1188.1 542.1h4.3v4.3h-4.3zM1191.8 542.1h4.3v4.3h-4.3zM1199.2 542.1h4.3v4.3h-4.3zM1058.4 545.8h4.3v4.3h-4.3zM1132.5 545.8h4.3v4.3h-4.3zM1151.0 545.8h4.3v4.3h-4.3zM1136.2 553.2h4.3v4.3h-4.3zM1139.9 553.2h4.3v4.3h-4.3zM1240.0 553.2h4.3v4.3h-4.3zM1247.4 553.2h4.3v4.3h-4.3zM1095.5 556.9h4.3v4.3h-4.3zM1136.2 556.9h4.3v4.3h-4.3zM1139.9 556.9h4.3v4.3h-4.3zM1158.5 556.9h4.3v4.3h-4.3zM1162.2 560.6h4.3v4.3h-4.3zM1069.5 564.3h4.3v4.3h-4.3zM1091.8 564.3h4.3v4.3h-4.3zM1128.8 564.3h4.3v4.3h-4.3zM1147.3 564.3h4.3v4.3h-4.3zM1165.9 564.3h4.3v4.3h-4.3zM1191.8 564.3h4.3v4.3h-4.3zM1195.5 564.3h4.3v4.3h-4.3zM1199.2 564.3h4.3v4.3h-4.3zM1132.5 568.0h4.3v4.3h-4.3zM1136.2 568.0h4.3v4.3h-4.3zM1143.6 568.0h4.3v4.3h-4.3zM1199.2 568.0h4.3v4.3h-4.3zM1058.4 571.7h4.3v4.3h-4.3zM1139.9 571.7h4.3v4.3h-4.3zM1258.5 571.7h4.3v4.3h-4.3zM1095.5 575.4h4.3v4.3h-4.3zM1195.5 575.4h4.3v4.3h-4.3zM1232.6 575.4h4.3v4.3h-4.3zM1232.6 579.1h4.3v4.3h-4.3zM1062.1 582.8h4.3v4.3h-4.3zM1258.5 582.8h4.3v4.3h-4.3zM1165.9 586.6h4.3v4.3h-4.3zM1169.6 586.6h4.3v4.3h-4.3zM1177.0 586.6h4.3v4.3h-4.3zM1117.7 590.3h4.3v4.3h-4.3zM1136.2 590.3h4.3v4.3h-4.3zM1147.3 590.3h4.3v4.3h-4.3zM1195.5 590.3h4.3v4.3h-4.3zM1232.6 590.3h4.3v4.3h-4.3zM1058.4 594.0h4.3v4.3h-4.3zM1114.0 594.0h4.3v4.3h-4.3zM1128.8 594.0h4.3v4.3h-4.3zM1165.9 594.0h4.3v4.3h-4.3zM1191.8 594.0h4.3v4.3h-4.3zM1232.6 594.0h4.3v4.3h-4.3zM1199.2 597.7h4.3v4.3h-4.3zM1062.1 601.4h4.3v4.3h-4.3zM1125.1 601.4h4.3v4.3h-4.3zM1054.7 605.1h4.3v4.3h-4.3zM1095.5 605.1h4.3v4.3h-4.3zM1102.9 605.1h4.3v4.3h-4.3zM1151.0 605.1h4.3v4.3h-4.3zM1154.7 605.1h4.3v4.3h-4.3zM1243.7 605.1h4.3v4.3h-4.3zM1058.4 608.8h4.3v4.3h-4.3zM1062.1 608.8h4.3v4.3h-4.3zM1065.8 608.8h4.3v4.3h-4.3zM1106.6 608.8h4.3v4.3h-4.3zM1154.7 608.8h4.3v4.3h-4.3zM1062.1 612.5h4.3v4.3h-4.3zM1102.9 612.5h4.3v4.3h-4.3zM1062.1 616.2h4.3v4.3h-4.3zM1095.5 616.2h4.3v4.3h-4.3zM1151.0 616.2h4.3v4.3h-4.3zM1199.2 616.2h4.3v4.3h-4.3zM1202.9 616.2h4.3v4.3h-4.3zM1247.4 616.2h4.3v4.3h-4.3zM1254.8 616.2h4.3v4.3h-4.3zM1091.8 619.9h4.3v4.3h-4.3zM1136.2 619.9h4.3v4.3h-4.3zM1132.5 623.6h4.3v4.3h-4.3zM1147.3 623.6h4.3v4.3h-4.3zM1154.7 623.6h4.3v4.3h-4.3zM1184.4 623.6h4.3v4.3h-4.3zM1062.1 627.3h4.3v4.3h-4.3zM1173.3 627.3h4.3v4.3h-4.3zM1180.7 627.3h4.3v4.3h-4.3zM1206.6 627.3h4.3v4.3h-4.3zM1251.1 627.3h4.3v4.3h-4.3zM1125.1 631.0h4.3v4.3h-4.3zM1151.0 631.0h4.3v4.3h-4.3zM1158.5 631.0h4.3v4.3h-4.3zM1165.9 631.0h4.3v4.3h-4.3zM1206.6 631.0h4.3v4.3h-4.3zM1210.3 631.0h4.3v4.3h-4.3zM1225.1 631.0h4.3v4.3h-4.3zM1069.5 634.7h4.3v4.3h-4.3zM1125.1 634.7h4.3v4.3h-4.3zM1139.9 634.7h4.3v4.3h-4.3zM1173.3 634.7h4.3v4.3h-4.3zM1180.7 634.7h4.3v4.3h-4.3zM1191.8 634.7h4.3v4.3h-4.3zM1054.7 638.4h4.3v4.3h-4.3zM1058.4 638.4h4.3v4.3h-4.3zM1132.5 638.4h4.3v4.3h-4.3zM1173.3 638.4h4.3v4.3h-4.3zM1088.0 642.1h4.3v4.3h-4.3zM1091.8 642.1h4.3v4.3h-4.3zM1099.2 642.1h4.3v4.3h-4.3zM1121.4 642.1h4.3v4.3h-4.3zM1191.8 642.1h4.3v4.3h-4.3zM1195.5 642.1h4.3v4.3h-4.3zM1236.3 642.1h4.3v4.3h-4.3zM1240.0 642.1h4.3v4.3h-4.3zM1095.5 645.8h4.3v4.3h-4.3zM1240.0 645.8h4.3v4.3h-4.3zM1139.9 649.5h4.3v4.3h-4.3zM1147.3 649.5h4.3v4.3h-4.3zM1151.0 649.5h4.3v4.3h-4.3zM1217.7 649.5h4.3v4.3h-4.3zM1121.4 653.2h4.3v4.3h-4.3zM1080.6 657.0h4.3v4.3h-4.3zM1102.9 657.0h4.3v4.3h-4.3zM1117.7 657.0h4.3v4.3h-4.3zM1206.6 657.0h4.3v4.3h-4.3zM1221.4 657.0h4.3v4.3h-4.3zM1058.4 660.7h4.3v4.3h-4.3zM1162.2 660.7h4.3v4.3h-4.3zM1173.3 660.7h4.3v4.3h-4.3zM1084.3 664.4h4.3v4.3h-4.3zM1214.0 668.1h4.3v4.3h-4.3zM1228.9 668.1h4.3v4.3h-4.3zM1236.3 668.1h4.3v4.3h-4.3zM1247.4 668.1h4.3v4.3h-4.3zM1217.7 671.8h4.3v4.3h-4.3zM1095.5 675.5h4.3v4.3h-4.3zM1114.0 675.5h4.3v4.3h-4.3zM1180.7 679.2h4.3v4.3h-4.3zM1165.9 682.9h4.3v4.3h-4.3zM1217.7 682.9h4.3v4.3h-4.3zM1240.0 682.9h4.3v4.3h-4.3zM1177.0 686.6h4.3v4.3h-4.3z"/>
<path fill="#e7d7ce" d="M1054.7 482.8h4.3v4.3h-4.3zM1169.6 482.8h4.3v4.3h-4.3zM1214.0 482.8h4.3v4.3h-4.3zM1254.8 482.8h4.3v4.3h-4.3zM1102.9 486.5h4.3v4.3h-4.3zM1139.9 486.5h4.3v4.3h-4.3zM1199.2 486.5h4.3v4.3h-4.3zM1065.8 490.2h4.3v4.3h-4.3zM1099.2 490.2h4.3v4.3h-4.3zM1102.9 490.2h4.3v4.3h-4.3zM1062.1 493.9h4.3v4.3h-4.3zM1099.2 493.9h4.3v4.3h-4.3zM1102.9 493.9h4.3v4.3h-4.3zM1106.6 493.9h4.3v4.3h-4.3zM1165.9 493.9h4.3v4.3h-4.3zM1169.6 493.9h4.3v4.3h-4.3zM1206.6 493.9h4.3v4.3h-4.3zM1243.7 493.9h4.3v4.3h-4.3zM1102.9 497.6h4.3v4.3h-4.3zM1154.7 497.6h4.3v4.3h-4.3zM1165.9 497.6h4.3v4.3h-4.3zM1247.4 497.6h4.3v4.3h-4.3zM1258.5 497.6h4.3v4.3h-4.3zM1136.2 501.3h4.3v4.3h-4.3zM1165.9 501.3h4.3v4.3h-4.3zM1206.6 501.3h4.3v4.3h-4.3zM1084.3 505.0h4.3v4.3h-4.3zM1158.5 505.0h4.3v4.3h-4.3zM1206.6 505.0h4.3v4.3h-4.3zM1199.2 508.7h4.3v4.3h-4.3zM1202.9 508.7h4.3v4.3h-4.3zM1214.0 508.7h4.3v4.3h-4.3zM1088.0 512.4h4.3v4.3h-4.3zM1154.7 512.4h4.3v4.3h-4.3zM1158.5 512.4h4.3v4.3h-4.3zM1232.6 512.4h4.3v4.3h-4.3zM1154.7 516.1h4.3v4.3h-4.3zM1158.5 516.1h4.3v4.3h-4.3zM1173.3 516.1h4.3v4.3h-4.3zM1214.0 516.1h4.3v4.3h-4.3zM1121.4 519.9h4.3v4.3h-4.3zM1125.1 519.9h4.3v4.3h-4.3zM1154.7 519.9h4.3v4.3h-4.3zM1158.5 519.9h4.3v4.3h-4.3zM1206.6 519.9h4.3v4.3h-4.3zM1058.4 523.6h4.3v4.3h-4.3zM1121.4 523.6h4.3v4.3h-4.3zM1125.1 523.6h4.3v4.3h-4.3zM1139.9 523.6h4.3v4.3h-4.3zM1191.8 523.6h4.3v4.3h-4.3zM1228.9 523.6h4.3v4.3h-4.3zM1073.2 527.3h4.3v4.3h-4.3zM1121.4 527.3h4.3v4.3h-4.3zM1243.7 527.3h4.3v4.3h-4.3zM1062.1 531.0h4.3v4.3h-4.3zM1143.6 531.0h4.3v4.3h-4.3zM1228.9 531.0h4.3v4.3h-4.3zM1073.2 534.7h4.3v4.3h-4.3zM1106.6 534.7h4.3v4.3h-4.3zM1165.9 534.7h4.3v4.3h-4.3zM1195.5 534.7h4.3v4.3h-4.3zM1195.5 538.4h4.3v4.3h-4.3zM1232.6 538.4h4.3v4.3h-4.3zM1106.6 542.1h4.3v4.3h-4.3zM1206.6 545.8h4.3v4.3h-4.3zM1240.0 545.8h4.3v4.3h-4.3zM1076.9 549.5h4.3v4.3h-4.3zM1180.7 549.5h4.3v4.3h-4.3zM1062.1 553.2h4.3v4.3h-4.3zM1080.6 553.2h4.3v4.3h-4.3zM1177.0 553.2h4.3v4.3h-4.3zM1180.7 553.2h4.3v4.3h-4.3zM1117.7 556.9h4.3v4.3h-4.3zM1206.6 556.9h4.3v4.3h-4.3zM1080.6 560.6h4.3v4.3h-4.3zM1095.5 560.6h4.3v4.3h-4.3zM1125.1 560.6h4.3v4.3h-4.3zM1128.8 560.6h4.3v4.3h-4.3zM1202.9 560.6h4.3v4.3h-4.3zM1206.6 560.6h4.3v4.3h-4.3zM1243.7 560.6h4.3v4.3h-4.3zM1143.6 564.3h4.3v4.3h-4.3zM1202.9 564.3h4.3v4.3h-4.3zM1206.6 564.3h4.3v4.3h-4.3zM1210.3 564.3h4.3v4.3h-4.3zM1243.7 564.3h4.3v4.3h-4.3zM1128.8 568.0h4.3v4.3h-4.3zM1147.3 568.0h4.3v4.3h-4.3zM1195.5 568.0h4.3v4.3h-4.3zM1240.0 568.0h4.3v4.3h-4.3zM1062.1 571.7h4.3v4.3h-4.3zM1076.9 571.7h4.3v4.3h-4.3zM1095.5 571.7h4.3v4.3h-4.3zM1132.5 571.7h4.3v4.3h-4.3zM1136.2 571.7h4.3v4.3h-4.3zM1076.9 575.4h4.3v4.3h-4.3zM1091.8 575.4h4.3v4.3h-4.3zM1136.2 575.4h4.3v4.3h-4.3zM1228.9 575.4h4.3v4.3h-4.3zM1258.5 575.4h4.3v4.3h-4.3zM1065.8 579.1h4.3v4.3h-4.3zM1095.5 579.1h4.3v4.3h-4.3zM1191.8 579.1h4.3v4.3h-4.3zM1243.7 579.1h4.3v4.3h-4.3zM1065.8 582.8h4.3v4.3h-4.3zM1099.2 582.8h4.3v4.3h-4.3zM1062.1 586.6h4.3v4.3h-4.3zM1232.6 586.6h4.3v4.3h-4.3zM1254.8 586.6h4.3v4.3h-4.3zM1106.6 590.3h4.3v4.3h-4.3zM1128.8 590.3h4.3v4.3h-4.3zM1132.5 590.3h4.3v4.3h-4.3zM1165.9 590.3h4.3v4.3h-4.3zM1184.4 590.3h4.3v4.3h-4.3zM1251.1 590.3h4.3v4.3h-4.3zM1195.5 594.0h4.3v4.3h-4.3zM1236.3 594.0h4.3v4.3h-4.3zM1240.0 597.7h4.3v4.3h-4.3zM1154.7 601.4h4.3v4.3h-4.3zM1106.6 605.1h4.3v4.3h-4.3zM1121.4 605.1h4.3v4.3h-4.3zM1084.3 608.8h4.3v4.3h-4.3zM1151.0 608.8h4.3v4.3h-4.3zM1199.2 608.8h4.3v4.3h-4.3zM1073.2 612.5h4.3v4.3h-4.3zM1076.9 612.5h4.3v4.3h-4.3zM1088.0 612.5h4.3v4.3h-4.3zM1199.2 612.5h4.3v4.3h-4.3zM1132.5 616.2h4.3v4.3h-4.3zM1136.2 616.2h4.3v4.3h-4.3zM1125.1 619.9h4.3v4.3h-4.3zM1128.8 619.9h4.3v4.3h-4.3zM1154.7 619.9h4.3v4.3h-4.3zM1206.6 623.6h4.3v4.3h-4.3zM1058.4 627.3h4.3v4.3h-4.3zM1088.0 627.3h4.3v4.3h-4.3zM1177.0 627.3h4.3v4.3h-4.3zM1162.2 631.0h4.3v4.3h-4.3zM1169.6 631.0h4.3v4.3h-4.3zM1177.0 631.0h4.3v4.3h-4.3zM1080.6 634.7h4.3v4.3h-4.3zM1154.7 634.7h4.3v4.3h-4.3zM1169.6 634.7h4.3v4.3h-4.3zM1184.4 634.7h4.3v4.3h-4.3zM1188.1 634.7h4.3v4.3h-4.3zM1251.1 634.7h4.3v4.3h-4.3zM1254.8 634.7h4.3v4.3h-4.3zM1102.9 638.4h4.3v4.3h-4.3zM1154.7 638.4h4.3v4.3h-4.3zM1169.6 638.4h4.3v4.3h-4.3zM1188.1 638.4h4.3v4.3h-4.3zM1191.8 638.4h4.3v4.3h-4.3zM1254.8 638.4h4.3v4.3h-4.3zM1258.5 638.4h4.3v4.3h-4.3zM1095.5 642.1h4.3v4.3h-4.3zM1147.3 645.8h4.3v4.3h-4.3zM1191.8 645.8h4.3v4.3h-4.3zM1221.4 645.8h4.3v4.3h-4.3zM1236.3 645.8h4.3v4.3h-4.3zM1128.8 649.5h4.3v4.3h-4.3zM1188.1 649.5h4.3v4.3h-4.3zM1117.7 653.2h4.3v4.3h-4.3zM1128.8 653.2h4.3v4.3h-4.3zM1151.0 653.2h4.3v4.3h-4.3zM1158.5 653.2h4.3v4.3h-4.3zM1162.2 653.2h4.3v4.3h-4.3zM1106.6 657.0h4.3v4.3h-4.3zM1121.4 657.0h4.3v4.3h-4.3zM1162.2 657.0h4.3v4.3h-4.3zM1202.9 657.0h4.3v4.3h-4.3zM1243.7 657.0h4.3v4.3h-4.3zM1225.1 660.7h4.3v4.3h-4.3zM1062.1 664.4h4.3v4.3h-4.3zM1069.5 664.4h4.3v4.3h-4.3zM1073.2 664.4h4.3v4.3h-4.3zM1091.8 664.4h4.3v4.3h-4.3zM1154.7 668.1h4.3v4.3h-4.3zM1232.6 668.1h4.3v4.3h-4.3zM1073.2 671.8h4.3v4.3h-4.3zM1254.8 675.5h4.3v4.3h-4.3zM1073.2 679.2h4.3v4.3h-4.3zM1165.9 679.2h4.3v4.3h-4.3zM1169.6 679.2h4.3v4.3h-4.3zM1217.7 679.2h4.3v4.3h-4.3zM1243.7 679.2h4.3v4.3h-4.3zM1258.5 679.2h4.3v4.3h-4.3zM1106.6 682.9h4.3v4.3h-4.3zM1151.0 682.9h4.3v4.3h-4.3zM1169.6 682.9h4.3v4.3h-4.3zM1173.3 682.9h4.3v4.3h-4.3zM1243.7 682.9h4.3v4.3h-4.3zM1080.6 686.6h4.3v4.3h-4.3zM1147.3 686.6h4.3v4.3h-4.3zM1165.9 686.6h4.3v4.3h-4.3zM1169.6 686.6h4.3v4.3h-4.3zM1173.3 686.6h4.3v4.3h-4.3zM1214.0 686.6h4.3v4.3h-4.3z"/>
<path fill="#ecd3c5" d="M1236.3 482.8h4.3v4.3h-4.3zM1114.0 486.5h4.3v4.3h-4.3zM1069.5 490.2h4.3v4.3h-4.3zM1169.6 490.2h4.3v4.3h-4.3zM1217.7 490.2h4.3v4.3h-4.3zM1243.7 490.2h4.3v4.3h-4.3zM1136.2 493.9h4.3v4.3h-4.3zM1162.2 493.9h4.3v4.3h-4.3zM1173.3 493.9h4.3v4.3h-4.3zM1125.1 497.6h4.3v4.3h-4.3zM1158.5 497.6h4.3v4.3h-4.3zM1132.5 501.3h4.3v4.3h-4.3zM1147.3 501.3h4.3v4.3h-4.3zM1158.5 501.3h4.3v4.3h-4.3zM1162.2 501.3h4.3v4.3h-4.3zM1136.2 505.0h4.3v4.3h-4.3zM1202.9 505.0h4.3v4.3h-4.3zM1132.5 508.7h4.3v4.3h-4.3zM1258.5 508.7h4.3v4.3h-4.3zM1184.4 512.4h4.3v4.3h-4.3zM1132.5 516.1h4.3v4.3h-4.3zM1206.6 516.1h4.3v4.3h-4.3zM1210.3 516.1h4.3v4.3h-4.3zM1136.2 519.9h4.3v4.3h-4.3zM1162.2 519.9h4.3v4.3h-4.3zM1165.9 519.9h4.3v4.3h-4.3zM1210.3 519.9h4.3v4.3h-4.3zM1225.1 519.9h4.3v4.3h-4.3zM1065.8 523.6h4.3v4.3h-4.3zM1117.7 523.6h4.3v4.3h-4.3zM1225.1 523.6h4.3v4.3h-4.3zM1069.5 527.3h4.3v4.3h-4.3zM1076.9 527.3h4.3v4.3h-4.3zM1162.2 527.3h4.3v4.3h-4.3zM1228.9 527.3h4.3v4.3h-4.3zM1076.9 534.7h4.3v4.3h-4.3zM1169.6 534.7h4.3v4.3h-4.3zM1173.3 534.7h4.3v4.3h-4.3zM1228.9 534.7h4.3v4.3h-4.3zM1247.4 534.7h4.3v4.3h-4.3zM1202.9 542.1h4.3v4.3h-4.3zM1236.3 542.1h4.3v4.3h-4.3zM1240.0 542.1h4.3v4.3h-4.3zM1062.1 545.8h4.3v4.3h-4.3zM1173.3 545.8h4.3v4.3h-4.3zM1180.7 545.8h4.3v4.3h-4.3zM1080.6 549.5h4.3v4.3h-4.3zM1110.3 549.5h4.3v4.3h-4.3zM1054.7 553.2h4.3v4.3h-4.3zM1084.3 553.2h4.3v4.3h-4.3zM1088.0 553.2h4.3v4.3h-4.3zM1158.5 553.2h4.3v4.3h-4.3zM1210.3 553.2h4.3v4.3h-4.3zM1236.3 553.2h4.3v4.3h-4.3zM1210.3 556.9h4.3v4.3h-4.3zM1210.3 560.6h4.3v4.3h-4.3zM1073.2 564.3h4.3v4.3h-4.3zM1125.1 564.3h4.3v4.3h-4.3zM1169.6 564.3h4.3v4.3h-4.3zM1240.0 564.3h4.3v4.3h-4.3zM1076.9 568.0h4.3v4.3h-4.3zM1125.1 568.0h4.3v4.3h-4.3zM1173.3 568.0h4.3v4.3h-4.3zM1188.1 568.0h4.3v4.3h-4.3zM1236.3 568.0h4.3v4.3h-4.3zM1065.8 571.7h4.3v4.3h-4.3zM1069.5 571.7h4.3v4.3h-4.3zM1128.8 571.7h4.3v4.3h-4.3zM1173.3 571.7h4.3v4.3h-4.3zM1065.8 575.4h4.3v4.3h-4.3zM1132.5 575.4h4.3v4.3h-4.3zM1173.3 575.4h4.3v4.3h-4.3zM1251.1 575.4h4.3v4.3h-4.3zM1099.2 579.1h4.3v4.3h-4.3zM1132.5 582.8h4.3v4.3h-4.3zM1173.3 582.8h4.3v4.3h-4.3zM1065.8 586.6h4.3v4.3h-4.3zM1099.2 586.6h4.3v4.3h-4.3zM1102.9 586.6h4.3v4.3h-4.3zM1162.2 586.6h4.3v4.3h-4.3zM1184.4 586.6h4.3v4.3h-4.3zM1195.5 586.6h4.3v4.3h-4.3zM1062.1 590.3h4.3v4.3h-4.3zM1102.9 590.3h4.3v4.3h-4.3zM1114.0 590.3h4.3v4.3h-4.3zM1121.4 590.3h4.3v4.3h-4.3zM1151.0 590.3h4.3v4.3h-4.3zM1247.4 590.3h4.3v4.3h-4.3zM1254.8 590.3h4.3v4.3h-4.3zM1258.5 590.3h4.3v4.3h-4.3zM1062.1 594.0h4.3v4.3h-4.3zM1143.6 594.0h4.3v4.3h-4.3zM1247.4 594.0h4.3v4.3h-4.3zM1251.1 594.0h4.3v4.3h-4.3zM1254.8 594.0h4.3v4.3h-4.3zM1062.1 597.7h4.3v4.3h-4.3zM1158.5 597.7h4.3v4.3h-4.3zM1251.1 597.7h4.3v4.3h-4.3zM1254.8 597.7h4.3v4.3h-4.3zM1202.9 605.1h4.3v4.3h-4.3zM1147.3 616.2h4.3v4.3h-4.3zM1206.6 616.2h4.3v4.3h-4.3zM1062.1 619.9h4.3v4.3h-4.3zM1132.5 619.9h4.3v4.3h-4.3zM1206.6 619.9h4.3v4.3h-4.3zM1217.7 619.9h4.3v4.3h-4.3zM1151.0 623.6h4.3v4.3h-4.3zM1158.5 623.6h4.3v4.3h-4.3zM1125.1 627.3h4.3v4.3h-4.3zM1210.3 627.3h4.3v4.3h-4.3zM1254.8 627.3h4.3v4.3h-4.3zM1084.3 631.0h4.3v4.3h-4.3zM1173.3 631.0h4.3v4.3h-4.3zM1080.6 638.4h4.3v4.3h-4.3zM1110.3 638.4h4.3v4.3h-4.3zM1125.1 638.4h4.3v4.3h-4.3zM1054.7 642.1h4.3v4.3h-4.3zM1080.6 642.1h4.3v4.3h-4.3zM1084.3 642.1h4.3v4.3h-4.3zM1125.1 642.1h4.3v4.3h-4.3zM1114.0 645.8h4.3v4.3h-4.3zM1117.7 645.8h4.3v4.3h-4.3zM1128.8 645.8h4.3v4.3h-4.3zM1132.5 645.8h4.3v4.3h-4.3zM1080.6 649.5h4.3v4.3h-4.3zM1114.0 649.5h4.3v4.3h-4.3zM1121.4 649.5h4.3v4.3h-4.3zM1132.5 649.5h4.3v4.3h-4.3zM1221.4 649.5h4.3v4.3h-4.3zM1114.0 653.2h4.3v4.3h-4.3zM1147.3 657.0h4.3v4.3h-4.3zM1165.9 657.0h4.3v4.3h-4.3zM1228.9 657.0h4.3v4.3h-4.3zM1054.7 660.7h4.3v4.3h-4.3zM1169.6 660.7h4.3v4.3h-4.3zM1202.9 660.7h4.3v4.3h-4.3zM1206.6 660.7h4.3v4.3h-4.3zM1228.9 660.7h4.3v4.3h-4.3zM1158.5 664.4h4.3v4.3h-4.3zM1162.2 664.4h4.3v4.3h-4.3zM1206.6 664.4h4.3v4.3h-4.3zM1210.3 664.4h4.3v4.3h-4.3zM1084.3 668.1h4.3v4.3h-4.3zM1210.3 668.1h4.3v4.3h-4.3zM1177.0 671.8h4.3v4.3h-4.3zM1210.3 671.8h4.3v4.3h-4.3zM1243.7 671.8h4.3v4.3h-4.3zM1088.0 675.5h4.3v4.3h-4.3zM1099.2 679.2h4.3v4.3h-4.3zM1054.7 682.9h4.3v4.3h-4.3zM1136.2 682.9h4.3v4.3h-4.3zM1162.2 682.9h4.3v4.3h-4.3zM1054.7 686.6h4.3v4.3h-4.3z"/>
<path fill="#efcebd" d="M1136.2 486.5h4.3v4.3h-4.3zM1117.7 490.2h4.3v4.3h-4.3zM1065.8 493.9h4.3v4.3h-4.3zM1069.5 493.9h4.3v4.3h-4.3zM1132.5 493.9h4.3v4.3h-4.3zM1062.1 497.6h4.3v4.3h-4.3zM1076.9 497.6h4.3v4.3h-4.3zM1128.8 497.6h4.3v4.3h-4.3zM1136.2 497.6h4.3v4.3h-4.3zM1162.2 497.6h4.3v4.3h-4.3zM1177.0 497.6h4.3v4.3h-4.3zM1206.6 497.6h4.3v4.3h-4.3zM1225.1 497.6h4.3v4.3h-4.3zM1228.9 501.3h4.3v4.3h-4.3zM1058.4 505.0h4.3v4.3h-4.3zM1254.8 505.0h4.3v4.3h-4.3zM1058.4 508.7h4.3v4.3h-4.3zM1154.7 508.7h4.3v4.3h-4.3zM1206.6 508.7h4.3v4.3h-4.3zM1151.0 512.4h4.3v4.3h-4.3zM1210.3 512.4h4.3v4.3h-4.3zM1151.0 516.1h4.3v4.3h-4.3zM1062.1 519.9h4.3v4.3h-4.3zM1221.4 519.9h4.3v4.3h-4.3zM1073.2 523.6h4.3v4.3h-4.3zM1158.5 523.6h4.3v4.3h-4.3zM1162.2 523.6h4.3v4.3h-4.3zM1165.9 523.6h4.3v4.3h-4.3zM1143.6 527.3h4.3v4.3h-4.3zM1076.9 531.0h4.3v4.3h-4.3zM1091.8 531.0h4.3v4.3h-4.3zM1099.2 531.0h4.3v4.3h-4.3zM1102.9 534.7h4.3v4.3h-4.3zM1162.2 534.7h4.3v4.3h-4.3zM1058.4 538.4h4.3v4.3h-4.3zM1151.0 538.4h4.3v4.3h-4.3zM1228.9 538.4h4.3v4.3h-4.3zM1254.8 542.1h4.3v4.3h-4.3zM1054.7 545.8h4.3v4.3h-4.3zM1177.0 545.8h4.3v4.3h-4.3zM1177.0 549.5h4.3v4.3h-4.3zM1258.5 549.5h4.3v4.3h-4.3zM1095.5 553.2h4.3v4.3h-4.3zM1114.0 553.2h4.3v4.3h-4.3zM1228.9 556.9h4.3v4.3h-4.3zM1232.6 556.9h4.3v4.3h-4.3zM1236.3 556.9h4.3v4.3h-4.3zM1243.7 556.9h4.3v4.3h-4.3zM1177.0 560.6h4.3v4.3h-4.3zM1214.0 560.6h4.3v4.3h-4.3zM1076.9 564.3h4.3v4.3h-4.3zM1095.5 564.3h4.3v4.3h-4.3zM1099.2 564.3h4.3v4.3h-4.3zM1173.3 564.3h4.3v4.3h-4.3zM1177.0 564.3h4.3v4.3h-4.3zM1236.3 564.3h4.3v4.3h-4.3zM1095.5 568.0h4.3v4.3h-4.3zM1191.8 568.0h4.3v4.3h-4.3zM1232.6 568.0h4.3v4.3h-4.3zM1191.8 571.7h4.3v4.3h-4.3zM1195.5 571.7h4.3v4.3h-4.3zM1225.1 571.7h4.3v4.3h-4.3zM1069.5 575.4h4.3v4.3h-4.3zM1073.2 575.4h4.3v4.3h-4.3zM1099.2 575.4h4.3v4.3h-4.3zM1191.8 575.4h4.3v4.3h-4.3zM1076.9 579.1h4.3v4.3h-4.3zM1080.6 579.1h4.3v4.3h-4.3zM1173.3 579.1h4.3v4.3h-4.3zM1258.5 579.1h4.3v4.3h-4.3zM1102.9 582.8h4.3v4.3h-4.3zM1191.8 582.8h4.3v4.3h-4.3zM1236.3 582.8h4.3v4.3h-4.3zM1132.5 586.6h4.3v4.3h-4.3zM1158.5 586.6h4.3v4.3h-4.3zM1251.1 586.6h4.3v4.3h-4.3zM1125.1 590.3h4.3v4.3h-4.3zM1154.7 590.3h4.3v4.3h-4.3zM1158.5 590.3h4.3v4.3h-4.3zM1188.1 590.3h4.3v4.3h-4.3zM1191.8 590.3h4.3v4.3h-4.3zM1139.9 594.0h4.3v4.3h-4.3zM1158.5 594.0h4.3v4.3h-4.3zM1162.2 594.0h4.3v4.3h-4.3zM1258.5 594.0h4.3v4.3h-4.3zM1065.8 597.7h4.3v4.3h-4.3zM1258.5 597.7h4.3v4.3h-4.3zM1065.8 601.4h4.3v4.3h-4.3zM1095.5 601.4h4.3v4.3h-4.3zM1106.6 601.4h4.3v4.3h-4.3zM1128.8 601.4h4.3v4.3h-4.3zM1254.8 601.4h4.3v4.3h-4.3zM1258.5 601.4h4.3v4.3h-4.3zM1065.8 605.1h4.3v4.3h-4.3zM1091.8 605.1h4.3v4.3h-4.3zM1099.2 605.1h4.3v4.3h-4.3zM1125.1 605.1h4.3v4.3h-4.3zM1073.2 608.8h4.3v4.3h-4.3zM1076.9 608.8h4.3v4.3h-4.3zM1080.6 608.8h4.3v4.3h-4.3zM1151.0 612.5h4.3v4.3h-4.3zM1210.3 612.5h4.3v4.3h-4.3zM1258.5 612.5h4.3v4.3h-4.3zM1102.9 616.2h4.3v4.3h-4.3zM1139.9 616.2h4.3v4.3h-4.3zM1210.3 616.2h4.3v4.3h-4.3zM1251.1 616.2h4.3v4.3h-4.3zM1254.8 623.6h4.3v4.3h-4.3zM1154.7 627.3h4.3v4.3h-4.3zM1058.4 631.0h4.3v4.3h-4.3zM1214.0 631.0h4.3v4.3h-4.3zM1221.4 631.0h4.3v4.3h-4.3zM1254.8 631.0h4.3v4.3h-4.3zM1054.7 634.7h4.3v4.3h-4.3zM1099.2 634.7h4.3v4.3h-4.3zM1114.0 634.7h4.3v4.3h-4.3zM1158.5 634.7h4.3v4.3h-4.3zM1217.7 634.7h4.3v4.3h-4.3zM1221.4 634.7h4.3v4.3h-4.3zM1076.9 638.4h4.3v4.3h-4.3zM1084.3 638.4h4.3v4.3h-4.3zM1095.5 638.4h4.3v4.3h-4.3zM1177.0 638.4h4.3v4.3h-4.3zM1184.4 638.4h4.3v4.3h-4.3zM1228.9 638.4h4.3v4.3h-4.3zM1188.1 642.1h4.3v4.3h-4.3zM1080.6 645.8h4.3v4.3h-4.3zM1188.1 645.8h4.3v4.3h-4.3zM1180.7 649.5h4.3v4.3h-4.3zM1184.4 649.5h4.3v4.3h-4.3zM1221.4 653.2h4.3v4.3h-4.3zM1225.1 653.2h4.3v4.3h-4.3zM1240.0 653.2h4.3v4.3h-4.3zM1054.7 657.0h4.3v4.3h-4.3zM1158.5 657.0h4.3v4.3h-4.3zM1225.1 657.0h4.3v4.3h-4.3zM1121.4 664.4h4.3v4.3h-4.3zM1154.7 664.4h4.3v4.3h-4.3zM1188.1 664.4h4.3v4.3h-4.3zM1228.9 664.4h4.3v4.3h-4.3zM1180.7 668.1h4.3v4.3h-4.3zM1243.7 668.1h4.3v4.3h-4.3zM1214.0 671.8h4.3v4.3h-4.3zM1217.7 675.5h4.3v4.3h-4.3zM1243.7 675.5h4.3v4.3h-4.3zM1080.6 679.2h4.3v4.3h-4.3zM1110.3 682.9h4.3v4.3h-4.3zM1125.1 682.9h4.3v4.3h-4.3zM1214.0 682.9h4.3v4.3h-4.3zM1110.3 686.6h4.3v4.3h-4.3zM1114.0 686.6h4.3v4.3h-4.3zM1121.4 686.6h4.3v4.3h-4.3zM1125.1 686.6h4.3v4.3h-4.3zM1210.3 686.6h4.3v4.3h-4.3z"/>
<path fill="#f2cab5" d="M1132.5 482.8h4.3v4.3h-4.3zM1136.2 482.8h4.3v4.3h-4.3zM1139.9 482.8h4.3v4.3h-4.3zM1195.5 482.8h4.3v4.3h-4.3zM1132.5 490.2h4.3v4.3h-4.3zM1199.2 490.2h4.3v4.3h-4.3zM1232.6 490.2h4.3v4.3h-4.3zM1073.2 493.9h4.3v4.3h-4.3zM1128.8 493.9h4.3v4.3h-4.3zM1202.9 493.9h4.3v4.3h-4.3zM1225.1 493.9h4.3v4.3h-4.3zM1065.8 497.6h4.3v4.3h-4.3zM1132.5 497.6h4.3v4.3h-4.3zM1236.3 497.6h4.3v4.3h-4.3zM1243.7 497.6h4.3v4.3h-4.3zM1080.6 501.3h4.3v4.3h-4.3zM1128.8 501.3h4.3v4.3h-4.3zM1154.7 501.3h4.3v4.3h-4.3zM1062.1 505.0h4.3v4.3h-4.3zM1139.9 505.0h4.3v4.3h-4.3zM1154.7 505.0h4.3v4.3h-4.3zM1199.2 505.0h4.3v4.3h-4.3zM1232.6 505.0h4.3v4.3h-4.3zM1232.6 508.7h4.3v4.3h-4.3zM1058.4 512.4h4.3v4.3h-4.3zM1199.2 512.4h4.3v4.3h-4.3zM1258.5 512.4h4.3v4.3h-4.3zM1236.3 516.1h4.3v4.3h-4.3zM1151.0 519.9h4.3v4.3h-4.3zM1069.5 523.6h4.3v4.3h-4.3zM1143.6 523.6h4.3v4.3h-4.3zM1195.5 523.6h4.3v4.3h-4.3zM1091.8 527.3h4.3v4.3h-4.3zM1225.1 527.3h4.3v4.3h-4.3zM1088.0 531.0h4.3v4.3h-4.3zM1084.3 534.7h4.3v4.3h-4.3zM1147.3 534.7h4.3v4.3h-4.3zM1199.2 534.7h4.3v4.3h-4.3zM1225.1 534.7h4.3v4.3h-4.3zM1165.9 538.4h4.3v4.3h-4.3zM1080.6 542.1h4.3v4.3h-4.3zM1165.9 542.1h4.3v4.3h-4.3zM1221.4 542.1h4.3v4.3h-4.3zM1258.5 542.1h4.3v4.3h-4.3zM1065.8 545.8h4.3v4.3h-4.3zM1106.6 545.8h4.3v4.3h-4.3zM1169.6 545.8h4.3v4.3h-4.3zM1158.5 549.5h4.3v4.3h-4.3zM1210.3 549.5h4.3v4.3h-4.3zM1058.4 553.2h4.3v4.3h-4.3zM1076.9 553.2h4.3v4.3h-4.3zM1099.2 553.2h4.3v4.3h-4.3zM1232.6 553.2h4.3v4.3h-4.3zM1065.8 556.9h4.3v4.3h-4.3zM1099.2 556.9h4.3v4.3h-4.3zM1177.0 556.9h4.3v4.3h-4.3zM1240.0 556.9h4.3v4.3h-4.3zM1065.8 560.6h4.3v4.3h-4.3zM1165.9 560.6h4.3v4.3h-4.3zM1232.6 560.6h4.3v4.3h-4.3zM1180.7 564.3h4.3v4.3h-4.3zM1221.4 564.3h4.3v4.3h-4.3zM1065.8 568.0h4.3v4.3h-4.3zM1099.2 568.0h4.3v4.3h-4.3zM1184.4 568.0h4.3v4.3h-4.3zM1221.4 568.0h4.3v4.3h-4.3zM1054.7 571.7h4.3v4.3h-4.3zM1102.9 571.7h4.3v4.3h-4.3zM1232.6 571.7h4.3v4.3h-4.3zM1128.8 575.4h4.3v4.3h-4.3zM1080.6 582.8h4.3v4.3h-4.3zM1188.1 582.8h4.3v4.3h-4.3zM1254.8 582.8h4.3v4.3h-4.3zM1114.0 586.6h4.3v4.3h-4.3zM1121.4 586.6h4.3v4.3h-4.3zM1188.1 586.6h4.3v4.3h-4.3zM1069.5 590.3h4.3v4.3h-4.3zM1162.2 590.3h4.3v4.3h-4.3zM1069.5 594.0h4.3v4.3h-4.3zM1132.5 594.0h4.3v4.3h-4.3zM1154.7 594.0h4.3v4.3h-4.3zM1240.0 594.0h4.3v4.3h-4.3zM1243.7 594.0h4.3v4.3h-4.3zM1243.7 597.7h4.3v4.3h-4.3zM1247.4 597.7h4.3v4.3h-4.3zM1099.2 601.4h4.3v4.3h-4.3zM1243.7 601.4h4.3v4.3h-4.3zM1251.1 601.4h4.3v4.3h-4.3zM1069.5 605.1h4.3v4.3h-4.3zM1080.6 605.1h4.3v4.3h-4.3zM1206.6 605.1h4.3v4.3h-4.3zM1254.8 605.1h4.3v4.3h-4.3zM1258.5 605.1h4.3v4.3h-4.3zM1054.7 608.8h4.3v4.3h-4.3zM1069.5 608.8h4.3v4.3h-4.3zM1088.0 608.8h4.3v4.3h-4.3zM1091.8 608.8h4.3v4.3h-4.3zM1210.3 608.8h4.3v4.3h-4.3zM1058.4 612.5h4.3v4.3h-4.3zM1136.2 612.5h4.3v4.3h-4.3zM1214.0 616.2h4.3v4.3h-4.3zM1121.4 619.9h4.3v4.3h-4.3zM1091.8 627.3h4.3v4.3h-4.3zM1151.0 627.3h4.3v4.3h-4.3zM1221.4 627.3h4.3v4.3h-4.3zM1258.5 631.0h4.3v4.3h-4.3zM1084.3 634.7h4.3v4.3h-4.3zM1258.5 634.7h4.3v4.3h-4.3zM1065.8 638.4h4.3v4.3h-4.3zM1091.8 638.4h4.3v4.3h-4.3zM1128.8 638.4h4.3v4.3h-4.3zM1180.7 638.4h4.3v4.3h-4.3zM1132.5 642.1h4.3v4.3h-4.3zM1158.5 642.1h4.3v4.3h-4.3zM1165.9 642.1h4.3v4.3h-4.3zM1180.7 642.1h4.3v4.3h-4.3zM1184.4 642.1h4.3v4.3h-4.3zM1232.6 642.1h4.3v4.3h-4.3zM1121.4 645.8h4.3v4.3h-4.3zM1184.4 645.8h4.3v4.3h-4.3zM1080.6 653.2h4.3v4.3h-4.3zM1154.7 653.2h4.3v4.3h-4.3zM1180.7 653.2h4.3v4.3h-4.3zM1125.1 657.0h4.3v4.3h-4.3zM1143.6 657.0h4.3v4.3h-4.3zM1151.0 657.0h4.3v4.3h-4.3zM1177.0 657.0h4.3v4.3h-4.3zM1151.0 660.7h4.3v4.3h-4.3zM1195.5 660.7h4.3v4.3h-4.3zM1199.2 660.7h4.3v4.3h-4.3zM1065.8 664.4h4.3v4.3h-4.3zM1191.8 664.4h4.3v4.3h-4.3zM1195.5 664.4h4.3v4.3h-4.3zM1232.6 664.4h4.3v4.3h-4.3zM1243.7 664.4h4.3v4.3h-4.3zM1076.9 668.1h4.3v4.3h-4.3zM1206.6 668.1h4.3v4.3h-4.3zM1206.6 671.8h4.3v4.3h-4.3zM1247.4 671.8h4.3v4.3h-4.3zM1251.1 671.8h4.3v4.3h-4.3zM1073.2 675.5h4.3v4.3h-4.3zM1084.3 675.5h4.3v4.3h-4.3zM1121.4 675.5h4.3v4.3h-4.3zM1125.1 675.5h4.3v4.3h-4.3zM1091.8 679.2h4.3v4.3h-4.3zM1095.5 679.2h4.3v4.3h-4.3zM1125.1 679.2h4.3v4.3h-4.3zM1128.8 679.2h4.3v4.3h-4.3zM1214.0 679.2h4.3v4.3h-4.3zM1095.5 682.9h4.3v4.3h-4.3zM1099.2 682.9h4.3v4.3h-4.3zM1102.9 682.9h4.3v4.3h-4.3zM1114.0 682.9h4.3v4.3h-4.3zM1132.5 682.9h4.3v4.3h-4.3zM1154.7 682.9h4.3v4.3h-4.3zM1184.4 682.9h4.3v4.3h-4.3zM1117.7 686.6h4.3v4.3h-4.3zM1243.7 686.6h4.3v4.3h-4.3z"/>
<path fill="#f5c4ac" d="M1173.3 482.8h4.3v4.3h-4.3zM1132.5 486.5h4.3v4.3h-4.3zM1195.5 486.5h4.3v4.3h-4.3zM1236.3 486.5h4.3v4.3h-4.3zM1188.1 490.2h4.3v4.3h-4.3zM1191.8 490.2h4.3v4.3h-4.3zM1195.5 490.2h4.3v4.3h-4.3zM1225.1 490.2h4.3v4.3h-4.3zM1228.9 490.2h4.3v4.3h-4.3zM1121.4 493.9h4.3v4.3h-4.3zM1191.8 493.9h4.3v4.3h-4.3zM1199.2 493.9h4.3v4.3h-4.3zM1191.8 497.6h4.3v4.3h-4.3zM1151.0 501.3h4.3v4.3h-4.3zM1232.6 501.3h4.3v4.3h-4.3zM1236.3 501.3h4.3v4.3h-4.3zM1240.0 501.3h4.3v4.3h-4.3zM1251.1 501.3h4.3v4.3h-4.3zM1062.1 508.7h4.3v4.3h-4.3zM1151.0 508.7h4.3v4.3h-4.3zM1210.3 508.7h4.3v4.3h-4.3zM1132.5 512.4h4.3v4.3h-4.3zM1188.1 512.4h4.3v4.3h-4.3zM1202.9 512.4h4.3v4.3h-4.3zM1088.0 516.1h4.3v4.3h-4.3zM1258.5 516.1h4.3v4.3h-4.3zM1069.5 519.9h4.3v4.3h-4.3zM1088.0 519.9h4.3v4.3h-4.3zM1139.9 519.9h4.3v4.3h-4.3zM1143.6 519.9h4.3v4.3h-4.3zM1147.3 519.9h4.3v4.3h-4.3zM1191.8 519.9h4.3v4.3h-4.3zM1202.9 519.9h4.3v4.3h-4.3zM1214.0 519.9h4.3v4.3h-4.3zM1084.3 523.6h4.3v4.3h-4.3zM1147.3 523.6h4.3v4.3h-4.3zM1151.0 523.6h4.3v4.3h-4.3zM1154.7 523.6h4.3v4.3h-4.3zM1147.3 527.3h4.3v4.3h-4.3zM1158.5 527.3h4.3v4.3h-4.3zM1158.5 531.0h4.3v4.3h-4.3zM1154.7 534.7h4.3v4.3h-4.3zM1158.5 534.7h4.3v4.3h-4.3zM1084.3 538.4h4.3v4.3h-4.3zM1154.7 538.4h4.3v4.3h-4.3zM1202.9 538.4h4.3v4.3h-4.3zM1217.7 538.4h4.3v4.3h-4.3zM1221.4 538.4h4.3v4.3h-4.3zM1225.1 538.4h4.3v4.3h-4.3zM1251.1 538.4h4.3v4.3h-4.3zM1258.5 538.4h4.3v4.3h-4.3zM1058.4 542.1h4.3v4.3h-4.3zM1154.7 542.1h4.3v4.3h-4.3zM1225.1 542.1h4.3v4.3h-4.3zM1080.6 545.8h4.3v4.3h-4.3zM1102.9 545.8h4.3v4.3h-4.3zM1154.7 545.8h4.3v4.3h-4.3zM1158.5 545.8h4.3v4.3h-4.3zM1054.7 549.5h4.3v4.3h-4.3zM1095.5 549.5h4.3v4.3h-4.3zM1099.2 549.5h4.3v4.3h-4.3zM1102.9 549.5h4.3v4.3h-4.3zM1106.6 549.5h4.3v4.3h-4.3zM1173.3 549.5h4.3v4.3h-4.3zM1236.3 549.5h4.3v4.3h-4.3zM1102.9 553.2h4.3v4.3h-4.3zM1162.2 556.9h4.3v4.3h-4.3zM1099.2 560.6h4.3v4.3h-4.3zM1117.7 560.6h4.3v4.3h-4.3zM1173.3 560.6h4.3v4.3h-4.3zM1225.1 560.6h4.3v4.3h-4.3zM1228.9 560.6h4.3v4.3h-4.3zM1121.4 564.3h4.3v4.3h-4.3zM1054.7 568.0h4.3v4.3h-4.3zM1080.6 568.0h4.3v4.3h-4.3zM1102.9 568.0h4.3v4.3h-4.3zM1177.0 568.0h4.3v4.3h-4.3zM1180.7 568.0h4.3v4.3h-4.3zM1088.0 571.7h4.3v4.3h-4.3zM1099.2 571.7h4.3v4.3h-4.3zM1188.1 571.7h4.3v4.3h-4.3zM1228.9 571.7h4.3v4.3h-4.3zM1106.6 575.4h4.3v4.3h-4.3zM1254.8 575.4h4.3v4.3h-4.3zM1110.3 579.1h4.3v4.3h-4.3zM1254.8 579.1h4.3v4.3h-4.3zM1110.3 582.8h4.3v4.3h-4.3zM1177.0 582.8h4.3v4.3h-4.3zM1069.5 586.6h4.3v4.3h-4.3zM1084.3 586.6h4.3v4.3h-4.3zM1106.6 586.6h4.3v4.3h-4.3zM1110.3 586.6h4.3v4.3h-4.3zM1191.8 586.6h4.3v4.3h-4.3zM1065.8 590.3h4.3v4.3h-4.3zM1110.3 590.3h4.3v4.3h-4.3zM1065.8 594.0h4.3v4.3h-4.3zM1073.2 594.0h4.3v4.3h-4.3zM1147.3 594.0h4.3v4.3h-4.3zM1151.0 594.0h4.3v4.3h-4.3zM1069.5 597.7h4.3v4.3h-4.3zM1073.2 597.7h4.3v4.3h-4.3zM1128.8 597.7h4.3v4.3h-4.3zM1154.7 597.7h4.3v4.3h-4.3zM1069.5 601.4h4.3v4.3h-4.3zM1076.9 601.4h4.3v4.3h-4.3zM1151.0 601.4h4.3v4.3h-4.3zM1247.4 601.4h4.3v4.3h-4.3zM1076.9 605.1h4.3v4.3h-4.3zM1247.4 605.1h4.3v4.3h-4.3zM1121.4 608.8h4.3v4.3h-4.3zM1247.4 608.8h4.3v4.3h-4.3zM1117.7 612.5h4.3v4.3h-4.3zM1121.4 612.5h4.3v4.3h-4.3zM1206.6 612.5h4.3v4.3h-4.3zM1058.4 616.2h4.3v4.3h-4.3zM1099.2 616.2h4.3v4.3h-4.3zM1121.4 616.2h4.3v4.3h-4.3zM1128.8 616.2h4.3v4.3h-4.3zM1214.0 619.9h4.3v4.3h-4.3zM1210.3 623.6h4.3v4.3h-4.3zM1217.7 623.6h4.3v4.3h-4.3zM1217.7 627.3h4.3v4.3h-4.3zM1110.3 631.0h4.3v4.3h-4.3zM1114.0 631.0h4.3v4.3h-4.3zM1121.4 631.0h4.3v4.3h-4.3zM1217.7 631.0h4.3v4.3h-4.3zM1162.2 634.7h4.3v4.3h-4.3zM1165.9 634.7h4.3v4.3h-4.3zM1062.1 638.4h4.3v4.3h-4.3zM1069.5 638.4h4.3v4.3h-4.3zM1073.2 638.4h4.3v4.3h-4.3zM1165.9 638.4h4.3v4.3h-4.3zM1162.2 642.1h4.3v4.3h-4.3zM1169.6 642.1h4.3v4.3h-4.3zM1173.3 642.1h4.3v4.3h-4.3zM1177.0 642.1h4.3v4.3h-4.3zM1054.7 645.8h4.3v4.3h-4.3zM1125.1 645.8h4.3v4.3h-4.3zM1177.0 645.8h4.3v4.3h-4.3zM1180.7 645.8h4.3v4.3h-4.3zM1136.2 649.5h4.3v4.3h-4.3zM1225.1 649.5h4.3v4.3h-4.3zM1128.8 657.0h4.3v4.3h-4.3zM1154.7 657.0h4.3v4.3h-4.3zM1062.1 660.7h4.3v4.3h-4.3zM1121.4 660.7h4.3v4.3h-4.3zM1128.8 660.7h4.3v4.3h-4.3zM1132.5 660.7h4.3v4.3h-4.3zM1154.7 660.7h4.3v4.3h-4.3zM1158.5 660.7h4.3v4.3h-4.3zM1232.6 660.7h4.3v4.3h-4.3zM1151.0 664.4h4.3v4.3h-4.3zM1199.2 664.4h4.3v4.3h-4.3zM1202.9 664.4h4.3v4.3h-4.3zM1080.6 668.1h4.3v4.3h-4.3zM1188.1 668.1h4.3v4.3h-4.3zM1191.8 668.1h4.3v4.3h-4.3zM1195.5 668.1h4.3v4.3h-4.3zM1240.0 668.1h4.3v4.3h-4.3zM1195.5 671.8h4.3v4.3h-4.3zM1117.7 675.5h4.3v4.3h-4.3zM1147.3 675.5h4.3v4.3h-4.3zM1199.2 675.5h4.3v4.3h-4.3zM1202.9 675.5h4.3v4.3h-4.3zM1214.0 675.5h4.3v4.3h-4.3zM1084.3 679.2h4.3v4.3h-4.3zM1088.0 679.2h4.3v4.3h-4.3zM1114.0 679.2h4.3v4.3h-4.3zM1195.5 679.2h4.3v4.3h-4.3zM1247.4 682.9h4.3v4.3h-4.3zM1151.0 686.6h4.3v4.3h-4.3zM1162.2 686.6h4.3v4.3h-4.3zM1206.6 686.6h4.3v4.3h-4.3zM1247.4 686.6h4.3v4.3h-4.3z"/>
<path fill="#f6bea4" d="M1114.0 482.8h4.3v4.3h-4.3zM1128.8 482.8h4.3v4.3h-4.3zM1188.1 486.5h4.3v4.3h-4.3zM1191.8 486.5h4.3v4.3h-4.3zM1217.7 486.5h4.3v4.3h-4.3zM1232.6 486.5h4.3v4.3h-4.3zM1125.1 493.9h4.3v4.3h-4.3zM1188.1 493.9h4.3v4.3h-4.3zM1195.5 493.9h4.3v4.3h-4.3zM1228.9 493.9h4.3v4.3h-4.3zM1195.5 497.6h4.3v4.3h-4.3zM1240.0 497.6h4.3v4.3h-4.3zM1062.1 501.3h4.3v4.3h-4.3zM1180.7 501.3h4.3v4.3h-4.3zM1202.9 501.3h4.3v4.3h-4.3zM1147.3 505.0h4.3v4.3h-4.3zM1151.0 505.0h4.3v4.3h-4.3zM1084.3 508.7h4.3v4.3h-4.3zM1147.3 508.7h4.3v4.3h-4.3zM1184.4 508.7h4.3v4.3h-4.3zM1195.5 508.7h4.3v4.3h-4.3zM1062.1 512.4h4.3v4.3h-4.3zM1065.8 512.4h4.3v4.3h-4.3zM1206.6 512.4h4.3v4.3h-4.3zM1062.1 516.1h4.3v4.3h-4.3zM1147.3 516.1h4.3v4.3h-4.3zM1191.8 516.1h4.3v4.3h-4.3zM1202.9 516.1h4.3v4.3h-4.3zM1054.7 519.9h4.3v4.3h-4.3zM1217.7 519.9h4.3v4.3h-4.3zM1251.1 519.9h4.3v4.3h-4.3zM1080.6 523.6h4.3v4.3h-4.3zM1202.9 523.6h4.3v4.3h-4.3zM1206.6 523.6h4.3v4.3h-4.3zM1210.3 523.6h4.3v4.3h-4.3zM1221.4 523.6h4.3v4.3h-4.3zM1251.1 523.6h4.3v4.3h-4.3zM1254.8 523.6h4.3v4.3h-4.3zM1054.7 531.0h4.3v4.3h-4.3zM1084.3 531.0h4.3v4.3h-4.3zM1147.3 531.0h4.3v4.3h-4.3zM1225.1 531.0h4.3v4.3h-4.3zM1054.7 534.7h4.3v4.3h-4.3zM1058.4 534.7h4.3v4.3h-4.3zM1088.0 534.7h4.3v4.3h-4.3zM1151.0 534.7h4.3v4.3h-4.3zM1158.5 538.4h4.3v4.3h-4.3zM1062.1 542.1h4.3v4.3h-4.3zM1084.3 542.1h4.3v4.3h-4.3zM1228.9 542.1h4.3v4.3h-4.3zM1232.6 542.1h4.3v4.3h-4.3zM1162.2 545.8h4.3v4.3h-4.3zM1165.9 545.8h4.3v4.3h-4.3zM1236.3 545.8h4.3v4.3h-4.3zM1065.8 549.5h4.3v4.3h-4.3zM1088.0 549.5h4.3v4.3h-4.3zM1091.8 549.5h4.3v4.3h-4.3zM1162.2 549.5h4.3v4.3h-4.3zM1106.6 553.2h4.3v4.3h-4.3zM1162.2 553.2h4.3v4.3h-4.3zM1173.3 553.2h4.3v4.3h-4.3zM1062.1 556.9h4.3v4.3h-4.3zM1069.5 560.6h4.3v4.3h-4.3zM1169.6 560.6h4.3v4.3h-4.3zM1236.3 560.6h4.3v4.3h-4.3zM1240.0 560.6h4.3v4.3h-4.3zM1054.7 564.3h4.3v4.3h-4.3zM1080.6 564.3h4.3v4.3h-4.3zM1232.6 564.3h4.3v4.3h-4.3zM1080.6 571.7h4.3v4.3h-4.3zM1106.6 571.7h4.3v4.3h-4.3zM1125.1 571.7h4.3v4.3h-4.3zM1177.0 571.7h4.3v4.3h-4.3zM1102.9 575.4h4.3v4.3h-4.3zM1102.9 579.1h4.3v4.3h-4.3zM1106.6 579.1h4.3v4.3h-4.3zM1177.0 579.1h4.3v4.3h-4.3zM1069.5 582.8h4.3v4.3h-4.3zM1106.6 582.8h4.3v4.3h-4.3zM1114.0 582.8h4.3v4.3h-4.3zM1128.8 582.8h4.3v4.3h-4.3zM1180.7 582.8h4.3v4.3h-4.3zM1184.4 582.8h4.3v4.3h-4.3zM1240.0 582.8h4.3v4.3h-4.3zM1117.7 586.6h4.3v4.3h-4.3zM1125.1 586.6h4.3v4.3h-4.3zM1128.8 586.6h4.3v4.3h-4.3zM1247.4 586.6h4.3v4.3h-4.3zM1243.7 590.3h4.3v4.3h-4.3zM1102.9 594.0h4.3v4.3h-4.3zM1136.2 594.0h4.3v4.3h-4.3zM1091.8 597.7h4.3v4.3h-4.3zM1132.5 597.7h4.3v4.3h-4.3zM1147.3 597.7h4.3v4.3h-4.3zM1151.0 597.7h4.3v4.3h-4.3zM1073.2 601.4h4.3v4.3h-4.3zM1091.8 601.4h4.3v4.3h-4.3zM1147.3 601.4h4.3v4.3h-4.3zM1147.3 605.1h4.3v4.3h-4.3zM1251.1 605.1h4.3v4.3h-4.3zM1128.8 608.8h4.3v4.3h-4.3zM1147.3 608.8h4.3v4.3h-4.3zM1202.9 608.8h4.3v4.3h-4.3zM1251.1 608.8h4.3v4.3h-4.3zM1106.6 612.5h4.3v4.3h-4.3zM1132.5 612.5h4.3v4.3h-4.3zM1139.9 612.5h4.3v4.3h-4.3zM1143.6 612.5h4.3v4.3h-4.3zM1147.3 612.5h4.3v4.3h-4.3zM1202.9 612.5h4.3v4.3h-4.3zM1125.1 616.2h4.3v4.3h-4.3zM1143.6 616.2h4.3v4.3h-4.3zM1058.4 619.9h4.3v4.3h-4.3zM1095.5 619.9h4.3v4.3h-4.3zM1210.3 619.9h4.3v4.3h-4.3zM1258.5 619.9h4.3v4.3h-4.3zM1058.4 623.6h4.3v4.3h-4.3zM1121.4 623.6h4.3v4.3h-4.3zM1214.0 623.6h4.3v4.3h-4.3zM1054.7 627.3h4.3v4.3h-4.3zM1214.0 627.3h4.3v4.3h-4.3zM1054.7 631.0h4.3v4.3h-4.3zM1095.5 631.0h4.3v4.3h-4.3zM1088.0 634.7h4.3v4.3h-4.3zM1095.5 634.7h4.3v4.3h-4.3zM1088.0 638.4h4.3v4.3h-4.3zM1158.5 638.4h4.3v4.3h-4.3zM1162.2 638.4h4.3v4.3h-4.3zM1162.2 645.8h4.3v4.3h-4.3zM1162.2 649.5h4.3v4.3h-4.3zM1177.0 649.5h4.3v4.3h-4.3zM1076.9 653.2h4.3v4.3h-4.3zM1132.5 653.2h4.3v4.3h-4.3zM1139.9 653.2h4.3v4.3h-4.3zM1177.0 653.2h4.3v4.3h-4.3zM1132.5 657.0h4.3v4.3h-4.3zM1125.1 660.7h4.3v4.3h-4.3zM1136.2 660.7h4.3v4.3h-4.3zM1147.3 660.7h4.3v4.3h-4.3zM1243.7 660.7h4.3v4.3h-4.3zM1125.1 664.4h4.3v4.3h-4.3zM1128.8 664.4h4.3v4.3h-4.3zM1236.3 664.4h4.3v4.3h-4.3zM1088.0 668.1h4.3v4.3h-4.3zM1125.1 668.1h4.3v4.3h-4.3zM1151.0 668.1h4.3v4.3h-4.3zM1184.4 668.1h4.3v4.3h-4.3zM1199.2 668.1h4.3v4.3h-4.3zM1202.9 668.1h4.3v4.3h-4.3zM1125.1 671.8h4.3v4.3h-4.3zM1180.7 671.8h4.3v4.3h-4.3zM1184.4 671.8h4.3v4.3h-4.3zM1188.1 671.8h4.3v4.3h-4.3zM1191.8 671.8h4.3v4.3h-4.3zM1199.2 671.8h4.3v4.3h-4.3zM1202.9 671.8h4.3v4.3h-4.3zM1180.7 675.5h4.3v4.3h-4.3zM1191.8 675.5h4.3v4.3h-4.3zM1195.5 675.5h4.3v4.3h-4.3zM1206.6 675.5h4.3v4.3h-4.3zM1210.3 675.5h4.3v4.3h-4.3zM1247.4 675.5h4.3v4.3h-4.3zM1251.1 675.5h4.3v4.3h-4.3zM1117.7 679.2h4.3v4.3h-4.3zM1121.4 679.2h4.3v4.3h-4.3zM1199.2 679.2h4.3v4.3h-4.3zM1158.5 682.9h4.3v4.3h-4.3zM1188.1 682.9h4.3v4.3h-4.3zM1210.3 682.9h4.3v4.3h-4.3zM1058.4 686.6h4.3v4.3h-4.3zM1084.3 686.6h4.3v4.3h-4.3z"/>
<path fill="#f7b89c" d="M1184.4 482.8h4.3v4.3h-4.3zM1191.8 482.8h4.3v4.3h-4.3zM1125.1 486.5h4.3v4.3h-4.3zM1128.8 486.5h4.3v4.3h-4.3zM1184.4 486.5h4.3v4.3h-4.3zM1228.9 486.5h4.3v4.3h-4.3zM1121.4 490.2h4.3v4.3h-4.3zM1125.1 490.2h4.3v4.3h-4.3zM1128.8 490.2h4.3v4.3h-4.3zM1221.4 490.2h4.3v4.3h-4.3zM1240.0 490.2h4.3v4.3h-4.3zM1199.2 497.6h4.3v4.3h-4.3zM1202.9 497.6h4.3v4.3h-4.3zM1195.5 501.3h4.3v4.3h-4.3zM1199.2 501.3h4.3v4.3h-4.3zM1143.6 505.0h4.3v4.3h-4.3zM1236.3 505.0h4.3v4.3h-4.3zM1136.2 508.7h4.3v4.3h-4.3zM1254.8 508.7h4.3v4.3h-4.3zM1147.3 512.4h4.3v4.3h-4.3zM1195.5 512.4h4.3v4.3h-4.3zM1065.8 516.1h4.3v4.3h-4.3zM1136.2 516.1h4.3v4.3h-4.3zM1143.6 516.1h4.3v4.3h-4.3zM1065.8 519.9h4.3v4.3h-4.3zM1084.3 519.9h4.3v4.3h-4.3zM1199.2 519.9h4.3v4.3h-4.3zM1258.5 519.9h4.3v4.3h-4.3zM1076.9 523.6h4.3v4.3h-4.3zM1088.0 523.6h4.3v4.3h-4.3zM1091.8 523.6h4.3v4.3h-4.3zM1199.2 523.6h4.3v4.3h-4.3zM1217.7 523.6h4.3v4.3h-4.3zM1243.7 523.6h4.3v4.3h-4.3zM1080.6 527.3h4.3v4.3h-4.3zM1151.0 527.3h4.3v4.3h-4.3zM1154.7 527.3h4.3v4.3h-4.3zM1221.4 527.3h4.3v4.3h-4.3zM1247.4 527.3h4.3v4.3h-4.3zM1080.6 531.0h4.3v4.3h-4.3zM1095.5 531.0h4.3v4.3h-4.3zM1199.2 531.0h4.3v4.3h-4.3zM1214.0 531.0h4.3v4.3h-4.3zM1247.4 531.0h4.3v4.3h-4.3zM1062.1 534.7h4.3v4.3h-4.3zM1217.7 534.7h4.3v4.3h-4.3zM1221.4 534.7h4.3v4.3h-4.3zM1065.8 538.4h4.3v4.3h-4.3zM1162.2 538.4h4.3v4.3h-4.3zM1254.8 538.4h4.3v4.3h-4.3zM1162.2 542.1h4.3v4.3h-4.3zM1206.6 542.1h4.3v4.3h-4.3zM1217.7 542.1h4.3v4.3h-4.3zM1069.5 545.8h4.3v4.3h-4.3zM1084.3 545.8h4.3v4.3h-4.3zM1088.0 545.8h4.3v4.3h-4.3zM1210.3 545.8h4.3v4.3h-4.3zM1221.4 545.8h4.3v4.3h-4.3zM1232.6 545.8h4.3v4.3h-4.3zM1084.3 549.5h4.3v4.3h-4.3zM1165.9 549.5h4.3v4.3h-4.3zM1169.6 549.5h4.3v4.3h-4.3zM1228.9 553.2h4.3v4.3h-4.3zM1102.9 556.9h4.3v4.3h-4.3zM1165.9 556.9h4.3v4.3h-4.3zM1169.6 556.9h4.3v4.3h-4.3zM1173.3 556.9h4.3v4.3h-4.3zM1214.0 556.9h4.3v4.3h-4.3zM1102.9 560.6h4.3v4.3h-4.3zM1217.7 560.6h4.3v4.3h-4.3zM1102.9 564.3h4.3v4.3h-4.3zM1225.1 564.3h4.3v4.3h-4.3zM1058.4 568.0h4.3v4.3h-4.3zM1062.1 568.0h4.3v4.3h-4.3zM1106.6 568.0h4.3v4.3h-4.3zM1225.1 568.0h4.3v4.3h-4.3zM1228.9 568.0h4.3v4.3h-4.3zM1080.6 575.4h4.3v4.3h-4.3zM1177.0 575.4h4.3v4.3h-4.3zM1069.5 579.1h4.3v4.3h-4.3zM1073.2 579.1h4.3v4.3h-4.3zM1114.0 579.1h4.3v4.3h-4.3zM1084.3 582.8h4.3v4.3h-4.3zM1247.4 582.8h4.3v4.3h-4.3zM1084.3 590.3h4.3v4.3h-4.3zM1088.0 590.3h4.3v4.3h-4.3zM1088.0 594.0h4.3v4.3h-4.3zM1076.9 597.7h4.3v4.3h-4.3zM1102.9 597.7h4.3v4.3h-4.3zM1143.6 597.7h4.3v4.3h-4.3zM1102.9 601.4h4.3v4.3h-4.3zM1073.2 605.1h4.3v4.3h-4.3zM1128.8 605.1h4.3v4.3h-4.3zM1206.6 608.8h4.3v4.3h-4.3zM1258.5 608.8h4.3v4.3h-4.3zM1054.7 612.5h4.3v4.3h-4.3zM1128.8 612.5h4.3v4.3h-4.3zM1099.2 619.9h4.3v4.3h-4.3zM1095.5 627.3h4.3v4.3h-4.3zM1117.7 627.3h4.3v4.3h-4.3zM1088.0 631.0h4.3v4.3h-4.3zM1091.8 631.0h4.3v4.3h-4.3zM1091.8 634.7h4.3v4.3h-4.3zM1102.9 634.7h4.3v4.3h-4.3zM1106.6 634.7h4.3v4.3h-4.3zM1110.3 634.7h4.3v4.3h-4.3zM1106.6 638.4h4.3v4.3h-4.3zM1076.9 642.1h4.3v4.3h-4.3zM1228.9 642.1h4.3v4.3h-4.3zM1173.3 645.8h4.3v4.3h-4.3zM1225.1 645.8h4.3v4.3h-4.3zM1117.7 649.5h4.3v4.3h-4.3zM1054.7 653.2h4.3v4.3h-4.3zM1228.9 653.2h4.3v4.3h-4.3zM1076.9 657.0h4.3v4.3h-4.3zM1136.2 657.0h4.3v4.3h-4.3zM1139.9 657.0h4.3v4.3h-4.3zM1169.6 657.0h4.3v4.3h-4.3zM1173.3 657.0h4.3v4.3h-4.3zM1065.8 660.7h4.3v4.3h-4.3zM1132.5 664.4h4.3v4.3h-4.3zM1240.0 664.4h4.3v4.3h-4.3zM1076.9 671.8h4.3v4.3h-4.3zM1080.6 675.5h4.3v4.3h-4.3zM1184.4 675.5h4.3v4.3h-4.3zM1188.1 675.5h4.3v4.3h-4.3zM1139.9 679.2h4.3v4.3h-4.3zM1184.4 679.2h4.3v4.3h-4.3zM1188.1 679.2h4.3v4.3h-4.3zM1191.8 679.2h4.3v4.3h-4.3zM1202.9 679.2h4.3v4.3h-4.3zM1247.4 679.2h4.3v4.3h-4.3zM1117.7 682.9h4.3v4.3h-4.3zM1121.4 682.9h4.3v4.3h-4.3zM1191.8 682.9h4.3v4.3h-4.3zM1206.6 682.9h4.3v4.3h-4.3zM1106.6 686.6h4.3v4.3h-4.3zM1202.9 686.6h4.3v4.3h-4.3z"/>
<path fill="#f7b093" d="M1188.1 482.8h4.3v4.3h-4.3zM1217.7 482.8h4.3v4.3h-4.3zM1121.4 486.5h4.3v4.3h-4.3zM1173.3 490.2h4.3v4.3h-4.3zM1236.3 490.2h4.3v4.3h-4.3zM1232.6 493.9h4.3v4.3h-4.3zM1240.0 493.9h4.3v4.3h-4.3zM1069.5 497.6h4.3v4.3h-4.3zM1073.2 497.6h4.3v4.3h-4.3zM1065.8 501.3h4.3v4.3h-4.3zM1069.5 501.3h4.3v4.3h-4.3zM1247.4 501.3h4.3v4.3h-4.3zM1195.5 505.0h4.3v4.3h-4.3zM1240.0 505.0h4.3v4.3h-4.3zM1251.1 505.0h4.3v4.3h-4.3zM1191.8 512.4h4.3v4.3h-4.3zM1139.9 516.1h4.3v4.3h-4.3zM1073.2 519.9h4.3v4.3h-4.3zM1080.6 519.9h4.3v4.3h-4.3zM1240.0 519.9h4.3v4.3h-4.3zM1214.0 523.6h4.3v4.3h-4.3zM1247.4 523.6h4.3v4.3h-4.3zM1084.3 527.3h4.3v4.3h-4.3zM1088.0 527.3h4.3v4.3h-4.3zM1199.2 527.3h4.3v4.3h-4.3zM1210.3 527.3h4.3v4.3h-4.3zM1214.0 527.3h4.3v4.3h-4.3zM1217.7 527.3h4.3v4.3h-4.3zM1251.1 527.3h4.3v4.3h-4.3zM1254.8 527.3h4.3v4.3h-4.3zM1151.0 531.0h4.3v4.3h-4.3zM1154.7 531.0h4.3v4.3h-4.3zM1217.7 531.0h4.3v4.3h-4.3zM1221.4 531.0h4.3v4.3h-4.3zM1091.8 534.7h4.3v4.3h-4.3zM1214.0 534.7h4.3v4.3h-4.3zM1258.5 534.7h4.3v4.3h-4.3zM1062.1 538.4h4.3v4.3h-4.3zM1102.9 538.4h4.3v4.3h-4.3zM1158.5 542.1h4.3v4.3h-4.3zM1214.0 542.1h4.3v4.3h-4.3zM1099.2 545.8h4.3v4.3h-4.3zM1217.7 545.8h4.3v4.3h-4.3zM1225.1 545.8h4.3v4.3h-4.3zM1258.5 545.8h4.3v4.3h-4.3zM1225.1 549.5h4.3v4.3h-4.3zM1065.8 553.2h4.3v4.3h-4.3zM1110.3 553.2h4.3v4.3h-4.3zM1054.7 556.9h4.3v4.3h-4.3zM1114.0 556.9h4.3v4.3h-4.3zM1225.1 556.9h4.3v4.3h-4.3zM1054.7 560.6h4.3v4.3h-4.3zM1073.2 560.6h4.3v4.3h-4.3zM1076.9 560.6h4.3v4.3h-4.3zM1221.4 560.6h4.3v4.3h-4.3zM1065.8 564.3h4.3v4.3h-4.3zM1106.6 564.3h4.3v4.3h-4.3zM1228.9 564.3h4.3v4.3h-4.3zM1084.3 568.0h4.3v4.3h-4.3zM1180.7 571.7h4.3v4.3h-4.3zM1084.3 575.4h4.3v4.3h-4.3zM1110.3 575.4h4.3v4.3h-4.3zM1188.1 579.1h4.3v4.3h-4.3zM1247.4 579.1h4.3v4.3h-4.3zM1251.1 579.1h4.3v4.3h-4.3zM1073.2 582.8h4.3v4.3h-4.3zM1095.5 582.8h4.3v4.3h-4.3zM1117.7 582.8h4.3v4.3h-4.3zM1125.1 582.8h4.3v4.3h-4.3zM1243.7 582.8h4.3v4.3h-4.3zM1251.1 582.8h4.3v4.3h-4.3zM1080.6 586.6h4.3v4.3h-4.3zM1236.3 586.6h4.3v4.3h-4.3zM1243.7 586.6h4.3v4.3h-4.3zM1073.2 590.3h4.3v4.3h-4.3zM1236.3 590.3h4.3v4.3h-4.3zM1136.2 597.7h4.3v4.3h-4.3zM1110.3 608.8h4.3v4.3h-4.3zM1125.1 608.8h4.3v4.3h-4.3zM1132.5 608.8h4.3v4.3h-4.3zM1143.6 608.8h4.3v4.3h-4.3zM1254.8 608.8h4.3v4.3h-4.3zM1125.1 612.5h4.3v4.3h-4.3zM1106.6 616.2h4.3v4.3h-4.3zM1117.7 616.2h4.3v4.3h-4.3zM1095.5 623.6h4.3v4.3h-4.3zM1110.3 627.3h4.3v4.3h-4.3zM1114.0 627.3h4.3v4.3h-4.3zM1258.5 627.3h4.3v4.3h-4.3zM1117.7 631.0h4.3v4.3h-4.3zM1128.8 642.1h4.3v4.3h-4.3zM1225.1 642.1h4.3v4.3h-4.3zM1076.9 645.8h4.3v4.3h-4.3zM1165.9 645.8h4.3v4.3h-4.3zM1054.7 649.5h4.3v4.3h-4.3zM1076.9 649.5h4.3v4.3h-4.3zM1136.2 653.2h4.3v4.3h-4.3zM1165.9 653.2h4.3v4.3h-4.3zM1173.3 653.2h4.3v4.3h-4.3zM1236.3 653.2h4.3v4.3h-4.3zM1232.6 657.0h4.3v4.3h-4.3zM1236.3 657.0h4.3v4.3h-4.3zM1240.0 657.0h4.3v4.3h-4.3zM1084.3 671.8h4.3v4.3h-4.3zM1076.9 675.5h4.3v4.3h-4.3zM1139.9 675.5h4.3v4.3h-4.3zM1206.6 679.2h4.3v4.3h-4.3zM1210.3 679.2h4.3v4.3h-4.3zM1251.1 679.2h4.3v4.3h-4.3zM1084.3 682.9h4.3v4.3h-4.3zM1091.8 682.9h4.3v4.3h-4.3zM1195.5 682.9h4.3v4.3h-4.3zM1199.2 682.9h4.3v4.3h-4.3zM1202.9 682.9h4.3v4.3h-4.3zM1095.5 686.6h4.3v4.3h-4.3zM1154.7 686.6h4.3v4.3h-4.3zM1158.5 686.6h4.3v4.3h-4.3zM1188.1 686.6h4.3v4.3h-4.3z"/>
<path fill="#f7a98b" d="M1117.7 482.8h4.3v4.3h-4.3zM1121.4 482.8h4.3v4.3h-4.3zM1125.1 482.8h4.3v4.3h-4.3zM1180.7 482.8h4.3v4.3h-4.3zM1117.7 486.5h4.3v4.3h-4.3zM1184.4 490.2h4.3v4.3h-4.3zM1236.3 493.9h4.3v4.3h-4.3zM1228.9 497.6h4.3v4.3h-4.3zM1232.6 497.6h4.3v4.3h-4.3zM1073.2 501.3h4.3v4.3h-4.3zM1191.8 501.3h4.3v4.3h-4.3zM1243.7 501.3h4.3v4.3h-4.3zM1065.8 505.0h4.3v4.3h-4.3zM1080.6 505.0h4.3v4.3h-4.3zM1139.9 508.7h4.3v4.3h-4.3zM1143.6 508.7h4.3v4.3h-4.3zM1084.3 512.4h4.3v4.3h-4.3zM1136.2 512.4h4.3v4.3h-4.3zM1143.6 512.4h4.3v4.3h-4.3zM1236.3 512.4h4.3v4.3h-4.3zM1254.8 512.4h4.3v4.3h-4.3zM1069.5 516.1h4.3v4.3h-4.3zM1080.6 516.1h4.3v4.3h-4.3zM1084.3 516.1h4.3v4.3h-4.3zM1195.5 516.1h4.3v4.3h-4.3zM1076.9 519.9h4.3v4.3h-4.3zM1247.4 519.9h4.3v4.3h-4.3zM1254.8 519.9h4.3v4.3h-4.3zM1258.5 531.0h4.3v4.3h-4.3zM1065.8 542.1h4.3v4.3h-4.3zM1102.9 542.1h4.3v4.3h-4.3zM1214.0 545.8h4.3v4.3h-4.3zM1228.9 545.8h4.3v4.3h-4.3zM1073.2 549.5h4.3v4.3h-4.3zM1214.0 549.5h4.3v4.3h-4.3zM1228.9 549.5h4.3v4.3h-4.3zM1232.6 549.5h4.3v4.3h-4.3zM1165.9 553.2h4.3v4.3h-4.3zM1169.6 553.2h4.3v4.3h-4.3zM1214.0 553.2h4.3v4.3h-4.3zM1058.4 556.9h4.3v4.3h-4.3zM1106.6 556.9h4.3v4.3h-4.3zM1110.3 556.9h4.3v4.3h-4.3zM1106.6 560.6h4.3v4.3h-4.3zM1110.3 560.6h4.3v4.3h-4.3zM1114.0 560.6h4.3v4.3h-4.3zM1110.3 564.3h4.3v4.3h-4.3zM1114.0 564.3h4.3v4.3h-4.3zM1110.3 568.0h4.3v4.3h-4.3zM1121.4 568.0h4.3v4.3h-4.3zM1110.3 571.7h4.3v4.3h-4.3zM1184.4 571.7h4.3v4.3h-4.3zM1114.0 575.4h4.3v4.3h-4.3zM1188.1 575.4h4.3v4.3h-4.3zM1084.3 579.1h4.3v4.3h-4.3zM1128.8 579.1h4.3v4.3h-4.3zM1180.7 579.1h4.3v4.3h-4.3zM1240.0 590.3h4.3v4.3h-4.3zM1088.0 597.7h4.3v4.3h-4.3zM1084.3 605.1h4.3v4.3h-4.3zM1088.0 605.1h4.3v4.3h-4.3zM1110.3 612.5h4.3v4.3h-4.3zM1114.0 612.5h4.3v4.3h-4.3zM1251.1 612.5h4.3v4.3h-4.3zM1254.8 612.5h4.3v4.3h-4.3zM1054.7 619.9h4.3v4.3h-4.3zM1102.9 619.9h4.3v4.3h-4.3zM1121.4 627.3h4.3v4.3h-4.3zM1062.1 642.1h4.3v4.3h-4.3zM1169.6 645.8h4.3v4.3h-4.3zM1228.9 645.8h4.3v4.3h-4.3zM1232.6 645.8h4.3v4.3h-4.3zM1165.9 649.5h4.3v4.3h-4.3zM1169.6 649.5h4.3v4.3h-4.3zM1173.3 649.5h4.3v4.3h-4.3zM1236.3 649.5h4.3v4.3h-4.3zM1073.2 653.2h4.3v4.3h-4.3zM1169.6 653.2h4.3v4.3h-4.3zM1232.6 653.2h4.3v4.3h-4.3zM1073.2 660.7h4.3v4.3h-4.3zM1240.0 660.7h4.3v4.3h-4.3zM1151.0 671.8h4.3v4.3h-4.3zM1143.6 675.5h4.3v4.3h-4.3zM1136.2 679.2h4.3v4.3h-4.3zM1254.8 679.2h4.3v4.3h-4.3zM1258.5 682.9h4.3v4.3h-4.3zM1091.8 686.6h4.3v4.3h-4.3zM1099.2 686.6h4.3v4.3h-4.3zM1191.8 686.6h4.3v4.3h-4.3zM1199.2 686.6h4.3v4.3h-4.3z"/>
<path fill="#f6a283" d="M1177.0 482.8h4.3v4.3h-4.3zM1177.0 493.9h4.3v4.3h-4.3zM1188.1 497.6h4.3v4.3h-4.3zM1184.4 505.0h4.3v4.3h-4.3zM1065.8 508.7h4.3v4.3h-4.3zM1236.3 508.7h4.3v4.3h-4.3zM1243.7 508.7h4.3v4.3h-4.3zM1139.9 512.4h4.3v4.3h-4.3zM1243.7 512.4h4.3v4.3h-4.3zM1247.4 512.4h4.3v4.3h-4.3zM1076.9 516.1h4.3v4.3h-4.3zM1199.2 516.1h4.3v4.3h-4.3zM1240.0 516.1h4.3v4.3h-4.3zM1247.4 516.1h4.3v4.3h-4.3zM1251.1 516.1h4.3v4.3h-4.3zM1254.8 516.1h4.3v4.3h-4.3zM1243.7 519.9h4.3v4.3h-4.3zM1258.5 523.6h4.3v4.3h-4.3zM1058.4 527.3h4.3v4.3h-4.3zM1202.9 527.3h4.3v4.3h-4.3zM1210.3 531.0h4.3v4.3h-4.3zM1254.8 531.0h4.3v4.3h-4.3zM1202.9 534.7h4.3v4.3h-4.3zM1251.1 534.7h4.3v4.3h-4.3zM1088.0 538.4h4.3v4.3h-4.3zM1214.0 538.4h4.3v4.3h-4.3zM1210.3 542.1h4.3v4.3h-4.3zM1095.5 545.8h4.3v4.3h-4.3zM1069.5 553.2h4.3v4.3h-4.3zM1225.1 553.2h4.3v4.3h-4.3zM1069.5 556.9h4.3v4.3h-4.3zM1058.4 560.6h4.3v4.3h-4.3zM1058.4 564.3h4.3v4.3h-4.3zM1062.1 564.3h4.3v4.3h-4.3zM1117.7 564.3h4.3v4.3h-4.3zM1084.3 571.7h4.3v4.3h-4.3zM1117.7 571.7h4.3v4.3h-4.3zM1121.4 571.7h4.3v4.3h-4.3zM1117.7 575.4h4.3v4.3h-4.3zM1121.4 575.4h4.3v4.3h-4.3zM1125.1 575.4h4.3v4.3h-4.3zM1184.4 575.4h4.3v4.3h-4.3zM1117.7 579.1h4.3v4.3h-4.3zM1121.4 579.1h4.3v4.3h-4.3zM1125.1 579.1h4.3v4.3h-4.3zM1076.9 582.8h4.3v4.3h-4.3zM1088.0 582.8h4.3v4.3h-4.3zM1121.4 582.8h4.3v4.3h-4.3zM1073.2 586.6h4.3v4.3h-4.3zM1076.9 586.6h4.3v4.3h-4.3zM1240.0 586.6h4.3v4.3h-4.3zM1091.8 594.0h4.3v4.3h-4.3zM1095.5 597.7h4.3v4.3h-4.3zM1080.6 601.4h4.3v4.3h-4.3zM1088.0 601.4h4.3v4.3h-4.3zM1132.5 601.4h4.3v4.3h-4.3zM1132.5 605.1h4.3v4.3h-4.3zM1054.7 616.2h4.3v4.3h-4.3zM1106.6 619.9h4.3v4.3h-4.3zM1054.7 623.6h4.3v4.3h-4.3zM1106.6 623.6h4.3v4.3h-4.3zM1099.2 631.0h4.3v4.3h-4.3zM1106.6 631.0h4.3v4.3h-4.3zM1073.2 642.1h4.3v4.3h-4.3zM1228.9 649.5h4.3v4.3h-4.3zM1232.6 649.5h4.3v4.3h-4.3zM1073.2 657.0h4.3v4.3h-4.3zM1139.9 660.7h4.3v4.3h-4.3zM1236.3 660.7h4.3v4.3h-4.3zM1136.2 664.4h4.3v4.3h-4.3zM1128.8 668.1h4.3v4.3h-4.3zM1147.3 671.8h4.3v4.3h-4.3zM1132.5 679.2h4.3v4.3h-4.3zM1088.0 682.9h4.3v4.3h-4.3zM1102.9 686.6h4.3v4.3h-4.3zM1195.5 686.6h4.3v4.3h-4.3zM1251.1 686.6h4.3v4.3h-4.3zM1258.5 686.6h4.3v4.3h-4.3z"/>
<path fill="#f4987a" d="M1221.4 482.8h4.3v4.3h-4.3zM1225.1 482.8h4.3v4.3h-4.3zM1228.9 482.8h4.3v4.3h-4.3zM1232.6 482.8h4.3v4.3h-4.3zM1221.4 486.5h4.3v4.3h-4.3zM1180.7 493.9h4.3v4.3h-4.3zM1184.4 493.9h4.3v4.3h-4.3zM1180.7 497.6h4.3v4.3h-4.3zM1184.4 497.6h4.3v4.3h-4.3zM1076.9 501.3h4.3v4.3h-4.3zM1184.4 501.3h4.3v4.3h-4.3zM1188.1 501.3h4.3v4.3h-4.3zM1069.5 505.0h4.3v4.3h-4.3zM1073.2 505.0h4.3v4.3h-4.3zM1076.9 505.0h4.3v4.3h-4.3zM1243.7 505.0h4.3v4.3h-4.3zM1069.5 508.7h4.3v4.3h-4.3zM1191.8 508.7h4.3v4.3h-4.3zM1240.0 508.7h4.3v4.3h-4.3zM1251.1 508.7h4.3v4.3h-4.3zM1080.6 512.4h4.3v4.3h-4.3zM1240.0 512.4h4.3v4.3h-4.3zM1243.7 516.1h4.3v4.3h-4.3zM1206.6 527.3h4.3v4.3h-4.3zM1258.5 527.3h4.3v4.3h-4.3zM1058.4 531.0h4.3v4.3h-4.3zM1251.1 531.0h4.3v4.3h-4.3zM1095.5 534.7h4.3v4.3h-4.3zM1099.2 534.7h4.3v4.3h-4.3zM1210.3 534.7h4.3v4.3h-4.3zM1254.8 534.7h4.3v4.3h-4.3zM1206.6 538.4h4.3v4.3h-4.3zM1210.3 538.4h4.3v4.3h-4.3zM1088.0 542.1h4.3v4.3h-4.3zM1099.2 542.1h4.3v4.3h-4.3zM1091.8 545.8h4.3v4.3h-4.3zM1217.7 549.5h4.3v4.3h-4.3zM1221.4 549.5h4.3v4.3h-4.3zM1221.4 553.2h4.3v4.3h-4.3zM1062.1 560.6h4.3v4.3h-4.3zM1114.0 568.0h4.3v4.3h-4.3zM1117.7 568.0h4.3v4.3h-4.3zM1114.0 571.7h4.3v4.3h-4.3zM1180.7 575.4h4.3v4.3h-4.3zM1091.8 579.1h4.3v4.3h-4.3zM1184.4 579.1h4.3v4.3h-4.3zM1088.0 586.6h4.3v4.3h-4.3zM1076.9 590.3h4.3v4.3h-4.3zM1080.6 590.3h4.3v4.3h-4.3zM1091.8 590.3h4.3v4.3h-4.3zM1076.9 594.0h4.3v4.3h-4.3zM1084.3 594.0h4.3v4.3h-4.3zM1095.5 594.0h4.3v4.3h-4.3zM1099.2 597.7h4.3v4.3h-4.3zM1139.9 597.7h4.3v4.3h-4.3zM1084.3 601.4h4.3v4.3h-4.3zM1143.6 601.4h4.3v4.3h-4.3zM1136.2 608.8h4.3v4.3h-4.3zM1139.9 608.8h4.3v4.3h-4.3zM1110.3 623.6h4.3v4.3h-4.3zM1258.5 623.6h4.3v4.3h-4.3zM1058.4 642.1h4.3v4.3h-4.3zM1065.8 642.1h4.3v4.3h-4.3zM1058.4 645.8h4.3v4.3h-4.3zM1073.2 649.5h4.3v4.3h-4.3zM1058.4 653.2h4.3v4.3h-4.3zM1058.4 657.0h4.3v4.3h-4.3zM1062.1 657.0h4.3v4.3h-4.3zM1147.3 664.4h4.3v4.3h-4.3zM1143.6 671.8h4.3v4.3h-4.3zM1128.8 675.5h4.3v4.3h-4.3zM1136.2 675.5h4.3v4.3h-4.3zM1251.1 682.9h4.3v4.3h-4.3zM1254.8 682.9h4.3v4.3h-4.3zM1088.0 686.6h4.3v4.3h-4.3zM1254.8 686.6h4.3v4.3h-4.3z"/>
<path fill="#f29072" d="M1225.1 486.5h4.3v4.3h-4.3zM1247.4 505.0h4.3v4.3h-4.3zM1073.2 508.7h4.3v4.3h-4.3zM1076.9 508.7h4.3v4.3h-4.3zM1080.6 508.7h4.3v4.3h-4.3zM1247.4 508.7h4.3v4.3h-4.3zM1069.5 512.4h4.3v4.3h-4.3zM1073.2 512.4h4.3v4.3h-4.3zM1076.9 512.4h4.3v4.3h-4.3zM1251.1 512.4h4.3v4.3h-4.3zM1073.2 516.1h4.3v4.3h-4.3zM1195.5 519.9h4.3v4.3h-4.3zM1206.6 531.0h4.3v4.3h-4.3zM1206.6 534.7h4.3v4.3h-4.3zM1091.8 538.4h4.3v4.3h-4.3zM1095.5 538.4h4.3v4.3h-4.3zM1099.2 538.4h4.3v4.3h-4.3zM1091.8 542.1h4.3v4.3h-4.3zM1095.5 542.1h4.3v4.3h-4.3zM1069.5 549.5h4.3v4.3h-4.3zM1073.2 556.9h4.3v4.3h-4.3zM1217.7 556.9h4.3v4.3h-4.3zM1221.4 556.9h4.3v4.3h-4.3zM1088.0 575.4h4.3v4.3h-4.3zM1088.0 579.1h4.3v4.3h-4.3zM1091.8 586.6h4.3v4.3h-4.3zM1099.2 590.3h4.3v4.3h-4.3zM1080.6 594.0h4.3v4.3h-4.3zM1099.2 594.0h4.3v4.3h-4.3zM1080.6 597.7h4.3v4.3h-4.3zM1084.3 597.7h4.3v4.3h-4.3zM1136.2 601.4h4.3v4.3h-4.3zM1143.6 605.1h4.3v4.3h-4.3zM1110.3 616.2h4.3v4.3h-4.3zM1117.7 623.6h4.3v4.3h-4.3zM1069.5 642.1h4.3v4.3h-4.3zM1073.2 645.8h4.3v4.3h-4.3zM1065.8 657.0h4.3v4.3h-4.3zM1069.5 657.0h4.3v4.3h-4.3zM1069.5 660.7h4.3v4.3h-4.3zM1143.6 660.7h4.3v4.3h-4.3zM1136.2 668.1h4.3v4.3h-4.3zM1080.6 671.8h4.3v4.3h-4.3zM1136.2 671.8h4.3v4.3h-4.3zM1139.9 671.8h4.3v4.3h-4.3z"/>
<path fill="#ef886b" d="M1180.7 490.2h4.3v4.3h-4.3zM1188.1 505.0h4.3v4.3h-4.3zM1191.8 505.0h4.3v4.3h-4.3zM1188.1 508.7h4.3v4.3h-4.3zM1202.9 531.0h4.3v4.3h-4.3zM1217.7 553.2h4.3v4.3h-4.3zM1076.9 556.9h4.3v4.3h-4.3zM1095.5 586.6h4.3v4.3h-4.3zM1095.5 590.3h4.3v4.3h-4.3zM1139.9 601.4h4.3v4.3h-4.3zM1136.2 605.1h4.3v4.3h-4.3zM1139.9 605.1h4.3v4.3h-4.3zM1099.2 623.6h4.3v4.3h-4.3zM1114.0 623.6h4.3v4.3h-4.3zM1099.2 627.3h4.3v4.3h-4.3zM1106.6 627.3h4.3v4.3h-4.3zM1102.9 631.0h4.3v4.3h-4.3zM1139.9 664.4h4.3v4.3h-4.3zM1132.5 668.1h4.3v4.3h-4.3zM1139.9 668.1h4.3v4.3h-4.3zM1143.6 668.1h4.3v4.3h-4.3zM1147.3 668.1h4.3v4.3h-4.3zM1128.8 671.8h4.3v4.3h-4.3zM1132.5 671.8h4.3v4.3h-4.3zM1132.5 675.5h4.3v4.3h-4.3z"/>
<path fill="#eb7d62" d="M1173.3 486.5h4.3v4.3h-4.3zM1177.0 486.5h4.3v4.3h-4.3zM1180.7 486.5h4.3v4.3h-4.3zM1054.7 523.6h4.3v4.3h-4.3zM1054.7 527.3h4.3v4.3h-4.3zM1073.2 553.2h4.3v4.3h-4.3zM1091.8 582.8h4.3v4.3h-4.3zM1110.3 619.9h4.3v4.3h-4.3zM1102.9 623.6h4.3v4.3h-4.3zM1102.9 627.3h4.3v4.3h-4.3zM1069.5 645.8h4.3v4.3h-4.3zM1058.4 649.5h4.3v4.3h-4.3zM1069.5 653.2h4.3v4.3h-4.3zM1143.6 664.4h4.3v4.3h-4.3z"/>
<path fill="#e7745b" d="M1177.0 490.2h4.3v4.3h-4.3zM1114.0 619.9h4.3v4.3h-4.3zM1117.7 619.9h4.3v4.3h-4.3zM1062.1 653.2h4.3v4.3h-4.3z"/>
<path fill="#e36b54" d="M1114.0 616.2h4.3v4.3h-4.3zM1065.8 645.8h4.3v4.3h-4.3zM1069.5 649.5h4.3v4.3h-4.3z"/>
<path fill="#dd5f4b" d="M1062.1 645.8h4.3v4.3h-4.3z"/>
<path fill="#d75445" d="M1062.1 649.5h4.3v4.3h-4.3zM1065.8 649.5h4.3v4.3h-4.3z"/>
<path fill="#d1493f" d="M1065.8 653.2h4.3v4.3h-4.3z"/>
</g></g>
</g>
<g transform="matrix(0.98964 0 0 1 13.740 0)">
<rect x="1326.05" y="483.10" width="207.50" height="207.50" fill="#dadce0"/>
<rect x="1326.05" y="483.10" width="207.50" height="207.50" fill="url(#pt_lgb1)" opacity="0.45"/>
<rect x="1326.05" y="483.10" width="207.50" height="207.50" fill="url(#pt_lgb2)" opacity="0.45"/>
</g>
<g transform="matrix(0.99807 0 0 1 2.994 0)">
<rect x="1552.90" y="483.10" width="207.50" height="207.50" fill="#fef2ed"/>
<rect x="1552.90" y="483.10" width="207.50" height="207.50" fill="url(#pt_lb1)" opacity="1.00"/>
<rect x="1552.90" y="483.10" width="207.50" height="207.50" fill="url(#pt_lb2)" opacity="1.00"/>
</g>
<g transform="matrix(0.98747 0 0 1 22.329 0)">
<rect x="1782.00" y="483.10" width="207.50" height="207.50" fill="#fef2ed"/>
<rect x="1782.00" y="483.10" width="207.50" height="207.50" fill="url(#pt_lb1)" opacity="1.00"/>
<rect x="1782.00" y="483.10" width="207.50" height="207.50" fill="url(#pt_lb2)" opacity="1.00"/>
</g>
<text x="1030.80" y="586.85" font-size="22.90" text-anchor="middle" font-weight="normal" font-family="'DejaVu Sans', 'Liberation Sans', sans-serif" transform="rotate(-90 1030.80 586.85)">Surf1+Surf2</text>
<text x="1301.30" y="586.85" font-size="22.90" text-anchor="middle" font-weight="normal" font-family="'DejaVu Sans', 'Liberation Sans', sans-serif" transform="rotate(-90 1301.30 586.85)">Grad1+Grad2</text>
<text x="1158.45" y="723.60" font-size="22.90" text-anchor="middle" font-weight="normal" font-family="'DejaVu Sans', 'Liberation Sans', sans-serif">Original</text>
<text x="1428.72" y="723.60" font-size="22.90" text-anchor="middle" font-weight="normal" font-family="'DejaVu Sans', 'Liberation Sans', sans-serif">Backprop-Grad</text>
<text x="1656.45" y="723.60" font-size="22.90" text-anchor="middle" font-weight="normal" font-family="'DejaVu Sans', 'Liberation Sans', sans-serif">Positive Saliency</text>
<text x="1884.45" y="723.60" font-size="22.90" text-anchor="middle" font-weight="normal" font-family="'DejaVu Sans', 'Liberation Sans', sans-serif">Negative Saliency</text>
<rect x="55.90" y="1218.20" width="476.00" height="20.80" fill="url(#cb17)" stroke="#000" stroke-width="1.80"/>
<line x1="56.90" y1="1239.90" x2="56.90" y2="1245.20" stroke="#000" stroke-width="1.80"/>
<line x1="527.10" y1="1239.90" x2="527.10" y2="1245.20" stroke="#000" stroke-width="1.80"/>
<rect x="554.50" y="1218.20" width="433.20" height="20.80" fill="url(#cb18)" stroke="#000" stroke-width="1.80"/>
<line x1="554.20" y1="1239.90" x2="554.20" y2="1245.20" stroke="#000" stroke-width="1.80"/>
<line x1="984.30" y1="1239.90" x2="984.30" y2="1245.20" stroke="#000" stroke-width="1.80"/>
<text x="15.30" y="1241.60" font-size="36.30" text-anchor="start" font-weight="bold" font-family="'Liberation Sans', Arial, sans-serif">g)</text>
<g transform="matrix(0.99711 0 0 1 0.159 0)">
<g clip-path="url(#cp19)">
<rect x="55.00" y="1254.40" width="207.50" height="207.50" fill="url(#rg20)"/>
<circle cx="188.84" cy="1311.46" r="10.38" fill="url(#sp21)"/>
<circle cx="194.03" cy="1314.57" r="7.06" fill="url(#sp22)"/>
<circle cx="205.44" cy="1288.64" r="3.32" fill="url(#sp23)"/>
<circle cx="241.75" cy="1262.70" r="4.56" fill="url(#sp24)"/>
<circle cx="254.20" cy="1275.15" r="3.32" fill="url(#sp25)"/>
<circle cx="231.38" cy="1387.20" r="6.22" fill="url(#sp26)"/>
<circle cx="233.45" cy="1318.72" r="4.15" fill="url(#sp27)"/>
<circle cx="169.12" cy="1327.02" r="3.11" fill="url(#sp28)"/>
</g>
</g>
<g transform="matrix(0.98964 0 0 1 3.378 0)">
<rect x="326.05" y="1254.40" width="207.50" height="207.50" fill="#f0c2ad"/>
<g clip-path="url(#cp29)">
<use href="#rings_21187" transform="translate(422.5 1354.6) rotate(67)"/>
</g>
</g>
<g transform="matrix(0.99807 0 0 1 1.066 0)">
<rect x="552.90" y="1254.40" width="207.50" height="207.50" fill="#fef3ef"/>
<g clip-path="url(#cp30)">
<use href="#rings_6725" transform="translate(649.4 1354.6) rotate(178)"/>
</g>
</g>
<g transform="matrix(0.98747 0 0 1 9.799 0)">
<rect x="782.00" y="1254.40" width="207.50" height="207.50" fill="#fef3ef"/>
<g clip-path="url(#cp31)">
<use href="#rings_6725" transform="translate(878.5 1354.6) rotate(289)"/>
</g>
</g>
<text x="30.80" y="1358.15" font-size="22.90" text-anchor="middle" font-weight="normal" font-family="'DejaVu Sans', 'Liberation Sans', sans-serif" transform="rotate(-90 30.80 1358.15)">Surf1</text>
<text x="301.30" y="1358.15" font-size="22.90" text-anchor="middle" font-weight="normal" font-family="'DejaVu Sans', 'Liberation Sans', sans-serif" transform="rotate(-90 301.30 1358.15)">Grad1</text>
<g transform="matrix(0.99711 0 0 1 0.159 0)">
<g clip-path="url(#cp32)">
<rect x="55.00" y="1477.50" width="207.50" height="207.50" fill="url(#rg33)"/>
<rect x="55.00" y="1477.50" width="207.50" height="207.50" fill="url(#rg34)" mask="url(#mk36)"/>
<rect x="55.00" y="1477.50" width="207.50" height="207.50" fill="url(#rg37)" mask="url(#mk39)"/>
</g>
</g>
<g transform="matrix(0.98964 0 0 1 3.378 0)">
<rect x="326.05" y="1477.50" width="207.50" height="207.50" fill="#dddcdc"/>
<g clip-path="url(#cp40)">
<use href="#rings_21187" transform="translate(422.5 1577.7) rotate(104)"/>
</g>
</g>
<g transform="matrix(0.99807 0 0 1 1.066 0)">
<rect x="552.90" y="1477.50" width="207.50" height="207.50" fill="#fef3ef"/>
<g clip-path="url(#cp41)">
<use href="#rings_6725" transform="translate(662.3 1575.0) rotate(215)"/>
</g>
</g>
<g transform="matrix(0.98747 0 0 1 9.799 0)">
<rect x="782.00" y="1477.50" width="207.50" height="207.50" fill="#fef3ef"/>
<g clip-path="url(#cp42)">
<use href="#rings_6725" transform="translate(891.4 1575.0) rotate(326)"/>
</g>
</g>
<text x="30.80" y="1581.25" font-size="22.90" text-anchor="middle" font-weight="normal" font-family="'DejaVu Sans', 'Liberation Sans', sans-serif" transform="rotate(-90 30.80 1581.25)">Surf2</text>
<text x="301.30" y="1581.25" font-size="22.90" text-anchor="middle" font-weight="normal" font-family="'DejaVu Sans', 'Liberation Sans', sans-serif" transform="rotate(-90 301.30 1581.25)">Grad2</text>
<g transform="matrix(0.99711 0 0 1 0.159 0)">
<g clip-path="url(#cp43)">
<rect x="55.00" y="1700.40" width="207.50" height="207.50" fill="url(#rg44)"/>
<rect x="55.00" y="1700.40" width="207.50" height="207.50" fill="url(#rg45)" mask="url(#mk47)"/>
<rect x="55.00" y="1700.40" width="207.50" height="207.50" fill="url(#rg48)" mask="url(#mk50)"/>
<circle cx="188.84" cy="1757.46" r="10.38" fill="url(#sp51)"/>
<circle cx="194.03" cy="1760.57" r="7.06" fill="url(#sp52)"/>
<circle cx="150.45" cy="1802.07" r="6.22" fill="url(#sp53)"/>
<circle cx="164.98" cy="1796.89" r="6.22" fill="url(#sp54)"/>
<circle cx="241.75" cy="1708.70" r="4.56" fill="url(#sp55)"/>
<circle cx="254.20" cy="1721.15" r="3.32" fill="url(#sp56)"/>
<circle cx="205.44" cy="1734.64" r="2.91" fill="url(#sp57)"/>
</g>
</g>
<g transform="matrix(0.98964 0 0 1 3.378 0)">
<rect x="326.05" y="1700.40" width="207.50" height="207.50" fill="#ecccbe"/>
<g clip-path="url(#cp58)">
<use href="#rings_21187" transform="translate(429.2 1798.5) rotate(141)"/>
</g>
</g>
<g transform="matrix(0.99807 0 0 1 1.066 0)">
<rect x="552.90" y="1700.40" width="207.50" height="207.50" fill="#fef3ef"/>
<g clip-path="url(#cp59)">
<use href="#rings_6725" transform="translate(656.0 1798.5) rotate(252)"/>
</g>
</g>
<g transform="matrix(0.98747 0 0 1 9.799 0)">
<rect x="782.00" y="1700.40" width="207.50" height="207.50" fill="#fef3ef"/>
<g clip-path="url(#cp60)">
<use href="#rings_6725" transform="translate(885.1 1798.5) rotate(3)"/>
</g>
</g>
<text x="30.80" y="1804.15" font-size="22.90" text-anchor="middle" font-weight="normal" font-family="'DejaVu Sans', 'Liberation Sans', sans-serif" transform="rotate(-90 30.80 1804.15)">Surf1+Surf2</text>
<text x="301.30" y="1804.15" font-size="22.90" text-anchor="middle" font-weight="normal" font-family="'DejaVu Sans', 'Liberation Sans', sans-serif" transform="rotate(-90 301.30 1804.15)">Grad1+Grad2</text>
<text x="158.45" y="1940.60" font-size="22.90" text-anchor="middle" font-weight="normal" font-family="'DejaVu Sans', 'Liberation Sans', sans-serif">Original</text>
<text x="428.73" y="1940.60" font-size="22.90" text-anchor="middle" font-weight="normal" font-family="'DejaVu Sans', 'Liberation Sans', sans-serif">Backprop-Grad</text>
<text x="656.45" y="1940.60" font-size="22.90" text-anchor="middle" font-weight="normal" font-family="'DejaVu Sans', 'Liberation Sans', sans-serif">Positive Saliency</text>
<text x="884.45" y="1940.60" font-size="22.90" text-anchor="middle" font-weight="normal" font-family="'DejaVu Sans', 'Liberation Sans', sans-serif">Negative Saliency</text>
<rect x="1055.90" y="1218.20" width="476.00" height="20.80" fill="url(#cb61)" stroke="#000" stroke-width="1.80"/>
<line x1="1056.90" y1="1239.90" x2="1056.90" y2="1245.20" stroke="#000" stroke-width="1.80"/>
<line x1="1527.10" y1="1239.90" x2="1527.10" y2="1245.20" stroke="#000" stroke-width="1.80"/>
<rect x="1554.50" y="1218.20" width="433.20" height="20.80" fill="url(#cb62)" stroke="#000" stroke-width="1.80"/>
<line x1="1554.20" y1="1239.90" x2="1554.20" y2="1245.20" stroke="#000" stroke-width="1.80"/>
<line x1="1984.30" y1="1239.90" x2="1984.30" y2="1245.20" stroke="#000" stroke-width="1.80"/>
<text x="1015.30" y="1241.60" font-size="36.30" text-anchor="start" font-weight="bold" font-family="'Liberation Sans', Arial, sans-serif">h)</text>
<g transform="matrix(0.99711 0 0 1 3.051 0)">
<g clip-path="url(#cp63)">
<rect x="1055.00" y="1254.40" width="207.50" height="207.50" fill="url(#rg64)"/>
<circle cx="1198.17" cy="1391.35" r="10.38" fill="url(#sp65)"/>
<circle cx="1202.12" cy="1392.80" r="7.06" fill="url(#sp66)"/>
<circle cx="1227.22" cy="1403.80" r="3.32" fill="url(#sp67)"/>
<circle cx="1127.62" cy="1432.85" r="6.22" fill="url(#sp68)"/>
<circle cx="1179.50" cy="1437.00" r="4.56" fill="url(#sp69)"/>
<circle cx="1254.20" cy="1437.00" r="4.98" fill="url(#sp70)"/>
<circle cx="1241.75" cy="1455.67" r="3.32" fill="url(#sp71)"/>
<circle cx="1187.80" cy="1407.95" r="4.56" fill="url(#sp72)"/>
<circle cx="1191.95" cy="1364.37" r="4.15" fill="url(#sp73)"/>
</g>
</g>
<g transform="matrix(0.98964 0 0 1 13.740 0)">
<rect x="1326.05" y="1254.40" width="207.50" height="207.50" fill="#e8d4cb"/>
<g clip-path="url(#cp74)">
<use href="#rings_21187" transform="translate(1432.9 1348.8) rotate(77)"/>
</g>
</g>
<g transform="matrix(0.99807 0 0 1 2.994 0)">
<rect x="1552.90" y="1254.40" width="207.50" height="207.50" fill="#fef3ef"/>
<g clip-path="url(#cp75)">
<use href="#rings_6725" transform="translate(1659.8 1348.8) rotate(188)"/>
</g>
</g>
<g transform="matrix(0.98747 0 0 1 22.329 0)">
<rect x="1782.00" y="1254.40" width="207.50" height="207.50" fill="#fef3ef"/>
<g clip-path="url(#cp76)">
<use href="#rings_6725" transform="translate(1888.9 1348.8) rotate(299)"/>
</g>
</g>
<text x="1030.80" y="1358.15" font-size="22.90" text-anchor="middle" font-weight="normal" font-family="'DejaVu Sans', 'Liberation Sans', sans-serif" transform="rotate(-90 1030.80 1358.15)">Surf1</text>
<text x="1301.30" y="1358.15" font-size="22.90" text-anchor="middle" font-weight="normal" font-family="'DejaVu Sans', 'Liberation Sans', sans-serif" transform="rotate(-90 1301.30 1358.15)">Grad1</text>
<g transform="matrix(0.99711 0 0 1 3.051 0)">
<g clip-path="url(#cp77)">
<rect x="1055.00" y="1477.50" width="207.50" height="207.50" fill="url(#rg78)"/>
<rect x="1055.00" y="1477.50" width="207.50" height="207.50" fill="url(#rg79)" mask="url(#mk81)"/>
<rect x="1055.00" y="1477.50" width="207.50" height="207.50" fill="url(#rg82)" mask="url(#mk84)"/>
</g>
</g>
<g transform="matrix(0.98964 0 0 1 13.740 0)">
<rect x="1326.05" y="1477.50" width="207.50" height="207.50" fill="#ccd9ee"/>
<g clip-path="url(#cp85)">
<use href="#rings_21187" transform="translate(1435.4 1575.0) rotate(114)"/>
</g>
</g>
<g transform="matrix(0.99807 0 0 1 2.994 0)">
<rect x="1552.90" y="1477.50" width="207.50" height="207.50" fill="#fef3ef"/>
<g clip-path="url(#cp86)">
<use href="#rings_6725" transform="translate(1662.3 1575.0) rotate(225)"/>
</g>
</g>
<g transform="matrix(0.98747 0 0 1 22.329 0)">
<rect x="1782.00" y="1477.50" width="207.50" height="207.50" fill="#fef3ef"/>
<g clip-path="url(#cp87)">
<use href="#rings_6725" transform="translate(1891.4 1575.0) rotate(336)"/>
</g>
</g>
<text x="1030.80" y="1581.25" font-size="22.90" text-anchor="middle" font-weight="normal" font-family="'DejaVu Sans', 'Liberation Sans', sans-serif" transform="rotate(-90 1030.80 1581.25)">Surf2</text>
<text x="1301.30" y="1581.25" font-size="22.90" text-anchor="middle" font-weight="normal" font-family="'DejaVu Sans', 'Liberation Sans', sans-serif" transform="rotate(-90 1301.30 1581.25)">Grad2</text>
<g transform="matrix(0.99711 0 0 1 3.051 0)">
<g clip-path="url(#cp88)">
<rect x="1055.00" y="1700.40" width="207.50" height="207.50" fill="url(#rg89)"/>
<rect x="1055.00" y="1700.40" width="207.50" height="207.50" fill="url(#rg90)" mask="url(#mk92)"/>
<rect x="1055.00" y="1700.40" width="207.50" height="207.50" fill="url(#rg93)" mask="url(#mk95)"/>
<circle cx="1198.17" cy="1837.35" r="10.38" fill="url(#sp96)"/>
<circle cx="1201.91" cy="1840.05" r="7.06" fill="url(#sp97)"/>
<circle cx="1163.52" cy="1797.30" r="7.26" fill="url(#sp98)"/>
<circle cx="1254.20" cy="1883.00" r="4.98" fill="url(#sp99)"/>
<circle cx="1241.75" cy="1901.67" r="3.32" fill="url(#sp100)"/>
<circle cx="1227.22" cy="1849.80" r="2.91" fill="url(#sp101)"/>
</g>
</g>
<g transform="matrix(0.98964 0 0 1 13.740 0)">
<rect x="1326.05" y="1700.40" width="207.50" height="207.50" fill="#e8d0c6"/>
<g clip-path="url(#cp102)">
<use href="#rings_21187" transform="translate(1434.6 1797.3) rotate(151)"/>
</g>
</g>
<g transform="matrix(0.99807 0 0 1 2.994 0)">
<rect x="1552.90" y="1700.40" width="207.50" height="207.50" fill="#fef3ef"/>
<g clip-path="url(#cp103)">
<use href="#rings_6725" transform="translate(1661.4 1797.3) rotate(262)"/>
</g>
</g>
<g transform="matrix(0.98747 0 0 1 22.329 0)">
<rect x="1782.00" y="1700.40" width="207.50" height="207.50" fill="#fef3ef"/>
<g clip-path="url(#cp104)">
<use href="#rings_6725" transform="translate(1890.5 1797.3) rotate(13)"/>
</g>
</g>
<text x="1030.80" y="1804.15" font-size="22.90" text-anchor="middle" font-weight="normal" font-family="'DejaVu Sans', 'Liberation Sans', sans-serif" transform="rotate(-90 1030.80 1804.15)">Surf1+Surf2</text>
<text x="1301.30" y="1804.15" font-size="22.90" text-anchor="middle" font-weight="normal" font-family="'DejaVu Sans', 'Liberation Sans', sans-serif" transform="rotate(-90 1301.30 1804.15)">Grad1+Grad2</text>
<text x="1158.45" y="1940.60" font-size="22.90" text-anchor="middle" font-weight="normal" font-family="'DejaVu Sans', 'Liberation Sans', sans-serif">Original</text>
<text x="1428.72" y="1940.60" font-size="22.90" text-anchor="middle" font-weight="normal" font-family="'DejaVu Sans', 'Liberation Sans', sans-serif">Backprop-Grad</text>
<text x="1656.45" y="1940.60" font-size="22.90" text-anchor="middle" font-weight="normal" font-family="'DejaVu Sans', 'Liberation Sans', sans-serif">Positive Saliency</text>
<text x="1884.45" y="1940.60" font-size="22.90" text-anchor="middle" font-weight="normal" font-family="'DejaVu Sans', 'Liberation Sans', sans-serif">Negative Saliency</text>
<rect x="128.53" y="914.97" width="70.64" height="191.13" fill="#cb7869"/>
<text x="163.85" y="907.47" font-size="31.60" text-anchor="middle" font-weight="normal" font-family="'DejaVu Sans', 'Liberation Sans', sans-serif">0.147</text>
<rect x="216.83" y="862.97" width="70.64" height="243.13" fill="#cb7869"/>
<text x="252.15" y="855.47" font-size="31.60" text-anchor="middle" font-weight="normal" font-family="'DejaVu Sans', 'Liberation Sans', sans-serif">0.187</text>
<rect x="305.13" y="922.77" width="70.64" height="183.33" fill="#cb7869"/>
<text x="340.45" y="915.27" font-size="31.60" text-anchor="middle" font-weight="normal" font-family="'DejaVu Sans', 'Liberation Sans', sans-serif">0.141</text>
<rect x="393.43" y="857.76" width="70.64" height="248.34" fill="#cb7869"/>
<text x="428.75" y="850.26" font-size="31.60" text-anchor="middle" font-weight="normal" font-family="'DejaVu Sans', 'Liberation Sans', sans-serif">0.191</text>
<rect x="144.70" y="764.20" width="160.10" height="50.40" fill="#fff" stroke="#000" stroke-width="2.00" rx="9.00"/>
<text x="224.75" y="800.40" font-size="31.60" text-anchor="middle" font-weight="normal" font-family="'DejaVu Sans', 'Liberation Sans', sans-serif">P=1 MPa</text>
<rect x="119.70" y="755.70" width="353.20" height="350.40" fill="none" stroke="#000" stroke-width="2.00"/>
<line x1="112.70" y1="1106.10" x2="119.70" y2="1106.10" stroke="#000" stroke-width="2.00"/>
<text x="105.70" y="1118.11" font-size="31.60" text-anchor="end" font-weight="normal" font-family="'DejaVu Sans', 'Liberation Sans', sans-serif">0.0</text>
<line x1="112.70" y1="976.08" x2="119.70" y2="976.08" stroke="#000" stroke-width="2.00"/>
<text x="105.70" y="988.09" font-size="31.60" text-anchor="end" font-weight="normal" font-family="'DejaVu Sans', 'Liberation Sans', sans-serif">0.1</text>
<line x1="112.70" y1="846.06" x2="119.70" y2="846.06" stroke="#000" stroke-width="2.00"/>
<text x="105.70" y="858.07" font-size="31.60" text-anchor="end" font-weight="normal" font-family="'DejaVu Sans', 'Liberation Sans', sans-serif">0.2</text>
<line x1="163.85" y1="1106.10" x2="163.85" y2="1113.10" stroke="#000" stroke-width="2.00"/>
<text x="163.85" y="1145.10" font-size="31.60" text-anchor="middle" font-weight="normal" font-family="'DejaVu Sans', 'Liberation Sans', sans-serif">0</text>
<line x1="252.15" y1="1106.10" x2="252.15" y2="1113.10" stroke="#000" stroke-width="2.00"/>
<text x="252.15" y="1145.10" font-size="31.60" text-anchor="middle" font-weight="normal" font-family="'DejaVu Sans', 'Liberation Sans', sans-serif">90</text>
<line x1="340.45" y1="1106.10" x2="340.45" y2="1113.10" stroke="#000" stroke-width="2.00"/>
<text x="340.45" y="1145.10" font-size="31.60" text-anchor="middle" font-weight="normal" font-family="'DejaVu Sans', 'Liberation Sans', sans-serif">180</text>
<line x1="428.75" y1="1106.10" x2="428.75" y2="1113.10" stroke="#000" stroke-width="2.00"/>
<text x="428.75" y="1145.10" font-size="31.60" text-anchor="middle" font-weight="normal" font-family="'DejaVu Sans', 'Liberation Sans', sans-serif">270</text>
<text x="296.30" y="1184.50" font-size="31.60" text-anchor="middle" font-weight="normal" font-family="'DejaVu Sans', 'Liberation Sans', sans-serif">Angle (°)</text>
<text x="40.50" y="930.90" font-size="31.60" text-anchor="middle" font-weight="normal" font-family="'DejaVu Sans', 'Liberation Sans', sans-serif" transform="rotate(-90 40.50 930.90)">Area (‰)</text>
<text x="15.00" y="765.40" font-size="36.30" text-anchor="start" font-weight="bold" font-family="'Liberation Sans', Arial, sans-serif">c)</text>
<rect x="643.32" y="876.27" width="68.92" height="232.63" fill="#78a8be"/>
<text x="677.78" y="868.77" font-size="31.60" text-anchor="middle" font-weight="normal" font-family="'DejaVu Sans', 'Liberation Sans', sans-serif">681.0</text>
<rect x="729.46" y="926.11" width="68.92" height="182.79" fill="#78a8be"/>
<text x="763.92" y="918.61" font-size="31.60" text-anchor="middle" font-weight="normal" font-family="'DejaVu Sans', 'Liberation Sans', sans-serif">535.1</text>
<rect x="815.62" y="865.82" width="68.92" height="243.08" fill="#78a8be"/>
<text x="850.08" y="858.32" font-size="31.60" text-anchor="middle" font-weight="normal" font-family="'DejaVu Sans', 'Liberation Sans', sans-serif">711.6</text>
<rect x="901.76" y="929.90" width="68.92" height="179.00" fill="#78a8be"/>
<text x="936.22" y="922.40" font-size="31.60" text-anchor="middle" font-weight="normal" font-family="'DejaVu Sans', 'Liberation Sans', sans-serif">524.0</text>
<rect x="659.30" y="775.60" width="156.40" height="48.80" fill="#fff" stroke="#000" stroke-width="2.00" rx="9.00"/>
<text x="737.50" y="811.00" font-size="31.60" text-anchor="middle" font-weight="normal" font-family="'DejaVu Sans', 'Liberation Sans', sans-serif">P=1 MPa</text>
<rect x="634.70" y="767.30" width="344.60" height="341.60" fill="none" stroke="#000" stroke-width="2.00"/>
<line x1="627.70" y1="1108.90" x2="634.70" y2="1108.90" stroke="#000" stroke-width="2.00"/>
<text x="620.70" y="1120.91" font-size="31.60" text-anchor="end" font-weight="normal" font-family="'DejaVu Sans', 'Liberation Sans', sans-serif">0</text>
<line x1="627.70" y1="1040.58" x2="634.70" y2="1040.58" stroke="#000" stroke-width="2.00"/>
<text x="620.70" y="1052.59" font-size="31.60" text-anchor="end" font-weight="normal" font-family="'DejaVu Sans', 'Liberation Sans', sans-serif">200</text>
<line x1="627.70" y1="972.26" x2="634.70" y2="972.26" stroke="#000" stroke-width="2.00"/>
<text x="620.70" y="984.27" font-size="31.60" text-anchor="end" font-weight="normal" font-family="'DejaVu Sans', 'Liberation Sans', sans-serif">400</text>
<line x1="627.70" y1="903.94" x2="634.70" y2="903.94" stroke="#000" stroke-width="2.00"/>
<text x="620.70" y="915.95" font-size="31.60" text-anchor="end" font-weight="normal" font-family="'DejaVu Sans', 'Liberation Sans', sans-serif">600</text>
<line x1="627.70" y1="835.62" x2="634.70" y2="835.62" stroke="#000" stroke-width="2.00"/>
<text x="620.70" y="847.63" font-size="31.60" text-anchor="end" font-weight="normal" font-family="'DejaVu Sans', 'Liberation Sans', sans-serif">800</text>
<line x1="627.70" y1="767.30" x2="634.70" y2="767.30" stroke="#000" stroke-width="2.00"/>
<text x="620.70" y="779.31" font-size="31.60" text-anchor="end" font-weight="normal" font-family="'DejaVu Sans', 'Liberation Sans', sans-serif">1000</text>
<line x1="677.78" y1="1108.90" x2="677.78" y2="1115.90" stroke="#000" stroke-width="2.00"/>
<text x="677.78" y="1147.90" font-size="31.60" text-anchor="middle" font-weight="normal" font-family="'DejaVu Sans', 'Liberation Sans', sans-serif">0</text>
<line x1="763.92" y1="1108.90" x2="763.92" y2="1115.90" stroke="#000" stroke-width="2.00"/>
<text x="763.92" y="1147.90" font-size="31.60" text-anchor="middle" font-weight="normal" font-family="'DejaVu Sans', 'Liberation Sans', sans-serif">90</text>
<line x1="850.08" y1="1108.90" x2="850.08" y2="1115.90" stroke="#000" stroke-width="2.00"/>
<text x="850.08" y="1147.90" font-size="31.60" text-anchor="middle" font-weight="normal" font-family="'DejaVu Sans', 'Liberation Sans', sans-serif">180</text>
<line x1="936.22" y1="1108.90" x2="936.22" y2="1115.90" stroke="#000" stroke-width="2.00"/>
<text x="936.22" y="1147.90" font-size="31.60" text-anchor="middle" font-weight="normal" font-family="'DejaVu Sans', 'Liberation Sans', sans-serif">270</text>
<text x="807.00" y="1186.50" font-size="31.60" text-anchor="middle" font-weight="normal" font-family="'DejaVu Sans', 'Liberation Sans', sans-serif">Angle (°)</text>
<text x="527.00" y="938.10" font-size="31.60" text-anchor="middle" font-weight="normal" font-family="'DejaVu Sans', 'Liberation Sans', sans-serif" transform="rotate(-90 527.00 938.10)">TCR (mm²WK⁻¹)</text>
<text x="498.00" y="765.40" font-size="36.30" text-anchor="start" font-weight="bold" font-family="'Liberation Sans', Arial, sans-serif">d)</text>
<rect x="1159.50" y="764.30" width="160.00" height="49.80" fill="#fff" stroke="#000" stroke-width="2.00" rx="9.00"/>
<text x="1239.50" y="800.20" font-size="31.60" text-anchor="middle" font-weight="normal" font-family="'DejaVu Sans', 'Liberation Sans', sans-serif">P=1 MPa</text>
<path d="M1150.00 1090.20 L1355.00 1052.00 L1421.10 796.90 L1470.90 771.10" fill="none" stroke="#dc6c58" stroke-width="6.20" stroke-linejoin="round"/>
<circle cx="1150.00" cy="1090.20" r="9.60" fill="#f3ae90" stroke="#fff" stroke-width="2.00"/>
<circle cx="1355.00" cy="1052.00" r="9.60" fill="#f3ae90" stroke="#fff" stroke-width="2.00"/>
<circle cx="1421.10" cy="796.90" r="9.60" fill="#f3ae90" stroke="#fff" stroke-width="2.00"/>
<circle cx="1470.90" cy="771.10" r="9.60" fill="#f3ae90" stroke="#fff" stroke-width="2.00"/>
<rect x="1134.30" y="755.40" width="353.50" height="351.10" fill="none" stroke="#000" stroke-width="2.00"/>
<line x1="1127.30" y1="1096.40" x2="1134.30" y2="1096.40" stroke="#000" stroke-width="2.00"/>
<text x="1120.30" y="1108.41" font-size="31.60" text-anchor="end" font-weight="normal" font-family="'DejaVu Sans', 'Liberation Sans', sans-serif">0.14</text>
<line x1="1127.30" y1="968.80" x2="1134.30" y2="968.80" stroke="#000" stroke-width="2.00"/>
<text x="1120.30" y="980.81" font-size="31.60" text-anchor="end" font-weight="normal" font-family="'DejaVu Sans', 'Liberation Sans', sans-serif">0.16</text>
<line x1="1127.30" y1="841.20" x2="1134.30" y2="841.20" stroke="#000" stroke-width="2.00"/>
<text x="1120.30" y="853.21" font-size="31.60" text-anchor="end" font-weight="normal" font-family="'DejaVu Sans', 'Liberation Sans', sans-serif">0.18</text>
<line x1="1238.00" y1="1106.50" x2="1238.00" y2="1113.50" stroke="#000" stroke-width="2.00"/>
<text x="1238.00" y="1145.50" font-size="31.60" text-anchor="middle" font-weight="normal" font-family="'DejaVu Sans', 'Liberation Sans', sans-serif">−125</text>
<line x1="1418.10" y1="1106.50" x2="1418.10" y2="1113.50" stroke="#000" stroke-width="2.00"/>
<text x="1418.10" y="1145.50" font-size="31.60" text-anchor="middle" font-weight="normal" font-family="'DejaVu Sans', 'Liberation Sans', sans-serif">−120</text>
<text x="1311.05" y="1184.50" font-size="31.60" text-anchor="middle" font-weight="normal" font-family="'DejaVu Sans', 'Liberation Sans', sans-serif">Sum of Grad</text>
<text x="1033.00" y="930.95" font-size="31.60" text-anchor="middle" font-weight="normal" font-family="'DejaVu Sans', 'Liberation Sans', sans-serif" transform="rotate(-90 1033.00 930.95)">Area (‰)</text>
<text x="1004.00" y="765.40" font-size="36.30" text-anchor="start" font-weight="bold" font-family="'Liberation Sans', Arial, sans-serif">e)</text>
<rect x="1657.80" y="1044.60" width="159.40" height="49.50" fill="#fff" stroke="#000" stroke-width="2.00" rx="9.00"/>
<text x="1737.50" y="1080.35" font-size="31.60" text-anchor="middle" font-weight="normal" font-family="'DejaVu Sans', 'Liberation Sans', sans-serif">P=1 MPa</text>
<path d="M1648.00 771.70 L1852.50 823.60 L1918.50 1071.30 L1968.90 1090.20" fill="none" stroke="#6cacca" stroke-width="6.20" stroke-linejoin="round"/>
<circle cx="1648.00" cy="771.70" r="9.60" fill="#a3d7e6" stroke="#fff" stroke-width="2.00"/>
<circle cx="1852.50" cy="823.60" r="9.60" fill="#a3d7e6" stroke="#fff" stroke-width="2.00"/>
<circle cx="1918.50" cy="1071.30" r="9.60" fill="#a3d7e6" stroke="#fff" stroke-width="2.00"/>
<circle cx="1968.90" cy="1090.20" r="9.60" fill="#a3d7e6" stroke="#fff" stroke-width="2.00"/>
<rect x="1632.00" y="755.40" width="353.20" height="351.10" fill="none" stroke="#000" stroke-width="2.00"/>
<line x1="1625.00" y1="1046.09" x2="1632.00" y2="1046.09" stroke="#000" stroke-width="2.00"/>
<text x="1618.00" y="1058.10" font-size="31.60" text-anchor="end" font-weight="normal" font-family="'DejaVu Sans', 'Liberation Sans', sans-serif">550</text>
<line x1="1625.00" y1="961.06" x2="1632.00" y2="961.06" stroke="#000" stroke-width="2.00"/>
<text x="1618.00" y="973.07" font-size="31.60" text-anchor="end" font-weight="normal" font-family="'DejaVu Sans', 'Liberation Sans', sans-serif">600</text>
<line x1="1625.00" y1="876.03" x2="1632.00" y2="876.03" stroke="#000" stroke-width="2.00"/>
<text x="1618.00" y="888.04" font-size="31.60" text-anchor="end" font-weight="normal" font-family="'DejaVu Sans', 'Liberation Sans', sans-serif">650</text>
<line x1="1625.00" y1="791.00" x2="1632.00" y2="791.00" stroke="#000" stroke-width="2.00"/>
<text x="1618.00" y="803.01" font-size="31.60" text-anchor="end" font-weight="normal" font-family="'DejaVu Sans', 'Liberation Sans', sans-serif">700</text>
<line x1="1735.70" y1="1106.50" x2="1735.70" y2="1113.50" stroke="#000" stroke-width="2.00"/>
<text x="1735.70" y="1145.50" font-size="31.60" text-anchor="middle" font-weight="normal" font-family="'DejaVu Sans', 'Liberation Sans', sans-serif">−125</text>
<line x1="1915.60" y1="1106.50" x2="1915.60" y2="1113.50" stroke="#000" stroke-width="2.00"/>
<text x="1915.60" y="1145.50" font-size="31.60" text-anchor="middle" font-weight="normal" font-family="'DejaVu Sans', 'Liberation Sans', sans-serif">−120</text>
<text x="1808.60" y="1184.50" font-size="31.60" text-anchor="middle" font-weight="normal" font-family="'DejaVu Sans', 'Liberation Sans', sans-serif">Sum of Grad</text>
<text x="1540.50" y="930.95" font-size="31.60" text-anchor="middle" font-weight="normal" font-family="'DejaVu Sans', 'Liberation Sans', sans-serif" transform="rotate(-90 1540.50 930.95)">TCR (mm²WK⁻¹)</text>
<text x="1516.00" y="765.40" font-size="36.30" text-anchor="start" font-weight="bold" font-family="'Liberation Sans', Arial, sans-serif">f)</text>
<rect x="154.26" y="2157.10" width="64.50" height="144.80" fill="#cb7869"/>
<text x="186.51" y="2150.05" font-size="29.70" text-anchor="middle" font-weight="normal" font-family="'DejaVu Sans', 'Liberation Sans', sans-serif">0.279</text>
<rect x="234.89" y="2131.82" width="64.50" height="170.08" fill="#cb7869"/>
<text x="267.14" y="2124.77" font-size="29.70" text-anchor="middle" font-weight="normal" font-family="'DejaVu Sans', 'Liberation Sans', sans-serif">0.281</text>
<rect x="315.51" y="2105.26" width="64.50" height="196.64" fill="#cb7869"/>
<text x="347.76" y="2098.21" font-size="29.70" text-anchor="middle" font-weight="normal" font-family="'DejaVu Sans', 'Liberation Sans', sans-serif">0.282</text>
<rect x="396.14" y="2064.78" width="64.50" height="237.12" fill="#cb7869"/>
<text x="428.39" y="2057.73" font-size="29.70" text-anchor="middle" font-weight="normal" font-family="'DejaVu Sans', 'Liberation Sans', sans-serif">0.285</text>
<rect x="169.50" y="1989.90" width="145.90" height="45.60" fill="#fff" stroke="#000" stroke-width="1.88" rx="8.46"/>
<text x="242.45" y="2023.04" font-size="29.70" text-anchor="middle" font-weight="normal" font-family="'DejaVu Sans', 'Liberation Sans', sans-serif">P=1 MPa</text>
<rect x="146.20" y="1981.90" width="322.50" height="320.00" fill="none" stroke="#000" stroke-width="1.88"/>
<line x1="139.62" y1="2301.90" x2="146.20" y2="2301.90" stroke="#000" stroke-width="1.88"/>
<text x="133.04" y="2313.19" font-size="29.70" text-anchor="end" font-weight="normal" font-family="'DejaVu Sans', 'Liberation Sans', sans-serif">0.270</text>
<line x1="139.62" y1="2221.90" x2="146.20" y2="2221.90" stroke="#000" stroke-width="1.88"/>
<text x="133.04" y="2233.19" font-size="29.70" text-anchor="end" font-weight="normal" font-family="'DejaVu Sans', 'Liberation Sans', sans-serif">0.275</text>
<line x1="139.62" y1="2141.90" x2="146.20" y2="2141.90" stroke="#000" stroke-width="1.88"/>
<text x="133.04" y="2153.19" font-size="29.70" text-anchor="end" font-weight="normal" font-family="'DejaVu Sans', 'Liberation Sans', sans-serif">0.280</text>
<line x1="139.62" y1="2061.90" x2="146.20" y2="2061.90" stroke="#000" stroke-width="1.88"/>
<text x="133.04" y="2073.19" font-size="29.70" text-anchor="end" font-weight="normal" font-family="'DejaVu Sans', 'Liberation Sans', sans-serif">0.285</text>
<line x1="139.62" y1="1981.90" x2="146.20" y2="1981.90" stroke="#000" stroke-width="1.88"/>
<text x="133.04" y="1993.19" font-size="29.70" text-anchor="end" font-weight="normal" font-family="'DejaVu Sans', 'Liberation Sans', sans-serif">0.290</text>
<line x1="186.51" y1="2301.90" x2="186.51" y2="2308.48" stroke="#000" stroke-width="1.88"/>
<text x="186.51" y="2339.40" font-size="29.70" text-anchor="middle" font-weight="normal" font-family="'DejaVu Sans', 'Liberation Sans', sans-serif">0</text>
<line x1="267.14" y1="2301.90" x2="267.14" y2="2308.48" stroke="#000" stroke-width="1.88"/>
<text x="267.14" y="2339.40" font-size="29.70" text-anchor="middle" font-weight="normal" font-family="'DejaVu Sans', 'Liberation Sans', sans-serif">90</text>
<line x1="347.76" y1="2301.90" x2="347.76" y2="2308.48" stroke="#000" stroke-width="1.88"/>
<text x="347.76" y="2339.40" font-size="29.70" text-anchor="middle" font-weight="normal" font-family="'DejaVu Sans', 'Liberation Sans', sans-serif">180</text>
<line x1="428.39" y1="2301.90" x2="428.39" y2="2308.48" stroke="#000" stroke-width="1.88"/>
<text x="428.39" y="2339.40" font-size="29.70" text-anchor="middle" font-weight="normal" font-family="'DejaVu Sans', 'Liberation Sans', sans-serif">270</text>
<text x="307.45" y="2373.00" font-size="29.70" text-anchor="middle" font-weight="normal" font-family="'DejaVu Sans', 'Liberation Sans', sans-serif">Angle (°)</text>
<text x="35.50" y="2141.90" font-size="29.70" text-anchor="middle" font-weight="normal" font-family="'DejaVu Sans', 'Liberation Sans', sans-serif" transform="rotate(-90 35.50 2141.90)">Area (‰)</text>
<text x="15.00" y="1996.00" font-size="36.30" text-anchor="start" font-weight="bold" font-family="'Liberation Sans', Arial, sans-serif">i)</text>
<rect x="612.76" y="2113.33" width="66.10" height="185.67" fill="#78a8be"/>
<text x="645.81" y="2106.28" font-size="29.70" text-anchor="middle" font-weight="normal" font-family="'DejaVu Sans', 'Liberation Sans', sans-serif">719.8</text>
<rect x="695.39" y="2107.71" width="66.10" height="191.29" fill="#78a8be"/>
<text x="728.44" y="2100.66" font-size="29.70" text-anchor="middle" font-weight="normal" font-family="'DejaVu Sans', 'Liberation Sans', sans-serif">720.4</text>
<rect x="778.01" y="2074.89" width="66.10" height="224.11" fill="#78a8be"/>
<text x="811.06" y="2067.84" font-size="29.70" text-anchor="middle" font-weight="normal" font-family="'DejaVu Sans', 'Liberation Sans', sans-serif">723.9</text>
<rect x="860.64" y="2022.37" width="66.10" height="276.63" fill="#78a8be"/>
<text x="893.69" y="2015.32" font-size="29.70" text-anchor="middle" font-weight="normal" font-family="'DejaVu Sans', 'Liberation Sans', sans-serif">729.5</text>
<rect x="628.10" y="1979.00" width="150.20" height="47.40" fill="#fff" stroke="#000" stroke-width="1.88" rx="8.46"/>
<text x="703.20" y="2013.04" font-size="29.70" text-anchor="middle" font-weight="normal" font-family="'DejaVu Sans', 'Liberation Sans', sans-serif">P=1 MPa</text>
<rect x="604.50" y="1970.80" width="330.50" height="328.20" fill="none" stroke="#000" stroke-width="1.88"/>
<line x1="597.92" y1="2299.00" x2="604.50" y2="2299.00" stroke="#000" stroke-width="1.88"/>
<text x="591.34" y="2310.29" font-size="29.70" text-anchor="end" font-weight="normal" font-family="'DejaVu Sans', 'Liberation Sans', sans-serif">700</text>
<line x1="597.92" y1="2205.23" x2="604.50" y2="2205.23" stroke="#000" stroke-width="1.88"/>
<text x="591.34" y="2216.52" font-size="29.70" text-anchor="end" font-weight="normal" font-family="'DejaVu Sans', 'Liberation Sans', sans-serif">710</text>
<line x1="597.92" y1="2111.46" x2="604.50" y2="2111.46" stroke="#000" stroke-width="1.88"/>
<text x="591.34" y="2122.74" font-size="29.70" text-anchor="end" font-weight="normal" font-family="'DejaVu Sans', 'Liberation Sans', sans-serif">720</text>
<line x1="597.92" y1="2017.69" x2="604.50" y2="2017.69" stroke="#000" stroke-width="1.88"/>
<text x="591.34" y="2028.97" font-size="29.70" text-anchor="end" font-weight="normal" font-family="'DejaVu Sans', 'Liberation Sans', sans-serif">730</text>
<line x1="645.81" y1="2299.00" x2="645.81" y2="2305.58" stroke="#000" stroke-width="1.88"/>
<text x="645.81" y="2336.50" font-size="29.70" text-anchor="middle" font-weight="normal" font-family="'DejaVu Sans', 'Liberation Sans', sans-serif">0</text>
<line x1="728.44" y1="2299.00" x2="728.44" y2="2305.58" stroke="#000" stroke-width="1.88"/>
<text x="728.44" y="2336.50" font-size="29.70" text-anchor="middle" font-weight="normal" font-family="'DejaVu Sans', 'Liberation Sans', sans-serif">90</text>
<line x1="811.06" y1="2299.00" x2="811.06" y2="2305.58" stroke="#000" stroke-width="1.88"/>
<text x="811.06" y="2336.50" font-size="29.70" text-anchor="middle" font-weight="normal" font-family="'DejaVu Sans', 'Liberation Sans', sans-serif">180</text>
<line x1="893.69" y1="2299.00" x2="893.69" y2="2305.58" stroke="#000" stroke-width="1.88"/>
<text x="893.69" y="2336.50" font-size="29.70" text-anchor="middle" font-weight="normal" font-family="'DejaVu Sans', 'Liberation Sans', sans-serif">270</text>
<text x="769.75" y="2373.00" font-size="29.70" text-anchor="middle" font-weight="normal" font-family="'DejaVu Sans', 'Liberation Sans', sans-serif">Angle (°)</text>
<text x="519.50" y="2134.90" font-size="29.70" text-anchor="middle" font-weight="normal" font-family="'DejaVu Sans', 'Liberation Sans', sans-serif" transform="rotate(-90 519.50 2134.90)">TCR (mm²WK⁻¹)</text>
<text x="496.00" y="1996.00" font-size="36.30" text-anchor="start" font-weight="bold" font-family="'Liberation Sans', Arial, sans-serif">j)</text>
<rect x="1271.70" y="1979.60" width="149.90" height="46.80" fill="#fff" stroke="#000" stroke-width="1.88" rx="8.46"/>
<text x="1346.65" y="2013.34" font-size="29.70" text-anchor="middle" font-weight="normal" font-family="'DejaVu Sans', 'Liberation Sans', sans-serif">P=1 MPa</text>
<path d="M1114.70 2203.30 L1237.60 1986.10 L1339.30 2284.20 L1414.80 2117.40" fill="none" stroke="#dc6c58" stroke-width="5.83" stroke-linejoin="round"/>
<circle cx="1114.70" cy="2203.30" r="9.02" fill="#f3ae90" stroke="#fff" stroke-width="1.88"/>
<circle cx="1237.60" cy="1986.10" r="9.02" fill="#f3ae90" stroke="#fff" stroke-width="1.88"/>
<circle cx="1339.30" cy="2284.20" r="9.02" fill="#f3ae90" stroke="#fff" stroke-width="1.88"/>
<circle cx="1414.80" cy="2117.40" r="9.02" fill="#f3ae90" stroke="#fff" stroke-width="1.88"/>
<rect x="1099.90" y="1971.30" width="330.30" height="328.30" fill="none" stroke="#000" stroke-width="1.88"/>
<line x1="1093.32" y1="2235.90" x2="1099.90" y2="2235.90" stroke="#000" stroke-width="1.88"/>
<text x="1086.74" y="2247.19" font-size="29.70" text-anchor="end" font-weight="normal" font-family="'DejaVu Sans', 'Liberation Sans', sans-serif">0.280</text>
<line x1="1093.32" y1="2131.75" x2="1099.90" y2="2131.75" stroke="#000" stroke-width="1.88"/>
<text x="1086.74" y="2143.04" font-size="29.70" text-anchor="end" font-weight="normal" font-family="'DejaVu Sans', 'Liberation Sans', sans-serif">0.282</text>
<line x1="1093.32" y1="2027.60" x2="1099.90" y2="2027.60" stroke="#000" stroke-width="1.88"/>
<text x="1086.74" y="2038.89" font-size="29.70" text-anchor="end" font-weight="normal" font-family="'DejaVu Sans', 'Liberation Sans', sans-serif">0.284</text>
<line x1="1193.20" y1="2299.60" x2="1193.20" y2="2306.18" stroke="#000" stroke-width="1.88"/>
<text x="1193.20" y="2337.10" font-size="29.70" text-anchor="middle" font-weight="normal" font-family="'DejaVu Sans', 'Liberation Sans', sans-serif">-0.0825</text>
<line x1="1403.60" y1="2299.60" x2="1403.60" y2="2306.18" stroke="#000" stroke-width="1.88"/>
<text x="1403.60" y="2337.10" font-size="29.70" text-anchor="middle" font-weight="normal" font-family="'DejaVu Sans', 'Liberation Sans', sans-serif">-0.0775</text>
<text x="1265.05" y="2372.50" font-size="29.70" text-anchor="middle" font-weight="normal" font-family="'DejaVu Sans', 'Liberation Sans', sans-serif">Sum of Grad</text>
<text x="986.50" y="2135.45" font-size="29.70" text-anchor="middle" font-weight="normal" font-family="'DejaVu Sans', 'Liberation Sans', sans-serif" transform="rotate(-90 986.50 2135.45)">Area (‰)</text>
<text x="964.00" y="1996.00" font-size="36.30" text-anchor="start" font-weight="bold" font-family="'Liberation Sans', Arial, sans-serif">k)</text>
<rect x="1665.20" y="2241.90" width="149.60" height="46.50" fill="#fff" stroke="#000" stroke-width="1.88" rx="8.46"/>
<text x="1740.00" y="2275.49" font-size="29.70" text-anchor="middle" font-weight="normal" font-family="'DejaVu Sans', 'Liberation Sans', sans-serif">P=1 MPa</text>
<path d="M1639.40 2267.00 L1762.40 1986.10 L1864.30 2284.20 L1939.90 2160.40" fill="none" stroke="#6cacca" stroke-width="5.83" stroke-linejoin="round"/>
<circle cx="1639.40" cy="2267.00" r="9.02" fill="#a3d7e6" stroke="#fff" stroke-width="1.88"/>
<circle cx="1762.40" cy="1986.10" r="9.02" fill="#a3d7e6" stroke="#fff" stroke-width="1.88"/>
<circle cx="1864.30" cy="2284.20" r="9.02" fill="#a3d7e6" stroke="#fff" stroke-width="1.88"/>
<circle cx="1939.90" cy="2160.40" r="9.02" fill="#a3d7e6" stroke="#fff" stroke-width="1.88"/>
<rect x="1624.60" y="1970.70" width="331.00" height="328.90" fill="none" stroke="#000" stroke-width="1.88"/>
<line x1="1618.02" y1="2279.50" x2="1624.60" y2="2279.50" stroke="#000" stroke-width="1.88"/>
<text x="1611.44" y="2290.79" font-size="29.70" text-anchor="end" font-weight="normal" font-family="'DejaVu Sans', 'Liberation Sans', sans-serif">720.0</text>
<line x1="1618.02" y1="2202.07" x2="1624.60" y2="2202.07" stroke="#000" stroke-width="1.88"/>
<text x="1611.44" y="2213.36" font-size="29.70" text-anchor="end" font-weight="normal" font-family="'DejaVu Sans', 'Liberation Sans', sans-serif">722.5</text>
<line x1="1618.02" y1="2124.64" x2="1624.60" y2="2124.64" stroke="#000" stroke-width="1.88"/>
<text x="1611.44" y="2135.93" font-size="29.70" text-anchor="end" font-weight="normal" font-family="'DejaVu Sans', 'Liberation Sans', sans-serif">725.0</text>
<line x1="1618.02" y1="2047.21" x2="1624.60" y2="2047.21" stroke="#000" stroke-width="1.88"/>
<text x="1611.44" y="2058.50" font-size="29.70" text-anchor="end" font-weight="normal" font-family="'DejaVu Sans', 'Liberation Sans', sans-serif">727.5</text>
<line x1="1717.60" y1="2299.60" x2="1717.60" y2="2306.18" stroke="#000" stroke-width="1.88"/>
<text x="1717.60" y="2337.10" font-size="29.70" text-anchor="middle" font-weight="normal" font-family="'DejaVu Sans', 'Liberation Sans', sans-serif">-0.0825</text>
<line x1="1928.00" y1="2299.60" x2="1928.00" y2="2306.18" stroke="#000" stroke-width="1.88"/>
<text x="1928.00" y="2337.10" font-size="29.70" text-anchor="middle" font-weight="normal" font-family="'DejaVu Sans', 'Liberation Sans', sans-serif">-0.0775</text>
<text x="1790.10" y="2372.50" font-size="29.70" text-anchor="middle" font-weight="normal" font-family="'DejaVu Sans', 'Liberation Sans', sans-serif">Sum of Grad</text>
<text x="1512.50" y="2135.15" font-size="29.70" text-anchor="middle" font-weight="normal" font-family="'DejaVu Sans', 'Liberation Sans', sans-serif" transform="rotate(-90 1512.50 2135.15)">TCR (mm²WK⁻¹)</text>
<text x="1494.00" y="1996.00" font-size="36.30" text-anchor="start" font-weight="bold" font-family="'Liberation Sans', Arial, sans-serif">l)</text>
</svg>
</body></html>
